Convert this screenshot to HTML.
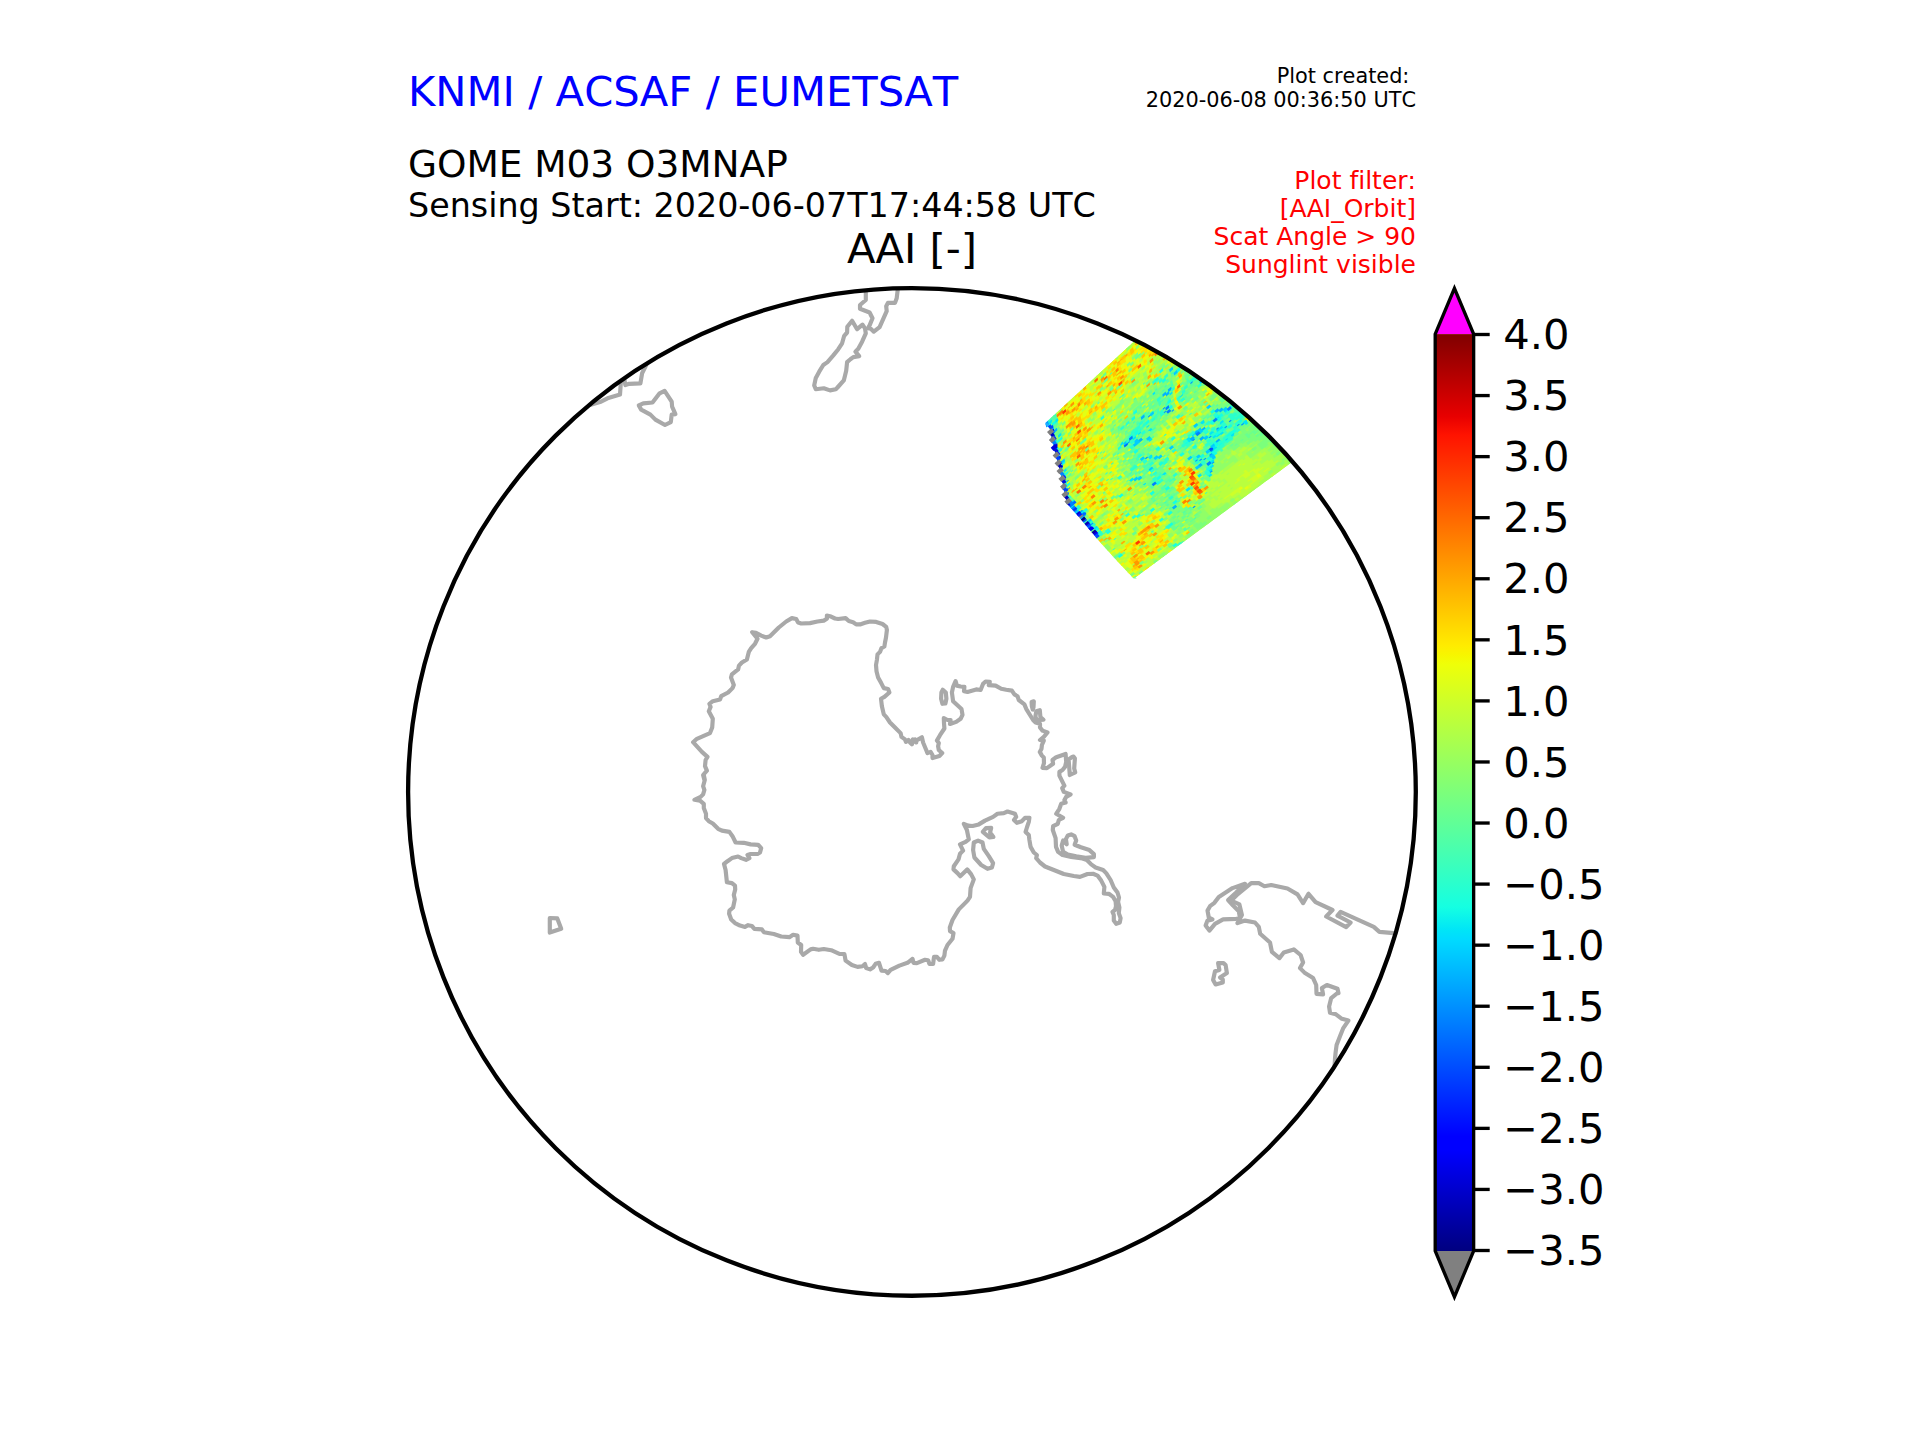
<!DOCTYPE html>
<html lang="en"><head><meta charset="utf-8"><title>AAI plot</title>
<style>
html,body{margin:0;padding:0;background:#fff;}
body{width:1920px;height:1440px;overflow:hidden;}
svg{display:block;}
text{font-family:"DejaVu Sans","Liberation Sans",sans-serif;font-kerning:none;font-variant-ligatures:none;}
</style></head><body>
<svg width="1920" height="1440" viewBox="0 0 1920 1440">
<defs>
<linearGradient id="jet" x1="0" y1="0" x2="0" y2="1"><stop offset="0.0000" stop-color="#800000"/><stop offset="0.0900" stop-color="#e80000"/><stop offset="0.1100" stop-color="#ff1300"/><stop offset="0.3400" stop-color="#ffec00"/><stop offset="0.3500" stop-color="#f7f600"/><stop offset="0.3600" stop-color="#efff08"/><stop offset="0.6250" stop-color="#15ffe2"/><stop offset="0.6500" stop-color="#00e5f7"/><stop offset="0.6600" stop-color="#00dbff"/><stop offset="0.8750" stop-color="#0000ff"/><stop offset="0.8900" stop-color="#0000ff"/><stop offset="1.0000" stop-color="#000080"/></linearGradient>
<clipPath id="disc"><circle cx="911.95" cy="791.9" r="503.85"/></clipPath>
</defs>
<rect width="1920" height="1440" fill="#fff"/>
<g clip-path="url(#disc)">
<g>
<path fill="#a6ff52" d="M1051.0 417.9L1233.7 249.8L1339.8 426.7L1133.7 578.6L1136.7 578.6L1127.0 568.3L1117.3 557.9L1107.7 547.3L1098.3 536.7L1089.2 525.8L1080.0 515.0L1070.5 504.4L1064.3 492.3L1061.6 478.3L1058.2 464.6L1054.7 450.8L1051.4 437.0L1048.3 423.1Z"/>
<path fill="#0099ff" d="M1045.3 423.1l3.3-3.0l0.6 2.5l-3.3 3.0zM1045.7 424.9l3.3-3.0l0.6 2.5l-3.3 3.0zM1060.1 471.0l3.3-2.9l0.6 2.5l-3.4 2.9zM1186.3 369.1l3.4-2.9l0.7 2.7l-3.4 2.9zM1065.7 481.2l3.4-2.9l0.5 2.6l-3.4 2.9zM1147.2 416.3l3.4-2.9l0.6 2.7l-3.4 2.9zM1189.5 382.8l3.4-2.9l0.6 2.7l-3.4 2.9zM1067.0 488.5l3.4-2.9l0.5 2.6l-3.4 2.9zM1162.0 408.3l3.4-2.9l0.6 2.7l-3.4 2.9zM1126.5 442.8l3.4-2.8l0.8 2.5l-3.4 2.8zM1162.9 412.2l3.4-2.8l0.9 2.6l-3.4 2.8zM1170.2 410.9l3.4-2.8l1.9 2.1l-3.4 2.8zM1073.5 511.1l3.4-2.8l1.7 1.9l-3.4 2.8zM1078.8 511.5l3.4-2.8l1.7 1.9l-3.4 2.8zM1143.9 458.2l3.4-2.8l1.8 2.0l-3.4 2.8zM1082.5 515.7l3.4-2.8l1.7 2.0l-3.4 2.8zM1191.0 440.2l3.4-2.8l1.8 2.1l-3.5 2.8zM1089.6 524.2l3.5-2.8l1.7 2.0l-3.5 2.8zM1214.8 428.9l3.5-2.8l1.8 2.2l-3.5 2.8zM1207.5 437.2l3.5-2.8l1.8 2.2l-3.5 2.8zM1227.5 421.3l3.5-2.8l1.8 2.2l-3.5 2.8zM1223.1 427.4l3.5-2.8l1.8 2.2l-3.5 2.7zM1235.6 425.3l3.5-2.7l1.8 2.2l-3.5 2.7zM1193.9 460.8l3.5-2.7l1.8 2.1l-3.5 2.7zM1239.8 424.6l3.5-2.7l1.8 2.2l-3.5 2.7zM1198.0 460.1l3.5-2.7l1.8 2.1l-3.5 2.7zM1209.5 451.0l3.5-2.7l1.9 2.1l-3.5 2.7zM1202.2 459.3l3.5-2.7l1.9 2.1l-3.5 2.7zM1207.9 454.8l3.5-2.7l1.9 2.1l-3.5 2.7zM1210.4 463.0l3.5-2.7l1.9 2.1l-3.5 2.7zM1208.6 471.9l3.5-2.7l1.9 2.1l-3.5 2.7zM1191.4 507.3l3.5-2.7l1.9 2.0l-3.5 2.7z"/>
<path fill="#3effb9" d="M1048.0 420.6l3.3-3.0l0.6 2.5l-3.3 3.0zM1053.4 415.7l3.3-3.0l0.6 2.5l-3.3 3.0zM1048.8 424.2l3.3-3.0l0.6 2.5l-3.3 3.0zM1054.2 419.3l3.3-3.0l0.6 2.5l-3.3 3.0zM1100.1 377.3l3.3-3.0l0.6 2.6l-3.3 3.0zM1137.6 354.7l3.3-3.0l0.7 2.7l-3.3 3.0zM1057.9 448.8l3.3-2.9l0.6 2.5l-3.3 2.9zM1121.4 394.9l3.3-2.9l0.7 2.6l-3.3 2.9zM1111.9 410.1l3.3-2.9l0.7 2.6l-3.3 2.9zM1132.7 398.9l3.3-2.9l0.7 2.6l-3.3 2.9zM1100.6 431.4l3.3-2.9l0.7 2.6l-3.3 2.9zM1170.2 373.4l3.3-2.9l0.8 2.7l-3.3 2.9zM1154.2 389.6l3.3-2.9l0.8 2.7l-3.4 2.9zM1165.2 380.1l3.3-2.9l0.8 2.7l-3.4 2.9zM1163.6 386.3l3.4-2.9l0.8 2.7l-3.4 2.9zM1183.0 369.5l3.4-2.9l0.8 2.7l-3.4 2.9zM1185.7 367.2l3.4-2.9l0.8 2.7l-3.4 2.9zM1161.4 390.5l3.4-2.9l0.7 2.7l-3.4 2.9zM1183.5 371.5l3.4-2.9l0.7 2.7l-3.4 2.9zM1170.2 385.3l3.4-2.9l0.6 2.7l-3.4 2.9zM1132.1 422.4l3.4-2.9l0.6 2.7l-3.4 2.9zM1143.2 412.9l3.4-2.9l0.6 2.7l-3.4 2.9zM1157.1 401.1l3.4-2.9l0.6 2.7l-3.4 2.9zM1187.7 374.9l3.4-2.9l0.6 2.7l-3.4 2.9zM1146.4 412.5l3.4-2.9l0.6 2.7l-3.4 2.9zM1157.6 403.0l3.4-2.9l0.6 2.7l-3.4 2.9zM1160.3 400.6l3.4-2.9l0.6 2.7l-3.4 2.9zM1135.7 423.9l3.4-2.9l0.6 2.7l-3.4 2.9zM1149.6 412.0l3.4-2.9l0.6 2.7l-3.4 2.9zM1158.0 404.9l3.4-2.9l0.6 2.7l-3.4 2.9zM1185.8 381.2l3.4-2.9l0.6 2.7l-3.4 2.9zM1130.5 430.5l3.4-2.9l0.6 2.7l-3.4 2.9zM1141.7 421.0l3.4-2.9l0.6 2.7l-3.4 2.9zM1152.8 411.6l3.4-2.9l0.6 2.7l-3.4 2.9zM1166.8 399.7l3.4-2.9l0.6 2.7l-3.4 2.9zM1150.5 415.8l3.4-2.9l0.6 2.7l-3.4 2.9zM1156.0 411.1l3.4-2.9l0.6 2.7l-3.4 2.9zM1164.4 404.0l3.4-2.9l0.6 2.7l-3.4 2.9zM1192.3 380.4l3.4-2.9l0.6 2.7l-3.4 2.9zM1200.7 373.3l3.4-2.9l0.7 2.8l-3.4 2.9zM1125.7 439.0l3.4-2.9l0.6 2.6l-3.4 2.9zM1131.3 434.3l3.4-2.9l0.6 2.7l-3.4 2.9zM1136.9 429.5l3.4-2.9l0.6 2.7l-3.4 2.9zM1139.7 427.2l3.4-2.9l0.6 2.7l-3.4 2.9zM1153.7 415.4l3.4-2.9l0.6 2.7l-3.4 2.9zM1156.5 413.0l3.4-2.9l0.6 2.7l-3.4 2.9zM1159.2 410.7l3.4-2.9l0.6 2.7l-3.4 2.9zM1164.8 405.9l3.4-2.9l0.6 2.7l-3.4 2.9zM1201.2 375.3l3.4-2.9l0.7 2.8l-3.4 2.9zM1140.1 429.1l3.4-2.9l0.6 2.7l-3.4 2.8zM1154.1 417.3l3.4-2.9l0.6 2.7l-3.4 2.8zM1198.8 379.6l3.4-2.9l0.6 2.8l-3.4 2.8zM1129.3 440.4l3.4-2.8l0.8 2.5l-3.4 2.8zM1176.9 400.4l3.4-2.8l0.9 2.6l-3.4 2.8zM1204.9 376.9l3.4-2.8l0.9 2.6l-3.4 2.8zM1115.7 454.0l3.4-2.8l1.7 2.1l-3.4 2.8zM1135.3 437.6l3.4-2.8l1.7 2.1l-3.4 2.8zM1128.1 446.1l3.4-2.8l1.8 2.0l-3.4 2.8zM1139.3 436.7l3.4-2.8l1.8 2.0l-3.4 2.8zM1109.7 464.0l3.4-2.8l1.8 2.0l-3.4 2.8zM1149.0 431.2l3.4-2.8l1.8 2.1l-3.4 2.8zM1151.9 428.8l3.4-2.8l1.8 2.1l-3.4 2.8zM1209.4 383.4l3.4-2.8l1.9 2.1l-3.4 2.8zM1103.9 473.8l3.4-2.8l1.8 2.0l-3.4 2.8zM1129.2 452.8l3.4-2.8l1.8 2.0l-3.4 2.8zM1108.0 472.9l3.4-2.8l1.8 2.0l-3.4 2.8zM1136.1 449.6l3.4-2.8l1.8 2.0l-3.4 2.8zM1150.2 437.9l3.4-2.8l1.8 2.0l-3.4 2.8zM1179.6 416.0l3.4-2.8l1.9 2.1l-3.4 2.8zM1109.0 479.5l3.4-2.8l1.8 2.0l-3.4 2.8zM1134.3 458.5l3.4-2.8l1.8 2.0l-3.4 2.8zM1162.6 435.3l3.4-2.8l1.8 2.1l-3.4 2.8zM1135.6 460.0l3.4-2.8l1.8 2.0l-3.4 2.8zM1131.3 466.1l3.4-2.8l1.8 2.0l-3.4 2.8zM1138.2 462.9l3.4-2.8l1.8 2.0l-3.4 2.8zM1141.1 460.5l3.4-2.8l1.8 2.0l-3.4 2.8zM1128.2 473.5l3.4-2.8l1.8 2.0l-3.4 2.8zM1156.5 450.4l3.4-2.8l1.8 2.1l-3.4 2.8zM1133.5 474.1l3.4-2.8l1.7 2.1l-3.4 2.8zM1142.0 467.2l3.4-2.8l1.7 2.1l-3.4 2.8zM1144.9 464.9l3.4-2.8l1.7 2.1l-3.4 2.8zM1137.6 473.3l3.4-2.8l1.7 2.1l-3.4 2.8zM1140.4 471.0l3.4-2.8l1.7 2.1l-3.4 2.8zM1154.6 459.5l3.4-2.8l1.8 2.1l-3.4 2.8zM1208.6 415.7l3.4-2.8l1.8 2.2l-3.4 2.8zM1136.0 477.1l3.4-2.8l1.7 2.1l-3.4 2.8zM1147.4 467.9l3.4-2.8l1.7 2.1l-3.4 2.8zM1161.6 456.4l3.4-2.8l1.8 2.1l-3.4 2.8zM1083.2 522.2l3.4-2.8l1.7 2.0l-3.4 2.8zM1145.8 471.7l3.4-2.8l1.7 2.1l-3.4 2.8zM1202.7 425.7l3.4-2.8l1.8 2.2l-3.4 2.8zM1208.3 421.1l3.4-2.8l1.8 2.2l-3.4 2.8zM1231.1 402.7l3.4-2.8l1.8 2.2l-3.4 2.8zM1161.2 461.7l3.4-2.8l1.8 2.1l-3.4 2.8zM1178.3 447.9l3.4-2.8l1.8 2.1l-3.4 2.8zM1232.4 404.3l3.4-2.8l1.8 2.2l-3.4 2.8zM1148.2 474.6l3.4-2.8l1.7 2.1l-3.5 2.8zM1153.9 470.1l3.4-2.8l1.7 2.1l-3.5 2.8zM1165.3 460.9l3.4-2.8l1.8 2.1l-3.5 2.8zM1193.8 438.0l3.4-2.8l1.8 2.2l-3.5 2.8zM1210.9 424.2l3.4-2.8l1.8 2.2l-3.5 2.8zM1219.5 417.3l3.4-2.8l1.8 2.2l-3.5 2.8zM1222.3 415.0l3.4-2.8l1.8 2.2l-3.5 2.8zM1228.0 410.4l3.4-2.8l1.8 2.2l-3.5 2.8zM1149.5 476.1l3.5-2.8l1.7 2.1l-3.5 2.8zM1183.7 448.6l3.5-2.8l1.8 2.1l-3.5 2.8zM1186.6 446.4l3.5-2.8l1.8 2.1l-3.5 2.8zM1189.4 444.1l3.5-2.8l1.8 2.1l-3.5 2.8zM1202.1 436.5l3.5-2.8l1.8 2.2l-3.5 2.8zM1207.8 431.9l3.5-2.8l1.8 2.2l-3.5 2.8zM1216.4 425.0l3.5-2.8l1.8 2.2l-3.5 2.8zM1224.9 418.2l3.5-2.8l1.8 2.2l-3.5 2.8zM1230.6 413.6l3.5-2.8l1.8 2.2l-3.5 2.8zM1236.4 409.0l3.5-2.8l1.8 2.2l-3.5 2.8zM1157.7 474.5l3.5-2.8l1.7 2.1l-3.5 2.8zM1206.2 435.7l3.5-2.8l1.8 2.2l-3.5 2.8zM1234.8 412.9l3.5-2.8l1.8 2.2l-3.5 2.8zM1240.5 408.3l3.5-2.8l1.8 2.2l-3.5 2.8zM1153.2 480.6l3.5-2.8l1.7 2.1l-3.5 2.8zM1158.9 476.0l3.5-2.8l1.7 2.1l-3.5 2.8zM1213.2 432.7l3.5-2.8l1.8 2.2l-3.5 2.8zM1233.3 416.7l3.5-2.8l1.8 2.2l-3.5 2.8zM1236.1 414.4l3.5-2.8l1.8 2.2l-3.5 2.8zM1154.4 482.1l3.5-2.8l1.7 2.1l-3.5 2.7zM1228.8 422.9l3.5-2.8l1.8 2.2l-3.5 2.7zM1243.2 411.5l3.5-2.8l1.8 2.2l-3.5 2.7zM1190.1 456.3l3.5-2.8l1.8 2.1l-3.5 2.7zM1207.2 442.6l3.5-2.8l1.8 2.2l-3.5 2.7zM1210.1 440.3l3.5-2.8l1.8 2.2l-3.5 2.7zM1213.0 438.1l3.5-2.8l1.8 2.2l-3.5 2.7zM1221.6 431.2l3.5-2.8l1.8 2.2l-3.5 2.7zM1224.4 429.0l3.5-2.8l1.8 2.2l-3.5 2.7zM1230.2 424.4l3.5-2.8l1.8 2.2l-3.5 2.7zM1244.5 413.0l3.5-2.8l1.8 2.2l-3.5 2.7zM1191.3 457.8l3.5-2.7l1.8 2.1l-3.5 2.7zM1211.4 441.9l3.5-2.7l1.8 2.2l-3.5 2.7zM1222.9 432.8l3.5-2.7l1.8 2.2l-3.5 2.7zM1248.7 412.4l3.5-2.7l1.8 2.2l-3.5 2.7zM1204.1 450.2l3.5-2.7l1.8 2.2l-3.5 2.7zM1238.5 423.0l3.5-2.7l1.8 2.2l-3.5 2.7zM1099.1 535.6l3.5-2.7l1.7 2.0l-3.5 2.7zM1102.0 533.3l3.5-2.7l1.7 2.0l-3.5 2.7zM1162.3 485.7l3.5-2.7l1.7 2.1l-3.5 2.7zM1168.0 481.2l3.5-2.7l1.8 2.1l-3.5 2.7zM1170.9 478.9l3.5-2.7l1.8 2.1l-3.5 2.7zM1219.7 440.4l3.5-2.7l1.8 2.2l-3.5 2.7zM1234.1 429.1l3.5-2.7l1.8 2.2l-3.5 2.7zM1203.7 455.6l3.5-2.7l1.8 2.1l-3.5 2.7zM1206.6 453.3l3.5-2.7l1.9 2.1l-3.5 2.7zM1215.2 446.5l3.5-2.7l1.9 2.1l-3.5 2.7zM1232.5 432.9l3.5-2.7l1.9 2.1l-3.5 2.7zM1199.3 461.6l3.5-2.7l1.9 2.1l-3.5 2.7zM1222.3 443.5l3.5-2.7l1.9 2.1l-3.5 2.7zM1217.9 449.5l3.5-2.7l1.9 2.1l-3.5 2.7zM1220.8 447.3l3.5-2.7l1.9 2.1l-3.5 2.7zM1202.0 464.5l3.5-2.7l1.9 2.1l-3.5 2.7zM1219.2 451.0l3.5-2.7l1.9 2.1l-3.5 2.7zM1139.8 515.5l3.5-2.7l1.8 2.0l-3.5 2.7zM1211.9 459.3l3.5-2.7l1.9 2.1l-3.5 2.7zM1112.2 539.3l3.5-2.7l1.8 1.9l-3.5 2.7zM1204.6 467.5l3.5-2.7l1.9 2.1l-3.5 2.7zM1162.6 502.6l3.5-2.7l1.8 2.0l-3.5 2.7zM1203.0 471.2l3.5-2.7l1.9 2.1l-3.5 2.7zM1201.5 474.9l3.5-2.7l1.9 2.1l-3.5 2.7zM1111.4 549.3l3.5-2.7l1.7 1.9l-3.5 2.7zM1167.8 508.3l3.5-2.7l1.8 2.0l-3.5 2.7zM1176.5 501.6l3.5-2.7l1.8 2.0l-3.5 2.7zM1149.6 531.8l3.5-2.7l1.8 2.0l-3.5 2.7zM1187.1 508.1l3.5-2.7l1.9 2.0l-3.5 2.7zM1166.4 528.5l3.5-2.7l1.8 2.0l-3.5 2.7zM1192.2 518.8l3.5-2.7l1.9 2.0l-3.5 2.6zM1179.5 542.5l3.6-2.6l1.3 1.4l-3.6 2.6z"/>
<path fill="#52ffa5" d="M1050.7 418.1l3.3-3.0l0.6 2.5l-3.3 3.0zM1051.1 420.0l3.3-3.0l0.6 2.5l-3.3 3.0zM1053.8 417.5l3.3-3.0l0.6 2.5l-3.3 3.0zM1052.3 425.4l3.3-3.0l0.6 2.5l-3.3 3.0zM1055.0 422.9l3.3-3.0l0.6 2.5l-3.3 3.0zM1109.1 373.6l3.3-3.0l0.7 2.6l-3.3 3.0zM1055.4 424.7l3.3-3.0l0.6 2.5l-3.3 3.0zM1053.1 429.0l3.3-3.0l0.6 2.5l-3.3 3.0zM1056.2 428.4l3.3-3.0l0.6 2.5l-3.3 3.0zM1057.5 433.8l3.3-3.0l0.6 2.5l-3.3 3.0zM1096.5 403.2l3.3-3.0l0.7 2.6l-3.3 2.9zM1061.1 448.2l3.3-2.9l0.6 2.5l-3.3 2.9zM1118.6 397.3l3.3-2.9l0.7 2.6l-3.3 2.9zM1067.5 447.0l3.3-2.9l0.7 2.5l-3.3 2.9zM1142.1 383.6l3.3-2.9l0.8 2.6l-3.3 2.9zM1110.2 416.3l3.3-2.9l0.7 2.6l-3.3 2.9zM1158.1 379.1l3.3-2.9l0.8 2.7l-3.3 2.9zM1059.7 469.2l3.3-2.9l0.6 2.5l-3.3 2.9zM1175.7 368.6l3.3-2.9l0.8 2.7l-3.3 2.9zM1112.7 425.5l3.3-2.9l0.7 2.6l-3.4 2.9zM1165.8 382.0l3.3-2.9l0.8 2.7l-3.4 2.9zM1185.2 365.2l3.3-2.9l0.8 2.7l-3.4 2.9zM1116.5 426.8l3.4-2.9l0.7 2.6l-3.4 2.9zM1138.6 407.7l3.4-2.9l0.7 2.6l-3.4 2.9zM1169.1 381.5l3.4-2.9l0.8 2.7l-3.4 2.9zM1117.0 428.7l3.4-2.9l0.6 2.6l-3.4 2.9zM1169.7 383.4l3.4-2.9l0.7 2.7l-3.4 2.9zM1070.2 471.0l3.4-2.9l0.5 2.6l-3.4 2.9zM1123.0 425.8l3.4-2.9l0.6 2.6l-3.4 2.9zM1136.8 413.9l3.4-2.9l0.6 2.7l-3.4 2.9zM1145.2 406.7l3.4-2.9l0.6 2.7l-3.4 2.9zM1186.8 371.0l3.4-2.9l0.6 2.7l-3.4 2.9zM1189.6 368.6l3.4-2.9l0.6 2.7l-3.4 2.9zM1159.5 396.8l3.4-2.9l0.6 2.7l-3.4 2.9zM1165.0 392.0l3.4-2.9l0.6 2.7l-3.4 2.9zM1190.0 370.6l3.4-2.9l0.6 2.7l-3.4 2.9zM1095.9 453.3l3.4-2.9l0.5 2.6l-3.4 2.9zM1137.7 417.7l3.4-2.9l0.6 2.7l-3.4 2.9zM1140.4 415.3l3.4-2.9l0.6 2.7l-3.4 2.9zM1151.6 405.8l3.4-2.9l0.6 2.7l-3.4 2.9zM1099.1 452.8l3.4-2.9l0.5 2.6l-3.4 2.9zM1124.1 431.4l3.4-2.9l0.6 2.6l-3.4 2.9zM1135.3 422.0l3.4-2.9l0.6 2.7l-3.4 2.9zM1143.6 414.8l3.4-2.9l0.6 2.7l-3.4 2.9zM1163.1 398.2l3.4-2.9l0.6 2.7l-3.4 2.9zM1185.4 379.3l3.4-2.9l0.6 2.7l-3.4 2.9zM1102.2 452.3l3.4-2.9l0.5 2.6l-3.4 2.9zM1138.5 421.5l3.4-2.9l0.6 2.7l-3.4 2.9zM1141.3 419.1l3.4-2.9l0.6 2.7l-3.4 2.9zM1144.0 416.7l3.4-2.9l0.6 2.7l-3.4 2.9zM1146.8 414.4l3.4-2.9l0.6 2.7l-3.4 2.9zM1166.3 397.8l3.4-2.9l0.6 2.7l-3.4 2.9zM1194.2 374.1l3.4-2.9l0.6 2.8l-3.4 2.9zM1133.3 428.1l3.4-2.9l0.6 2.7l-3.4 2.9zM1136.1 425.8l3.4-2.9l0.6 2.7l-3.4 2.9zM1144.5 418.7l3.4-2.9l0.6 2.7l-3.4 2.9zM1155.6 409.2l3.4-2.9l0.6 2.7l-3.4 2.9zM1183.5 385.5l3.4-2.9l0.6 2.7l-3.4 2.9zM1186.3 383.2l3.4-2.9l0.6 2.7l-3.4 2.9zM1100.2 458.4l3.4-2.9l0.5 2.6l-3.4 2.9zM1122.5 439.5l3.4-2.9l0.6 2.6l-3.4 2.9zM1128.1 434.7l3.4-2.9l0.6 2.6l-3.4 2.9zM1142.1 422.9l3.4-2.9l0.6 2.7l-3.4 2.9zM1181.2 389.8l3.4-2.9l0.6 2.7l-3.4 2.9zM1148.1 420.1l3.4-2.9l0.6 2.7l-3.4 2.9zM1150.9 417.7l3.4-2.9l0.6 2.7l-3.4 2.9zM1190.0 384.7l3.4-2.9l0.6 2.7l-3.4 2.9zM1142.9 426.7l3.4-2.9l0.6 2.7l-3.4 2.8zM1148.5 422.0l3.4-2.9l0.6 2.7l-3.4 2.8zM1156.9 414.9l3.4-2.9l0.6 2.7l-3.4 2.8zM1168.1 405.5l3.4-2.9l0.6 2.7l-3.4 2.8zM1182.0 393.7l3.4-2.9l0.6 2.7l-3.4 2.8zM1154.5 419.2l3.4-2.8l0.9 2.6l-3.4 2.8zM1185.3 393.3l3.4-2.8l0.9 2.6l-3.4 2.8zM1193.7 386.3l3.4-2.8l0.9 2.6l-3.4 2.8zM1065.3 496.4l3.4-2.8l1.6 2.0l-3.4 2.8zM1124.1 447.0l3.4-2.8l1.7 2.1l-3.4 2.8zM1132.5 439.9l3.4-2.8l1.7 2.1l-3.4 2.8zM1157.7 418.8l3.4-2.8l1.8 2.1l-3.4 2.8zM1177.3 402.3l3.4-2.8l1.8 2.1l-3.4 2.8zM1182.9 397.6l3.4-2.8l1.8 2.2l-3.4 2.8zM1205.4 378.8l3.4-2.8l1.8 2.2l-3.4 2.8zM1130.9 443.8l3.4-2.8l1.8 2.0l-3.4 2.8zM1144.9 432.0l3.4-2.8l1.8 2.0l-3.4 2.8zM1164.6 415.6l3.4-2.8l1.9 2.1l-3.4 2.8zM1192.6 392.1l3.4-2.8l1.9 2.1l-3.4 2.8zM1201.0 385.1l3.4-2.8l1.9 2.1l-3.4 2.8zM1203.8 382.7l3.4-2.8l1.9 2.1l-3.4 2.8zM1115.4 459.3l3.4-2.8l1.8 2.0l-3.4 2.8zM1188.3 398.3l3.4-2.8l1.9 2.1l-3.4 2.8zM1127.9 451.4l3.4-2.8l1.8 2.0l-3.4 2.8zM1130.7 449.0l3.4-2.8l1.8 2.0l-3.4 2.8zM1136.3 444.3l3.4-2.8l1.8 2.0l-3.4 2.8zM1132.0 450.5l3.4-2.8l1.8 2.0l-3.4 2.8zM1140.4 443.4l3.4-2.8l1.8 2.0l-3.4 2.8zM1143.2 441.1l3.4-2.8l1.8 2.0l-3.4 2.8zM1126.1 460.3l3.4-2.8l1.8 2.0l-3.4 2.8zM1131.8 455.7l3.4-2.8l1.8 2.0l-3.4 2.8zM1104.9 480.4l3.4-2.8l1.8 2.0l-3.4 2.8zM1130.2 459.4l3.4-2.8l1.8 2.0l-3.4 2.8zM1135.9 454.8l3.4-2.8l1.8 2.0l-3.4 2.8zM1128.7 463.2l3.4-2.8l1.8 2.0l-3.4 2.8zM1140.0 453.9l3.4-2.8l1.8 2.0l-3.4 2.8zM1145.6 449.2l3.4-2.8l1.8 2.0l-3.4 2.8zM1188.0 414.3l3.4-2.8l1.9 2.1l-3.4 2.8zM1132.8 462.3l3.4-2.8l1.8 2.0l-3.4 2.8zM1141.3 455.3l3.4-2.8l1.8 2.0l-3.4 2.8zM1128.5 468.4l3.4-2.8l1.8 2.0l-3.4 2.8zM1145.4 454.5l3.4-2.8l1.8 2.0l-3.4 2.8zM1101.4 493.0l3.4-2.8l1.8 2.0l-3.4 2.8zM1146.7 455.9l3.4-2.8l1.8 2.0l-3.4 2.8zM1136.7 466.6l3.4-2.8l1.8 2.0l-3.4 2.8zM1159.3 448.1l3.4-2.8l1.8 2.1l-3.4 2.8zM1140.8 465.7l3.4-2.8l1.7 2.1l-3.4 2.8zM1146.5 461.1l3.4-2.8l1.7 2.1l-3.4 2.8zM1149.3 458.8l3.4-2.8l1.8 2.1l-3.4 2.8zM1214.5 405.6l3.4-2.8l1.8 2.2l-3.4 2.8zM1125.0 481.1l3.4-2.8l1.7 2.1l-3.4 2.8zM1136.4 471.8l3.4-2.8l1.7 2.1l-3.4 2.8zM1147.7 462.6l3.4-2.8l1.7 2.1l-3.4 2.8zM1150.6 460.3l3.4-2.8l1.8 2.1l-3.4 2.8zM1181.8 434.9l3.4-2.8l1.8 2.1l-3.4 2.8zM1195.9 423.4l3.4-2.8l1.8 2.2l-3.4 2.8zM1201.6 418.8l3.4-2.8l1.8 2.2l-3.4 2.8zM1143.3 468.7l3.4-2.8l1.7 2.1l-3.4 2.8zM1146.1 466.4l3.4-2.8l1.7 2.1l-3.4 2.8zM1197.2 424.9l3.4-2.8l1.8 2.2l-3.4 2.8zM1205.8 418.0l3.4-2.8l1.8 2.2l-3.4 2.8zM1144.5 470.2l3.4-2.8l1.7 2.1l-3.4 2.8zM1181.5 440.3l3.4-2.8l1.8 2.1l-3.4 2.8zM1192.8 431.1l3.4-2.8l1.8 2.2l-3.4 2.8zM1201.4 424.2l3.4-2.8l1.8 2.2l-3.4 2.8zM1215.6 412.6l3.4-2.8l1.8 2.2l-3.4 2.8zM1221.3 408.0l3.4-2.8l1.8 2.2l-3.4 2.8zM1086.0 519.9l3.4-2.8l1.7 2.0l-3.4 2.8zM1140.1 476.3l3.4-2.8l1.7 2.1l-3.4 2.8zM1142.9 474.0l3.4-2.8l1.7 2.1l-3.4 2.8zM1157.1 462.5l3.4-2.8l1.8 2.1l-3.4 2.8zM1165.7 455.6l3.4-2.8l1.8 2.1l-3.4 2.8zM1179.9 444.1l3.4-2.8l1.8 2.1l-3.4 2.8zM1216.9 414.2l3.4-2.8l1.8 2.2l-3.4 2.8zM1219.7 411.9l3.4-2.8l1.8 2.2l-3.4 2.8zM1228.3 405.0l3.4-2.8l1.8 2.2l-3.4 2.8zM1152.7 468.6l3.4-2.8l1.7 2.1l-3.4 2.8zM1206.8 424.9l3.4-2.8l1.8 2.2l-3.4 2.8zM1221.0 413.5l3.4-2.8l1.8 2.2l-3.4 2.8zM1235.3 402.0l3.4-2.8l1.8 2.2l-3.4 2.8zM1156.8 467.8l3.4-2.8l1.8 2.1l-3.5 2.8zM1182.4 447.1l3.4-2.8l1.8 2.1l-3.5 2.8zM1188.1 442.5l3.4-2.8l1.8 2.1l-3.5 2.8zM1199.5 433.4l3.4-2.8l1.8 2.2l-3.5 2.8zM1236.6 403.6l3.4-2.8l1.8 2.2l-3.5 2.8zM1160.9 467.0l3.5-2.8l1.8 2.1l-3.5 2.8zM1180.9 450.9l3.5-2.8l1.8 2.1l-3.5 2.8zM1209.4 428.0l3.5-2.8l1.8 2.2l-3.5 2.8zM1217.9 421.2l3.5-2.8l1.8 2.2l-3.5 2.8zM1220.8 418.9l3.5-2.8l1.8 2.2l-3.5 2.8zM1226.5 414.3l3.5-2.8l1.8 2.2l-3.5 2.8zM1232.2 409.7l3.5-2.8l1.8 2.2l-3.5 2.8zM1235.0 407.4l3.5-2.8l1.8 2.2l-3.5 2.8zM1153.6 475.3l3.5-2.8l1.7 2.1l-3.5 2.8zM1156.4 473.0l3.5-2.8l1.7 2.1l-3.5 2.8zM1222.1 420.4l3.5-2.8l1.8 2.2l-3.5 2.8zM1233.5 411.3l3.5-2.8l1.8 2.2l-3.5 2.8zM1092.0 527.0l3.5-2.8l1.7 2.0l-3.5 2.8zM1132.0 495.1l3.5-2.8l1.7 2.1l-3.5 2.8zM1149.1 481.4l3.5-2.8l1.7 2.1l-3.5 2.8zM1154.8 476.8l3.5-2.8l1.7 2.1l-3.5 2.8zM1186.2 451.7l3.5-2.8l1.8 2.1l-3.5 2.8zM1189.1 449.4l3.5-2.8l1.8 2.1l-3.5 2.8zM1212.0 431.1l3.5-2.8l1.8 2.2l-3.5 2.8zM1217.7 426.6l3.5-2.8l1.8 2.2l-3.5 2.8zM1237.7 410.6l3.5-2.8l1.8 2.2l-3.5 2.8zM1150.3 482.9l3.5-2.8l1.7 2.1l-3.5 2.8zM1187.5 453.2l3.5-2.8l1.8 2.1l-3.5 2.8zM1193.2 448.7l3.5-2.8l1.8 2.1l-3.5 2.8zM1204.7 439.5l3.5-2.8l1.8 2.2l-3.5 2.8zM1148.7 486.6l3.5-2.8l1.7 2.1l-3.5 2.7zM1163.0 475.2l3.5-2.8l1.7 2.1l-3.5 2.7zM1208.8 438.8l3.5-2.8l1.8 2.2l-3.5 2.7zM1226.0 425.1l3.5-2.8l1.8 2.2l-3.5 2.7zM1231.7 420.6l3.5-2.8l1.8 2.2l-3.5 2.7zM1150.0 488.1l3.5-2.8l1.7 2.1l-3.5 2.7zM1201.5 447.2l3.5-2.8l1.8 2.2l-3.5 2.7zM1241.6 415.3l3.5-2.8l1.8 2.2l-3.5 2.7zM1202.8 448.7l3.5-2.7l1.8 2.2l-3.5 2.7zM1205.7 446.4l3.5-2.7l1.8 2.2l-3.5 2.7zM1240.1 419.2l3.5-2.7l1.8 2.2l-3.5 2.7zM1245.8 414.6l3.5-2.7l1.8 2.2l-3.5 2.7zM1163.9 482.0l3.5-2.7l1.7 2.1l-3.5 2.7zM1166.8 479.7l3.5-2.7l1.7 2.1l-3.5 2.7zM1201.2 452.5l3.5-2.7l1.8 2.1l-3.5 2.7zM1218.4 438.9l3.5-2.7l1.8 2.2l-3.5 2.7zM1221.3 436.6l3.5-2.7l1.8 2.2l-3.5 2.7zM1224.1 434.4l3.5-2.7l1.8 2.2l-3.5 2.7zM1227.0 432.1l3.5-2.7l1.8 2.2l-3.5 2.7zM1241.4 420.7l3.5-2.7l1.8 2.2l-3.5 2.7zM1247.1 416.2l3.5-2.7l1.8 2.2l-3.5 2.7zM1250.0 413.9l3.5-2.7l1.8 2.2l-3.5 2.7zM1159.4 488.0l3.5-2.7l1.7 2.1l-3.5 2.7zM1191.0 463.1l3.5-2.7l1.8 2.1l-3.5 2.7zM1196.7 458.6l3.5-2.7l1.8 2.1l-3.5 2.7zM1236.9 426.8l3.5-2.7l1.8 2.2l-3.5 2.7zM1149.1 498.5l3.5-2.7l1.8 2.0l-3.5 2.7zM1154.9 494.0l3.5-2.7l1.8 2.0l-3.5 2.7zM1160.6 489.5l3.5-2.7l1.8 2.0l-3.5 2.7zM1163.5 487.2l3.5-2.7l1.8 2.0l-3.5 2.7zM1172.1 480.4l3.5-2.7l1.8 2.0l-3.5 2.7zM1192.3 464.6l3.5-2.7l1.8 2.1l-3.5 2.7zM1200.9 457.8l3.5-2.7l1.8 2.1l-3.5 2.7zM1230.9 436.7l3.5-2.7l1.9 2.1l-3.5 2.7zM1151.7 501.4l3.5-2.7l1.8 2.0l-3.5 2.7zM1163.2 492.4l3.5-2.7l1.8 2.0l-3.5 2.7zM1169.0 487.9l3.5-2.7l1.8 2.0l-3.5 2.7zM1203.5 460.8l3.5-2.7l1.9 2.1l-3.5 2.7zM1215.0 451.8l3.5-2.7l1.9 2.1l-3.5 2.7zM1223.7 445.0l3.5-2.7l1.9 2.1l-3.5 2.7zM1229.4 440.5l3.5-2.7l1.9 2.1l-3.5 2.7zM1167.4 491.6l3.5-2.7l1.8 2.0l-3.5 2.7zM1256.7 421.7l3.5-2.7l1.9 2.2l-3.5 2.7zM1154.3 504.2l3.5-2.7l1.8 2.0l-3.5 2.7zM1162.9 497.5l3.5-2.7l1.8 2.0l-3.5 2.7zM1165.8 495.2l3.5-2.7l1.8 2.0l-3.5 2.7zM1148.2 513.8l3.5-2.7l1.8 2.0l-3.5 2.7zM1171.3 495.9l3.5-2.7l1.8 2.0l-3.5 2.7zM1158.1 508.5l3.5-2.7l1.8 2.0l-3.5 2.7zM1165.2 505.5l3.5-2.7l1.8 2.0l-3.5 2.7zM1173.9 498.8l3.5-2.7l1.8 2.0l-3.5 2.7zM1188.3 487.6l3.5-2.7l1.8 2.0l-3.5 2.7zM1163.6 509.1l3.5-2.7l1.8 2.0l-3.5 2.7zM1178.1 498.0l3.5-2.7l1.8 2.0l-3.5 2.7zM1189.6 489.0l3.5-2.7l1.8 2.0l-3.5 2.7zM1264.9 431.0l3.5-2.7l1.9 2.2l-3.5 2.7zM1186.5 496.4l3.5-2.7l1.8 2.0l-3.5 2.7zM1206.8 480.8l3.5-2.7l1.9 2.1l-3.5 2.7zM1176.1 506.7l3.5-2.7l1.8 2.0l-3.5 2.7zM1203.3 493.3l3.5-2.7l1.9 2.0l-3.5 2.7zM1175.5 516.9l3.5-2.7l1.8 2.0l-3.5 2.7zM1181.3 512.5l3.5-2.7l1.9 2.0l-3.5 2.7zM1193.0 503.6l3.5-2.7l1.9 2.0l-3.5 2.7zM1162.2 529.4l3.5-2.7l1.8 2.0l-3.5 2.7zM1171.0 522.7l3.5-2.7l1.8 2.0l-3.5 2.7zM1143.1 546.2l3.5-2.7l1.8 1.9l-3.5 2.7zM1172.3 524.1l3.5-2.7l1.8 2.0l-3.5 2.7zM1185.3 516.7l3.5-2.7l1.9 2.0l-3.5 2.7zM1174.9 526.9l3.5-2.7l1.8 2.0l-3.5 2.7zM1183.7 520.3l3.5-2.7l1.8 2.0l-3.5 2.7zM1181.8 528.9l3.5-2.6l1.8 2.0l-3.5 2.6zM1183.1 530.3l3.5-2.6l1.8 2.0l-3.6 2.6zM1186.0 528.2l3.5-2.6l1.8 2.0l-3.6 2.6zM1132.4 577.3l3.6-2.6l1.3 1.3l-3.6 2.6z"/>
<path fill="#ceff29" d="M1056.1 413.2l3.3-3.0l0.6 2.5l-3.3 3.0zM1066.8 403.3l3.3-3.0l0.6 2.6l-3.3 3.0zM1069.5 400.8l3.3-3.0l0.6 2.6l-3.3 3.0zM1072.2 398.3l3.3-3.0l0.6 2.6l-3.3 3.0zM1080.3 390.9l3.3-3.0l0.6 2.6l-3.3 3.0zM1096.4 376.1l3.3-3.0l0.6 2.6l-3.3 3.0zM1101.8 371.1l3.3-3.0l0.6 2.6l-3.3 3.0zM1104.5 368.6l3.3-3.0l0.6 2.6l-3.3 3.0zM1134.1 341.4l3.3-3.0l0.7 2.7l-3.3 3.0zM1061.9 410.1l3.3-3.0l0.6 2.6l-3.3 3.0zM1080.7 392.8l3.3-3.0l0.6 2.6l-3.3 3.0zM1086.1 387.8l3.3-3.0l0.6 2.6l-3.3 3.0zM1099.6 375.5l3.3-3.0l0.6 2.6l-3.3 3.0zM1102.3 373.0l3.3-3.0l0.6 2.6l-3.3 3.0zM1105.0 370.5l3.3-3.0l0.6 2.6l-3.3 3.0zM1129.2 348.3l3.3-3.0l0.7 2.7l-3.3 3.0zM1056.9 416.8l3.3-3.0l0.6 2.5l-3.3 3.0zM1078.5 397.1l3.3-3.0l0.6 2.6l-3.3 3.0zM1083.9 392.1l3.3-3.0l0.6 2.6l-3.3 3.0zM1097.4 379.8l3.3-3.0l0.6 2.6l-3.3 3.0zM1140.5 340.3l3.3-3.0l0.7 2.7l-3.3 3.0zM1070.8 406.3l3.3-3.0l0.6 2.6l-3.3 3.0zM1092.4 386.6l3.3-3.0l0.6 2.6l-3.3 3.0zM1114.0 366.8l3.3-3.0l0.7 2.6l-3.3 3.0zM1090.1 390.9l3.3-3.0l0.6 2.6l-3.3 3.0zM1098.3 383.5l3.3-3.0l0.6 2.6l-3.3 3.0zM1144.2 341.6l3.3-3.0l0.7 2.7l-3.3 3.0zM1060.8 419.8l3.3-3.0l0.6 2.5l-3.3 3.0zM1090.6 392.7l3.3-3.0l0.6 2.6l-3.3 3.0zM1123.1 363.2l3.3-3.0l0.7 2.6l-3.3 3.0zM1128.5 358.3l3.3-3.0l0.7 2.7l-3.3 3.0zM1136.6 350.9l3.3-3.0l0.7 2.7l-3.3 3.0zM1088.3 397.0l3.3-3.0l0.6 2.6l-3.3 3.0zM1096.5 389.7l3.3-3.0l0.6 2.6l-3.3 3.0zM1123.5 365.1l3.3-3.0l0.7 2.6l-3.3 3.0zM1059.0 425.9l3.3-3.0l0.6 2.5l-3.3 3.0zM1067.1 418.5l3.3-3.0l0.6 2.6l-3.3 3.0zM1077.9 408.7l3.3-3.0l0.6 2.6l-3.3 3.0zM1059.4 427.7l3.3-3.0l0.6 2.5l-3.3 3.0zM1075.6 413.0l3.3-3.0l0.6 2.6l-3.3 3.0zM1083.8 405.6l3.3-3.0l0.6 2.6l-3.3 3.0zM1100.1 390.9l3.3-3.0l0.6 2.6l-3.3 3.0zM1132.6 361.5l3.3-3.0l0.7 2.7l-3.3 3.0zM1062.5 427.1l3.3-3.0l0.6 2.5l-3.3 3.0zM1106.0 387.9l3.3-3.0l0.7 2.6l-3.3 3.0zM1122.2 373.2l3.3-3.0l0.7 2.6l-3.3 3.0zM1127.7 368.3l3.3-3.0l0.7 2.6l-3.3 3.0zM1133.1 363.4l3.3-3.0l0.7 2.6l-3.3 3.0zM1062.9 428.9l3.3-3.0l0.6 2.5l-3.3 3.0zM1076.5 416.7l3.3-3.0l0.7 2.6l-3.3 3.0zM1090.1 404.4l3.3-3.0l0.7 2.6l-3.3 3.0zM1098.3 397.1l3.3-3.0l0.7 2.6l-3.3 3.0zM1106.4 389.8l3.3-3.0l0.7 2.6l-3.3 3.0zM1130.9 367.7l3.3-3.0l0.7 2.6l-3.3 3.0zM1133.6 365.3l3.3-3.0l0.7 2.6l-3.3 3.0zM1087.9 408.7l3.3-3.0l0.7 2.6l-3.3 3.0zM1101.5 396.5l3.3-3.0l0.7 2.6l-3.3 3.0zM1104.2 394.0l3.3-3.0l0.7 2.6l-3.3 3.0zM1112.4 386.7l3.3-3.0l0.7 2.6l-3.3 3.0zM1120.5 379.4l3.3-3.0l0.7 2.6l-3.3 3.0zM1102.0 398.3l3.3-3.0l0.7 2.6l-3.3 2.9zM1104.7 395.9l3.3-3.0l0.7 2.6l-3.3 2.9zM1123.8 378.8l3.3-3.0l0.7 2.6l-3.3 2.9zM1145.6 359.3l3.3-3.0l0.8 2.7l-3.3 2.9zM1061.6 436.7l3.3-2.9l0.6 2.5l-3.3 2.9zM1064.3 434.3l3.3-2.9l0.6 2.5l-3.3 2.9zM1102.5 400.2l3.3-2.9l0.7 2.6l-3.3 2.9zM1107.9 395.3l3.3-2.9l0.7 2.6l-3.3 2.9zM1137.9 368.5l3.3-2.9l0.7 2.6l-3.3 2.9zM1146.1 361.2l3.3-2.9l0.8 2.7l-3.3 2.9zM1151.5 356.3l3.3-2.9l0.8 2.7l-3.3 2.9zM1157.0 351.4l3.3-2.9l0.8 2.7l-3.3 2.9zM1127.5 380.1l3.3-2.9l0.7 2.6l-3.3 2.9zM1143.9 365.5l3.3-2.9l0.8 2.7l-3.3 2.9zM1160.3 350.9l3.3-2.9l0.8 2.7l-3.3 2.9zM1070.7 433.1l3.3-2.9l0.7 2.5l-3.3 2.9zM1108.9 399.0l3.3-2.9l0.7 2.6l-3.3 2.9zM1122.6 386.9l3.3-2.9l0.7 2.6l-3.3 2.9zM1139.0 372.3l3.3-2.9l0.7 2.6l-3.3 2.9zM1141.7 369.8l3.3-2.9l0.7 2.7l-3.3 2.9zM1147.2 365.0l3.3-2.9l0.8 2.7l-3.3 2.9zM1163.6 350.4l3.3-2.9l0.8 2.7l-3.3 2.9zM1057.5 447.0l3.3-2.9l0.6 2.5l-3.3 2.9zM1090.3 417.9l3.3-2.9l0.7 2.6l-3.3 2.9zM1095.7 413.0l3.3-2.9l0.7 2.6l-3.3 2.9zM1106.7 403.3l3.3-2.9l0.7 2.6l-3.3 2.9zM1114.9 396.0l3.3-2.9l0.7 2.6l-3.3 2.9zM1117.6 393.6l3.3-2.9l0.7 2.6l-3.3 2.9zM1123.1 388.7l3.3-2.9l0.7 2.6l-3.3 2.9zM1128.6 383.9l3.3-2.9l0.7 2.6l-3.3 2.9zM1142.2 371.7l3.3-2.9l0.7 2.7l-3.3 2.9zM1155.9 359.6l3.3-2.9l0.8 2.7l-3.3 2.9zM1161.4 354.7l3.3-2.9l0.8 2.7l-3.3 2.9zM1063.4 444.0l3.3-2.9l0.6 2.5l-3.3 2.9zM1079.8 429.4l3.3-2.9l0.7 2.6l-3.3 2.9zM1088.0 422.1l3.3-2.9l0.7 2.6l-3.3 2.9zM1096.2 414.9l3.3-2.9l0.7 2.6l-3.3 2.9zM1115.4 397.9l3.3-2.9l0.7 2.6l-3.3 2.9zM1118.1 395.5l3.3-2.9l0.7 2.6l-3.3 2.9zM1137.3 378.5l3.3-2.9l0.7 2.6l-3.3 2.9zM1159.2 359.1l3.3-2.9l0.8 2.7l-3.3 2.9zM1066.6 443.3l3.3-2.9l0.6 2.5l-3.3 2.9zM1091.2 421.5l3.3-2.9l0.7 2.6l-3.3 2.9zM1104.9 409.4l3.3-2.9l0.7 2.6l-3.3 2.9zM1107.7 407.0l3.3-2.9l0.7 2.6l-3.3 2.9zM1110.4 404.6l3.3-2.9l0.7 2.6l-3.3 2.9zM1115.9 399.7l3.3-2.9l0.7 2.6l-3.3 2.9zM1126.8 390.1l3.3-2.9l0.7 2.6l-3.3 2.9zM1140.5 377.9l3.3-2.9l0.7 2.6l-3.3 2.9zM1146.0 373.1l3.3-2.9l0.8 2.7l-3.3 2.9zM1154.2 365.8l3.3-2.9l0.8 2.7l-3.3 2.9zM1165.2 356.1l3.3-2.9l0.8 2.7l-3.3 2.9zM1061.5 450.0l3.3-2.9l0.6 2.5l-3.3 2.9zM1069.8 442.7l3.3-2.9l0.6 2.5l-3.3 2.9zM1086.2 428.2l3.3-2.9l0.7 2.6l-3.3 2.9zM1132.8 387.1l3.3-2.9l0.7 2.6l-3.3 2.9zM1135.6 384.7l3.3-2.9l0.7 2.6l-3.3 2.9zM1146.6 375.0l3.3-2.9l0.7 2.7l-3.3 2.9zM1133.4 389.0l3.3-2.9l0.7 2.6l-3.3 2.9zM1089.9 429.5l3.3-2.9l0.7 2.6l-3.3 2.9zM1092.7 427.0l3.3-2.9l0.7 2.6l-3.3 2.9zM1098.2 422.2l3.3-2.9l0.7 2.6l-3.3 2.9zM1128.4 395.7l3.3-2.9l0.7 2.6l-3.3 2.9zM1133.9 390.8l3.3-2.9l0.7 2.6l-3.3 2.9zM1144.9 381.2l3.3-2.9l0.8 2.6l-3.3 2.9zM1147.6 378.8l3.3-2.9l0.8 2.7l-3.3 2.9zM1164.1 364.3l3.3-2.9l0.8 2.7l-3.3 2.9zM1068.4 450.6l3.3-2.9l0.7 2.5l-3.3 2.9zM1109.7 414.4l3.3-2.9l0.7 2.6l-3.3 2.9zM1142.7 385.5l3.3-2.9l0.8 2.6l-3.3 2.9zM1077.1 445.2l3.3-2.9l0.7 2.5l-3.3 2.9zM1090.9 433.1l3.3-2.9l0.7 2.6l-3.3 2.9zM1101.9 423.5l3.3-2.9l0.7 2.6l-3.3 2.9zM1112.9 413.9l3.3-2.9l0.7 2.6l-3.3 2.9zM1140.5 389.8l3.3-2.9l0.8 2.6l-3.3 2.9zM1159.7 372.9l3.3-2.9l0.8 2.7l-3.3 2.9zM1074.9 449.4l3.3-2.9l0.7 2.5l-3.3 2.9zM1088.6 437.4l3.3-2.9l0.7 2.6l-3.3 2.9zM1099.7 427.7l3.3-2.9l0.7 2.6l-3.3 2.9zM1110.7 418.1l3.3-2.9l0.7 2.6l-3.3 2.9zM1118.9 410.9l3.3-2.9l0.7 2.6l-3.3 2.9zM1168.5 367.6l3.3-2.9l0.8 2.7l-3.3 2.9zM1174.0 362.8l3.3-2.9l0.8 2.7l-3.3 2.9zM1075.3 451.2l3.3-2.9l0.7 2.5l-3.3 2.9zM1105.7 424.8l3.3-2.9l0.7 2.6l-3.3 2.9zM1111.2 420.0l3.3-2.9l0.7 2.6l-3.3 2.9zM1122.2 410.4l3.3-2.9l0.7 2.6l-3.3 2.9zM1127.7 405.6l3.3-2.9l0.7 2.6l-3.3 2.9zM1130.5 403.2l3.3-2.9l0.7 2.6l-3.3 2.9zM1141.5 393.5l3.3-2.9l0.8 2.6l-3.3 2.9zM1064.8 462.6l3.3-2.9l0.6 2.5l-3.3 2.9zM1070.3 457.8l3.3-2.9l0.7 2.5l-3.3 2.9zM1103.9 430.9l3.3-2.9l0.7 2.6l-3.3 2.9zM1115.0 421.3l3.3-2.9l0.7 2.6l-3.3 2.9zM1117.7 418.9l3.3-2.9l0.7 2.6l-3.3 2.9zM1071.2 461.4l3.3-2.9l0.7 2.5l-3.4 2.9zM1123.8 415.9l3.3-2.9l0.7 2.6l-3.4 2.9zM1140.3 401.6l3.3-2.9l0.7 2.6l-3.4 2.9zM1145.9 396.8l3.3-2.9l0.8 2.6l-3.4 2.9zM1068.9 465.6l3.3-2.9l0.7 2.5l-3.4 2.9zM1071.7 463.2l3.3-2.9l0.7 2.5l-3.4 2.9zM1096.6 441.7l3.3-2.9l0.7 2.6l-3.4 2.9zM1102.1 436.9l3.3-2.9l0.7 2.6l-3.4 2.9zM1104.9 434.5l3.3-2.9l0.7 2.6l-3.4 2.9zM1072.1 465.0l3.4-2.9l0.7 2.5l-3.4 2.9zM1091.5 448.3l3.4-2.9l0.7 2.6l-3.4 2.9zM1099.8 441.1l3.4-2.9l0.7 2.6l-3.4 2.9zM1105.4 436.4l3.4-2.9l0.7 2.6l-3.4 2.9zM1108.7 435.8l3.4-2.9l0.6 2.6l-3.4 2.9zM1144.7 404.8l3.4-2.9l0.6 2.7l-3.4 2.9zM1150.3 400.1l3.4-2.9l0.6 2.7l-3.4 2.9zM1180.8 373.9l3.4-2.9l0.7 2.7l-3.4 2.9zM1075.8 466.3l3.4-2.9l0.5 2.6l-3.4 2.9zM1103.5 442.5l3.4-2.9l0.5 2.6l-3.4 2.9zM1070.6 472.9l3.4-2.9l0.5 2.6l-3.4 2.9zM1092.8 453.8l3.4-2.9l0.5 2.6l-3.4 2.9zM1098.3 449.1l3.4-2.9l0.5 2.6l-3.4 2.9zM1103.9 444.3l3.4-2.9l0.5 2.6l-3.4 2.9zM1142.8 411.0l3.4-2.9l0.6 2.7l-3.4 2.9zM1145.6 408.7l3.4-2.9l0.6 2.7l-3.4 2.9zM1073.7 472.3l3.4-2.9l0.5 2.6l-3.4 2.9zM1076.5 469.9l3.4-2.9l0.5 2.6l-3.4 2.9zM1101.5 448.6l3.4-2.9l0.5 2.6l-3.4 2.9zM1082.4 467.0l3.4-2.9l0.5 2.6l-3.4 2.9zM1115.8 438.6l3.4-2.9l0.5 2.6l-3.4 2.9zM1149.2 410.1l3.4-2.9l0.6 2.7l-3.4 2.9zM1171.5 391.1l3.4-2.9l0.6 2.7l-3.4 2.9zM1068.8 480.7l3.4-2.9l0.5 2.6l-3.4 2.9zM1088.3 464.1l3.4-2.9l0.5 2.6l-3.4 2.9zM1105.0 449.9l3.4-2.9l0.5 2.6l-3.4 2.9zM1094.3 461.2l3.4-2.9l0.5 2.6l-3.4 2.9zM1097.0 458.9l3.4-2.9l0.5 2.6l-3.4 2.9zM1172.3 395.0l3.4-2.9l0.6 2.7l-3.4 2.9zM1097.4 460.7l3.4-2.9l0.5 2.6l-3.4 2.9zM1105.8 453.6l3.4-2.9l0.5 2.6l-3.4 2.9zM1147.7 418.2l3.4-2.9l0.6 2.7l-3.4 2.9zM1172.8 396.9l3.4-2.9l0.6 2.7l-3.4 2.9zM1072.6 483.8l3.4-2.9l0.5 2.6l-3.4 2.9zM1075.4 481.5l3.4-2.9l0.5 2.6l-3.4 2.9zM1078.2 479.1l3.4-2.9l0.5 2.6l-3.4 2.9zM1109.3 455.0l3.4-2.9l0.5 2.6l-3.4 2.8zM1173.7 400.8l3.4-2.9l0.6 2.7l-3.4 2.8zM1070.5 489.8l3.4-2.8l0.7 2.4l-3.4 2.8zM1095.7 468.6l3.4-2.8l0.8 2.5l-3.4 2.8zM1101.3 463.9l3.4-2.8l0.8 2.5l-3.4 2.8zM1104.1 461.6l3.4-2.8l0.8 2.5l-3.4 2.8zM1109.7 456.9l3.4-2.8l0.8 2.5l-3.4 2.8zM1068.1 494.0l3.4-2.8l1.6 2.0l-3.4 2.8zM1098.9 468.1l3.4-2.8l1.7 2.0l-3.4 2.8zM1174.5 404.7l3.4-2.8l1.8 2.1l-3.4 2.8zM1188.5 392.9l3.4-2.8l1.8 2.2l-3.4 2.8zM1069.2 495.4l3.4-2.8l1.7 1.9l-3.4 2.8zM1097.3 472.0l3.4-2.8l1.8 2.0l-3.4 2.8zM1105.7 464.9l3.4-2.8l1.8 2.0l-3.4 2.8zM1116.9 455.5l3.4-2.8l1.8 2.0l-3.4 2.8zM1181.4 401.5l3.4-2.8l1.9 2.1l-3.4 2.8zM1070.5 496.8l3.4-2.8l1.7 1.9l-3.4 2.8zM1090.1 480.4l3.4-2.8l1.8 2.0l-3.4 2.8zM1174.3 410.1l3.4-2.8l1.9 2.1l-3.4 2.8zM1102.6 472.4l3.4-2.8l1.8 2.0l-3.4 2.8zM1105.4 470.1l3.4-2.8l1.8 2.0l-3.4 2.8zM1111.0 465.4l3.4-2.8l1.8 2.0l-3.4 2.8zM1113.8 463.1l3.4-2.8l1.8 2.0l-3.4 2.8zM1164.4 420.9l3.4-2.8l1.9 2.1l-3.4 2.8zM1175.6 411.5l3.4-2.8l1.9 2.1l-3.4 2.8zM1178.5 409.2l3.4-2.8l1.9 2.1l-3.4 2.8zM1181.3 406.9l3.4-2.8l1.9 2.1l-3.4 2.8zM1189.7 399.8l3.4-2.8l1.9 2.1l-3.4 2.8zM1075.8 497.2l3.4-2.8l1.7 1.9l-3.4 2.8zM1078.6 494.9l3.4-2.8l1.8 1.9l-3.4 2.8zM1092.6 483.2l3.4-2.8l1.8 2.0l-3.4 2.8zM1098.2 478.5l3.4-2.8l1.8 2.0l-3.4 2.8zM1106.7 471.5l3.4-2.8l1.8 2.0l-3.4 2.8zM1165.7 422.4l3.4-2.8l1.9 2.1l-3.4 2.8zM1210.7 385.0l3.4-2.8l1.9 2.1l-3.4 2.8zM1102.3 477.6l3.4-2.8l1.8 2.0l-3.4 2.8zM1161.4 428.5l3.4-2.8l1.9 2.1l-3.4 2.8zM1167.1 423.9l3.4-2.8l1.9 2.1l-3.4 2.8zM1206.5 391.2l3.4-2.8l1.9 2.1l-3.4 2.8zM1081.1 497.6l3.4-2.8l1.8 1.9l-3.4 2.8zM1103.6 479.0l3.4-2.8l1.8 2.0l-3.4 2.8zM1112.0 472.0l3.4-2.8l1.8 2.0l-3.4 2.8zM1159.9 432.3l3.4-2.8l1.8 2.1l-3.4 2.8zM1087.9 494.4l3.4-2.8l1.8 1.9l-3.4 2.8zM1090.8 492.0l3.4-2.8l1.8 2.0l-3.4 2.8zM1107.7 478.1l3.4-2.8l1.8 2.0l-3.4 2.8zM1164.1 431.5l3.4-2.8l1.9 2.1l-3.4 2.8zM1166.9 429.1l3.4-2.8l1.9 2.1l-3.4 2.8zM1183.8 415.2l3.4-2.8l1.9 2.1l-3.4 2.8zM1192.3 408.2l3.4-2.8l1.9 2.1l-3.4 2.8zM1209.2 394.2l3.4-2.8l1.9 2.1l-3.4 2.8zM1214.8 389.6l3.4-2.8l1.9 2.1l-3.4 2.8zM1092.0 493.4l3.4-2.8l1.8 2.0l-3.4 2.8zM1106.1 481.8l3.4-2.8l1.8 2.0l-3.4 2.8zM1173.9 426.0l3.4-2.8l1.9 2.1l-3.4 2.8zM1182.3 419.0l3.4-2.8l1.9 2.1l-3.4 2.8zM1082.0 504.1l3.4-2.8l1.7 1.9l-3.4 2.8zM1096.1 492.5l3.4-2.8l1.8 2.0l-3.4 2.8zM1166.7 434.4l3.4-2.8l1.9 2.1l-3.4 2.8zM1178.0 425.1l3.4-2.8l1.9 2.1l-3.4 2.8zM1186.5 418.2l3.4-2.8l1.9 2.1l-3.4 2.8zM1200.6 406.5l3.4-2.8l1.9 2.1l-3.4 2.8zM1080.4 507.8l3.4-2.8l1.7 1.9l-3.4 2.8zM1086.0 503.2l3.4-2.8l1.8 1.9l-3.4 2.8zM1100.2 491.6l3.4-2.8l1.8 2.0l-3.4 2.8zM1105.8 486.9l3.4-2.8l1.8 2.0l-3.4 2.8zM1108.7 484.6l3.4-2.8l1.8 2.0l-3.4 2.8zM1173.7 431.3l3.4-2.8l1.9 2.1l-3.4 2.8zM1182.2 424.3l3.4-2.8l1.9 2.1l-3.4 2.8zM1196.3 412.7l3.4-2.8l1.9 2.1l-3.4 2.8zM1199.1 410.4l3.4-2.8l1.9 2.1l-3.4 2.8zM1202.0 408.1l3.4-2.8l1.9 2.1l-3.4 2.8zM1210.4 401.1l3.4-2.8l1.9 2.1l-3.4 2.8zM1213.3 398.8l3.4-2.8l1.9 2.1l-3.4 2.8zM1081.6 509.2l3.4-2.8l1.7 1.9l-3.4 2.8zM1093.0 499.9l3.4-2.8l1.8 1.9l-3.4 2.8zM1095.8 497.6l3.4-2.8l1.8 2.0l-3.4 2.8zM1104.3 490.7l3.4-2.8l1.8 2.0l-3.4 2.8zM1121.2 476.8l3.4-2.8l1.8 2.0l-3.4 2.8zM1135.4 465.2l3.4-2.8l1.8 2.0l-3.4 2.8zM1177.8 430.4l3.4-2.8l1.9 2.1l-3.4 2.8zM1180.7 428.1l3.4-2.8l1.9 2.1l-3.4 2.8zM1094.2 501.3l3.4-2.8l1.7 2.0l-3.4 2.8zM1099.9 496.7l3.4-2.8l1.7 2.0l-3.4 2.8zM1119.7 480.5l3.4-2.8l1.8 2.0l-3.4 2.8zM1173.5 436.5l3.4-2.8l1.8 2.1l-3.4 2.8zM1176.3 434.2l3.4-2.8l1.8 2.1l-3.4 2.8zM1190.5 422.6l3.4-2.8l1.8 2.1l-3.4 2.8zM1104.0 495.8l3.4-2.8l1.7 2.0l-3.4 2.8zM1112.5 488.8l3.4-2.8l1.7 2.0l-3.4 2.8zM1123.8 479.6l3.4-2.8l1.7 2.1l-3.4 2.8zM1135.1 470.4l3.4-2.8l1.7 2.1l-3.4 2.8zM1177.7 435.7l3.4-2.8l1.8 2.1l-3.4 2.8zM1197.5 419.5l3.4-2.8l1.8 2.2l-3.4 2.8zM1085.3 513.4l3.4-2.8l1.7 2.0l-3.4 2.8zM1091.0 508.8l3.4-2.8l1.7 2.0l-3.4 2.8zM1093.8 506.5l3.4-2.8l1.7 2.0l-3.4 2.8zM1096.7 504.1l3.4-2.8l1.7 2.0l-3.4 2.8zM1122.2 483.4l3.4-2.8l1.7 2.1l-3.4 2.8zM1130.7 476.4l3.4-2.8l1.7 2.1l-3.4 2.8zM1170.4 444.1l3.4-2.8l1.8 2.1l-3.4 2.8zM1086.5 514.8l3.4-2.8l1.7 2.0l-3.4 2.8zM1106.4 498.7l3.4-2.8l1.7 2.0l-3.4 2.8zM1112.1 494.1l3.4-2.8l1.7 2.0l-3.4 2.8zM1166.0 450.3l3.4-2.8l1.8 2.1l-3.4 2.8zM1087.7 516.2l3.4-2.8l1.7 2.0l-3.4 2.8zM1113.3 495.5l3.4-2.8l1.7 2.0l-3.4 2.8zM1118.9 490.9l3.4-2.8l1.7 2.0l-3.4 2.8zM1111.6 499.3l3.4-2.8l1.7 2.0l-3.4 2.8zM1117.3 494.7l3.4-2.8l1.7 2.0l-3.4 2.8zM1120.2 492.4l3.4-2.8l1.7 2.0l-3.4 2.8zM1123.0 490.1l3.4-2.8l1.7 2.0l-3.4 2.8zM1092.9 516.8l3.4-2.8l1.7 2.0l-3.4 2.8zM1098.6 512.2l3.4-2.8l1.7 2.0l-3.4 2.8zM1129.9 486.9l3.4-2.8l1.7 2.1l-3.4 2.8zM1169.8 454.8l3.4-2.8l1.8 2.1l-3.4 2.8zM1091.3 520.5l3.4-2.8l1.7 2.0l-3.5 2.8zM1099.8 513.6l3.4-2.8l1.7 2.0l-3.5 2.8zM1119.7 497.6l3.4-2.8l1.7 2.0l-3.5 2.8zM1125.4 493.0l3.4-2.8l1.7 2.0l-3.5 2.8zM1131.1 488.4l3.4-2.8l1.7 2.1l-3.5 2.8zM1171.0 456.3l3.4-2.8l1.8 2.1l-3.5 2.8zM1106.7 510.5l3.5-2.8l1.7 2.0l-3.5 2.8zM1102.2 516.5l3.5-2.8l1.7 2.0l-3.5 2.8zM1113.6 507.3l3.5-2.8l1.7 2.0l-3.5 2.8zM1127.9 495.9l3.5-2.8l1.7 2.0l-3.5 2.8zM1196.4 441.0l3.5-2.8l1.8 2.2l-3.5 2.8zM1094.8 524.8l3.5-2.8l1.7 2.0l-3.5 2.8zM1097.7 522.5l3.5-2.8l1.7 2.0l-3.5 2.8zM1100.5 520.2l3.5-2.8l1.7 2.0l-3.5 2.8zM1126.3 499.6l3.5-2.8l1.7 2.0l-3.5 2.8zM1107.5 517.1l3.5-2.8l1.7 2.0l-3.5 2.8zM1133.2 496.5l3.5-2.8l1.7 2.1l-3.5 2.8zM1141.8 489.7l3.5-2.8l1.7 2.1l-3.5 2.8zM1176.1 462.3l3.5-2.8l1.8 2.1l-3.5 2.8zM1114.4 513.9l3.5-2.8l1.7 2.0l-3.5 2.7zM1123.0 507.1l3.5-2.8l1.7 2.0l-3.5 2.7zM1107.0 522.2l3.5-2.8l1.7 2.0l-3.5 2.7zM1141.4 494.9l3.5-2.8l1.7 2.1l-3.5 2.7zM1144.2 492.6l3.5-2.8l1.7 2.1l-3.5 2.7zM1175.7 467.6l3.5-2.8l1.8 2.1l-3.5 2.7zM1105.3 525.9l3.5-2.7l1.7 2.0l-3.5 2.7zM1111.1 521.4l3.5-2.7l1.7 2.0l-3.5 2.7zM1128.3 507.7l3.5-2.7l1.7 2.0l-3.5 2.7zM1142.6 496.4l3.5-2.7l1.7 2.1l-3.5 2.7zM1148.3 491.8l3.5-2.7l1.7 2.1l-3.5 2.7zM1103.6 529.6l3.5-2.7l1.7 2.0l-3.5 2.7zM1115.1 520.5l3.5-2.7l1.7 2.0l-3.5 2.7zM1123.7 513.7l3.5-2.7l1.7 2.0l-3.5 2.7zM1140.9 500.1l3.5-2.7l1.7 2.1l-3.5 2.7zM1143.8 497.8l3.5-2.7l1.7 2.1l-3.5 2.7zM1122.1 517.4l3.5-2.7l1.7 2.0l-3.5 2.7zM1127.8 512.9l3.5-2.7l1.7 2.0l-3.5 2.7zM1136.4 506.1l3.5-2.7l1.7 2.0l-3.5 2.7zM1179.5 472.1l3.5-2.7l1.8 2.1l-3.5 2.7zM1182.4 469.9l3.5-2.7l1.8 2.1l-3.5 2.7zM1123.3 518.9l3.5-2.7l1.8 2.0l-3.5 2.7zM1131.9 512.1l3.5-2.7l1.8 2.0l-3.5 2.7zM1137.6 507.6l3.5-2.7l1.8 2.0l-3.5 2.7zM1177.9 475.9l3.5-2.7l1.8 2.1l-3.5 2.7zM1115.9 527.1l3.5-2.7l1.8 1.9l-3.5 2.7zM1133.1 513.5l3.5-2.7l1.8 2.0l-3.5 2.7zM1136.0 511.3l3.5-2.7l1.8 2.0l-3.5 2.7zM1128.7 519.4l3.5-2.7l1.8 2.0l-3.5 2.7zM1177.6 481.1l3.5-2.7l1.8 2.0l-3.5 2.7zM1101.1 543.4l3.5-2.7l1.7 1.9l-3.5 2.7zM1129.9 520.8l3.5-2.7l1.8 2.0l-3.5 2.7zM1173.1 487.0l3.5-2.7l1.8 2.0l-3.5 2.7zM1181.8 480.3l3.5-2.7l1.8 2.0l-3.5 2.7zM1102.3 544.7l3.5-2.7l1.7 1.9l-3.5 2.7zM1105.2 542.5l3.5-2.7l1.7 1.9l-3.5 2.7zM1116.8 533.5l3.5-2.7l1.8 1.9l-3.5 2.7zM1119.7 531.2l3.5-2.7l1.8 1.9l-3.5 2.7zM1125.4 526.7l3.5-2.7l1.8 2.0l-3.5 2.7zM1151.4 506.5l3.5-2.7l1.8 2.0l-3.5 2.7zM1183.1 481.7l3.5-2.7l1.8 2.0l-3.5 2.7zM1135.3 521.4l3.5-2.7l1.8 2.0l-3.5 2.7zM1138.2 519.1l3.5-2.7l1.8 2.0l-3.5 2.7zM1181.5 485.4l3.5-2.7l1.8 2.0l-3.5 2.7zM1184.4 483.2l3.5-2.7l1.8 2.0l-3.5 2.7zM1198.8 472.0l3.5-2.7l1.9 2.1l-3.5 2.7zM1113.5 540.7l3.5-2.7l1.8 1.9l-3.5 2.7zM1119.3 536.2l3.5-2.7l1.8 1.9l-3.5 2.7zM1125.1 531.8l3.5-2.7l1.8 2.0l-3.5 2.7zM1127.9 529.5l3.5-2.7l1.8 2.0l-3.5 2.7zM1130.8 527.3l3.5-2.7l1.8 2.0l-3.5 2.7zM1145.3 516.1l3.5-2.7l1.8 2.0l-3.5 2.7zM1109.0 546.6l3.5-2.7l1.7 1.9l-3.5 2.7zM1111.9 544.3l3.5-2.7l1.7 1.9l-3.5 2.7zM1117.6 539.9l3.5-2.7l1.8 1.9l-3.5 2.7zM1126.3 533.1l3.5-2.7l1.8 2.0l-3.5 2.7zM1129.2 530.9l3.5-2.7l1.8 2.0l-3.5 2.7zM1143.7 519.7l3.5-2.7l1.8 2.0l-3.5 2.7zM1181.2 490.6l3.5-2.7l1.8 2.0l-3.5 2.7zM1110.2 548.0l3.5-2.7l1.7 1.9l-3.5 2.7zM1124.7 536.8l3.5-2.7l1.8 1.9l-3.5 2.7zM1130.5 532.3l3.5-2.7l1.8 2.0l-3.5 2.7zM1136.2 527.8l3.5-2.7l1.8 2.0l-3.5 2.7zM1142.0 523.4l3.5-2.7l1.8 2.0l-3.5 2.7zM1176.8 496.5l3.5-2.7l1.8 2.0l-3.5 2.7zM1123.0 540.4l3.5-2.7l1.8 1.9l-3.5 2.7zM1125.9 538.2l3.5-2.7l1.8 1.9l-3.5 2.7zM1137.5 529.2l3.5-2.7l1.8 2.0l-3.5 2.7zM1143.3 524.8l3.5-2.7l1.8 2.0l-3.5 2.7zM1183.8 493.5l3.5-2.7l1.8 2.0l-3.5 2.7zM1198.3 482.3l3.5-2.7l1.8 2.1l-3.5 2.7zM1118.5 546.2l3.5-2.7l1.8 1.9l-3.5 2.7zM1121.4 544.0l3.5-2.7l1.8 1.9l-3.5 2.7zM1124.3 541.8l3.5-2.7l1.8 1.9l-3.5 2.7zM1147.5 523.9l3.5-2.7l1.8 2.0l-3.5 2.7zM1190.9 490.5l3.5-2.7l1.8 2.0l-3.5 2.7zM1122.6 545.4l3.5-2.7l1.8 1.9l-3.5 2.7zM1203.9 483.0l3.5-2.7l1.8 2.1l-3.5 2.7zM1115.2 553.4l3.5-2.7l1.7 1.9l-3.5 2.7zM1118.1 551.2l3.5-2.7l1.7 1.9l-3.5 2.7zM1152.9 524.5l3.5-2.7l1.8 2.0l-3.5 2.7zM1161.6 517.9l3.5-2.7l1.8 2.0l-3.5 2.7zM1184.9 500.1l3.5-2.7l1.8 2.0l-3.5 2.7zM1205.2 484.5l3.5-2.7l1.8 2.1l-3.5 2.7zM1128.0 545.9l3.5-2.7l1.8 1.9l-3.5 2.7zM1136.8 539.3l3.5-2.7l1.8 2.0l-3.5 2.7zM1145.5 532.6l3.5-2.7l1.8 2.0l-3.5 2.7zM1165.8 517.1l3.5-2.7l1.8 2.0l-3.5 2.7zM1180.3 506.0l3.5-2.7l1.8 2.0l-3.5 2.7zM1129.3 547.3l3.5-2.7l1.8 1.9l-3.5 2.7zM1146.7 534.0l3.5-2.7l1.8 2.0l-3.5 2.7zM1152.6 529.6l3.5-2.7l1.8 2.0l-3.5 2.7zM1164.2 520.7l3.5-2.7l1.8 2.0l-3.5 2.7zM1193.3 498.5l3.5-2.7l1.8 2.0l-3.5 2.7zM1236.9 465.3l3.5-2.7l1.9 2.1l-3.5 2.7zM1118.9 557.6l3.5-2.7l1.8 1.9l-3.5 2.7zM1124.7 553.1l3.5-2.7l1.8 1.9l-3.5 2.7zM1162.6 524.3l3.5-2.7l1.8 2.0l-3.5 2.7zM1241.1 464.5l3.5-2.7l1.9 2.1l-3.5 2.7zM1146.4 539.0l3.5-2.7l1.8 1.9l-3.5 2.7zM1149.3 536.8l3.5-2.7l1.8 1.9l-3.5 2.7zM1160.9 528.0l3.5-2.7l1.8 2.0l-3.5 2.7zM1190.1 505.8l3.5-2.7l1.9 2.0l-3.5 2.7zM1216.3 485.9l3.5-2.7l1.9 2.0l-3.5 2.7zM1121.4 560.3l3.5-2.7l1.8 1.9l-3.5 2.7zM1127.2 555.9l3.5-2.7l1.8 1.9l-3.5 2.7zM1156.4 533.8l3.5-2.7l1.8 1.9l-3.5 2.7zM1159.3 531.6l3.5-2.7l1.8 1.9l-3.5 2.7zM1128.5 557.2l3.5-2.7l1.8 1.9l-3.5 2.7zM1198.5 504.3l3.5-2.7l1.9 2.0l-3.5 2.7zM1242.3 471.2l3.5-2.7l1.9 2.1l-3.5 2.7zM1121.0 565.2l3.5-2.7l1.8 1.9l-3.5 2.7zM1141.5 549.8l3.5-2.7l1.8 1.9l-3.5 2.7zM1150.2 543.1l3.5-2.7l1.8 1.9l-3.5 2.7zM1156.1 538.7l3.5-2.7l1.8 1.9l-3.5 2.7zM1161.9 534.3l3.5-2.7l1.8 1.9l-3.5 2.7zM1167.8 529.9l3.5-2.7l1.8 2.0l-3.5 2.7zM1234.9 479.3l3.5-2.7l1.9 2.1l-3.5 2.7zM1237.8 477.1l3.5-2.7l1.9 2.1l-3.5 2.7zM1240.8 474.9l3.5-2.7l1.9 2.1l-3.5 2.7zM1243.7 472.7l3.5-2.7l1.9 2.1l-3.5 2.7zM1122.3 566.5l3.5-2.7l1.8 1.9l-3.5 2.7zM1148.6 546.7l3.5-2.7l1.8 1.9l-3.5 2.7zM1151.5 544.5l3.5-2.7l1.8 1.9l-3.5 2.7zM1233.3 483.0l3.5-2.7l1.9 2.1l-3.5 2.7zM1236.3 480.8l3.5-2.7l1.9 2.1l-3.5 2.7zM1242.1 476.4l3.5-2.7l1.9 2.1l-3.5 2.7zM1245.0 474.2l3.5-2.7l1.9 2.1l-3.5 2.7zM1248.0 472.0l3.5-2.7l1.9 2.1l-3.5 2.7zM1250.9 469.8l3.5-2.7l1.9 2.1l-3.5 2.7zM1123.6 567.9l3.5-2.7l1.8 1.9l-3.5 2.7zM1144.0 552.5l3.5-2.7l1.8 1.9l-3.5 2.7zM1149.9 548.1l3.5-2.7l1.8 1.9l-3.5 2.7zM1155.7 543.7l3.5-2.7l1.8 1.9l-3.5 2.7zM1243.5 477.8l3.5-2.7l1.9 2.1l-3.5 2.7zM1246.4 475.6l3.5-2.7l1.9 2.1l-3.5 2.7zM1252.3 471.2l3.5-2.7l1.9 2.1l-3.5 2.7zM1255.2 469.0l3.5-2.7l1.9 2.1l-3.5 2.7zM1142.4 556.0l3.5-2.7l1.8 1.9l-3.5 2.6zM1253.6 472.7l3.5-2.7l1.9 2.1l-3.5 2.6zM1256.6 470.5l3.5-2.7l1.9 2.1l-3.5 2.6zM1259.5 468.3l3.5-2.7l1.9 2.1l-3.5 2.6zM1129.0 568.3l3.5-2.6l1.8 1.9l-3.5 2.6zM1222.8 498.3l3.5-2.6l1.9 2.0l-3.5 2.6zM1225.7 496.1l3.5-2.6l1.9 2.0l-3.5 2.6zM1228.6 493.9l3.5-2.6l1.9 2.0l-3.5 2.6zM1231.6 491.7l3.5-2.6l1.9 2.0l-3.5 2.6zM1234.5 489.5l3.5-2.6l1.9 2.1l-3.5 2.6zM1237.4 487.3l3.5-2.6l1.9 2.1l-3.5 2.6zM1246.2 480.8l3.5-2.6l1.9 2.1l-3.5 2.6zM1249.1 478.6l3.5-2.6l1.9 2.1l-3.5 2.6zM1252.1 476.4l3.5-2.6l1.9 2.1l-3.5 2.6zM1255.0 474.2l3.5-2.6l1.9 2.1l-3.5 2.6zM1142.0 561.0l3.5-2.6l1.8 1.9l-3.6 2.6zM1171.3 539.1l3.5-2.6l1.8 2.0l-3.6 2.6zM1230.0 495.4l3.5-2.6l1.9 2.0l-3.6 2.6zM1232.9 493.2l3.5-2.6l1.9 2.0l-3.6 2.6zM1235.8 491.0l3.5-2.6l1.9 2.1l-3.6 2.6zM1250.5 480.1l3.5-2.6l1.9 2.1l-3.6 2.6zM1253.4 477.9l3.5-2.6l1.9 2.1l-3.6 2.6zM1262.2 471.3l3.5-2.6l1.9 2.1l-3.6 2.6zM1265.2 469.1l3.5-2.6l1.9 2.1l-3.6 2.6zM1128.6 573.2l3.6-2.6l1.8 1.9l-3.6 2.6zM1131.6 571.0l3.6-2.6l1.8 1.9l-3.6 2.6zM1140.4 564.5l3.6-2.6l1.8 1.9l-3.6 2.6zM1155.0 553.6l3.6-2.6l1.8 1.9l-3.6 2.6zM1163.8 547.0l3.6-2.6l1.8 1.9l-3.6 2.6zM1169.7 542.7l3.6-2.6l1.8 1.9l-3.6 2.6zM1237.2 492.5l3.6-2.6l1.9 2.1l-3.6 2.6zM1246.0 485.9l3.6-2.6l1.9 2.1l-3.6 2.6zM1248.9 483.7l3.6-2.6l1.9 2.1l-3.6 2.6zM1251.9 481.5l3.6-2.6l1.9 2.1l-3.6 2.6zM1254.8 479.4l3.6-2.6l1.9 2.1l-3.6 2.6zM1257.7 477.2l3.6-2.6l1.9 2.1l-3.6 2.6zM1144.6 563.7l3.6-2.6l1.8 1.9l-3.6 2.6zM1182.8 535.3l3.6-2.6l1.8 2.0l-3.6 2.6zM1244.4 489.6l3.6-2.6l1.9 2.1l-3.6 2.6zM1247.4 487.4l3.6-2.6l1.9 2.1l-3.6 2.6zM1181.1 538.9l3.6-2.6l1.8 2.0l-3.6 2.6zM1147.1 566.4l3.6-2.6l1.3 1.4l-3.6 2.6zM1150.1 564.2l3.6-2.6l1.3 1.4l-3.6 2.6z"/>
<path fill="#a5ff52" d="M1058.8 410.7l3.3-3.0l0.6 2.5l-3.3 3.0zM1099.1 373.6l3.3-3.0l0.6 2.6l-3.3 3.0zM1115.3 358.7l3.3-3.0l0.7 2.6l-3.3 3.0zM1128.8 346.4l3.3-3.0l0.7 2.7l-3.3 3.0zM1092.0 384.7l3.3-3.0l0.6 2.6l-3.3 3.0zM1078.9 398.9l3.3-3.0l0.6 2.6l-3.3 3.0zM1051.6 436.9l3.3-3.0l0.6 2.5l-3.3 3.0zM1059.8 429.5l3.3-3.0l0.6 2.5l-3.3 3.0zM1144.0 353.6l3.3-3.0l0.7 2.7l-3.3 3.0zM1055.2 438.0l3.3-3.0l0.6 2.5l-3.3 3.0zM1060.7 433.1l3.3-3.0l0.6 2.5l-3.3 3.0zM1093.3 403.8l3.3-3.0l0.7 2.6l-3.3 3.0zM1096.0 401.4l3.3-3.0l0.7 2.6l-3.3 3.0zM1058.4 437.4l3.3-3.0l0.6 2.5l-3.3 2.9zM1063.8 432.5l3.3-3.0l0.6 2.5l-3.3 2.9zM1053.4 444.1l3.3-2.9l0.6 2.5l-3.3 2.9zM1059.3 441.0l3.3-2.9l0.6 2.5l-3.3 2.9zM1146.6 363.1l3.3-2.9l0.8 2.7l-3.3 2.9zM1152.1 358.2l3.3-2.9l0.8 2.7l-3.3 2.9zM1059.7 442.8l3.3-2.9l0.6 2.5l-3.3 2.9zM1087.1 418.5l3.3-2.9l0.7 2.6l-3.3 2.9zM1133.5 377.1l3.3-2.9l0.7 2.6l-3.3 2.9zM1136.2 374.7l3.3-2.9l0.7 2.6l-3.3 2.9zM1155.4 357.7l3.3-2.9l0.8 2.7l-3.3 2.9zM1060.2 444.6l3.3-2.9l0.6 2.5l-3.3 2.9zM1093.0 415.4l3.3-2.9l0.7 2.6l-3.3 2.9zM1136.8 376.6l3.3-2.9l0.7 2.6l-3.3 2.9zM1055.2 451.2l3.3-2.9l0.6 2.5l-3.3 2.9zM1126.3 388.2l3.3-2.9l0.7 2.6l-3.3 2.9zM1134.5 380.9l3.3-2.9l0.7 2.6l-3.3 2.9zM1153.7 363.9l3.3-2.9l0.8 2.7l-3.3 2.9zM1129.6 387.6l3.3-2.9l0.7 2.6l-3.3 2.9zM1143.3 375.5l3.3-2.9l0.7 2.7l-3.3 2.9zM1157.0 363.4l3.3-2.9l0.8 2.7l-3.3 2.9zM1159.7 361.0l3.3-2.9l0.8 2.7l-3.3 2.9zM1167.9 353.7l3.3-2.9l0.8 2.7l-3.3 2.9zM1064.3 447.6l3.3-2.9l0.6 2.5l-3.3 2.9zM1097.2 418.5l3.3-2.9l0.7 2.6l-3.3 2.9zM1124.6 394.3l3.3-2.9l0.7 2.6l-3.3 2.9zM1141.1 379.8l3.3-2.9l0.7 2.6l-3.3 2.9zM1149.3 372.6l3.3-2.9l0.8 2.7l-3.3 2.9zM1154.8 367.7l3.3-2.9l0.8 2.7l-3.3 2.9zM1157.5 365.3l3.3-2.9l0.8 2.7l-3.3 2.9zM1163.0 360.5l3.3-2.9l0.8 2.7l-3.3 2.9zM1114.2 405.9l3.3-2.9l0.7 2.6l-3.3 2.9zM1116.9 403.5l3.3-2.9l0.7 2.6l-3.3 2.9zM1144.3 379.3l3.3-2.9l0.8 2.6l-3.3 2.9zM1149.8 374.5l3.3-2.9l0.8 2.7l-3.3 2.9zM1152.6 372.0l3.3-2.9l0.8 2.7l-3.3 2.9zM1155.3 369.6l3.3-2.9l0.8 2.7l-3.3 2.9zM1163.6 362.4l3.3-2.9l0.8 2.7l-3.3 2.9zM1166.3 360.0l3.3-2.9l0.8 2.7l-3.3 2.9zM1171.8 355.1l3.3-2.9l0.8 2.7l-3.3 2.9zM1065.2 451.2l3.3-2.9l0.7 2.5l-3.3 2.9zM1109.2 412.6l3.3-2.9l0.7 2.6l-3.3 2.9zM1125.6 398.1l3.3-2.9l0.7 2.6l-3.3 2.9zM1153.1 373.9l3.3-2.9l0.8 2.7l-3.3 2.9zM1155.9 371.5l3.3-2.9l0.8 2.7l-3.3 2.9zM1101.4 421.6l3.3-2.9l0.7 2.6l-3.3 2.9zM1104.2 419.2l3.3-2.9l0.7 2.6l-3.3 2.9zM1115.2 409.6l3.3-2.9l0.7 2.6l-3.3 2.9zM1120.7 404.8l3.3-2.9l0.7 2.6l-3.3 2.9zM1123.4 402.4l3.3-2.9l0.7 2.6l-3.3 2.9zM1128.9 397.5l3.3-2.9l0.7 2.6l-3.3 2.9zM1134.4 392.7l3.3-2.9l0.7 2.6l-3.3 2.9zM1156.4 373.4l3.3-2.9l0.8 2.7l-3.3 2.9zM1161.9 368.6l3.3-2.9l0.8 2.7l-3.3 2.9zM1167.4 363.8l3.3-2.9l0.8 2.7l-3.3 2.9zM1057.9 462.0l3.3-2.9l0.6 2.5l-3.3 2.9zM1060.6 459.6l3.3-2.9l0.6 2.5l-3.3 2.9zM1071.6 450.0l3.3-2.9l0.7 2.5l-3.3 2.9zM1115.7 411.4l3.3-2.9l0.7 2.6l-3.3 2.9zM1118.4 409.0l3.3-2.9l0.7 2.6l-3.3 2.9zM1129.4 399.4l3.3-2.9l0.7 2.6l-3.3 2.9zM1143.2 387.4l3.3-2.9l0.8 2.6l-3.3 2.9zM1154.2 377.7l3.3-2.9l0.8 2.7l-3.3 2.9zM1162.5 370.5l3.3-2.9l0.8 2.7l-3.3 2.9zM1168.0 365.7l3.3-2.9l0.8 2.7l-3.3 2.9zM1121.7 408.5l3.3-2.9l0.7 2.6l-3.3 2.9zM1127.2 403.7l3.3-2.9l0.7 2.6l-3.3 2.9zM1160.3 374.8l3.3-2.9l0.8 2.7l-3.3 2.9zM1064.3 460.8l3.3-2.9l0.6 2.5l-3.3 2.9zM1067.1 458.4l3.3-2.9l0.7 2.5l-3.3 2.9zM1094.6 434.4l3.3-2.9l0.7 2.6l-3.3 2.9zM1102.9 427.2l3.3-2.9l0.7 2.6l-3.3 2.9zM1136.0 398.3l3.3-2.9l0.7 2.6l-3.3 2.9zM1147.0 388.7l3.3-2.9l0.8 2.6l-3.3 2.9zM1163.6 374.3l3.3-2.9l0.8 2.7l-3.3 2.9zM1180.1 359.9l3.3-2.9l0.8 2.7l-3.3 2.9zM1067.5 460.2l3.3-2.9l0.7 2.5l-3.3 2.9zM1097.9 433.8l3.3-2.9l0.7 2.6l-3.3 2.9zM1108.9 424.2l3.3-2.9l0.7 2.6l-3.3 2.9zM1114.4 419.4l3.3-2.9l0.7 2.6l-3.3 2.9zM1122.7 412.2l3.3-2.9l0.7 2.6l-3.3 2.9zM1128.2 407.4l3.3-2.9l0.7 2.6l-3.3 2.9zM1136.5 400.2l3.3-2.9l0.7 2.6l-3.3 2.9zM1142.1 395.4l3.3-2.9l0.8 2.6l-3.3 2.9zM1150.3 388.2l3.3-2.9l0.8 2.7l-3.3 2.9zM1172.4 369.0l3.3-2.9l0.8 2.7l-3.3 2.9zM1175.2 366.6l3.3-2.9l0.8 2.7l-3.3 2.9zM1112.2 423.7l3.3-2.9l0.7 2.6l-3.3 2.9zM1145.3 394.9l3.3-2.9l0.8 2.6l-3.3 2.9zM1115.5 423.1l3.3-2.9l0.7 2.6l-3.4 2.9zM1121.0 418.3l3.3-2.9l0.7 2.6l-3.4 2.9zM1126.5 413.5l3.3-2.9l0.7 2.6l-3.4 2.9zM1107.7 432.1l3.3-2.9l0.7 2.6l-3.4 2.9zM1113.2 427.4l3.3-2.9l0.7 2.6l-3.4 2.9zM1121.5 420.2l3.3-2.9l0.7 2.6l-3.4 2.9zM1063.8 472.2l3.4-2.9l0.6 2.5l-3.4 2.9zM1066.6 469.8l3.4-2.9l0.6 2.5l-3.4 2.9zM1144.2 403.0l3.4-2.9l0.7 2.6l-3.4 2.9zM1166.3 383.9l3.4-2.9l0.8 2.7l-3.4 2.9zM1069.8 469.2l3.4-2.9l0.5 2.6l-3.4 2.9zM1103.1 440.6l3.4-2.9l0.6 2.6l-3.4 2.9zM1122.5 423.9l3.4-2.9l0.6 2.6l-3.4 2.9zM1064.7 475.8l3.4-2.9l0.5 2.6l-3.4 2.9zM1100.8 444.8l3.4-2.9l0.5 2.6l-3.4 2.9zM1109.1 437.7l3.4-2.9l0.5 2.6l-3.4 2.9zM1128.5 421.0l3.4-2.9l0.6 2.7l-3.4 2.9zM1134.1 416.3l3.4-2.9l0.6 2.7l-3.4 2.9zM1172.9 382.9l3.4-2.9l0.6 2.7l-3.4 2.9zM1181.3 375.8l3.4-2.9l0.6 2.7l-3.4 2.9zM1137.2 415.8l3.4-2.9l0.6 2.7l-3.4 2.9zM1178.9 380.1l3.4-2.9l0.6 2.7l-3.4 2.9zM1068.1 477.1l3.4-2.9l0.5 2.6l-3.4 2.9zM1104.3 446.2l3.4-2.9l0.5 2.6l-3.4 2.9zM1107.1 443.8l3.4-2.9l0.5 2.6l-3.4 2.9zM1109.8 441.4l3.4-2.9l0.5 2.6l-3.4 2.9zM1112.6 439.1l3.4-2.9l0.5 2.6l-3.4 2.9zM1118.6 436.2l3.4-2.9l0.5 2.6l-3.4 2.9zM1071.6 478.3l3.4-2.9l0.5 2.6l-3.4 2.9zM1074.4 476.0l3.4-2.9l0.5 2.6l-3.4 2.9zM1077.2 473.6l3.4-2.9l0.5 2.6l-3.4 2.9zM1116.2 440.4l3.4-2.9l0.5 2.6l-3.4 2.9zM1121.8 435.7l3.4-2.9l0.6 2.6l-3.4 2.9zM1127.3 431.0l3.4-2.9l0.6 2.6l-3.4 2.9zM1069.2 482.5l3.4-2.9l0.5 2.6l-3.4 2.9zM1071.9 480.2l3.4-2.9l0.5 2.6l-3.4 2.9zM1105.4 451.8l3.4-2.9l0.5 2.6l-3.4 2.9zM1116.6 442.3l3.4-2.9l0.5 2.6l-3.4 2.9zM1122.1 437.6l3.4-2.9l0.6 2.6l-3.4 2.9zM1114.2 446.5l3.4-2.9l0.5 2.6l-3.4 2.9zM1069.8 486.2l3.4-2.9l0.5 2.6l-3.4 2.9zM1114.5 448.4l3.4-2.9l0.5 2.6l-3.4 2.9zM1117.3 446.1l3.4-2.9l0.5 2.6l-3.4 2.9zM1070.2 488.0l3.4-2.9l0.5 2.6l-3.4 2.8zM1075.8 483.3l3.4-2.9l0.5 2.6l-3.4 2.8zM1092.6 469.1l3.4-2.9l0.5 2.6l-3.4 2.8zM1112.1 452.7l3.4-2.9l0.5 2.6l-3.4 2.8zM1114.9 450.3l3.4-2.9l0.5 2.6l-3.4 2.8zM1120.5 445.6l3.4-2.9l0.5 2.6l-3.4 2.8zM1170.9 403.2l3.4-2.9l0.6 2.7l-3.4 2.8zM1106.9 459.2l3.4-2.8l0.8 2.5l-3.4 2.8zM1104.5 463.4l3.4-2.8l1.7 2.0l-3.4 2.8zM1160.5 416.4l3.4-2.8l1.8 2.1l-3.4 2.8zM1077.6 488.4l3.4-2.8l1.8 1.9l-3.4 2.8zM1119.7 453.2l3.4-2.8l1.8 2.0l-3.4 2.8zM1158.9 420.3l3.4-2.8l1.9 2.1l-3.4 2.8zM1198.2 387.4l3.4-2.8l1.9 2.1l-3.4 2.8zM1092.9 478.0l3.4-2.8l1.8 2.0l-3.4 2.8zM1104.1 468.7l3.4-2.8l1.8 2.0l-3.4 2.8zM1118.2 456.9l3.4-2.8l1.8 2.0l-3.4 2.8zM1168.7 414.7l3.4-2.8l1.9 2.1l-3.4 2.8zM1196.8 391.3l3.4-2.8l1.9 2.1l-3.4 2.8zM1199.6 389.0l3.4-2.8l1.9 2.1l-3.4 2.8zM1202.4 386.6l3.4-2.8l1.9 2.1l-3.4 2.8zM1208.0 381.9l3.4-2.8l1.9 2.1l-3.4 2.8zM1077.3 493.5l3.4-2.8l1.8 1.9l-3.4 2.8zM1108.2 467.7l3.4-2.8l1.8 2.0l-3.4 2.8zM1116.6 460.7l3.4-2.8l1.8 2.0l-3.4 2.8zM1167.2 418.6l3.4-2.8l1.9 2.1l-3.4 2.8zM1186.9 402.2l3.4-2.8l1.9 2.1l-3.4 2.8zM1072.9 499.6l3.4-2.8l1.7 1.9l-3.4 2.8zM1081.4 492.5l3.4-2.8l1.8 1.9l-3.4 2.8zM1151.7 434.1l3.4-2.8l1.8 2.1l-3.4 2.8zM1154.5 431.7l3.4-2.8l1.8 2.1l-3.4 2.8zM1179.8 410.7l3.4-2.8l1.9 2.1l-3.4 2.8zM1185.4 406.0l3.4-2.8l1.9 2.1l-3.4 2.8zM1188.2 403.7l3.4-2.8l1.9 2.1l-3.4 2.8zM1113.6 468.2l3.4-2.8l1.8 2.0l-3.4 2.8zM1130.5 454.2l3.4-2.8l1.8 2.0l-3.4 2.8zM1169.9 421.5l3.4-2.8l1.9 2.1l-3.4 2.8zM1198.0 398.2l3.4-2.8l1.9 2.1l-3.4 2.8zM1123.3 462.7l3.4-2.8l1.8 2.0l-3.4 2.8zM1128.9 458.0l3.4-2.8l1.8 2.0l-3.4 2.8zM1148.7 441.7l3.4-2.8l1.8 2.0l-3.4 2.8zM1154.3 437.0l3.4-2.8l1.8 2.1l-3.4 2.8zM1196.6 402.0l3.4-2.8l1.9 2.1l-3.4 2.8zM1119.0 468.7l3.4-2.8l1.8 2.0l-3.4 2.8zM1150.0 443.1l3.4-2.8l1.8 2.0l-3.4 2.8zM1195.1 405.9l3.4-2.8l1.9 2.1l-3.4 2.8zM1203.5 398.9l3.4-2.8l1.9 2.1l-3.4 2.8zM1077.9 505.1l3.4-2.8l1.7 1.9l-3.4 2.8zM1100.5 486.5l3.4-2.8l1.8 2.0l-3.4 2.8zM1114.6 474.8l3.4-2.8l1.8 2.0l-3.4 2.8zM1159.7 437.6l3.4-2.8l1.8 2.1l-3.4 2.8zM1185.1 416.7l3.4-2.8l1.9 2.1l-3.4 2.8zM1193.6 409.7l3.4-2.8l1.9 2.1l-3.4 2.8zM1216.2 391.1l3.4-2.8l1.9 2.1l-3.4 2.8zM1219.0 388.8l3.4-2.8l1.9 2.1l-3.4 2.8zM1079.2 506.4l3.4-2.8l1.7 1.9l-3.4 2.8zM1118.7 473.9l3.4-2.8l1.8 2.0l-3.4 2.8zM1124.3 469.3l3.4-2.8l1.8 2.0l-3.4 2.8zM1138.5 457.7l3.4-2.8l1.8 2.0l-3.4 2.8zM1172.4 429.8l3.4-2.8l1.9 2.1l-3.4 2.8zM1183.7 420.5l3.4-2.8l1.9 2.1l-3.4 2.8zM1195.0 411.2l3.4-2.8l1.9 2.1l-3.4 2.8zM1088.9 500.9l3.4-2.8l1.8 1.9l-3.4 2.8zM1114.3 480.0l3.4-2.8l1.8 2.0l-3.4 2.8zM1125.6 470.7l3.4-2.8l1.8 2.0l-3.4 2.8zM1148.2 452.1l3.4-2.8l1.8 2.0l-3.4 2.8zM1170.9 433.6l3.4-2.8l1.9 2.1l-3.4 2.8zM1207.6 403.4l3.4-2.8l1.9 2.1l-3.4 2.8zM1216.1 396.5l3.4-2.8l1.9 2.1l-3.4 2.8zM1152.4 451.3l3.4-2.8l1.8 2.0l-3.4 2.8zM1160.9 444.3l3.4-2.8l1.8 2.1l-3.4 2.8zM1163.7 442.0l3.4-2.8l1.8 2.1l-3.4 2.8zM1169.4 437.4l3.4-2.8l1.9 2.1l-3.4 2.8zM1223.1 393.3l3.4-2.8l1.9 2.1l-3.4 2.8zM1102.7 494.4l3.4-2.8l1.7 2.0l-3.4 2.8zM1139.5 464.3l3.4-2.8l1.8 2.0l-3.4 2.8zM1145.2 459.7l3.4-2.8l1.8 2.1l-3.4 2.8zM1199.0 415.7l3.4-2.8l1.9 2.1l-3.4 2.8zM1224.5 394.9l3.4-2.8l1.9 2.2l-3.4 2.8zM1086.9 509.6l3.4-2.8l1.7 2.0l-3.4 2.8zM1121.0 481.9l3.4-2.8l1.7 2.1l-3.4 2.8zM1155.0 454.2l3.4-2.8l1.8 2.1l-3.4 2.8zM1163.5 447.2l3.4-2.8l1.8 2.1l-3.4 2.8zM1169.1 442.6l3.4-2.8l1.8 2.1l-3.4 2.8zM1183.3 431.1l3.4-2.8l1.8 2.1l-3.4 2.8zM1189.0 426.4l3.4-2.8l1.8 2.2l-3.4 2.8zM1194.7 421.8l3.4-2.8l1.8 2.2l-3.4 2.8zM1203.2 414.9l3.4-2.8l1.8 2.2l-3.4 2.8zM1206.0 412.6l3.4-2.8l1.8 2.2l-3.4 2.8zM1217.3 403.3l3.4-2.8l1.8 2.2l-3.4 2.8zM1110.8 492.6l3.4-2.8l1.7 2.0l-3.4 2.8zM1113.7 490.3l3.4-2.8l1.7 2.0l-3.4 2.8zM1116.5 488.0l3.4-2.8l1.7 2.0l-3.4 2.8zM1139.2 469.5l3.4-2.8l1.7 2.1l-3.4 2.8zM1221.5 402.6l3.4-2.8l1.8 2.2l-3.4 2.8zM1224.3 400.3l3.4-2.8l1.8 2.2l-3.4 2.8zM1126.2 482.5l3.4-2.8l1.7 2.1l-3.4 2.8zM1084.8 518.5l3.4-2.8l1.7 2.0l-3.4 2.8zM1170.1 449.5l3.4-2.8l1.8 2.1l-3.4 2.8zM1195.7 428.8l3.4-2.8l1.8 2.2l-3.4 2.8zM1128.7 485.5l3.4-2.8l1.7 2.1l-3.4 2.8zM1162.8 457.9l3.4-2.8l1.8 2.1l-3.4 2.8zM1121.4 493.8l3.4-2.8l1.7 2.0l-3.4 2.8zM1155.5 466.3l3.4-2.8l1.8 2.1l-3.4 2.8zM1166.9 457.1l3.4-2.8l1.8 2.1l-3.4 2.8zM1203.9 427.2l3.4-2.8l1.8 2.2l-3.4 2.8zM1173.9 454.0l3.4-2.8l1.8 2.1l-3.5 2.8zM1176.7 451.7l3.4-2.8l1.8 2.1l-3.5 2.8zM1109.6 508.2l3.5-2.8l1.7 2.0l-3.5 2.8zM1126.7 494.4l3.5-2.8l1.7 2.0l-3.5 2.8zM1132.4 489.9l3.5-2.8l1.7 2.1l-3.5 2.8zM1169.4 460.1l3.5-2.8l1.8 2.1l-3.5 2.8zM1212.2 425.8l3.5-2.8l1.8 2.2l-3.5 2.8zM1093.6 523.3l3.5-2.8l1.7 2.0l-3.5 2.8zM1099.3 518.8l3.5-2.8l1.7 2.0l-3.5 2.8zM1105.1 514.2l3.5-2.8l1.7 2.0l-3.5 2.8zM1107.9 511.9l3.5-2.8l1.7 2.0l-3.5 2.8zM1136.5 489.0l3.5-2.8l1.7 2.1l-3.5 2.8zM1162.1 468.5l3.5-2.8l1.8 2.1l-3.5 2.8zM1140.5 488.2l3.5-2.8l1.7 2.1l-3.5 2.8zM1166.2 467.7l3.5-2.8l1.8 2.1l-3.5 2.8zM1180.5 456.3l3.5-2.8l1.8 2.1l-3.5 2.8zM1183.4 454.0l3.5-2.8l1.8 2.1l-3.5 2.8zM1101.7 521.6l3.5-2.8l1.7 2.0l-3.5 2.8zM1178.9 460.1l3.5-2.8l1.8 2.1l-3.5 2.8zM1181.8 457.8l3.5-2.8l1.8 2.1l-3.5 2.8zM1184.7 455.5l3.5-2.8l1.8 2.1l-3.5 2.8zM1196.1 446.4l3.5-2.8l1.8 2.1l-3.5 2.8zM1241.8 409.9l3.5-2.8l1.8 2.2l-3.5 2.8zM1111.5 516.2l3.5-2.8l1.7 2.0l-3.5 2.7zM1117.2 511.7l3.5-2.8l1.7 2.0l-3.5 2.7zM1125.8 504.8l3.5-2.8l1.7 2.0l-3.5 2.7zM1140.1 493.4l3.5-2.8l1.7 2.1l-3.5 2.7zM1183.1 459.3l3.5-2.8l1.8 2.1l-3.5 2.7zM1129.9 504.0l3.5-2.8l1.7 2.0l-3.5 2.7zM1132.8 501.7l3.5-2.8l1.7 2.0l-3.5 2.7zM1135.6 499.5l3.5-2.8l1.7 2.1l-3.5 2.7zM1138.5 497.2l3.5-2.8l1.7 2.1l-3.5 2.7zM1167.1 474.4l3.5-2.8l1.8 2.1l-3.5 2.7zM1181.5 463.1l3.5-2.8l1.8 2.1l-3.5 2.7zM1131.1 505.5l3.5-2.7l1.7 2.0l-3.5 2.7zM1154.1 487.3l3.5-2.7l1.7 2.1l-3.5 2.7zM1156.9 485.0l3.5-2.7l1.7 2.1l-3.5 2.7zM1185.6 462.3l3.5-2.7l1.8 2.1l-3.5 2.7zM1188.5 460.0l3.5-2.7l1.8 2.1l-3.5 2.7zM1132.3 506.9l3.5-2.7l1.7 2.0l-3.5 2.7zM1146.7 495.6l3.5-2.7l1.7 2.1l-3.5 2.7zM1161.0 484.2l3.5-2.7l1.7 2.1l-3.5 2.7zM1107.7 528.8l3.5-2.7l1.7 2.0l-3.5 2.7zM1113.5 524.2l3.5-2.7l1.7 2.0l-3.5 2.7zM1142.2 501.6l3.5-2.7l1.7 2.1l-3.5 2.7zM1173.8 476.7l3.5-2.7l1.8 2.1l-3.5 2.7zM1188.1 465.3l3.5-2.7l1.8 2.1l-3.5 2.7zM1103.2 534.7l3.5-2.7l1.7 1.9l-3.5 2.7zM1111.8 527.9l3.5-2.7l1.7 2.0l-3.5 2.7zM1140.5 505.3l3.5-2.7l1.8 2.0l-3.5 2.7zM1110.1 531.6l3.5-2.7l1.8 1.9l-3.5 2.7zM1113.0 529.3l3.5-2.7l1.8 1.9l-3.5 2.7zM1153.3 497.7l3.5-2.7l1.8 2.0l-3.5 2.7zM1170.5 484.2l3.5-2.7l1.8 2.0l-3.5 2.7zM1236.7 432.2l3.5-2.7l1.9 2.1l-3.5 2.7zM1099.9 542.0l3.5-2.7l1.7 1.9l-3.5 2.7zM1105.6 537.5l3.5-2.7l1.7 1.9l-3.5 2.7zM1117.1 528.5l3.5-2.7l1.8 1.9l-3.5 2.7zM1157.4 496.9l3.5-2.7l1.8 2.0l-3.5 2.7zM1171.8 485.6l3.5-2.7l1.8 2.0l-3.5 2.7zM1183.4 476.6l3.5-2.7l1.8 2.0l-3.5 2.7zM1138.6 514.1l3.5-2.7l1.8 2.0l-3.5 2.7zM1147.2 507.3l3.5-2.7l1.8 2.0l-3.5 2.7zM1155.9 500.6l3.5-2.7l1.8 2.0l-3.5 2.7zM1161.6 496.1l3.5-2.7l1.8 2.0l-3.5 2.7zM1213.5 455.5l3.5-2.7l1.9 2.1l-3.5 2.7zM1222.1 448.8l3.5-2.7l1.9 2.1l-3.5 2.7zM1108.1 540.2l3.5-2.7l1.7 1.9l-3.5 2.7zM1131.2 522.2l3.5-2.7l1.8 2.0l-3.5 2.7zM1134.1 520.0l3.5-2.7l1.8 2.0l-3.5 2.7zM1137.0 517.7l3.5-2.7l1.8 2.0l-3.5 2.7zM1142.7 513.2l3.5-2.7l1.8 2.0l-3.5 2.7zM1197.5 470.5l3.5-2.7l1.9 2.1l-3.5 2.7zM1214.8 457.0l3.5-2.7l1.9 2.1l-3.5 2.7zM1217.7 454.8l3.5-2.7l1.9 2.1l-3.5 2.7zM1161.3 501.2l3.5-2.7l1.8 2.0l-3.5 2.7zM1213.3 460.7l3.5-2.7l1.9 2.1l-3.5 2.7zM1136.6 522.8l3.5-2.7l1.8 2.0l-3.5 2.7zM1153.9 509.3l3.5-2.7l1.8 2.0l-3.5 2.7zM1214.6 462.2l3.5-2.7l1.9 2.1l-3.5 2.7zM1223.3 455.5l3.5-2.7l1.9 2.1l-3.5 2.7zM1229.0 451.0l3.5-2.7l1.9 2.1l-3.5 2.7zM1123.4 535.4l3.5-2.7l1.8 1.9l-3.5 2.7zM1187.0 486.1l3.5-2.7l1.8 2.0l-3.5 2.7zM1218.8 461.5l3.5-2.7l1.9 2.1l-3.5 2.7zM1221.7 459.2l3.5-2.7l1.9 2.1l-3.5 2.7zM1224.6 457.0l3.5-2.7l1.9 2.1l-3.5 2.7zM1227.5 454.8l3.5-2.7l1.9 2.1l-3.5 2.7zM1233.3 450.3l3.5-2.7l1.9 2.1l-3.5 2.7zM1236.2 448.0l3.5-2.7l1.9 2.1l-3.5 2.7zM1113.1 545.7l3.5-2.7l1.7 1.9l-3.5 2.7zM1211.5 469.7l3.5-2.7l1.9 2.1l-3.5 2.7zM1220.2 463.0l3.5-2.7l1.9 2.1l-3.5 2.7zM1228.8 456.3l3.5-2.7l1.9 2.1l-3.5 2.7zM1234.6 451.8l3.5-2.7l1.9 2.1l-3.5 2.7zM1237.5 449.5l3.5-2.7l1.9 2.1l-3.5 2.7zM1240.4 447.3l3.5-2.7l1.9 2.1l-3.5 2.7zM1108.6 551.6l3.5-2.7l1.7 1.9l-3.5 2.7zM1114.3 547.1l3.5-2.7l1.7 1.9l-3.5 2.7zM1117.2 544.9l3.5-2.7l1.8 1.9l-3.5 2.7zM1146.2 522.5l3.5-2.7l1.8 2.0l-3.5 2.7zM1209.9 473.4l3.5-2.7l1.9 2.1l-3.5 2.7zM1224.4 462.2l3.5-2.7l1.9 2.1l-3.5 2.7zM1233.1 455.5l3.5-2.7l1.9 2.1l-3.5 2.7zM1236.0 453.3l3.5-2.7l1.9 2.1l-3.5 2.7zM1244.7 446.6l3.5-2.7l1.9 2.1l-3.5 2.7zM1247.6 444.4l3.5-2.7l1.9 2.1l-3.5 2.7zM1162.0 512.8l3.5-2.7l1.8 2.0l-3.5 2.7zM1185.1 494.9l3.5-2.7l1.8 2.0l-3.5 2.7zM1208.3 477.1l3.5-2.7l1.9 2.1l-3.5 2.7zM1211.2 474.9l3.5-2.7l1.9 2.1l-3.5 2.7zM1234.4 457.0l3.5-2.7l1.9 2.1l-3.5 2.7zM1240.2 452.6l3.5-2.7l1.9 2.1l-3.5 2.7zM1243.1 450.3l3.5-2.7l1.9 2.1l-3.5 2.7zM1246.0 448.1l3.5-2.7l1.9 2.1l-3.5 2.7zM1125.5 543.2l3.5-2.7l1.8 1.9l-3.5 2.7zM1177.7 503.1l3.5-2.7l1.8 2.0l-3.5 2.7zM1189.4 494.2l3.5-2.7l1.8 2.0l-3.5 2.7zM1201.0 485.3l3.5-2.7l1.8 2.1l-3.5 2.7zM1215.5 474.1l3.5-2.7l1.9 2.1l-3.5 2.7zM1221.3 469.7l3.5-2.7l1.9 2.1l-3.5 2.7zM1224.2 467.4l3.5-2.7l1.9 2.1l-3.5 2.7zM1227.1 465.2l3.5-2.7l1.9 2.1l-3.5 2.7zM1230.0 463.0l3.5-2.7l1.9 2.1l-3.5 2.7zM1235.8 458.5l3.5-2.7l1.9 2.1l-3.5 2.7zM1238.7 456.3l3.5-2.7l1.9 2.1l-3.5 2.7zM1241.6 454.1l3.5-2.7l1.9 2.1l-3.5 2.7zM1244.5 451.8l3.5-2.7l1.9 2.1l-3.5 2.7zM1250.3 447.4l3.5-2.7l1.9 2.1l-3.5 2.7zM1253.2 445.2l3.5-2.7l1.9 2.1l-3.5 2.7zM1112.3 555.7l3.5-2.7l1.7 1.9l-3.5 2.7zM1129.7 542.3l3.5-2.7l1.8 1.9l-3.5 2.7zM1164.5 515.6l3.5-2.7l1.8 2.0l-3.5 2.7zM1179.0 504.5l3.5-2.7l1.8 2.0l-3.5 2.7zM1187.8 497.8l3.5-2.7l1.8 2.0l-3.5 2.7zM1211.0 480.0l3.5-2.7l1.9 2.1l-3.5 2.7zM1219.7 473.4l3.5-2.7l1.9 2.1l-3.5 2.7zM1222.6 471.2l3.5-2.7l1.9 2.1l-3.5 2.7zM1225.5 468.9l3.5-2.7l1.9 2.1l-3.5 2.7zM1228.4 466.7l3.5-2.7l1.9 2.1l-3.5 2.7zM1231.3 464.5l3.5-2.7l1.9 2.1l-3.5 2.7zM1234.2 462.3l3.5-2.7l1.9 2.1l-3.5 2.7zM1237.1 460.0l3.5-2.7l1.9 2.1l-3.5 2.7zM1240.0 457.8l3.5-2.7l1.9 2.1l-3.5 2.7zM1242.9 455.6l3.5-2.7l1.9 2.1l-3.5 2.7zM1212.3 481.5l3.5-2.7l1.9 2.1l-3.5 2.7zM1215.2 479.3l3.5-2.7l1.9 2.1l-3.5 2.7zM1241.4 459.3l3.5-2.7l1.9 2.1l-3.5 2.7zM1250.1 452.7l3.5-2.7l1.9 2.1l-3.5 2.7zM1114.8 558.4l3.5-2.7l1.7 1.9l-3.5 2.7zM1167.1 518.5l3.5-2.7l1.8 2.0l-3.5 2.7zM1190.4 500.7l3.5-2.7l1.8 2.0l-3.5 2.7zM1199.1 494.1l3.5-2.7l1.8 2.0l-3.5 2.7zM1204.9 489.7l3.5-2.7l1.8 2.1l-3.5 2.7zM1216.5 480.8l3.5-2.7l1.9 2.1l-3.5 2.7zM1225.3 474.1l3.5-2.7l1.9 2.1l-3.5 2.7zM1150.9 533.2l3.5-2.7l1.8 2.0l-3.5 2.7zM1156.7 528.8l3.5-2.7l1.8 2.0l-3.5 2.7zM1188.8 504.4l3.5-2.7l1.8 2.0l-3.5 2.7zM1209.1 488.9l3.5-2.7l1.9 2.1l-3.5 2.7zM1217.9 482.3l3.5-2.7l1.9 2.1l-3.5 2.7zM1220.8 480.0l3.5-2.7l1.9 2.1l-3.5 2.7zM1249.9 457.9l3.5-2.7l1.9 2.1l-3.5 2.7zM1252.8 455.7l3.5-2.7l1.9 2.1l-3.5 2.7zM1255.7 453.5l3.5-2.7l1.9 2.1l-3.5 2.7zM1258.6 451.3l3.5-2.7l1.9 2.1l-3.5 2.7zM1261.5 449.0l3.5-2.7l1.9 2.1l-3.5 2.7zM1163.8 525.8l3.5-2.7l1.8 2.0l-3.5 2.7zM1166.8 523.5l3.5-2.7l1.8 2.0l-3.5 2.7zM1198.8 499.2l3.5-2.7l1.9 2.0l-3.5 2.7zM1207.5 492.6l3.5-2.7l1.9 2.0l-3.5 2.7zM1213.4 488.2l3.5-2.7l1.9 2.0l-3.5 2.7zM1222.1 481.5l3.5-2.7l1.9 2.0l-3.5 2.7zM1251.2 459.4l3.5-2.7l1.9 2.1l-3.5 2.7zM1254.1 457.2l3.5-2.7l1.9 2.1l-3.5 2.7zM1260.0 452.8l3.5-2.7l1.9 2.1l-3.5 2.7zM1262.9 450.6l3.5-2.7l1.9 2.1l-3.5 2.7zM1265.8 448.4l3.5-2.7l1.9 2.1l-3.5 2.7zM1268.7 446.1l3.5-2.7l2.0 2.1l-3.5 2.7zM1136.0 549.2l3.5-2.7l1.8 1.9l-3.5 2.7zM1153.5 536.0l3.5-2.7l1.8 1.9l-3.5 2.7zM1194.3 505.1l3.5-2.7l1.9 2.0l-3.5 2.7zM1203.0 498.4l3.5-2.7l1.9 2.0l-3.5 2.7zM1206.0 496.2l3.5-2.7l1.9 2.0l-3.5 2.7zM1208.9 494.0l3.5-2.7l1.9 2.0l-3.5 2.7zM1211.8 491.8l3.5-2.7l1.9 2.0l-3.5 2.7zM1214.7 489.6l3.5-2.7l1.9 2.0l-3.5 2.7zM1217.6 487.4l3.5-2.7l1.9 2.0l-3.5 2.7zM1220.5 485.2l3.5-2.7l1.9 2.0l-3.5 2.7zM1223.4 483.0l3.5-2.7l1.9 2.0l-3.5 2.7zM1255.5 458.7l3.5-2.7l1.9 2.1l-3.5 2.7zM1264.3 452.1l3.5-2.7l1.9 2.1l-3.5 2.7zM1148.9 541.8l3.5-2.7l1.8 1.9l-3.5 2.7zM1192.7 508.7l3.5-2.7l1.9 2.0l-3.5 2.7zM1195.6 506.5l3.5-2.7l1.9 2.0l-3.5 2.7zM1201.5 502.1l3.5-2.7l1.9 2.0l-3.5 2.7zM1207.3 497.7l3.5-2.7l1.9 2.0l-3.5 2.7zM1251.1 464.6l3.5-2.7l1.9 2.1l-3.5 2.7zM1254.0 462.4l3.5-2.7l1.9 2.1l-3.5 2.7zM1259.8 458.0l3.5-2.7l1.9 2.1l-3.5 2.7zM1262.7 455.8l3.5-2.7l1.9 2.1l-3.5 2.7zM1265.6 453.6l3.5-2.7l1.9 2.1l-3.5 2.7zM1268.6 451.4l3.5-2.7l1.9 2.1l-3.5 2.7zM1202.8 503.5l3.5-2.7l1.9 2.0l-3.5 2.7zM1205.7 501.3l3.5-2.7l1.9 2.0l-3.5 2.7zM1208.6 499.1l3.5-2.7l1.9 2.0l-3.5 2.7zM1211.6 496.9l3.5-2.7l1.9 2.0l-3.5 2.7zM1217.4 492.5l3.5-2.7l1.9 2.0l-3.5 2.7zM1226.2 485.9l3.5-2.7l1.9 2.0l-3.5 2.7zM1258.3 461.7l3.5-2.7l1.9 2.1l-3.5 2.7zM1261.2 459.5l3.5-2.7l1.9 2.1l-3.5 2.7zM1264.1 457.3l3.5-2.7l1.9 2.1l-3.5 2.7zM1267.0 455.1l3.5-2.7l1.9 2.1l-3.5 2.7zM1169.1 531.3l3.5-2.7l1.8 2.0l-3.5 2.7zM1189.5 515.9l3.5-2.7l1.9 2.0l-3.5 2.7zM1195.4 511.5l3.5-2.7l1.9 2.0l-3.5 2.7zM1198.3 509.3l3.5-2.7l1.9 2.0l-3.5 2.7zM1204.1 504.9l3.5-2.7l1.9 2.0l-3.5 2.7zM1207.0 502.7l3.5-2.7l1.9 2.0l-3.5 2.7zM1212.9 498.3l3.5-2.7l1.9 2.0l-3.5 2.7zM1215.8 496.1l3.5-2.7l1.9 2.0l-3.5 2.7zM1259.6 463.2l3.5-2.7l1.9 2.1l-3.5 2.7zM1262.6 461.0l3.5-2.7l1.9 2.1l-3.5 2.7zM1265.5 458.8l3.5-2.7l1.9 2.1l-3.5 2.7zM1268.4 456.6l3.5-2.7l1.9 2.1l-3.5 2.7zM1271.3 454.4l3.5-2.7l1.9 2.1l-3.5 2.7zM1170.4 532.7l3.5-2.7l1.8 2.0l-3.5 2.7zM1173.3 530.5l3.5-2.7l1.8 2.0l-3.5 2.7zM1190.8 517.4l3.5-2.7l1.9 2.0l-3.5 2.7zM1202.5 508.6l3.5-2.7l1.9 2.0l-3.5 2.7zM1205.5 506.4l3.5-2.7l1.9 2.0l-3.5 2.7zM1214.2 499.8l3.5-2.7l1.9 2.0l-3.5 2.7zM1228.9 488.8l3.5-2.7l1.9 2.0l-3.5 2.7zM1266.9 460.3l3.5-2.7l1.9 2.1l-3.5 2.7zM1269.8 458.1l3.5-2.7l1.9 2.1l-3.5 2.7zM1124.8 569.2l3.5-2.7l1.8 1.9l-3.5 2.6zM1130.7 564.8l3.5-2.7l1.8 1.9l-3.5 2.6zM1171.7 534.1l3.5-2.7l1.8 2.0l-3.5 2.6zM1183.4 525.3l3.5-2.7l1.8 2.0l-3.5 2.6zM1203.9 510.0l3.5-2.7l1.9 2.0l-3.5 2.6zM1206.8 507.8l3.5-2.7l1.9 2.0l-3.5 2.6zM1218.5 499.0l3.5-2.7l1.9 2.0l-3.5 2.6zM1271.2 459.6l3.5-2.7l1.9 2.1l-3.5 2.6zM1274.1 457.4l3.5-2.7l1.9 2.1l-3.5 2.6zM1277.0 455.2l3.5-2.7l1.9 2.1l-3.5 2.6zM1280.0 453.0l3.5-2.7l2.0 2.1l-3.5 2.6zM1184.7 526.8l3.5-2.6l1.8 2.0l-3.5 2.6zM1205.2 511.4l3.5-2.6l1.9 2.0l-3.5 2.6zM1208.1 509.2l3.5-2.6l1.9 2.0l-3.5 2.6zM1272.6 461.1l3.5-2.6l1.9 2.1l-3.5 2.6zM1275.5 458.9l3.5-2.6l1.9 2.1l-3.5 2.6zM1278.4 456.7l3.5-2.6l1.9 2.1l-3.5 2.6zM1145.0 558.8l3.5-2.6l1.8 1.9l-3.6 2.6zM1177.2 534.7l3.5-2.6l1.8 2.0l-3.6 2.6zM1180.1 532.5l3.5-2.6l1.8 2.0l-3.6 2.6zM1194.8 521.6l3.5-2.6l1.9 2.0l-3.6 2.6zM1206.5 512.9l3.5-2.6l1.9 2.0l-3.6 2.6zM1212.4 508.5l3.5-2.6l1.9 2.0l-3.6 2.6zM1215.3 506.3l3.5-2.6l1.9 2.0l-3.6 2.6zM1218.3 504.1l3.5-2.6l1.9 2.0l-3.6 2.6zM1276.9 460.4l3.5-2.6l1.9 2.1l-3.6 2.6zM1279.8 458.2l3.5-2.6l1.9 2.1l-3.6 2.6zM1282.8 456.0l3.5-2.6l2.0 2.1l-3.6 2.6zM1143.3 562.3l3.6-2.6l1.8 1.9l-3.6 2.6zM1175.6 538.3l3.6-2.6l1.8 2.0l-3.6 2.6zM1207.9 514.3l3.6-2.6l1.9 2.0l-3.6 2.6zM1216.7 507.7l3.6-2.6l1.9 2.0l-3.6 2.6zM1219.6 505.6l3.6-2.6l1.9 2.0l-3.6 2.6zM1222.5 503.4l3.6-2.6l1.9 2.0l-3.6 2.6zM1228.4 499.0l3.6-2.6l1.9 2.0l-3.6 2.6zM1269.5 468.4l3.6-2.6l1.9 2.1l-3.6 2.6zM1272.4 466.3l3.6-2.6l1.9 2.1l-3.6 2.6zM1278.3 461.9l3.6-2.6l1.9 2.1l-3.6 2.6zM1150.5 559.3l3.6-2.6l1.8 1.9l-3.6 2.6zM1165.1 548.4l3.6-2.6l1.8 1.9l-3.6 2.6zM1171.0 544.1l3.6-2.6l1.8 1.9l-3.6 2.6zM1176.9 539.7l3.6-2.6l1.8 2.0l-3.6 2.6zM1179.8 537.5l3.6-2.6l1.8 2.0l-3.6 2.6zM1226.8 502.6l3.6-2.6l1.9 2.0l-3.6 2.6zM1232.7 498.3l3.6-2.6l1.9 2.0l-3.6 2.6zM1235.6 496.1l3.6-2.6l1.9 2.0l-3.6 2.6zM1262.0 476.5l3.6-2.6l1.9 2.1l-3.6 2.6zM1265.0 474.3l3.6-2.6l1.9 2.1l-3.6 2.6zM1270.9 469.9l3.6-2.6l1.9 2.1l-3.6 2.6zM1273.8 467.8l3.6-2.6l1.9 2.1l-3.6 2.6zM1276.7 465.6l3.6-2.6l1.9 2.1l-3.6 2.6zM1282.6 461.2l3.6-2.6l1.9 2.1l-3.6 2.6zM1151.7 560.7l3.6-2.6l1.8 1.9l-3.6 2.6zM1163.5 552.0l3.6-2.6l1.8 1.9l-3.6 2.6zM1175.3 543.3l3.6-2.6l1.8 2.0l-3.6 2.6zM1178.2 541.1l3.6-2.6l1.8 2.0l-3.6 2.6zM1219.3 510.6l3.6-2.6l1.9 2.0l-3.6 2.6zM1228.2 504.1l3.6-2.6l1.9 2.0l-3.6 2.6zM1231.1 501.9l3.6-2.6l1.9 2.0l-3.6 2.6zM1237.0 497.6l3.6-2.6l1.9 2.0l-3.6 2.6zM1257.5 482.3l3.6-2.6l1.9 2.1l-3.6 2.6zM1260.5 480.1l3.6-2.6l1.9 2.1l-3.6 2.6zM1263.4 478.0l3.6-2.6l1.9 2.1l-3.6 2.6zM1266.4 475.8l3.6-2.6l1.9 2.1l-3.6 2.6zM1269.3 473.6l3.6-2.6l1.9 2.1l-3.6 2.6zM1272.2 471.4l3.6-2.6l1.9 2.1l-3.6 2.6zM1275.2 469.3l3.6-2.6l1.9 2.1l-3.6 2.6zM1278.1 467.1l3.6-2.6l1.9 2.1l-3.6 2.6zM1281.1 464.9l3.6-2.6l1.9 2.1l-3.6 2.6zM1284.0 462.7l3.6-2.6l1.9 2.1l-3.6 2.6zM1158.9 557.7l3.6-2.6l1.3 1.4l-3.6 2.6zM1164.8 553.3l3.6-2.6l1.3 1.4l-3.6 2.6zM1182.4 540.3l3.6-2.6l1.3 1.4l-3.6 2.6zM1226.6 507.7l3.6-2.6l1.4 1.5l-3.6 2.6zM1229.5 505.5l3.6-2.6l1.4 1.5l-3.6 2.6zM1235.4 501.2l3.6-2.6l1.4 1.5l-3.6 2.6zM1238.3 499.0l3.6-2.6l1.4 1.5l-3.6 2.6zM1241.3 496.8l3.6-2.6l1.4 1.5l-3.6 2.6zM1247.1 492.5l3.6-2.6l1.4 1.5l-3.6 2.6zM1250.1 490.3l3.6-2.6l1.4 1.5l-3.6 2.6zM1253.0 488.1l3.6-2.6l1.4 1.5l-3.6 2.6zM1256.0 486.0l3.6-2.6l1.4 1.5l-3.6 2.6zM1258.9 483.8l3.6-2.6l1.4 1.5l-3.6 2.6zM1261.8 481.6l3.6-2.6l1.4 1.5l-3.6 2.6zM1264.8 479.5l3.6-2.6l1.4 1.5l-3.6 2.6zM1267.7 477.3l3.6-2.6l1.4 1.6l-3.6 2.6zM1273.6 472.9l3.6-2.6l1.4 1.6l-3.6 2.6zM1276.6 470.8l3.6-2.6l1.4 1.6l-3.6 2.6zM1285.4 464.2l3.6-2.6l1.4 1.6l-3.6 2.6zM1291.3 459.9l3.6-2.6l1.4 1.6l-3.6 2.6z"/>
<path fill="#f7f600" d="M1061.5 408.2l3.3-3.0l0.6 2.6l-3.3 3.0zM1077.6 393.4l3.3-3.0l0.6 2.6l-3.3 3.0zM1107.2 366.2l3.3-3.0l0.7 2.6l-3.3 3.0zM1112.6 361.2l3.3-3.0l0.7 2.6l-3.3 3.0zM1136.8 338.9l3.3-3.0l0.7 2.7l-3.3 3.0zM1070.0 402.6l3.3-3.0l0.6 2.6l-3.3 3.0zM1083.4 390.3l3.3-3.0l0.6 2.6l-3.3 3.0zM1096.9 377.9l3.3-3.0l0.6 2.6l-3.3 3.0zM1131.9 345.8l3.3-3.0l0.7 2.7l-3.3 3.0zM1065.0 409.4l3.3-3.0l0.6 2.6l-3.3 3.0zM1073.1 402.0l3.3-3.0l0.6 2.6l-3.3 3.0zM1110.8 367.4l3.3-3.0l0.7 2.6l-3.3 3.0zM1057.3 418.6l3.3-3.0l0.6 2.5l-3.3 3.0zM1073.5 403.8l3.3-3.0l0.6 2.6l-3.3 3.0zM1081.6 396.4l3.3-3.0l0.6 2.6l-3.3 3.0zM1084.3 394.0l3.3-3.0l0.6 2.6l-3.3 3.0zM1124.8 357.0l3.3-3.0l0.7 2.6l-3.3 3.0zM1138.3 344.6l3.3-3.0l0.7 2.7l-3.3 3.0zM1057.7 420.5l3.3-3.0l0.6 2.5l-3.3 3.0zM1071.2 408.1l3.3-3.0l0.6 2.6l-3.3 3.0zM1087.4 393.4l3.3-3.0l0.6 2.6l-3.3 3.0zM1092.9 388.4l3.3-3.0l0.6 2.6l-3.3 3.0zM1117.2 366.3l3.3-3.0l0.7 2.6l-3.3 3.0zM1128.0 356.4l3.3-3.0l0.7 2.7l-3.3 3.0zM1133.4 351.5l3.3-3.0l0.7 2.7l-3.3 3.0zM1136.1 349.0l3.3-3.0l0.7 2.7l-3.3 3.0zM1141.5 344.1l3.3-3.0l0.7 2.7l-3.3 3.0zM1066.2 414.9l3.3-3.0l0.6 2.6l-3.3 3.0zM1133.9 353.4l3.3-3.0l0.7 2.7l-3.3 3.0zM1064.0 419.2l3.3-3.0l0.6 2.6l-3.3 3.0zM1077.5 406.9l3.3-3.0l0.6 2.6l-3.3 3.0zM1080.2 404.4l3.3-3.0l0.6 2.6l-3.3 3.0zM1082.9 402.0l3.3-3.0l0.6 2.6l-3.3 3.0zM1104.6 382.3l3.3-3.0l0.6 2.6l-3.3 3.0zM1120.8 367.6l3.3-3.0l0.7 2.6l-3.3 3.0zM1129.0 360.2l3.3-3.0l0.7 2.7l-3.3 3.0zM1139.8 350.3l3.3-3.0l0.7 2.7l-3.3 3.0zM1075.2 411.2l3.3-3.0l0.6 2.6l-3.3 3.0zM1088.8 398.9l3.3-3.0l0.6 2.6l-3.3 3.0zM1102.3 386.6l3.3-3.0l0.6 2.6l-3.3 3.0zM1110.5 379.3l3.3-3.0l0.7 2.6l-3.3 3.0zM1113.2 376.8l3.3-3.0l0.7 2.6l-3.3 3.0zM1124.0 367.0l3.3-3.0l0.7 2.6l-3.3 3.0zM1132.1 359.6l3.3-3.0l0.7 2.7l-3.3 3.0zM1064.8 422.8l3.3-3.0l0.6 2.6l-3.3 3.0zM1081.1 408.1l3.3-3.0l0.6 2.6l-3.3 3.0zM1089.2 400.7l3.3-3.0l0.6 2.6l-3.3 3.0zM1110.9 381.1l3.3-3.0l0.7 2.6l-3.3 3.0zM1119.1 373.8l3.3-3.0l0.7 2.6l-3.3 3.0zM1124.5 368.9l3.3-3.0l0.7 2.6l-3.3 3.0zM1146.2 349.2l3.3-3.0l0.7 2.7l-3.3 3.0zM1092.4 400.1l3.3-3.0l0.7 2.6l-3.3 3.0zM1100.5 392.8l3.3-3.0l0.7 2.6l-3.3 3.0zM1103.2 390.3l3.3-3.0l0.7 2.6l-3.3 3.0zM1108.7 385.4l3.3-3.0l0.7 2.6l-3.3 3.0zM1119.5 375.6l3.3-3.0l0.7 2.6l-3.3 3.0zM1125.0 370.7l3.3-3.0l0.7 2.6l-3.3 3.0zM1138.5 358.5l3.3-3.0l0.7 2.7l-3.3 3.0zM1146.7 351.2l3.3-3.0l0.7 2.7l-3.3 3.0zM1082.0 411.8l3.3-3.0l0.7 2.6l-3.3 3.0zM1087.4 406.9l3.3-3.0l0.7 2.6l-3.3 3.0zM1095.5 399.5l3.3-3.0l0.7 2.6l-3.3 3.0zM1114.6 382.4l3.3-3.0l0.7 2.6l-3.3 3.0zM1122.7 375.1l3.3-3.0l0.7 2.6l-3.3 3.0zM1141.8 358.0l3.3-3.0l0.8 2.7l-3.3 3.0zM1144.5 355.5l3.3-3.0l0.8 2.7l-3.3 3.0zM1066.1 428.3l3.3-3.0l0.6 2.5l-3.3 3.0zM1074.3 420.9l3.3-3.0l0.7 2.6l-3.3 3.0zM1079.7 416.0l3.3-3.0l0.7 2.6l-3.3 3.0zM1117.8 381.8l3.3-3.0l0.7 2.6l-3.3 3.0zM1128.7 372.1l3.3-3.0l0.7 2.6l-3.3 3.0zM1136.9 364.7l3.3-3.0l0.7 2.6l-3.3 3.0zM1142.3 359.8l3.3-3.0l0.8 2.7l-3.3 3.0zM1155.9 347.6l3.3-3.0l0.8 2.7l-3.3 3.0zM1074.7 422.7l3.3-3.0l0.7 2.6l-3.3 2.9zM1080.2 417.9l3.3-3.0l0.7 2.6l-3.3 2.9zM1085.6 413.0l3.3-3.0l0.7 2.6l-3.3 2.9zM1093.8 405.7l3.3-3.0l0.7 2.6l-3.3 2.9zM1112.9 388.6l3.3-3.0l0.7 2.6l-3.3 2.9zM1134.7 369.1l3.3-3.0l0.7 2.6l-3.3 2.9zM1148.3 356.9l3.3-3.0l0.8 2.7l-3.3 2.9zM1153.7 352.0l3.3-3.0l0.8 2.7l-3.3 2.9zM1086.1 414.8l3.3-2.9l0.7 2.6l-3.3 2.9zM1091.6 409.9l3.3-2.9l0.7 2.6l-3.3 2.9zM1121.5 383.1l3.3-2.9l0.7 2.6l-3.3 2.9zM1132.5 373.4l3.3-2.9l0.7 2.6l-3.3 2.9zM1135.2 370.9l3.3-2.9l0.7 2.6l-3.3 2.9zM1140.6 366.1l3.3-2.9l0.7 2.7l-3.3 2.9zM1143.4 363.6l3.3-2.9l0.8 2.7l-3.3 2.9zM1064.7 436.1l3.3-2.9l0.6 2.5l-3.3 2.9zM1072.9 428.8l3.3-2.9l0.7 2.5l-3.3 2.9zM1081.1 421.5l3.3-2.9l0.7 2.6l-3.3 2.9zM1083.9 419.1l3.3-2.9l0.7 2.6l-3.3 2.9zM1100.2 404.5l3.3-2.9l0.7 2.6l-3.3 2.9zM1105.7 399.6l3.3-2.9l0.7 2.6l-3.3 2.9zM1108.4 397.2l3.3-2.9l0.7 2.6l-3.3 2.9zM1122.1 385.0l3.3-2.9l0.7 2.6l-3.3 2.9zM1054.3 447.7l3.3-2.9l0.6 2.5l-3.3 2.9zM1057.0 445.2l3.3-2.9l0.6 2.5l-3.3 2.9zM1081.6 423.3l3.3-2.9l0.7 2.6l-3.3 2.9zM1098.0 408.7l3.3-2.9l0.7 2.6l-3.3 2.9zM1106.2 401.5l3.3-2.9l0.7 2.6l-3.3 2.9zM1114.4 394.2l3.3-2.9l0.7 2.6l-3.3 2.9zM1160.8 352.8l3.3-2.9l0.8 2.7l-3.3 2.9zM1098.5 410.6l3.3-2.9l0.7 2.6l-3.3 2.9zM1103.9 405.7l3.3-2.9l0.7 2.6l-3.3 2.9zM1164.1 352.3l3.3-2.9l0.8 2.7l-3.3 2.9zM1071.6 436.7l3.3-2.9l0.7 2.5l-3.3 2.9zM1082.5 427.0l3.3-2.9l0.7 2.6l-3.3 2.9zM1112.6 400.3l3.3-2.9l0.7 2.6l-3.3 2.9zM1120.9 393.0l3.3-2.9l0.7 2.6l-3.3 2.9zM1148.2 368.8l3.3-2.9l0.8 2.7l-3.3 2.9zM1096.7 416.7l3.3-2.9l0.7 2.6l-3.3 2.9zM1102.2 411.9l3.3-2.9l0.7 2.6l-3.3 2.9zM1058.8 452.4l3.3-2.9l0.6 2.5l-3.3 2.9zM1119.1 399.2l3.3-2.9l0.7 2.6l-3.3 2.9zM1127.4 391.9l3.3-2.9l0.7 2.6l-3.3 2.9zM1070.2 444.5l3.3-2.9l0.7 2.5l-3.3 2.9zM1073.0 442.1l3.3-2.9l0.7 2.5l-3.3 2.9zM1081.2 434.9l3.3-2.9l0.7 2.6l-3.3 2.9zM1125.1 396.2l3.3-2.9l0.7 2.6l-3.3 2.9zM1067.9 448.8l3.3-2.9l0.7 2.5l-3.3 2.9zM1070.7 446.4l3.3-2.9l0.7 2.5l-3.3 2.9zM1073.4 443.9l3.3-2.9l0.7 2.5l-3.3 2.9zM1087.2 431.9l3.3-2.9l0.7 2.6l-3.3 2.9zM1100.9 419.8l3.3-2.9l0.7 2.6l-3.3 2.9zM1150.4 376.4l3.3-2.9l0.8 2.7l-3.3 2.9zM1090.4 431.3l3.3-2.9l0.7 2.6l-3.3 2.9zM1095.9 426.5l3.3-2.9l0.7 2.6l-3.3 2.9zM1098.7 424.1l3.3-2.9l0.7 2.6l-3.3 2.9zM1170.2 361.4l3.3-2.9l0.8 2.7l-3.3 2.9zM1068.9 452.4l3.3-2.9l0.7 2.5l-3.3 2.9zM1104.7 421.1l3.3-2.9l0.7 2.6l-3.3 2.9zM1132.2 397.0l3.3-2.9l0.7 2.6l-3.3 2.9zM1085.9 439.8l3.3-2.9l0.7 2.6l-3.3 2.9zM1102.4 425.3l3.3-2.9l0.7 2.6l-3.3 2.9zM1143.7 389.3l3.3-2.9l0.8 2.6l-3.3 2.9zM1113.9 417.6l3.3-2.9l0.7 2.6l-3.3 2.9zM1078.6 450.6l3.3-2.9l0.7 2.5l-3.3 2.9zM1084.1 445.8l3.3-2.9l0.7 2.6l-3.3 2.9zM1092.4 438.6l3.3-2.9l0.7 2.6l-3.3 2.9zM1092.8 440.4l3.3-2.9l0.7 2.6l-3.3 2.9zM1095.6 438.0l3.3-2.9l0.7 2.6l-3.3 2.9zM1098.4 435.6l3.3-2.9l0.7 2.6l-3.3 2.9zM1096.1 439.9l3.3-2.9l0.7 2.6l-3.4 2.9zM1101.6 435.1l3.3-2.9l0.7 2.6l-3.4 2.9zM1093.8 444.1l3.3-2.9l0.7 2.6l-3.4 2.9zM1108.2 434.0l3.4-2.9l0.7 2.6l-3.4 2.9zM1094.8 447.8l3.4-2.9l0.6 2.6l-3.4 2.9zM1095.2 449.6l3.4-2.9l0.5 2.6l-3.4 2.9zM1098.0 447.2l3.4-2.9l0.5 2.6l-3.4 2.9zM1111.9 435.3l3.4-2.9l0.5 2.6l-3.4 2.9zM1178.5 378.2l3.4-2.9l0.6 2.7l-3.4 2.9zM1076.1 468.1l3.4-2.9l0.5 2.6l-3.4 2.9zM1078.9 465.7l3.4-2.9l0.5 2.6l-3.4 2.9zM1090.0 456.2l3.4-2.9l0.5 2.6l-3.4 2.9zM1176.2 382.5l3.4-2.9l0.6 2.7l-3.4 2.9zM1082.0 465.2l3.4-2.9l0.5 2.6l-3.4 2.9zM1093.2 455.7l3.4-2.9l0.5 2.6l-3.4 2.9zM1076.8 471.8l3.4-2.9l0.5 2.6l-3.4 2.9zM1079.6 469.4l3.4-2.9l0.5 2.6l-3.4 2.9zM1090.7 459.9l3.4-2.9l0.5 2.6l-3.4 2.9zM1085.5 466.5l3.4-2.9l0.5 2.6l-3.4 2.9zM1107.8 447.5l3.4-2.9l0.5 2.6l-3.4 2.9zM1180.3 386.0l3.4-2.9l0.6 2.7l-3.4 2.9zM1085.9 468.3l3.4-2.9l0.5 2.6l-3.4 2.9zM1091.5 463.6l3.4-2.9l0.5 2.6l-3.4 2.9zM1111.0 447.0l3.4-2.9l0.5 2.6l-3.4 2.9zM1175.1 392.6l3.4-2.9l0.6 2.7l-3.4 2.9zM1077.9 477.3l3.4-2.9l0.5 2.6l-3.4 2.9zM1089.4 469.7l3.4-2.9l0.5 2.6l-3.4 2.9zM1095.0 464.9l3.4-2.9l0.5 2.6l-3.4 2.9zM1073.0 485.6l3.4-2.9l0.5 2.6l-3.4 2.8zM1081.4 478.6l3.4-2.9l0.5 2.6l-3.4 2.8zM1078.9 482.8l3.4-2.8l0.8 2.4l-3.4 2.8zM1084.5 478.1l3.4-2.8l0.8 2.5l-3.4 2.8zM1174.1 402.7l3.4-2.8l0.9 2.6l-3.4 2.8zM1079.3 484.6l3.4-2.8l1.7 2.0l-3.4 2.8zM1090.5 475.2l3.4-2.8l1.7 2.0l-3.4 2.8zM1096.1 470.5l3.4-2.8l1.7 2.0l-3.4 2.8zM1100.1 469.6l3.4-2.8l1.8 2.0l-3.4 2.8zM1175.8 406.2l3.4-2.8l1.9 2.1l-3.4 2.8zM1078.9 489.8l3.4-2.8l1.8 1.9l-3.4 2.8zM1080.1 491.2l3.4-2.8l1.8 1.9l-3.4 2.8zM1082.9 488.8l3.4-2.8l1.8 1.9l-3.4 2.8zM1094.2 479.4l3.4-2.8l1.8 2.0l-3.4 2.8zM1184.1 404.5l3.4-2.8l1.9 2.1l-3.4 2.8zM1089.8 485.5l3.4-2.8l1.8 2.0l-3.4 2.8zM1109.5 469.2l3.4-2.8l1.8 2.0l-3.4 2.8zM1112.3 466.8l3.4-2.8l1.8 2.0l-3.4 2.8zM1120.7 459.8l3.4-2.8l1.8 2.0l-3.4 2.8zM1091.1 486.9l3.4-2.8l1.8 2.0l-3.4 2.8zM1110.8 470.6l3.4-2.8l1.8 2.0l-3.4 2.8zM1212.1 386.5l3.4-2.8l1.9 2.1l-3.4 2.8zM1083.9 495.3l3.4-2.8l1.8 1.9l-3.4 2.8zM1092.3 488.3l3.4-2.8l1.8 2.0l-3.4 2.8zM1185.3 411.3l3.4-2.8l1.9 2.1l-3.4 2.8zM1207.8 392.7l3.4-2.8l1.9 2.1l-3.4 2.8zM1073.8 506.0l3.4-2.8l1.7 1.9l-3.4 2.8zM1158.4 436.1l3.4-2.8l1.8 2.1l-3.4 2.8zM1080.7 502.7l3.4-2.8l1.7 1.9l-3.4 2.8zM1083.6 500.4l3.4-2.8l1.8 1.9l-3.4 2.8zM1089.2 495.8l3.4-2.8l1.8 1.9l-3.4 2.8zM1097.7 488.8l3.4-2.8l1.8 2.0l-3.4 2.8zM1165.4 433.0l3.4-2.8l1.9 2.1l-3.4 2.8zM1171.0 428.3l3.4-2.8l1.9 2.1l-3.4 2.8zM1098.9 490.2l3.4-2.8l1.8 2.0l-3.4 2.8zM1104.6 485.5l3.4-2.8l1.8 2.0l-3.4 2.8zM1155.4 443.7l3.4-2.8l1.8 2.0l-3.4 2.8zM1111.5 482.3l3.4-2.8l1.8 2.0l-3.4 2.8zM1084.5 506.9l3.4-2.8l1.7 1.9l-3.4 2.8zM1087.3 504.6l3.4-2.8l1.8 1.9l-3.4 2.8zM1090.1 502.2l3.4-2.8l1.8 1.9l-3.4 2.8zM1098.6 495.3l3.4-2.8l1.8 2.0l-3.4 2.8zM1085.7 508.3l3.4-2.8l1.7 2.0l-3.4 2.8zM1105.5 492.1l3.4-2.8l1.7 2.0l-3.4 2.8zM1111.2 487.4l3.4-2.8l1.8 2.0l-3.4 2.8zM1114.0 485.1l3.4-2.8l1.8 2.0l-3.4 2.8zM1089.8 507.3l3.4-2.8l1.7 2.0l-3.4 2.8zM1095.5 502.7l3.4-2.8l1.7 2.0l-3.4 2.8zM1180.5 433.4l3.4-2.8l1.8 2.1l-3.4 2.8zM1108.0 494.9l3.4-2.8l1.7 2.0l-3.4 2.8zM1176.1 439.5l3.4-2.8l1.8 2.1l-3.4 2.8zM1092.2 510.2l3.4-2.8l1.7 2.0l-3.4 2.8zM1109.2 496.4l3.4-2.8l1.7 2.0l-3.4 2.8zM1101.9 504.7l3.4-2.8l1.7 2.0l-3.4 2.8zM1121.8 488.6l3.4-2.8l1.7 2.0l-3.4 2.8zM1124.6 486.3l3.4-2.8l1.7 2.1l-3.4 2.8zM1094.6 513.0l3.4-2.8l1.7 2.0l-3.4 2.8zM1100.3 508.4l3.4-2.8l1.7 2.0l-3.4 2.8zM1090.1 519.1l3.4-2.8l1.7 2.0l-3.4 2.8zM1095.8 514.5l3.4-2.8l1.7 2.0l-3.4 2.8zM1107.1 505.3l3.4-2.8l1.7 2.0l-3.4 2.8zM1112.8 500.7l3.4-2.8l1.7 2.0l-3.4 2.8zM1115.3 503.6l3.5-2.8l1.7 2.0l-3.5 2.8zM1125.0 498.2l3.5-2.8l1.7 2.0l-3.5 2.8zM1106.3 515.6l3.5-2.8l1.7 2.0l-3.5 2.8zM1174.8 460.8l3.5-2.8l1.8 2.1l-3.5 2.8zM1177.7 458.5l3.5-2.8l1.8 2.1l-3.5 2.8zM1104.6 519.3l3.5-2.8l1.7 2.0l-3.5 2.8zM1110.3 514.8l3.5-2.8l1.7 2.0l-3.5 2.8zM1097.2 527.6l3.5-2.8l1.7 2.0l-3.5 2.7zM1171.6 468.4l3.5-2.8l1.8 2.1l-3.5 2.7zM1177.3 463.8l3.5-2.8l1.8 2.1l-3.5 2.7zM1104.1 524.5l3.5-2.8l1.7 2.0l-3.5 2.7zM1115.6 515.4l3.5-2.8l1.7 2.0l-3.5 2.7zM1121.3 510.8l3.5-2.8l1.7 2.0l-3.5 2.7zM1099.6 530.4l3.5-2.7l1.7 2.0l-3.5 2.7zM1108.2 523.6l3.5-2.7l1.7 2.0l-3.5 2.7zM1116.8 516.8l3.5-2.7l1.7 2.0l-3.5 2.7zM1179.9 466.9l3.5-2.7l1.8 2.1l-3.5 2.7zM1109.4 525.1l3.5-2.7l1.7 2.0l-3.5 2.7zM1185.2 467.6l3.5-2.7l1.8 2.1l-3.5 2.7zM1117.5 523.4l3.5-2.7l1.7 2.0l-3.5 2.7zM1120.4 521.1l3.5-2.7l1.7 2.0l-3.5 2.7zM1126.1 516.6l3.5-2.7l1.8 2.0l-3.5 2.7zM1118.8 524.8l3.5-2.7l1.8 2.0l-3.5 2.7zM1124.5 520.3l3.5-2.7l1.8 2.0l-3.5 2.7zM1184.9 472.9l3.5-2.7l1.8 2.1l-3.5 2.7zM1108.5 535.2l3.5-2.7l1.8 1.9l-3.5 2.7zM1111.4 533.0l3.5-2.7l1.8 1.9l-3.5 2.7zM1134.4 514.9l3.5-2.7l1.8 2.0l-3.5 2.7zM1112.6 534.3l3.5-2.7l1.8 1.9l-3.5 2.7zM1111.0 538.0l3.5-2.7l1.8 1.9l-3.5 2.7zM1122.5 529.0l3.5-2.7l1.8 2.0l-3.5 2.7zM1186.0 479.5l3.5-2.7l1.8 2.0l-3.5 2.7zM1109.4 541.6l3.5-2.7l1.7 1.9l-3.5 2.7zM1120.9 532.6l3.5-2.7l1.8 1.9l-3.5 2.7zM1141.1 516.9l3.5-2.7l1.8 2.0l-3.5 2.7zM1178.6 487.7l3.5-2.7l1.8 2.0l-3.5 2.7zM1194.4 477.9l3.5-2.7l1.8 2.1l-3.5 2.7zM1153.6 514.4l3.5-2.7l1.8 2.0l-3.5 2.7zM1149.1 520.3l3.5-2.7l1.8 2.0l-3.5 2.7zM1154.9 515.8l3.5-2.7l1.8 2.0l-3.5 2.7zM1135.9 532.9l3.5-2.7l1.8 2.0l-3.5 2.7zM1138.8 530.6l3.5-2.7l1.8 2.0l-3.5 2.7zM1144.6 526.2l3.5-2.7l1.8 2.0l-3.5 2.7zM1153.3 519.5l3.5-2.7l1.8 2.0l-3.5 2.7zM1196.7 486.0l3.5-2.7l1.8 2.1l-3.5 2.7zM1116.8 549.8l3.5-2.7l1.7 1.9l-3.5 2.7zM1134.2 536.5l3.5-2.7l1.8 2.0l-3.5 2.7zM1180.6 500.8l3.5-2.7l1.8 2.0l-3.5 2.7zM1183.6 498.6l3.5-2.7l1.8 2.0l-3.5 2.7zM1138.4 535.6l3.5-2.7l1.8 2.0l-3.5 2.7zM1141.3 533.4l3.5-2.7l1.8 2.0l-3.5 2.7zM1125.1 548.1l3.5-2.7l1.8 1.9l-3.5 2.7zM1130.9 543.7l3.5-2.7l1.8 1.9l-3.5 2.7zM1151.3 528.2l3.5-2.7l1.8 2.0l-3.5 2.7zM1183.2 503.7l3.5-2.7l1.8 2.0l-3.5 2.7zM1158.4 525.1l3.5-2.7l1.8 2.0l-3.5 2.7zM1181.6 507.4l3.5-2.7l1.8 2.0l-3.5 2.7zM1121.8 555.3l3.5-2.7l1.8 1.9l-3.5 2.7zM1127.6 550.9l3.5-2.7l1.8 1.9l-3.5 2.7zM1200.4 495.5l3.5-2.7l1.8 2.0l-3.5 2.7zM1133.1 551.4l3.5-2.7l1.8 1.9l-3.5 2.7zM1141.8 544.8l3.5-2.7l1.8 1.9l-3.5 2.7zM1144.7 542.6l3.5-2.7l1.8 1.9l-3.5 2.7zM1147.7 540.4l3.5-2.7l1.8 1.9l-3.5 2.7zM1119.8 563.8l3.5-2.7l1.8 1.9l-3.5 2.7zM1157.7 535.2l3.5-2.7l1.8 1.9l-3.5 2.7zM1160.6 533.0l3.5-2.7l1.8 1.9l-3.5 2.7zM1163.5 530.7l3.5-2.7l1.8 2.0l-3.5 2.7zM1126.9 560.8l3.5-2.7l1.8 1.9l-3.5 2.7zM1153.2 540.9l3.5-2.7l1.8 1.9l-3.5 2.7zM1154.4 542.3l3.5-2.7l1.8 1.9l-3.5 2.7zM1160.3 537.9l3.5-2.7l1.8 1.9l-3.5 2.7zM1163.2 535.7l3.5-2.7l1.8 1.9l-3.5 2.7zM1161.6 539.3l3.5-2.7l1.8 1.9l-3.5 2.7zM1157.0 545.1l3.5-2.7l1.8 1.9l-3.5 2.6zM1143.7 557.4l3.5-2.6l1.8 1.9l-3.5 2.6zM1146.6 555.2l3.5-2.6l1.8 1.9l-3.5 2.6zM1155.4 548.6l3.5-2.6l1.8 1.9l-3.5 2.6zM1161.3 544.3l3.5-2.6l1.8 1.9l-3.5 2.6zM1136.2 565.3l3.5-2.6l1.8 1.9l-3.6 2.6zM1150.8 554.4l3.5-2.6l1.8 1.9l-3.6 2.6zM1165.5 543.5l3.5-2.6l1.8 1.9l-3.6 2.6zM1168.4 541.3l3.5-2.6l1.8 1.9l-3.6 2.6zM1149.2 557.9l3.6-2.6l1.8 1.9l-3.6 2.6zM1135.8 570.2l3.6-2.6l1.8 1.9l-3.6 2.6zM1141.6 565.9l3.6-2.6l1.8 1.9l-3.6 2.6zM1141.3 570.7l3.6-2.6l1.3 1.4l-3.6 2.6zM1167.7 551.2l3.6-2.6l1.3 1.4l-3.6 2.6z"/>
<path fill="#ffaf00" d="M1064.1 405.8l3.3-3.0l0.6 2.6l-3.3 3.0zM1083.0 388.4l3.3-3.0l0.6 2.6l-3.3 3.0zM1134.6 343.3l3.3-3.0l0.7 2.7l-3.3 3.0zM1059.6 414.4l3.3-3.0l0.6 2.5l-3.3 3.0zM1067.7 406.9l3.3-3.0l0.6 2.6l-3.3 3.0zM1116.2 362.5l3.3-3.0l0.7 2.6l-3.3 3.0zM1118.9 360.0l3.3-3.0l0.7 2.6l-3.3 3.0zM1124.3 355.1l3.3-3.0l0.7 2.6l-3.3 3.0zM1065.4 411.2l3.3-3.0l0.6 2.6l-3.3 3.0zM1076.6 403.2l3.3-3.0l0.6 2.6l-3.3 3.0zM1079.3 400.7l3.3-3.0l0.6 2.6l-3.3 3.0zM1069.0 412.4l3.3-3.0l0.6 2.6l-3.3 3.0zM1144.7 343.5l3.3-3.0l0.7 2.7l-3.3 3.0zM1074.8 409.3l3.3-3.0l0.6 2.6l-3.3 3.0zM1083.4 403.8l3.3-3.0l0.6 2.6l-3.3 3.0zM1115.9 374.3l3.3-3.0l0.7 2.6l-3.3 3.0zM1118.6 371.9l3.3-3.0l0.7 2.6l-3.3 3.0zM1105.5 386.0l3.3-3.0l0.6 2.6l-3.3 3.0zM1071.1 421.6l3.3-3.0l0.7 2.5l-3.3 3.0zM1111.9 384.9l3.3-3.0l0.7 2.6l-3.3 3.0zM1155.4 345.7l3.3-3.0l0.8 2.7l-3.3 3.0zM1068.8 425.8l3.3-3.0l0.7 2.5l-3.3 3.0zM1147.7 355.0l3.3-3.0l0.8 2.7l-3.3 3.0zM1072.0 425.2l3.3-3.0l0.7 2.5l-3.3 2.9zM1121.0 381.3l3.3-3.0l0.7 2.6l-3.3 2.9zM1151.0 354.4l3.3-3.0l0.8 2.7l-3.3 2.9zM1088.8 412.4l3.3-2.9l0.7 2.6l-3.3 2.9zM1094.3 407.5l3.3-2.9l0.7 2.6l-3.3 2.9zM1078.4 423.9l3.3-2.9l0.7 2.6l-3.3 2.9zM1113.9 392.3l3.3-2.9l0.7 2.6l-3.3 2.9zM1072.1 438.5l3.3-2.9l0.7 2.5l-3.3 2.9zM1148.8 370.7l3.3-2.9l0.8 2.7l-3.3 2.9zM1162.5 358.6l3.3-2.9l0.8 2.7l-3.3 2.9zM1165.8 358.0l3.3-2.9l0.8 2.7l-3.3 2.9zM1078.5 437.3l3.3-2.9l0.7 2.6l-3.3 2.9zM1089.4 427.6l3.3-2.9l0.7 2.6l-3.3 2.9zM1147.1 376.9l3.3-2.9l0.8 2.7l-3.3 2.9zM1099.2 425.9l3.3-2.9l0.7 2.6l-3.3 2.9zM1152.5 383.9l3.3-2.9l0.8 2.7l-3.3 2.9zM1075.8 453.0l3.3-2.9l0.7 2.5l-3.3 2.9zM1076.3 454.8l3.3-2.9l0.7 2.5l-3.3 2.9zM1079.0 452.4l3.3-2.9l0.7 2.5l-3.3 2.9zM1087.3 445.2l3.3-2.9l0.7 2.6l-3.3 2.9zM1082.3 451.8l3.3-2.9l0.7 2.5l-3.4 2.9zM1178.0 376.2l3.4-2.9l0.7 2.7l-3.4 2.9zM1078.5 463.9l3.4-2.9l0.5 2.6l-3.4 2.9zM1084.1 459.1l3.4-2.9l0.5 2.6l-3.4 2.9zM1084.2 476.2l3.4-2.9l0.5 2.6l-3.4 2.8zM1081.7 480.4l3.4-2.8l0.8 2.4l-3.4 2.8zM1070.9 491.7l3.4-2.8l1.6 2.0l-3.4 2.8zM1073.7 489.3l3.4-2.8l1.7 2.0l-3.4 2.8zM1087.0 487.9l3.4-2.8l1.8 2.0l-3.4 2.8zM1205.0 395.0l3.4-2.8l1.9 2.1l-3.4 2.8zM1099.2 485.1l3.4-2.8l1.8 2.0l-3.4 2.8zM1180.8 422.8l3.4-2.8l1.9 2.1l-3.4 2.8zM1103.5 501.0l3.4-2.8l1.7 2.0l-3.4 2.8zM1099.1 507.0l3.4-2.8l1.7 2.0l-3.4 2.8zM1116.0 510.2l3.5-2.8l1.7 2.0l-3.5 2.8zM1167.5 469.2l3.5-2.8l1.8 2.1l-3.5 2.8zM1098.4 529.0l3.5-2.8l1.7 2.0l-3.5 2.7zM1119.7 514.5l3.5-2.7l1.7 2.0l-3.5 2.7zM1177.0 469.1l3.5-2.7l1.8 2.1l-3.5 2.7zM1186.5 469.1l3.5-2.7l1.8 2.1l-3.5 2.7zM1182.0 475.1l3.5-2.7l1.8 2.0l-3.5 2.7zM1102.7 539.7l3.5-2.7l1.7 1.9l-3.5 2.7zM1106.9 538.8l3.5-2.7l1.7 1.9l-3.5 2.7zM1120.1 542.6l3.5-2.7l1.8 1.9l-3.5 2.7zM1137.1 534.3l3.5-2.7l1.8 2.0l-3.5 2.7zM1147.1 529.0l3.5-2.7l1.8 2.0l-3.5 2.7zM1122.2 550.4l3.5-2.7l1.8 1.9l-3.5 2.7zM1142.6 534.8l3.5-2.7l1.8 2.0l-3.5 2.7zM1196.2 496.3l3.5-2.7l1.8 2.0l-3.5 2.7zM1139.3 542.1l3.5-2.7l1.8 1.9l-3.5 2.7zM1137.6 545.7l3.5-2.7l1.8 1.9l-3.5 2.7zM1135.6 554.2l3.5-2.7l1.8 1.9l-3.5 2.7zM1135.3 559.1l3.5-2.7l1.8 1.9l-3.5 2.7zM1158.7 541.5l3.5-2.7l1.8 1.9l-3.5 2.7zM1154.1 547.3l3.5-2.7l1.8 1.9l-3.5 2.6zM1132.0 566.2l3.5-2.6l1.8 1.9l-3.5 2.6z"/>
<path fill="#ffde00" d="M1074.9 395.9l3.3-3.0l0.6 2.6l-3.3 3.0zM1109.9 363.7l3.3-3.0l0.7 2.6l-3.3 3.0zM1107.7 368.0l3.3-3.0l0.7 2.6l-3.3 3.0zM1118.5 358.1l3.3-3.0l0.7 2.6l-3.3 3.0zM1081.2 394.6l3.3-3.0l0.6 2.6l-3.3 3.0zM1105.4 372.4l3.3-3.0l0.6 2.6l-3.3 3.0zM1127.0 352.6l3.3-3.0l0.7 2.7l-3.3 3.0zM1135.1 345.2l3.3-3.0l0.7 2.7l-3.3 3.0zM1108.6 371.8l3.3-3.0l0.7 2.6l-3.3 3.0zM1119.4 361.9l3.3-3.0l0.7 2.6l-3.3 3.0zM1122.1 359.4l3.3-3.0l0.7 2.6l-3.3 3.0zM1127.5 354.5l3.3-3.0l0.7 2.7l-3.3 3.0zM1132.9 349.6l3.3-3.0l0.7 2.7l-3.3 3.0zM1141.0 342.2l3.3-3.0l0.7 2.7l-3.3 3.0zM1143.7 339.7l3.3-3.0l0.7 2.7l-3.3 3.0zM1060.4 418.0l3.3-3.0l0.6 2.5l-3.3 3.0zM1063.1 415.5l3.3-3.0l0.6 2.6l-3.3 3.0zM1068.5 410.6l3.3-3.0l0.6 2.6l-3.3 3.0zM1082.0 398.3l3.3-3.0l0.6 2.6l-3.3 3.0zM1084.7 395.8l3.3-3.0l0.6 2.6l-3.3 3.0zM1106.4 376.1l3.3-3.0l0.6 2.6l-3.3 3.0zM1114.5 368.7l3.3-3.0l0.7 2.6l-3.3 3.0zM1119.9 363.8l3.3-3.0l0.7 2.6l-3.3 3.0zM1122.6 361.3l3.3-3.0l0.7 2.6l-3.3 3.0zM1130.7 353.9l3.3-3.0l0.7 2.7l-3.3 3.0zM1082.5 400.1l3.3-3.0l0.6 2.6l-3.3 3.0zM1087.9 395.2l3.3-3.0l0.6 2.6l-3.3 3.0zM1098.7 385.4l3.3-3.0l0.6 2.6l-3.3 3.0zM1109.5 375.5l3.3-3.0l0.7 2.6l-3.3 3.0zM1117.6 368.1l3.3-3.0l0.7 2.6l-3.3 3.0zM1139.3 348.4l3.3-3.0l0.7 2.7l-3.3 3.0zM1142.0 346.0l3.3-3.0l0.7 2.7l-3.3 3.0zM1069.4 414.3l3.3-3.0l0.6 2.6l-3.3 3.0zM1072.1 411.8l3.3-3.0l0.6 2.6l-3.3 3.0zM1091.0 394.6l3.3-3.0l0.6 2.6l-3.3 3.0zM1093.7 392.1l3.3-3.0l0.6 2.6l-3.3 3.0zM1107.3 379.8l3.3-3.0l0.6 2.6l-3.3 3.0zM1118.1 370.0l3.3-3.0l0.7 2.6l-3.3 3.0zM1142.5 347.9l3.3-3.0l0.7 2.7l-3.3 3.0zM1147.9 343.0l3.3-3.0l0.7 2.7l-3.3 3.0zM1069.8 416.1l3.3-3.0l0.6 2.6l-3.3 3.0zM1140.3 352.2l3.3-3.0l0.7 2.7l-3.3 3.0zM1143.0 349.8l3.3-3.0l0.7 2.7l-3.3 3.0zM1145.7 347.3l3.3-3.0l0.7 2.7l-3.3 3.0zM1067.5 420.4l3.3-3.0l0.6 2.6l-3.3 3.0zM1072.9 415.4l3.3-3.0l0.6 2.6l-3.3 3.0zM1078.4 410.5l3.3-3.0l0.6 2.6l-3.3 3.0zM1094.6 395.8l3.3-3.0l0.6 2.6l-3.3 3.0zM1113.6 378.7l3.3-3.0l0.7 2.6l-3.3 3.0zM1143.5 351.7l3.3-3.0l0.7 2.7l-3.3 3.0zM1148.9 346.8l3.3-3.0l0.7 2.7l-3.3 3.0zM1151.6 344.3l3.3-3.0l0.7 2.7l-3.3 3.0zM1067.9 422.2l3.3-3.0l0.6 2.6l-3.3 3.0zM1070.6 419.7l3.3-3.0l0.6 2.6l-3.3 3.0zM1086.9 405.0l3.3-3.0l0.6 2.6l-3.3 3.0zM1089.7 402.6l3.3-3.0l0.7 2.6l-3.3 3.0zM1097.8 395.2l3.3-3.0l0.7 2.6l-3.3 3.0zM1111.4 383.0l3.3-3.0l0.7 2.6l-3.3 3.0zM1130.4 365.8l3.3-3.0l0.7 2.6l-3.3 3.0zM1149.4 348.7l3.3-3.0l0.7 2.7l-3.3 3.0zM1079.2 414.2l3.3-3.0l0.7 2.6l-3.3 3.0zM1117.3 380.0l3.3-3.0l0.7 2.6l-3.3 3.0zM1147.2 353.1l3.3-3.0l0.8 2.7l-3.3 3.0zM1149.9 350.6l3.3-3.0l0.8 2.7l-3.3 3.0zM1152.6 348.2l3.3-3.0l0.8 2.7l-3.3 3.0zM1106.9 391.6l3.3-3.0l0.7 2.6l-3.3 3.0zM1115.1 384.3l3.3-3.0l0.7 2.6l-3.3 3.0zM1126.0 374.5l3.3-3.0l0.7 2.6l-3.3 3.0zM1150.5 352.5l3.3-3.0l0.8 2.7l-3.3 3.0zM1153.2 350.1l3.3-3.0l0.8 2.7l-3.3 3.0zM1091.1 408.1l3.3-3.0l0.7 2.6l-3.3 2.9zM1115.6 386.1l3.3-3.0l0.7 2.6l-3.3 2.9zM1142.8 361.7l3.3-3.0l0.8 2.7l-3.3 2.9zM1080.7 419.7l3.3-2.9l0.7 2.6l-3.3 2.9zM1083.4 417.2l3.3-2.9l0.7 2.6l-3.3 2.9zM1099.7 402.6l3.3-2.9l0.7 2.6l-3.3 2.9zM1105.2 397.8l3.3-2.9l0.7 2.6l-3.3 2.9zM1086.6 416.6l3.3-2.9l0.7 2.6l-3.3 2.9zM1089.3 414.2l3.3-2.9l0.7 2.6l-3.3 2.9zM1092.0 411.8l3.3-2.9l0.7 2.6l-3.3 2.9zM1097.5 406.9l3.3-2.9l0.7 2.6l-3.3 2.9zM1116.6 389.9l3.3-2.9l0.7 2.6l-3.3 2.9zM1119.3 387.4l3.3-2.9l0.7 2.6l-3.3 2.9zM1067.9 435.5l3.3-2.9l0.6 2.5l-3.3 2.9zM1111.6 396.6l3.3-2.9l0.7 2.6l-3.3 2.9zM1128.0 382.0l3.3-2.9l0.7 2.6l-3.3 2.9zM1082.1 425.2l3.3-2.9l0.7 2.6l-3.3 2.9zM1109.4 400.9l3.3-2.9l0.7 2.6l-3.3 2.9zM1150.4 364.5l3.3-2.9l0.8 2.7l-3.3 2.9zM1066.1 441.5l3.3-2.9l0.6 2.5l-3.3 2.9zM1068.9 439.1l3.3-2.9l0.6 2.5l-3.3 2.9zM1104.4 407.6l3.3-2.9l0.7 2.6l-3.3 2.9zM1069.3 440.9l3.3-2.9l0.6 2.5l-3.3 2.9zM1080.3 431.2l3.3-2.9l0.7 2.6l-3.3 2.9zM1088.5 424.0l3.3-2.9l0.7 2.6l-3.3 2.9zM1151.5 368.2l3.3-2.9l0.8 2.7l-3.3 2.9zM1080.7 433.1l3.3-2.9l0.7 2.6l-3.3 2.9zM1083.5 430.6l3.3-2.9l0.7 2.6l-3.3 2.9zM1092.2 425.2l3.3-2.9l0.7 2.6l-3.3 2.9zM1059.7 456.0l3.3-2.9l0.6 2.5l-3.3 2.9zM1081.7 436.7l3.3-2.9l0.7 2.6l-3.3 2.9zM1084.4 434.3l3.3-2.9l0.7 2.6l-3.3 2.9zM1158.6 369.1l3.3-2.9l0.8 2.7l-3.3 2.9zM1084.9 436.1l3.3-2.9l0.7 2.6l-3.3 2.9zM1063.4 457.2l3.3-2.9l0.6 2.5l-3.3 2.9zM1096.4 428.3l3.3-2.9l0.7 2.6l-3.3 2.9zM1157.0 375.3l3.3-2.9l0.8 2.7l-3.3 2.9zM1165.2 368.1l3.3-2.9l0.8 2.7l-3.3 2.9zM1077.6 447.0l3.3-2.9l0.7 2.5l-3.3 2.9zM1080.4 444.6l3.3-2.9l0.7 2.5l-3.3 2.9zM1083.6 444.0l3.3-2.9l0.7 2.6l-3.3 2.9zM1086.4 441.6l3.3-2.9l0.7 2.6l-3.3 2.9zM1089.1 439.2l3.3-2.9l0.7 2.6l-3.3 2.9zM1119.5 412.8l3.3-2.9l0.7 2.6l-3.3 2.9zM1155.9 383.4l3.3-2.9l0.8 2.7l-3.3 2.9zM1070.7 459.6l3.3-2.9l0.7 2.5l-3.3 2.9zM1073.5 457.2l3.3-2.9l0.7 2.5l-3.3 2.9zM1074.0 459.0l3.3-2.9l0.7 2.5l-3.4 2.9zM1079.5 454.2l3.3-2.9l0.7 2.5l-3.4 2.9zM1087.8 447.0l3.3-2.9l0.7 2.6l-3.4 2.9zM1098.9 437.5l3.3-2.9l0.7 2.6l-3.4 2.9zM1082.7 453.7l3.3-2.9l0.7 2.5l-3.4 2.9zM1088.8 450.7l3.4-2.9l0.7 2.6l-3.4 2.9zM1078.1 462.1l3.4-2.9l0.5 2.6l-3.4 2.9zM1089.2 452.5l3.4-2.9l0.6 2.6l-3.4 2.9zM1081.3 461.5l3.4-2.9l0.5 2.6l-3.4 2.9zM1086.9 456.7l3.4-2.9l0.5 2.6l-3.4 2.9zM1092.4 452.0l3.4-2.9l0.5 2.6l-3.4 2.9zM1095.6 451.5l3.4-2.9l0.5 2.6l-3.4 2.9zM1176.6 384.4l3.4-2.9l0.6 2.7l-3.4 2.9zM1088.0 462.3l3.4-2.9l0.5 2.6l-3.4 2.9zM1174.3 388.8l3.4-2.9l0.6 2.7l-3.4 2.9zM1082.7 468.9l3.4-2.9l0.5 2.6l-3.4 2.9zM1091.1 461.8l3.4-2.9l0.5 2.6l-3.4 2.9zM1088.7 466.0l3.4-2.9l0.5 2.6l-3.4 2.9zM1086.2 470.2l3.4-2.9l0.5 2.6l-3.4 2.9zM1103.0 456.0l3.4-2.9l0.5 2.6l-3.4 2.9zM1092.2 467.3l3.4-2.9l0.5 2.6l-3.4 2.9zM1100.6 460.2l3.4-2.9l0.5 2.6l-3.4 2.9zM1173.2 398.9l3.4-2.9l0.6 2.7l-3.4 2.9zM1067.4 490.4l3.4-2.9l0.5 2.6l-3.4 2.8zM1087.3 475.7l3.4-2.8l0.8 2.5l-3.4 2.8zM1083.2 483.7l3.4-2.8l1.8 2.0l-3.4 2.8zM1108.5 462.6l3.4-2.8l1.8 2.0l-3.4 2.8zM1084.5 485.1l3.4-2.8l1.8 2.0l-3.4 2.8zM1085.7 486.5l3.4-2.8l1.8 2.0l-3.4 2.8zM1097.0 477.1l3.4-2.8l1.8 2.0l-3.4 2.8zM1095.1 486.0l3.4-2.8l1.8 2.0l-3.4 2.8zM1100.8 481.3l3.4-2.8l1.8 2.0l-3.4 2.8zM1082.3 499.0l3.4-2.8l1.8 1.9l-3.4 2.8zM1085.1 496.7l3.4-2.8l1.8 1.9l-3.4 2.8zM1093.6 489.7l3.4-2.8l1.8 2.0l-3.4 2.8zM1110.5 475.7l3.4-2.8l1.8 2.0l-3.4 2.8zM1147.2 445.5l3.4-2.8l1.8 2.0l-3.4 2.8zM1175.3 422.2l3.4-2.8l1.9 2.1l-3.4 2.8zM1181.0 417.5l3.4-2.8l1.9 2.1l-3.4 2.8zM1094.8 491.1l3.4-2.8l1.8 2.0l-3.4 2.8zM1103.3 484.1l3.4-2.8l1.8 2.0l-3.4 2.8zM1084.8 501.8l3.4-2.8l1.8 1.9l-3.4 2.8zM1087.6 499.5l3.4-2.8l1.8 1.9l-3.4 2.8zM1204.8 405.7l3.4-2.8l1.9 2.1l-3.4 2.8zM1101.1 498.1l3.4-2.8l1.7 2.0l-3.4 2.8zM1106.8 493.5l3.4-2.8l1.7 2.0l-3.4 2.8zM1184.6 432.6l3.4-2.8l1.8 2.1l-3.4 2.8zM1187.4 430.3l3.4-2.8l1.8 2.2l-3.4 2.8zM1095.0 507.9l3.4-2.8l1.7 2.0l-3.4 2.8zM1096.2 509.3l3.4-2.8l1.7 2.0l-3.4 2.8zM1132.8 484.6l3.4-2.8l1.7 2.1l-3.4 2.8zM1172.6 452.5l3.4-2.8l1.8 2.1l-3.4 2.8zM1112.4 505.9l3.5-2.8l1.7 2.0l-3.5 2.8zM1105.8 520.8l3.5-2.8l1.7 2.0l-3.5 2.7zM1101.3 526.7l3.5-2.8l1.7 2.0l-3.5 2.7zM1112.7 517.6l3.5-2.8l1.7 2.0l-3.5 2.7zM1124.2 508.6l3.5-2.8l1.7 2.0l-3.5 2.7zM1102.5 528.2l3.5-2.7l1.7 2.0l-3.5 2.7zM1106.5 527.3l3.5-2.7l1.7 2.0l-3.5 2.7zM1118.0 518.3l3.5-2.7l1.7 2.0l-3.5 2.7zM1244.2 418.5l3.5-2.7l1.8 2.2l-3.5 2.7zM1186.2 474.3l3.5-2.7l1.8 2.1l-3.5 2.7zM1189.1 472.1l3.5-2.7l1.8 2.1l-3.5 2.7zM1118.4 529.8l3.5-2.7l1.8 1.9l-3.5 2.7zM1176.0 484.8l3.5-2.7l1.8 2.0l-3.5 2.7zM1187.6 475.8l3.5-2.7l1.8 2.1l-3.5 2.7zM1194.6 472.7l3.5-2.7l1.8 2.1l-3.5 2.7zM1118.0 534.9l3.5-2.7l1.8 1.9l-3.5 2.7zM1122.2 534.0l3.5-2.7l1.8 1.9l-3.5 2.7zM1146.5 517.5l3.5-2.7l1.8 2.0l-3.5 2.7zM1149.4 515.2l3.5-2.7l1.8 2.0l-3.5 2.7zM1144.9 521.1l3.5-2.7l1.8 2.0l-3.5 2.7zM1150.7 516.6l3.5-2.7l1.8 2.0l-3.5 2.7zM1179.6 494.3l3.5-2.7l1.8 2.0l-3.5 2.7zM1180.9 495.7l3.5-2.7l1.8 2.0l-3.5 2.7zM1195.4 484.6l3.5-2.7l1.8 2.1l-3.5 2.7zM1141.7 528.4l3.5-2.7l1.8 2.0l-3.5 2.7zM1156.2 517.2l3.5-2.7l1.8 2.0l-3.5 2.7zM1192.3 491.9l3.5-2.7l1.8 2.0l-3.5 2.7zM1123.9 546.8l3.5-2.7l1.8 1.9l-3.5 2.7zM1126.8 544.5l3.5-2.7l1.8 1.9l-3.5 2.7zM1199.4 488.9l3.5-2.7l1.8 2.1l-3.5 2.7zM1119.3 552.6l3.5-2.7l1.7 1.9l-3.5 2.7zM1139.7 537.0l3.5-2.7l1.8 2.0l-3.5 2.7zM1138.0 540.7l3.5-2.7l1.8 2.0l-3.5 2.7zM1184.5 505.2l3.5-2.7l1.8 2.0l-3.5 2.7zM1130.5 548.7l3.5-2.7l1.8 1.9l-3.5 2.7zM1133.5 546.5l3.5-2.7l1.8 1.9l-3.5 2.7zM1136.4 544.3l3.5-2.7l1.8 1.9l-3.5 2.7zM1185.8 506.6l3.5-2.7l1.8 2.0l-3.5 2.7zM1128.9 552.3l3.5-2.7l1.8 1.9l-3.5 2.7zM1134.4 552.8l3.5-2.7l1.8 1.9l-3.5 2.7zM1140.2 548.4l3.5-2.7l1.8 1.9l-3.5 2.7zM1154.8 537.4l3.5-2.7l1.8 1.9l-3.5 2.7zM1159.0 536.5l3.5-2.7l1.8 1.9l-3.5 2.7zM1164.8 532.1l3.5-2.7l1.8 2.0l-3.5 2.7zM1128.1 562.1l3.5-2.7l1.8 1.9l-3.5 2.7zM1134.0 557.7l3.5-2.7l1.8 1.9l-3.5 2.7zM1139.8 553.3l3.5-2.7l1.8 1.9l-3.5 2.7zM1157.4 540.1l3.5-2.7l1.8 1.9l-3.5 2.7zM1129.4 563.5l3.5-2.7l1.8 1.9l-3.5 2.7zM1136.5 560.4l3.5-2.7l1.8 1.9l-3.5 2.6zM1151.2 549.5l3.5-2.7l1.8 1.9l-3.5 2.6zM1160.0 542.9l3.5-2.7l1.8 1.9l-3.5 2.6zM1140.7 559.6l3.5-2.6l1.8 1.9l-3.5 2.6zM1152.5 550.8l3.5-2.6l1.8 1.9l-3.5 2.6zM1158.3 546.5l3.5-2.6l1.8 1.9l-3.5 2.6zM1130.3 569.7l3.5-2.6l1.8 1.9l-3.6 2.6zM1153.8 552.2l3.5-2.6l1.8 1.9l-3.6 2.6zM1134.5 568.9l3.6-2.6l1.8 1.9l-3.6 2.6zM1144.2 568.6l3.6-2.6l1.3 1.4l-3.6 2.6z"/>
<path fill="#e2ff15" d="M1085.7 386.0l3.3-3.0l0.6 2.6l-3.3 3.0zM1118.0 356.3l3.3-3.0l0.7 2.6l-3.3 3.0zM1120.7 353.8l3.3-3.0l0.7 2.6l-3.3 3.0zM1123.4 351.3l3.3-3.0l0.7 2.6l-3.3 3.0zM1064.6 407.6l3.3-3.0l0.6 2.6l-3.3 3.0zM1067.3 405.1l3.3-3.0l0.6 2.6l-3.3 3.0zM1072.6 400.2l3.3-3.0l0.6 2.6l-3.3 3.0zM1075.3 397.7l3.3-3.0l0.6 2.6l-3.3 3.0zM1088.8 385.3l3.3-3.0l0.6 2.6l-3.3 3.0zM1091.5 382.9l3.3-3.0l0.6 2.6l-3.3 3.0zM1110.4 365.6l3.3-3.0l0.7 2.6l-3.3 3.0zM1115.8 360.6l3.3-3.0l0.7 2.6l-3.3 3.0zM1126.5 350.7l3.3-3.0l0.7 2.7l-3.3 3.0zM1137.3 340.8l3.3-3.0l0.7 2.7l-3.3 3.0zM1140.0 338.4l3.3-3.0l0.7 2.7l-3.3 3.0zM1075.8 399.5l3.3-3.0l0.6 2.6l-3.3 3.0zM1086.6 389.7l3.3-3.0l0.6 2.6l-3.3 3.0zM1094.7 382.3l3.3-3.0l0.6 2.6l-3.3 3.0zM1113.5 365.0l3.3-3.0l0.7 2.6l-3.3 3.0zM1132.4 347.7l3.3-3.0l0.7 2.7l-3.3 3.0zM1137.8 342.7l3.3-3.0l0.7 2.7l-3.3 3.0zM1060.0 416.2l3.3-3.0l0.6 2.5l-3.3 3.0zM1068.1 408.8l3.3-3.0l0.6 2.6l-3.3 3.0zM1076.2 401.4l3.3-3.0l0.6 2.6l-3.3 3.0zM1087.0 391.5l3.3-3.0l0.6 2.6l-3.3 3.0zM1103.2 376.7l3.3-3.0l0.6 2.6l-3.3 3.0zM1105.9 374.2l3.3-3.0l0.6 2.6l-3.3 3.0zM1073.9 405.7l3.3-3.0l0.6 2.6l-3.3 3.0zM1095.6 386.0l3.3-3.0l0.6 2.6l-3.3 3.0zM1111.8 371.2l3.3-3.0l0.7 2.6l-3.3 3.0zM1125.3 358.9l3.3-3.0l0.7 2.6l-3.3 3.0zM1138.8 346.5l3.3-3.0l0.7 2.7l-3.3 3.0zM1058.1 422.3l3.3-3.0l0.6 2.5l-3.3 3.0zM1063.5 417.3l3.3-3.0l0.6 2.6l-3.3 3.0zM1120.4 365.7l3.3-3.0l0.7 2.6l-3.3 3.0zM1125.8 360.7l3.3-3.0l0.7 2.6l-3.3 3.0zM1147.4 341.1l3.3-3.0l0.7 2.7l-3.3 3.0zM1061.3 421.6l3.3-3.0l0.6 2.5l-3.3 3.0zM1066.7 416.7l3.3-3.0l0.6 2.6l-3.3 3.0zM1085.6 399.5l3.3-3.0l0.6 2.6l-3.3 3.0zM1101.9 384.8l3.3-3.0l0.6 2.6l-3.3 3.0zM1110.0 377.4l3.3-3.0l0.7 2.6l-3.3 3.0zM1115.4 372.5l3.3-3.0l0.7 2.6l-3.3 3.0zM1126.2 362.6l3.3-3.0l0.7 2.6l-3.3 3.0zM1137.1 352.8l3.3-3.0l0.7 2.7l-3.3 3.0zM1064.4 421.0l3.3-3.0l0.6 2.6l-3.3 3.0zM1072.5 413.6l3.3-3.0l0.6 2.6l-3.3 3.0zM1080.6 406.3l3.3-3.0l0.6 2.6l-3.3 3.0zM1091.5 396.4l3.3-3.0l0.6 2.6l-3.3 3.0zM1096.9 391.5l3.3-3.0l0.6 2.6l-3.3 3.0zM1105.0 384.2l3.3-3.0l0.6 2.6l-3.3 3.0zM1121.3 369.4l3.3-3.0l0.7 2.6l-3.3 3.0zM1129.4 362.1l3.3-3.0l0.7 2.7l-3.3 3.0zM1148.4 344.9l3.3-3.0l0.7 2.7l-3.3 3.0zM1091.9 398.3l3.3-3.0l0.6 2.6l-3.3 3.0zM1116.3 376.2l3.3-3.0l0.7 2.6l-3.3 3.0zM1127.2 366.4l3.3-3.0l0.7 2.6l-3.3 3.0zM1135.3 359.1l3.3-3.0l0.7 2.7l-3.3 3.0zM1065.2 424.6l3.3-3.0l0.6 2.5l-3.3 3.0zM1073.4 417.3l3.3-3.0l0.6 2.6l-3.3 3.0zM1078.8 412.4l3.3-3.0l0.6 2.6l-3.3 3.0zM1095.1 397.7l3.3-3.0l0.7 2.6l-3.3 3.0zM1114.1 380.5l3.3-3.0l0.7 2.6l-3.3 3.0zM1135.8 360.9l3.3-3.0l0.7 2.7l-3.3 3.0zM1084.7 409.3l3.3-3.0l0.7 2.6l-3.3 3.0zM1101.0 394.6l3.3-3.0l0.7 2.6l-3.3 3.0zM1103.7 392.2l3.3-3.0l0.7 2.6l-3.3 3.0zM1125.5 372.6l3.3-3.0l0.7 2.6l-3.3 3.0zM1136.3 362.8l3.3-3.0l0.7 2.6l-3.3 3.0zM1082.4 413.6l3.3-3.0l0.7 2.6l-3.3 3.0zM1085.1 411.2l3.3-3.0l0.7 2.6l-3.3 3.0zM1139.6 362.3l3.3-3.0l0.7 2.7l-3.3 3.0zM1145.0 357.4l3.3-3.0l0.8 2.7l-3.3 3.0zM1066.6 430.1l3.3-3.0l0.6 2.5l-3.3 2.9zM1082.9 415.4l3.3-3.0l0.7 2.6l-3.3 2.9zM1099.2 400.8l3.3-3.0l0.7 2.6l-3.3 2.9zM1129.2 373.9l3.3-3.0l0.7 2.6l-3.3 2.9zM1131.9 371.5l3.3-3.0l0.7 2.6l-3.3 2.9zM1140.1 364.2l3.3-3.0l0.7 2.7l-3.3 2.9zM1159.2 347.1l3.3-3.0l0.8 2.7l-3.3 2.9zM1067.0 431.9l3.3-2.9l0.6 2.5l-3.3 2.9zM1075.2 424.6l3.3-2.9l0.7 2.6l-3.3 2.9zM1097.0 405.1l3.3-2.9l0.7 2.6l-3.3 2.9zM1110.6 392.9l3.3-2.9l0.7 2.6l-3.3 2.9zM1124.3 380.7l3.3-2.9l0.7 2.6l-3.3 2.9zM1127.0 378.3l3.3-2.9l0.7 2.6l-3.3 2.9zM1129.7 375.8l3.3-2.9l0.7 2.6l-3.3 2.9zM1070.2 431.2l3.3-2.9l0.7 2.5l-3.3 2.9zM1157.5 353.3l3.3-2.9l0.8 2.7l-3.3 2.9zM1073.4 430.6l3.3-2.9l0.7 2.5l-3.3 2.9zM1076.1 428.2l3.3-2.9l0.7 2.6l-3.3 2.9zM1095.3 411.2l3.3-2.9l0.7 2.6l-3.3 2.9zM1117.1 391.7l3.3-2.9l0.7 2.6l-3.3 2.9zM1119.8 389.3l3.3-2.9l0.7 2.6l-3.3 2.9zM1144.4 367.4l3.3-2.9l0.8 2.7l-3.3 2.9zM1149.9 362.6l3.3-2.9l0.8 2.7l-3.3 2.9zM1065.7 439.7l3.3-2.9l0.6 2.5l-3.3 2.9zM1071.1 434.9l3.3-2.9l0.7 2.5l-3.3 2.9zM1073.9 432.4l3.3-2.9l0.7 2.5l-3.3 2.9zM1076.6 430.0l3.3-2.9l0.7 2.6l-3.3 2.9zM1112.1 398.4l3.3-2.9l0.7 2.6l-3.3 2.9zM1147.7 366.9l3.3-2.9l0.8 2.7l-3.3 2.9zM1085.3 424.6l3.3-2.9l0.7 2.6l-3.3 2.9zM1099.0 412.4l3.3-2.9l0.7 2.6l-3.3 2.9zM1107.2 405.2l3.3-2.9l0.7 2.6l-3.3 2.9zM1145.5 371.2l3.3-2.9l0.8 2.7l-3.3 2.9zM1167.4 351.8l3.3-2.9l0.8 2.7l-3.3 2.9zM1063.8 445.8l3.3-2.9l0.6 2.5l-3.3 2.9zM1074.8 436.1l3.3-2.9l0.7 2.5l-3.3 2.9zM1085.8 426.4l3.3-2.9l0.7 2.6l-3.3 2.9zM1094.0 419.1l3.3-2.9l0.7 2.6l-3.3 2.9zM1099.5 414.3l3.3-2.9l0.7 2.6l-3.3 2.9zM1105.9 413.1l3.3-2.9l0.7 2.6l-3.3 2.9zM1122.4 398.6l3.3-2.9l0.7 2.6l-3.3 2.9zM1062.5 453.6l3.3-2.9l0.6 2.5l-3.3 2.9zM1076.2 441.5l3.3-2.9l0.7 2.5l-3.3 2.9zM1078.9 439.1l3.3-2.9l0.7 2.5l-3.3 2.9zM1095.4 424.6l3.3-2.9l0.7 2.6l-3.3 2.9zM1103.7 417.4l3.3-2.9l0.7 2.6l-3.3 2.9zM1139.4 386.0l3.3-2.9l0.8 2.6l-3.3 2.9zM1166.9 361.9l3.3-2.9l0.8 2.7l-3.3 2.9zM1169.6 359.5l3.3-2.9l0.8 2.7l-3.3 2.9zM1172.4 357.1l3.3-2.9l0.8 2.7l-3.3 2.9zM1060.2 457.8l3.3-2.9l0.6 2.5l-3.3 2.9zM1073.9 445.8l3.3-2.9l0.7 2.5l-3.3 2.9zM1079.4 440.9l3.3-2.9l0.7 2.5l-3.3 2.9zM1093.2 428.9l3.3-2.9l0.7 2.6l-3.3 2.9zM1106.9 416.8l3.3-2.9l0.7 2.6l-3.3 2.9zM1112.4 412.0l3.3-2.9l0.7 2.6l-3.3 2.9zM1139.9 387.9l3.3-2.9l0.8 2.6l-3.3 2.9zM1150.9 378.3l3.3-2.9l0.8 2.7l-3.3 2.9zM1172.9 359.0l3.3-2.9l0.8 2.7l-3.3 2.9zM1066.1 454.8l3.3-2.9l0.7 2.5l-3.3 2.9zM1074.4 447.6l3.3-2.9l0.7 2.5l-3.3 2.9zM1085.4 437.9l3.3-2.9l0.7 2.6l-3.3 2.9zM1088.1 435.5l3.3-2.9l0.7 2.6l-3.3 2.9zM1093.7 430.7l3.3-2.9l0.7 2.6l-3.3 2.9zM1107.4 418.7l3.3-2.9l0.7 2.6l-3.3 2.9zM1121.2 406.6l3.3-2.9l0.7 2.6l-3.3 2.9zM1134.9 394.6l3.3-2.9l0.7 2.6l-3.3 2.9zM1170.7 363.3l3.3-2.9l0.8 2.7l-3.3 2.9zM1176.2 358.5l3.3-2.9l0.8 2.7l-3.3 2.9zM1072.1 451.8l3.3-2.9l0.7 2.5l-3.3 2.9zM1083.1 442.2l3.3-2.9l0.7 2.6l-3.3 2.9zM1135.5 396.5l3.3-2.9l0.7 2.6l-3.3 2.9zM1138.2 394.1l3.3-2.9l0.7 2.6l-3.3 2.9zM1141.0 391.7l3.3-2.9l0.8 2.6l-3.3 2.9zM1149.3 384.4l3.3-2.9l0.8 2.7l-3.3 2.9zM1091.9 436.8l3.3-2.9l0.7 2.6l-3.3 2.9zM1100.1 429.6l3.3-2.9l0.7 2.6l-3.3 2.9zM1108.4 422.4l3.3-2.9l0.7 2.6l-3.3 2.9zM1138.8 395.9l3.3-2.9l0.7 2.6l-3.3 2.9zM1089.6 441.0l3.3-2.9l0.7 2.6l-3.3 2.9zM1095.1 436.2l3.3-2.9l0.7 2.6l-3.3 2.9zM1062.5 466.8l3.3-2.9l0.6 2.5l-3.3 2.9zM1065.2 464.4l3.3-2.9l0.6 2.5l-3.3 2.9zM1101.1 433.2l3.3-2.9l0.7 2.6l-3.3 2.9zM1126.0 411.7l3.3-2.9l0.7 2.6l-3.3 2.9zM1065.7 466.2l3.3-2.9l0.6 2.5l-3.4 2.9zM1093.3 442.3l3.3-2.9l0.7 2.6l-3.4 2.9zM1129.3 411.2l3.3-2.9l0.7 2.6l-3.4 2.9zM1077.2 458.4l3.3-2.9l0.7 2.5l-3.4 2.9zM1088.3 448.9l3.3-2.9l0.7 2.6l-3.4 2.9zM1091.0 446.5l3.3-2.9l0.7 2.6l-3.4 2.9zM1074.9 462.6l3.4-2.9l0.7 2.5l-3.4 2.9zM1083.2 455.5l3.4-2.9l0.7 2.6l-3.4 2.9zM1094.3 445.9l3.4-2.9l0.7 2.6l-3.4 2.9zM1102.6 438.8l3.4-2.9l0.7 2.6l-3.4 2.9zM1141.4 405.3l3.4-2.9l0.7 2.6l-3.4 2.9zM1174.7 376.7l3.4-2.9l0.8 2.7l-3.4 2.9zM1080.9 459.7l3.4-2.9l0.5 2.6l-3.4 2.9zM1083.7 457.3l3.4-2.9l0.5 2.6l-3.4 2.9zM1086.5 454.9l3.4-2.9l0.6 2.6l-3.4 2.9zM1067.4 473.4l3.4-2.9l0.5 2.6l-3.4 2.9zM1073.0 468.6l3.4-2.9l0.5 2.6l-3.4 2.9zM1089.6 454.4l3.4-2.9l0.5 2.6l-3.4 2.9zM1175.7 380.6l3.4-2.9l0.6 2.7l-3.4 2.9zM1087.2 458.6l3.4-2.9l0.5 2.6l-3.4 2.9zM1101.1 446.7l3.4-2.9l0.5 2.6l-3.4 2.9zM1087.6 460.4l3.4-2.9l0.5 2.6l-3.4 2.9zM1090.4 458.1l3.4-2.9l0.5 2.6l-3.4 2.9zM1098.7 450.9l3.4-2.9l0.5 2.6l-3.4 2.9zM1173.8 386.8l3.4-2.9l0.6 2.7l-3.4 2.9zM1085.2 464.6l3.4-2.9l0.5 2.6l-3.4 2.9zM1096.3 455.2l3.4-2.9l0.5 2.6l-3.4 2.9zM1107.4 445.7l3.4-2.9l0.5 2.6l-3.4 2.9zM1066.0 483.1l3.4-2.9l0.5 2.6l-3.4 2.9zM1113.4 442.8l3.4-2.9l0.5 2.6l-3.4 2.9zM1102.6 454.1l3.4-2.9l0.5 2.6l-3.4 2.9zM1177.9 390.3l3.4-2.9l0.6 2.7l-3.4 2.9zM1066.7 486.7l3.4-2.9l0.5 2.6l-3.4 2.9zM1075.1 479.6l3.4-2.9l0.5 2.6l-3.4 2.9zM1089.0 467.8l3.4-2.9l0.5 2.6l-3.4 2.9zM1091.8 465.5l3.4-2.9l0.5 2.6l-3.4 2.9zM1094.6 463.1l3.4-2.9l0.5 2.6l-3.4 2.9zM1108.6 451.3l3.4-2.9l0.5 2.6l-3.4 2.9zM1081.0 476.7l3.4-2.9l0.5 2.6l-3.4 2.9zM1086.6 472.0l3.4-2.9l0.5 2.6l-3.4 2.9zM1097.8 462.6l3.4-2.9l0.5 2.6l-3.4 2.9zM1078.6 480.9l3.4-2.9l0.5 2.6l-3.4 2.8zM1098.1 464.4l3.4-2.9l0.5 2.6l-3.4 2.8zM1100.9 462.1l3.4-2.9l0.5 2.6l-3.4 2.8zM1103.7 459.7l3.4-2.9l0.5 2.6l-3.4 2.8zM1106.5 457.4l3.4-2.9l0.5 2.6l-3.4 2.8zM1073.3 487.5l3.4-2.8l0.8 2.4l-3.4 2.8zM1090.1 473.4l3.4-2.8l0.8 2.5l-3.4 2.8zM1076.5 487.0l3.4-2.8l1.7 2.0l-3.4 2.8zM1087.7 477.5l3.4-2.8l1.7 2.0l-3.4 2.8zM1093.3 472.8l3.4-2.8l1.7 2.0l-3.4 2.8zM1112.9 456.4l3.4-2.8l1.7 2.0l-3.4 2.8zM1074.8 490.7l3.4-2.8l1.8 1.9l-3.4 2.8zM1088.8 479.0l3.4-2.8l1.8 2.0l-3.4 2.8zM1091.6 476.6l3.4-2.8l1.8 2.0l-3.4 2.8zM1094.5 474.3l3.4-2.8l1.8 2.0l-3.4 2.8zM1173.0 408.6l3.4-2.8l1.9 2.1l-3.4 2.8zM1206.6 380.4l3.4-2.8l1.9 2.1l-3.4 2.8zM1098.5 473.4l3.4-2.8l1.8 2.0l-3.4 2.8zM1101.3 471.0l3.4-2.8l1.8 2.0l-3.4 2.8zM1106.9 466.3l3.4-2.8l1.8 2.0l-3.4 2.8zM1112.6 461.6l3.4-2.8l1.8 2.0l-3.4 2.8zM1121.0 454.6l3.4-2.8l1.8 2.0l-3.4 2.8zM1126.6 449.9l3.4-2.8l1.8 2.0l-3.4 2.8zM1088.6 484.1l3.4-2.8l1.8 2.0l-3.4 2.8zM1091.4 481.8l3.4-2.8l1.8 2.0l-3.4 2.8zM1200.9 390.5l3.4-2.8l1.9 2.1l-3.4 2.8zM1084.2 490.2l3.4-2.8l1.8 1.9l-3.4 2.8zM1095.4 480.8l3.4-2.8l1.8 2.0l-3.4 2.8zM1115.1 464.5l3.4-2.8l1.8 2.0l-3.4 2.8zM1205.1 389.7l3.4-2.8l1.9 2.1l-3.4 2.8zM1207.9 387.3l3.4-2.8l1.9 2.1l-3.4 2.8zM1079.8 496.3l3.4-2.8l1.8 1.9l-3.4 2.8zM1082.6 493.9l3.4-2.8l1.8 1.9l-3.4 2.8zM1085.4 491.6l3.4-2.8l1.8 1.9l-3.4 2.8zM1088.3 489.3l3.4-2.8l1.8 2.0l-3.4 2.8zM1093.9 484.6l3.4-2.8l1.8 2.0l-3.4 2.8zM1124.8 458.9l3.4-2.8l1.8 2.0l-3.4 2.8zM1192.4 402.8l3.4-2.8l1.9 2.1l-3.4 2.8zM1203.6 393.5l3.4-2.8l1.9 2.1l-3.4 2.8zM1209.3 388.8l3.4-2.8l1.9 2.1l-3.4 2.8zM1078.2 500.0l3.4-2.8l1.7 1.9l-3.4 2.8zM1106.4 476.7l3.4-2.8l1.8 2.0l-3.4 2.8zM1114.9 469.7l3.4-2.8l1.8 2.0l-3.4 2.8zM1143.0 446.3l3.4-2.8l1.8 2.0l-3.4 2.8zM1162.7 430.0l3.4-2.8l1.9 2.1l-3.4 2.8zM1168.4 425.3l3.4-2.8l1.9 2.1l-3.4 2.8zM1174.0 420.7l3.4-2.8l1.9 2.1l-3.4 2.8zM1202.2 397.4l3.4-2.8l1.9 2.1l-3.4 2.8zM1210.6 390.4l3.4-2.8l1.9 2.1l-3.4 2.8zM1213.5 388.0l3.4-2.8l1.9 2.1l-3.4 2.8zM1102.0 482.7l3.4-2.8l1.8 2.0l-3.4 2.8zM1113.3 473.4l3.4-2.8l1.8 2.0l-3.4 2.8zM1161.2 433.8l3.4-2.8l1.8 2.1l-3.4 2.8zM1169.7 426.8l3.4-2.8l1.9 2.1l-3.4 2.8zM1189.4 410.5l3.4-2.8l1.9 2.1l-3.4 2.8zM1086.4 498.1l3.4-2.8l1.8 1.9l-3.4 2.8zM1151.3 444.6l3.4-2.8l1.8 2.0l-3.4 2.8zM1154.1 442.3l3.4-2.8l1.8 2.0l-3.4 2.8zM1168.2 430.6l3.4-2.8l1.9 2.1l-3.4 2.8zM1176.7 423.6l3.4-2.8l1.9 2.1l-3.4 2.8zM1179.5 421.3l3.4-2.8l1.9 2.1l-3.4 2.8zM1093.3 494.8l3.4-2.8l1.8 2.0l-3.4 2.8zM1101.7 487.9l3.4-2.8l1.8 2.0l-3.4 2.8zM1115.9 476.2l3.4-2.8l1.8 2.0l-3.4 2.8zM1158.2 441.4l3.4-2.8l1.8 2.1l-3.4 2.8zM1163.9 436.7l3.4-2.8l1.8 2.1l-3.4 2.8zM1169.5 432.1l3.4-2.8l1.9 2.1l-3.4 2.8zM1091.7 498.5l3.4-2.8l1.8 1.9l-3.4 2.8zM1094.5 496.2l3.4-2.8l1.8 2.0l-3.4 2.8zM1120.0 475.3l3.4-2.8l1.8 2.0l-3.4 2.8zM1156.7 445.2l3.4-2.8l1.8 2.0l-3.4 2.8zM1162.4 440.5l3.4-2.8l1.8 2.1l-3.4 2.8zM1165.2 438.2l3.4-2.8l1.8 2.1l-3.4 2.8zM1168.0 435.9l3.4-2.8l1.9 2.1l-3.4 2.8zM1187.8 419.7l3.4-2.8l1.9 2.1l-3.4 2.8zM1107.1 488.3l3.4-2.8l1.8 2.0l-3.4 2.8zM1109.9 486.0l3.4-2.8l1.8 2.0l-3.4 2.8zM1115.6 481.4l3.4-2.8l1.8 2.0l-3.4 2.8zM1172.2 435.0l3.4-2.8l1.9 2.1l-3.4 2.8zM1189.2 421.1l3.4-2.8l1.9 2.1l-3.4 2.8zM1197.6 414.2l3.4-2.8l1.9 2.1l-3.4 2.8zM1097.0 499.0l3.4-2.8l1.7 2.0l-3.4 2.8zM1116.9 482.8l3.4-2.8l1.8 2.0l-3.4 2.8zM1187.7 425.0l3.4-2.8l1.8 2.1l-3.4 2.8zM1092.6 505.0l3.4-2.8l1.7 2.0l-3.4 2.8zM1109.6 491.2l3.4-2.8l1.7 2.0l-3.4 2.8zM1115.3 486.5l3.4-2.8l1.7 2.0l-3.4 2.8zM1160.6 449.6l3.4-2.8l1.8 2.1l-3.4 2.8zM1172.0 440.3l3.4-2.8l1.8 2.1l-3.4 2.8zM1191.8 424.1l3.4-2.8l1.8 2.2l-3.4 2.8zM1088.1 511.1l3.4-2.8l1.7 2.0l-3.4 2.8zM1105.2 497.2l3.4-2.8l1.7 2.0l-3.4 2.8zM1119.3 485.7l3.4-2.8l1.7 2.0l-3.4 2.8zM1089.3 512.5l3.4-2.8l1.7 2.0l-3.4 2.8zM1100.7 503.3l3.4-2.8l1.7 2.0l-3.4 2.8zM1117.7 489.4l3.4-2.8l1.7 2.0l-3.4 2.8zM1180.2 438.7l3.4-2.8l1.8 2.1l-3.4 2.8zM1104.7 502.4l3.4-2.8l1.7 2.0l-3.4 2.8zM1107.6 500.1l3.4-2.8l1.7 2.0l-3.4 2.8zM1097.4 510.7l3.4-2.8l1.7 2.0l-3.4 2.8zM1105.9 503.8l3.4-2.8l1.7 2.0l-3.4 2.8zM1110.0 503.0l3.4-2.8l1.7 2.0l-3.4 2.8zM1147.0 473.2l3.4-2.8l1.7 2.1l-3.4 2.8zM1094.1 518.2l3.4-2.8l1.7 2.0l-3.5 2.8zM1105.5 509.0l3.4-2.8l1.7 2.0l-3.5 2.8zM1108.4 506.7l3.4-2.8l1.7 2.0l-3.5 2.8zM1111.2 504.4l3.4-2.8l1.7 2.0l-3.5 2.8zM1114.1 502.1l3.4-2.8l1.7 2.0l-3.5 2.8zM1118.1 501.3l3.5-2.8l1.7 2.0l-3.5 2.8zM1129.5 492.1l3.5-2.8l1.7 2.1l-3.5 2.8zM1110.8 509.6l3.5-2.8l1.7 2.0l-3.5 2.8zM1122.2 500.5l3.5-2.8l1.7 2.0l-3.5 2.8zM1170.7 461.6l3.5-2.8l1.8 2.1l-3.5 2.8zM1112.0 511.1l3.5-2.8l1.7 2.0l-3.5 2.8zM1120.5 504.2l3.5-2.8l1.7 2.0l-3.5 2.8zM1137.7 490.5l3.5-2.8l1.7 2.1l-3.5 2.8zM1113.2 512.5l3.5-2.8l1.7 2.0l-3.5 2.8zM1118.9 507.9l3.5-2.8l1.7 2.0l-3.5 2.8zM1121.7 505.7l3.5-2.8l1.7 2.0l-3.5 2.8zM1130.3 498.8l3.5-2.8l1.7 2.0l-3.5 2.8zM1144.6 487.4l3.5-2.8l1.7 2.1l-3.5 2.8zM1170.4 466.9l3.5-2.8l1.8 2.1l-3.5 2.8zM1199.0 444.1l3.5-2.8l1.8 2.2l-3.5 2.8zM1100.1 525.3l3.5-2.8l1.7 2.0l-3.5 2.7zM1108.7 518.5l3.5-2.8l1.7 2.0l-3.5 2.7zM1174.5 466.1l3.5-2.8l1.8 2.1l-3.5 2.7zM1180.2 461.6l3.5-2.8l1.8 2.1l-3.5 2.7zM1197.4 447.9l3.5-2.8l1.8 2.1l-3.5 2.7zM1109.9 519.9l3.5-2.8l1.7 2.0l-3.5 2.7zM1178.6 465.3l3.5-2.8l1.8 2.1l-3.5 2.7zM1125.4 510.0l3.5-2.7l1.7 2.0l-3.5 2.7zM1139.7 498.6l3.5-2.7l1.7 2.1l-3.5 2.7zM1174.1 471.4l3.5-2.7l1.8 2.1l-3.5 2.7zM1110.6 526.5l3.5-2.7l1.7 2.0l-3.5 2.7zM1116.3 522.0l3.5-2.7l1.7 2.0l-3.5 2.7zM1245.5 420.1l3.5-2.7l1.8 2.2l-3.5 2.7zM1114.7 525.7l3.5-2.7l1.7 2.0l-3.5 2.7zM1104.4 536.1l3.5-2.7l1.7 1.9l-3.5 2.7zM1127.4 518.0l3.5-2.7l1.8 2.0l-3.5 2.7zM1141.8 506.7l3.5-2.7l1.8 2.0l-3.5 2.7zM1114.3 530.7l3.5-2.7l1.8 1.9l-3.5 2.7zM1120.0 526.2l3.5-2.7l1.8 2.0l-3.5 2.7zM1122.9 523.9l3.5-2.7l1.8 2.0l-3.5 2.7zM1125.8 521.7l3.5-2.7l1.8 2.0l-3.5 2.7zM1109.8 536.6l3.5-2.7l1.8 1.9l-3.5 2.7zM1121.3 527.6l3.5-2.7l1.8 2.0l-3.5 2.7zM1132.8 518.6l3.5-2.7l1.8 2.0l-3.5 2.7zM1193.3 471.3l3.5-2.7l1.8 2.1l-3.5 2.7zM1113.9 535.7l3.5-2.7l1.8 1.9l-3.5 2.7zM1174.4 488.5l3.5-2.7l1.8 2.0l-3.5 2.7zM1180.2 484.0l3.5-2.7l1.8 2.0l-3.5 2.7zM1191.7 475.0l3.5-2.7l1.8 2.1l-3.5 2.7zM1193.1 476.5l3.5-2.7l1.8 2.1l-3.5 2.7zM1110.6 543.0l3.5-2.7l1.7 1.9l-3.5 2.7zM1139.5 520.5l3.5-2.7l1.8 2.0l-3.5 2.7zM1142.4 518.3l3.5-2.7l1.8 2.0l-3.5 2.7zM1151.0 511.6l3.5-2.7l1.8 2.0l-3.5 2.7zM1120.5 537.6l3.5-2.7l1.8 1.9l-3.5 2.7zM1140.8 521.9l3.5-2.7l1.8 2.0l-3.5 2.7zM1198.6 477.2l3.5-2.7l1.8 2.1l-3.5 2.7zM1139.1 525.6l3.5-2.7l1.8 2.0l-3.5 2.7zM1147.8 518.9l3.5-2.7l1.8 2.0l-3.5 2.7zM1156.5 512.2l3.5-2.7l1.8 2.0l-3.5 2.7zM1191.2 485.3l3.5-2.7l1.8 2.0l-3.5 2.7zM1157.8 513.6l3.5-2.7l1.8 2.0l-3.5 2.7zM1109.8 552.9l3.5-2.7l1.7 1.9l-3.5 2.7zM1112.7 550.7l3.5-2.7l1.7 1.9l-3.5 2.7zM1159.1 515.0l3.5-2.7l1.8 2.0l-3.5 2.7zM1202.5 481.6l3.5-2.7l1.8 2.1l-3.5 2.7zM1113.9 552.1l3.5-2.7l1.7 1.9l-3.5 2.7zM1151.6 523.1l3.5-2.7l1.8 2.0l-3.5 2.7zM1154.5 520.9l3.5-2.7l1.8 2.0l-3.5 2.7zM1157.4 518.7l3.5-2.7l1.8 2.0l-3.5 2.7zM1121.0 549.0l3.5-2.7l1.8 1.9l-3.5 2.7zM1132.6 540.1l3.5-2.7l1.8 2.0l-3.5 2.7zM1135.5 537.9l3.5-2.7l1.8 2.0l-3.5 2.7zM1155.8 522.3l3.5-2.7l1.8 2.0l-3.5 2.7zM1190.7 495.6l3.5-2.7l1.8 2.0l-3.5 2.7zM1133.9 541.5l3.5-2.7l1.8 2.0l-3.5 2.7zM1157.1 523.7l3.5-2.7l1.8 2.0l-3.5 2.7zM1189.1 499.3l3.5-2.7l1.8 2.0l-3.5 2.7zM1194.9 494.8l3.5-2.7l1.8 2.0l-3.5 2.7zM1123.5 551.7l3.5-2.7l1.8 1.9l-3.5 2.7zM1126.4 549.5l3.5-2.7l1.8 1.9l-3.5 2.7zM1161.3 522.9l3.5-2.7l1.8 2.0l-3.5 2.7zM1202.0 491.9l3.5-2.7l1.8 2.1l-3.5 2.7zM1142.2 539.8l3.5-2.7l1.8 1.9l-3.5 2.7zM1145.1 537.6l3.5-2.7l1.8 2.0l-3.5 2.7zM1153.8 531.0l3.5-2.7l1.8 2.0l-3.5 2.7zM1194.6 500.0l3.5-2.7l1.8 2.0l-3.5 2.7zM1117.2 561.1l3.5-2.7l1.8 1.9l-3.5 2.7zM1123.1 556.7l3.5-2.7l1.8 1.9l-3.5 2.7zM1134.7 547.9l3.5-2.7l1.8 1.9l-3.5 2.7zM1143.4 541.2l3.5-2.7l1.8 1.9l-3.5 2.7zM1150.6 538.2l3.5-2.7l1.8 1.9l-3.5 2.7zM1125.6 559.4l3.5-2.7l1.8 1.9l-3.5 2.7zM1146.0 544.0l3.5-2.7l1.8 1.9l-3.5 2.7zM1124.0 563.0l3.5-2.7l1.8 1.9l-3.5 2.7zM1125.2 564.3l3.5-2.7l1.8 1.9l-3.5 2.7zM1136.9 555.5l3.5-2.7l1.8 1.9l-3.5 2.7zM1142.8 551.1l3.5-2.7l1.8 1.9l-3.5 2.7zM1145.7 548.9l3.5-2.7l1.8 1.9l-3.5 2.7zM1180.7 522.5l3.5-2.7l1.8 2.0l-3.5 2.7zM1126.5 565.7l3.5-2.7l1.8 1.9l-3.5 2.7zM1141.1 554.7l3.5-2.7l1.8 1.9l-3.5 2.7zM1147.0 550.3l3.5-2.7l1.8 1.9l-3.5 2.7zM1152.8 545.9l3.5-2.7l1.8 1.9l-3.5 2.7zM1164.5 537.1l3.5-2.7l1.8 1.9l-3.5 2.7zM1127.8 567.0l3.5-2.7l1.8 1.9l-3.5 2.6zM1170.0 537.7l3.5-2.6l1.8 2.0l-3.5 2.6zM1173.0 535.5l3.5-2.6l1.8 2.0l-3.5 2.6zM1127.4 571.9l3.5-2.6l1.8 1.9l-3.6 2.6zM1147.9 556.6l3.5-2.6l1.8 1.9l-3.6 2.6zM1238.8 488.8l3.5-2.6l1.9 2.1l-3.6 2.6zM1256.4 475.7l3.5-2.6l1.9 2.1l-3.6 2.6zM1158.0 551.4l3.6-2.6l1.8 1.9l-3.6 2.6zM1160.9 549.2l3.6-2.6l1.8 1.9l-3.6 2.6zM1181.4 533.9l3.6-2.6l1.8 2.0l-3.6 2.6zM1184.4 531.8l3.6-2.6l1.8 2.0l-3.6 2.6zM1243.1 488.1l3.6-2.6l1.9 2.1l-3.6 2.6zM1132.8 572.4l3.6-2.6l1.8 1.9l-3.6 2.6zM1153.4 557.1l3.6-2.6l1.8 1.9l-3.6 2.6zM1131.2 575.9l3.6-2.6l1.8 1.9l-3.6 2.6zM1135.4 575.1l3.6-2.6l1.3 1.4l-3.6 2.6z"/>
<path fill="#b9ff3e" d="M1088.4 383.5l3.3-3.0l0.6 2.6l-3.3 3.0zM1091.1 381.0l3.3-3.0l0.6 2.6l-3.3 3.0zM1093.8 378.5l3.3-3.0l0.6 2.6l-3.3 3.0zM1131.4 343.9l3.3-3.0l0.7 2.7l-3.3 3.0zM1121.2 355.7l3.3-3.0l0.7 2.6l-3.3 3.0zM1123.8 353.2l3.3-3.0l0.7 2.6l-3.3 3.0zM1089.3 387.2l3.3-3.0l0.6 2.6l-3.3 3.0zM1108.1 369.9l3.3-3.0l0.7 2.6l-3.3 3.0zM1089.7 389.0l3.3-3.0l0.6 2.6l-3.3 3.0zM1095.1 384.1l3.3-3.0l0.6 2.6l-3.3 3.0zM1097.8 381.6l3.3-3.0l0.6 2.6l-3.3 3.0zM1085.2 397.7l3.3-3.0l0.6 2.6l-3.3 3.0zM1093.3 390.3l3.3-3.0l0.6 2.6l-3.3 3.0zM1131.2 355.8l3.3-3.0l0.7 2.7l-3.3 3.0zM1094.2 394.0l3.3-3.0l0.6 2.6l-3.3 3.0zM1107.7 381.7l3.3-3.0l0.6 2.6l-3.3 3.0zM1062.1 425.3l3.3-3.0l0.6 2.5l-3.3 3.0zM1076.1 414.8l3.3-3.0l0.6 2.6l-3.3 3.0zM1081.5 409.9l3.3-3.0l0.6 2.6l-3.3 3.0zM1084.2 407.5l3.3-3.0l0.6 2.6l-3.3 3.0zM1092.8 402.0l3.3-3.0l0.7 2.6l-3.3 3.0zM1139.0 360.4l3.3-3.0l0.7 2.7l-3.3 3.0zM1063.4 430.7l3.3-3.0l0.6 2.5l-3.3 3.0zM1098.8 398.9l3.3-3.0l0.7 2.6l-3.3 3.0zM1126.5 376.4l3.3-3.0l0.7 2.6l-3.3 2.9zM1148.8 358.8l3.3-2.9l0.8 2.7l-3.3 2.9zM1159.7 349.0l3.3-2.9l0.8 2.7l-3.3 2.9zM1056.6 443.4l3.3-2.9l0.6 2.5l-3.3 2.9zM1062.0 438.6l3.3-2.9l0.6 2.5l-3.3 2.9zM1103.0 402.0l3.3-2.9l0.7 2.6l-3.3 2.9zM1111.1 394.7l3.3-2.9l0.7 2.6l-3.3 2.9zM1130.2 377.7l3.3-2.9l0.7 2.6l-3.3 2.9zM1133.0 375.3l3.3-2.9l0.7 2.6l-3.3 2.9zM1135.7 372.8l3.3-2.9l0.7 2.6l-3.3 2.9zM1138.4 370.4l3.3-2.9l0.7 2.6l-3.3 2.9zM1154.8 355.8l3.3-2.9l0.8 2.7l-3.3 2.9zM1065.2 437.9l3.3-2.9l0.6 2.5l-3.3 2.9zM1084.3 420.9l3.3-2.9l0.7 2.6l-3.3 2.9zM1089.8 416.0l3.3-2.9l0.7 2.6l-3.3 2.9zM1125.3 384.4l3.3-2.9l0.7 2.6l-3.3 2.9zM1152.6 360.1l3.3-2.9l0.8 2.7l-3.3 2.9zM1158.1 355.3l3.3-2.9l0.8 2.7l-3.3 2.9zM1068.4 437.3l3.3-2.9l0.6 2.5l-3.3 2.9zM1079.3 427.6l3.3-2.9l0.7 2.6l-3.3 2.9zM1084.8 422.7l3.3-2.9l0.7 2.6l-3.3 2.9zM1125.8 386.3l3.3-2.9l0.7 2.6l-3.3 2.9zM1134.0 379.0l3.3-2.9l0.7 2.6l-3.3 2.9zM1139.5 374.2l3.3-2.9l0.7 2.6l-3.3 2.9zM1145.0 369.3l3.3-2.9l0.8 2.7l-3.3 2.9zM1158.6 357.2l3.3-2.9l0.8 2.7l-3.3 2.9zM1093.5 417.3l3.3-2.9l0.7 2.6l-3.3 2.9zM1109.9 402.7l3.3-2.9l0.7 2.6l-3.3 2.9zM1123.6 390.6l3.3-2.9l0.7 2.6l-3.3 2.9zM1140.0 376.1l3.3-2.9l0.7 2.6l-3.3 2.9zM1151.0 366.3l3.3-2.9l0.8 2.7l-3.3 2.9zM1161.9 356.6l3.3-2.9l0.8 2.7l-3.3 2.9zM1164.7 354.2l3.3-2.9l0.8 2.7l-3.3 2.9zM1113.2 402.2l3.3-2.9l0.7 2.6l-3.3 2.9zM1124.1 392.5l3.3-2.9l0.7 2.6l-3.3 2.9zM1137.8 380.4l3.3-2.9l0.7 2.6l-3.3 2.9zM1089.0 425.8l3.3-2.9l0.7 2.6l-3.3 2.9zM1091.7 423.4l3.3-2.9l0.7 2.6l-3.3 2.9zM1094.5 421.0l3.3-2.9l0.7 2.6l-3.3 2.9zM1099.9 416.1l3.3-2.9l0.7 2.6l-3.3 2.9zM1102.7 413.7l3.3-2.9l0.7 2.6l-3.3 2.9zM1110.9 406.4l3.3-2.9l0.7 2.6l-3.3 2.9zM1113.7 404.0l3.3-2.9l0.7 2.6l-3.3 2.9zM1116.4 401.6l3.3-2.9l0.7 2.6l-3.3 2.9zM1130.1 389.5l3.3-2.9l0.7 2.6l-3.3 2.9zM1138.3 382.2l3.3-2.9l0.7 2.6l-3.3 2.9zM1152.0 370.1l3.3-2.9l0.8 2.7l-3.3 2.9zM1160.3 362.9l3.3-2.9l0.8 2.7l-3.3 2.9zM1094.9 422.8l3.3-2.9l0.7 2.6l-3.3 2.9zM1097.7 420.4l3.3-2.9l0.7 2.6l-3.3 2.9zM1103.2 415.5l3.3-2.9l0.7 2.6l-3.3 2.9zM1111.4 408.3l3.3-2.9l0.7 2.6l-3.3 2.9zM1127.9 393.8l3.3-2.9l0.7 2.6l-3.3 2.9zM1130.6 391.4l3.3-2.9l0.7 2.6l-3.3 2.9zM1136.1 386.5l3.3-2.9l0.7 2.6l-3.3 2.9zM1138.9 384.1l3.3-2.9l0.7 2.6l-3.3 2.9zM1141.6 381.7l3.3-2.9l0.7 2.6l-3.3 2.9zM1169.1 357.5l3.3-2.9l0.8 2.7l-3.3 2.9zM1106.4 415.0l3.3-2.9l0.7 2.6l-3.3 2.9zM1057.4 460.2l3.3-2.9l0.6 2.5l-3.3 2.9zM1062.9 455.4l3.3-2.9l0.6 2.5l-3.3 2.9zM1065.7 453.0l3.3-2.9l0.7 2.5l-3.3 2.9zM1087.7 433.7l3.3-2.9l0.7 2.6l-3.3 2.9zM1131.7 395.1l3.3-2.9l0.7 2.6l-3.3 2.9zM1137.2 390.3l3.3-2.9l0.7 2.6l-3.3 2.9zM1137.7 392.2l3.3-2.9l0.7 2.6l-3.3 2.9zM1173.5 360.9l3.3-2.9l0.8 2.7l-3.3 2.9zM1066.6 456.6l3.3-2.9l0.7 2.5l-3.3 2.9zM1069.3 454.2l3.3-2.9l0.7 2.5l-3.3 2.9zM1091.4 434.9l3.3-2.9l0.7 2.6l-3.3 2.9zM1096.9 430.1l3.3-2.9l0.7 2.6l-3.3 2.9zM1105.2 422.9l3.3-2.9l0.7 2.6l-3.3 2.9zM1107.9 420.5l3.3-2.9l0.7 2.6l-3.3 2.9zM1113.4 415.7l3.3-2.9l0.7 2.6l-3.3 2.9zM1130.0 401.3l3.3-2.9l0.7 2.6l-3.3 2.9zM1163.0 372.4l3.3-2.9l0.8 2.7l-3.3 2.9zM1171.3 365.2l3.3-2.9l0.8 2.7l-3.3 2.9zM1058.8 465.6l3.3-2.9l0.6 2.5l-3.3 2.9zM1097.4 432.0l3.3-2.9l0.7 2.6l-3.3 2.9zM1116.7 415.2l3.3-2.9l0.7 2.6l-3.3 2.9zM1125.0 408.0l3.3-2.9l0.7 2.6l-3.3 2.9zM1144.3 391.1l3.3-2.9l0.8 2.6l-3.3 2.9zM1160.8 376.7l3.3-2.9l0.8 2.7l-3.3 2.9zM1062.0 465.0l3.3-2.9l0.6 2.5l-3.3 2.9zM1103.4 429.0l3.3-2.9l0.7 2.6l-3.3 2.9zM1068.0 462.0l3.3-2.9l0.7 2.5l-3.3 2.9zM1106.7 428.5l3.3-2.9l0.7 2.6l-3.3 2.9zM1120.5 416.5l3.3-2.9l0.7 2.6l-3.3 2.9zM1156.4 385.3l3.3-2.9l0.8 2.7l-3.3 2.9zM1062.9 468.6l3.3-2.9l0.6 2.5l-3.4 2.9zM1068.4 463.8l3.3-2.9l0.7 2.5l-3.4 2.9zM1104.4 432.7l3.3-2.9l0.7 2.6l-3.4 2.9zM1107.2 430.3l3.3-2.9l0.7 2.6l-3.4 2.9zM1060.6 472.8l3.3-2.9l0.6 2.5l-3.4 2.9zM1116.0 425.0l3.3-2.9l0.7 2.6l-3.4 2.9zM1118.7 422.6l3.3-2.9l0.7 2.6l-3.4 2.9zM1129.8 413.0l3.3-2.9l0.7 2.6l-3.4 2.9zM1176.9 372.4l3.3-2.9l0.8 2.7l-3.4 2.9zM1179.6 370.0l3.3-2.9l0.8 2.7l-3.4 2.9zM1077.7 460.2l3.4-2.9l0.7 2.5l-3.4 2.9zM1097.1 443.5l3.4-2.9l0.7 2.6l-3.4 2.9zM1147.0 400.6l3.4-2.9l0.7 2.6l-3.4 2.9zM1072.6 466.8l3.4-2.9l0.5 2.6l-3.4 2.9zM1097.6 445.4l3.4-2.9l0.6 2.6l-3.4 2.9zM1106.7 441.9l3.4-2.9l0.5 2.6l-3.4 2.9zM1109.5 439.6l3.4-2.9l0.5 2.6l-3.4 2.9zM1112.2 437.2l3.4-2.9l0.5 2.6l-3.4 2.9zM1115.0 434.8l3.4-2.9l0.5 2.6l-3.4 2.9zM1126.1 425.3l3.4-2.9l0.6 2.6l-3.4 2.9zM1065.3 479.4l3.4-2.9l0.5 2.6l-3.4 2.9zM1118.2 434.3l3.4-2.9l0.5 2.6l-3.4 2.9zM1162.7 396.3l3.4-2.9l0.6 2.7l-3.4 2.9zM1179.4 382.1l3.4-2.9l0.6 2.7l-3.4 2.9zM1068.5 478.9l3.4-2.9l0.5 2.6l-3.4 2.9zM1071.3 476.5l3.4-2.9l0.5 2.6l-3.4 2.9zM1074.0 474.1l3.4-2.9l0.5 2.6l-3.4 2.9zM1101.9 450.4l3.4-2.9l0.5 2.6l-3.4 2.9zM1104.7 448.0l3.4-2.9l0.5 2.6l-3.4 2.9zM1110.2 443.3l3.4-2.9l0.5 2.6l-3.4 2.9zM1113.0 440.9l3.4-2.9l0.5 2.6l-3.4 2.9zM1080.0 471.2l3.4-2.9l0.5 2.6l-3.4 2.9zM1093.9 459.4l3.4-2.9l0.5 2.6l-3.4 2.9zM1096.7 457.0l3.4-2.9l0.5 2.6l-3.4 2.9zM1099.5 454.6l3.4-2.9l0.5 2.6l-3.4 2.9zM1110.6 445.2l3.4-2.9l0.5 2.6l-3.4 2.9zM1171.9 393.1l3.4-2.9l0.6 2.7l-3.4 2.9zM1177.5 388.3l3.4-2.9l0.6 2.7l-3.4 2.9zM1083.1 470.7l3.4-2.9l0.5 2.6l-3.4 2.9zM1099.8 456.5l3.4-2.9l0.5 2.6l-3.4 2.9zM1108.2 449.4l3.4-2.9l0.5 2.6l-3.4 2.9zM1113.8 444.7l3.4-2.9l0.5 2.6l-3.4 2.9zM1072.3 482.0l3.4-2.9l0.5 2.6l-3.4 2.9zM1083.5 472.5l3.4-2.9l0.5 2.6l-3.4 2.9zM1111.4 448.9l3.4-2.9l0.5 2.6l-3.4 2.9zM1170.0 399.3l3.4-2.9l0.6 2.7l-3.4 2.9zM1109.0 453.1l3.4-2.9l0.5 2.6l-3.4 2.9zM1111.8 450.8l3.4-2.9l0.5 2.6l-3.4 2.9zM1064.6 492.7l3.4-2.9l0.5 2.6l-3.4 2.8zM1087.0 473.9l3.4-2.9l0.5 2.6l-3.4 2.8zM1095.4 466.8l3.4-2.9l0.5 2.6l-3.4 2.8zM1067.7 492.2l3.4-2.8l0.7 2.4l-3.4 2.8zM1092.9 471.0l3.4-2.8l0.8 2.5l-3.4 2.8zM1098.5 466.3l3.4-2.8l0.8 2.5l-3.4 2.8zM1082.1 482.2l3.4-2.8l1.7 2.0l-3.4 2.8zM1101.7 465.8l3.4-2.8l1.7 2.0l-3.4 2.8zM1107.3 461.1l3.4-2.8l1.7 2.0l-3.4 2.8zM1072.0 493.1l3.4-2.8l1.7 1.9l-3.4 2.8zM1080.4 486.0l3.4-2.8l1.8 1.9l-3.4 2.8zM1086.0 481.3l3.4-2.8l1.8 2.0l-3.4 2.8zM1111.3 460.2l3.4-2.8l1.8 2.0l-3.4 2.8zM1073.3 494.5l3.4-2.8l1.7 1.9l-3.4 2.8zM1095.7 475.7l3.4-2.8l1.8 2.0l-3.4 2.8zM1071.7 498.2l3.4-2.8l1.7 1.9l-3.4 2.8zM1099.8 474.8l3.4-2.8l1.8 2.0l-3.4 2.8zM1119.5 458.4l3.4-2.8l1.8 2.0l-3.4 2.8zM1158.8 425.6l3.4-2.8l1.9 2.1l-3.4 2.8zM1170.0 416.2l3.4-2.8l1.9 2.1l-3.4 2.8zM1172.8 413.9l3.4-2.8l1.9 2.1l-3.4 2.8zM1203.7 388.1l3.4-2.8l1.9 2.1l-3.4 2.8zM1206.5 385.8l3.4-2.8l1.9 2.1l-3.4 2.8zM1101.1 476.2l3.4-2.8l1.8 2.0l-3.4 2.8zM1160.1 427.1l3.4-2.8l1.9 2.1l-3.4 2.8zM1168.5 420.1l3.4-2.8l1.9 2.1l-3.4 2.8zM1174.2 415.4l3.4-2.8l1.9 2.1l-3.4 2.8zM1177.0 413.0l3.4-2.8l1.9 2.1l-3.4 2.8zM1196.7 396.7l3.4-2.8l1.9 2.1l-3.4 2.8zM1074.2 500.9l3.4-2.8l1.7 1.9l-3.4 2.8zM1077.0 498.6l3.4-2.8l1.7 1.9l-3.4 2.8zM1096.7 482.3l3.4-2.8l1.8 2.0l-3.4 2.8zM1105.1 475.2l3.4-2.8l1.8 2.0l-3.4 2.8zM1119.2 463.6l3.4-2.8l1.8 2.0l-3.4 2.8zM1155.8 433.2l3.4-2.8l1.8 2.1l-3.4 2.8zM1158.6 430.9l3.4-2.8l1.8 2.1l-3.4 2.8zM1164.2 426.2l3.4-2.8l1.9 2.1l-3.4 2.8zM1172.7 419.2l3.4-2.8l1.9 2.1l-3.4 2.8zM1186.8 407.5l3.4-2.8l1.9 2.1l-3.4 2.8zM1189.6 405.2l3.4-2.8l1.9 2.1l-3.4 2.8zM1072.6 504.6l3.4-2.8l1.7 1.9l-3.4 2.8zM1075.4 502.3l3.4-2.8l1.7 1.9l-3.4 2.8zM1109.2 474.3l3.4-2.8l1.8 2.0l-3.4 2.8zM1117.7 467.3l3.4-2.8l1.8 2.0l-3.4 2.8zM1145.8 444.0l3.4-2.8l1.8 2.0l-3.4 2.8zM1151.5 439.3l3.4-2.8l1.8 2.0l-3.4 2.8zM1157.1 434.7l3.4-2.8l1.8 2.1l-3.4 2.8zM1190.9 406.7l3.4-2.8l1.9 2.1l-3.4 2.8zM1193.7 404.4l3.4-2.8l1.9 2.1l-3.4 2.8zM1199.4 399.7l3.4-2.8l1.9 2.1l-3.4 2.8zM1121.8 466.4l3.4-2.8l1.8 2.0l-3.4 2.8zM1152.8 440.8l3.4-2.8l1.8 2.0l-3.4 2.8zM1155.6 438.5l3.4-2.8l1.8 2.1l-3.4 2.8zM1186.6 412.8l3.4-2.8l1.9 2.1l-3.4 2.8zM1206.4 396.5l3.4-2.8l1.9 2.1l-3.4 2.8zM1217.6 387.2l3.4-2.8l1.9 2.1l-3.4 2.8zM1111.8 477.1l3.4-2.8l1.8 2.0l-3.4 2.8zM1117.4 472.5l3.4-2.8l1.8 2.0l-3.4 2.8zM1125.9 465.5l3.4-2.8l1.8 2.0l-3.4 2.8zM1156.9 439.9l3.4-2.8l1.8 2.1l-3.4 2.8zM1190.8 412.0l3.4-2.8l1.9 2.1l-3.4 2.8zM1196.4 407.4l3.4-2.8l1.9 2.1l-3.4 2.8zM1204.9 400.4l3.4-2.8l1.9 2.1l-3.4 2.8zM1107.4 483.2l3.4-2.8l1.8 2.0l-3.4 2.8zM1110.2 480.9l3.4-2.8l1.8 2.0l-3.4 2.8zM1121.5 471.6l3.4-2.8l1.8 2.0l-3.4 2.8zM1152.6 446.0l3.4-2.8l1.8 2.0l-3.4 2.8zM1161.1 439.1l3.4-2.8l1.8 2.1l-3.4 2.8zM1175.2 427.5l3.4-2.8l1.9 2.1l-3.4 2.8zM1189.3 415.8l3.4-2.8l1.9 2.1l-3.4 2.8zM1206.3 401.9l3.4-2.8l1.9 2.1l-3.4 2.8zM1220.4 390.3l3.4-2.8l1.9 2.1l-3.4 2.8zM1077.6 510.1l3.4-2.8l1.7 1.9l-3.4 2.8zM1083.2 505.5l3.4-2.8l1.7 1.9l-3.4 2.8zM1097.4 493.9l3.4-2.8l1.8 2.0l-3.4 2.8zM1176.5 428.9l3.4-2.8l1.9 2.1l-3.4 2.8zM1179.3 426.6l3.4-2.8l1.9 2.1l-3.4 2.8zM1185.0 422.0l3.4-2.8l1.9 2.1l-3.4 2.8zM1190.6 417.3l3.4-2.8l1.9 2.1l-3.4 2.8zM1112.8 483.7l3.4-2.8l1.8 2.0l-3.4 2.8zM1158.0 446.6l3.4-2.8l1.8 2.0l-3.4 2.8zM1186.3 423.5l3.4-2.8l1.9 2.1l-3.4 2.8zM1194.8 416.5l3.4-2.8l1.9 2.1l-3.4 2.8zM1209.0 404.9l3.4-2.8l1.9 2.1l-3.4 2.8zM1214.6 400.3l3.4-2.8l1.9 2.1l-3.4 2.8zM1108.4 489.7l3.4-2.8l1.7 2.0l-3.4 2.8zM1165.0 443.5l3.4-2.8l1.8 2.1l-3.4 2.8zM1184.8 427.3l3.4-2.8l1.8 2.1l-3.4 2.8zM1201.8 413.4l3.4-2.8l1.9 2.1l-3.4 2.8zM1204.7 411.1l3.4-2.8l1.9 2.1l-3.4 2.8zM1207.5 408.8l3.4-2.8l1.9 2.1l-3.4 2.8zM1118.1 484.2l3.4-2.8l1.7 2.0l-3.4 2.8zM1157.8 451.9l3.4-2.8l1.8 2.1l-3.4 2.8zM1174.8 438.0l3.4-2.8l1.8 2.1l-3.4 2.8zM1186.2 428.8l3.4-2.8l1.8 2.2l-3.4 2.8zM1223.0 398.7l3.4-2.8l1.8 2.2l-3.4 2.8zM1127.9 478.8l3.4-2.8l1.7 2.1l-3.4 2.8zM1161.9 451.1l3.4-2.8l1.8 2.1l-3.4 2.8zM1173.3 441.8l3.4-2.8l1.8 2.1l-3.4 2.8zM1097.9 505.6l3.4-2.8l1.7 2.0l-3.4 2.8zM1114.9 491.7l3.4-2.8l1.7 2.0l-3.4 2.8zM1120.6 487.1l3.4-2.8l1.7 2.0l-3.4 2.8zM1160.3 454.9l3.4-2.8l1.8 2.1l-3.4 2.8zM1163.2 452.6l3.4-2.8l1.8 2.1l-3.4 2.8zM1191.6 429.5l3.4-2.8l1.8 2.2l-3.4 2.8zM1090.5 513.9l3.4-2.8l1.7 2.0l-3.4 2.8zM1116.1 493.2l3.4-2.8l1.7 2.0l-3.4 2.8zM1130.3 481.7l3.4-2.8l1.7 2.1l-3.4 2.8zM1138.8 474.8l3.4-2.8l1.7 2.1l-3.4 2.8zM1153.1 463.3l3.4-2.8l1.8 2.1l-3.4 2.8zM1158.7 458.7l3.4-2.8l1.8 2.1l-3.4 2.8zM1175.8 444.9l3.4-2.8l1.8 2.1l-3.4 2.8zM1091.7 515.3l3.4-2.8l1.7 2.0l-3.4 2.8zM1125.9 487.8l3.4-2.8l1.7 2.1l-3.4 2.8zM1168.5 453.3l3.4-2.8l1.8 2.1l-3.4 2.8zM1199.8 428.0l3.4-2.8l1.8 2.2l-3.4 2.8zM1101.5 509.9l3.4-2.8l1.7 2.0l-3.4 2.8zM1104.3 507.6l3.4-2.8l1.7 2.0l-3.4 2.8zM1115.7 498.4l3.4-2.8l1.7 2.0l-3.4 2.8zM1135.6 482.3l3.4-2.8l1.7 2.1l-3.4 2.8zM1138.5 480.0l3.4-2.8l1.7 2.1l-3.4 2.8zM1097.0 515.9l3.4-2.8l1.7 2.0l-3.5 2.8zM1102.7 511.3l3.4-2.8l1.7 2.0l-3.5 2.8zM1116.9 499.9l3.4-2.8l1.7 2.0l-3.5 2.8zM1139.7 481.5l3.4-2.8l1.7 2.1l-3.5 2.8zM1151.1 472.3l3.4-2.8l1.7 2.1l-3.5 2.8zM1168.2 458.6l3.4-2.8l1.8 2.1l-3.5 2.8zM1208.1 426.5l3.4-2.8l1.8 2.2l-3.5 2.8zM1121.0 499.0l3.5-2.8l1.7 2.0l-3.5 2.8zM1123.8 496.7l3.5-2.8l1.7 2.0l-3.5 2.8zM1135.2 487.6l3.5-2.8l1.7 2.1l-3.5 2.8zM1163.7 464.7l3.5-2.8l1.8 2.1l-3.5 2.8zM1172.3 457.8l3.5-2.8l1.8 2.1l-3.5 2.8zM1096.5 521.0l3.5-2.8l1.7 2.0l-3.5 2.8zM1116.5 505.0l3.5-2.8l1.7 2.0l-3.5 2.8zM1119.3 502.8l3.5-2.8l1.7 2.0l-3.5 2.8zM1130.7 493.6l3.5-2.8l1.7 2.1l-3.5 2.8zM1167.8 463.9l3.5-2.8l1.8 2.1l-3.5 2.8zM1176.4 457.0l3.5-2.8l1.8 2.1l-3.5 2.8zM1185.0 450.2l3.5-2.8l1.8 2.1l-3.5 2.8zM1190.7 445.6l3.5-2.8l1.8 2.1l-3.5 2.8zM1103.4 517.9l3.5-2.8l1.7 2.0l-3.5 2.8zM1109.1 513.3l3.5-2.8l1.7 2.0l-3.5 2.8zM1114.8 508.8l3.5-2.8l1.7 2.0l-3.5 2.8zM1123.4 501.9l3.5-2.8l1.7 2.0l-3.5 2.8zM1129.1 497.4l3.5-2.8l1.7 2.0l-3.5 2.8zM1200.5 440.3l3.5-2.8l1.8 2.2l-3.5 2.8zM1096.0 526.2l3.5-2.8l1.7 2.0l-3.5 2.8zM1136.0 494.3l3.5-2.8l1.7 2.1l-3.5 2.8zM1173.2 464.6l3.5-2.8l1.8 2.1l-3.5 2.8zM1102.9 523.0l3.5-2.8l1.7 2.0l-3.5 2.7zM1120.1 509.4l3.5-2.8l1.7 2.0l-3.5 2.7zM1131.5 500.3l3.5-2.8l1.7 2.0l-3.5 2.7zM1134.4 498.0l3.5-2.8l1.7 2.1l-3.5 2.7zM1137.3 495.7l3.5-2.8l1.7 2.1l-3.5 2.7zM1200.2 445.6l3.5-2.8l1.8 2.2l-3.5 2.7zM1118.4 513.1l3.5-2.8l1.7 2.0l-3.5 2.7zM1127.0 506.3l3.5-2.8l1.7 2.0l-3.5 2.7zM1198.6 449.4l3.5-2.8l1.8 2.1l-3.5 2.7zM1134.0 503.2l3.5-2.7l1.7 2.0l-3.5 2.7zM1136.9 500.9l3.5-2.7l1.7 2.1l-3.5 2.7zM1184.0 466.1l3.5-2.7l1.8 2.1l-3.5 2.7zM1186.9 463.8l3.5-2.7l1.8 2.1l-3.5 2.7zM1133.6 508.4l3.5-2.7l1.7 2.0l-3.5 2.7zM1139.3 503.8l3.5-2.7l1.7 2.0l-3.5 2.7zM1145.0 499.3l3.5-2.7l1.7 2.1l-3.5 2.7zM1147.9 497.1l3.5-2.7l1.7 2.1l-3.5 2.7zM1100.3 537.0l3.5-2.7l1.7 1.9l-3.5 2.7zM1108.9 530.2l3.5-2.7l1.7 2.0l-3.5 2.7zM1129.0 514.4l3.5-2.7l1.8 2.0l-3.5 2.7zM1134.8 509.8l3.5-2.7l1.8 2.0l-3.5 2.7zM1143.4 503.0l3.5-2.7l1.8 2.0l-3.5 2.7zM1180.8 473.6l3.5-2.7l1.8 2.1l-3.5 2.7zM1189.4 466.9l3.5-2.7l1.8 2.1l-3.5 2.7zM1107.3 533.8l3.5-2.7l1.8 1.9l-3.5 2.7zM1130.3 515.8l3.5-2.7l1.8 2.0l-3.5 2.7zM1138.9 509.0l3.5-2.7l1.8 2.0l-3.5 2.7zM1144.7 504.5l3.5-2.7l1.8 2.0l-3.5 2.7zM1173.4 481.9l3.5-2.7l1.8 2.0l-3.5 2.7zM1179.2 477.4l3.5-2.7l1.8 2.0l-3.5 2.7zM1190.7 468.3l3.5-2.7l1.8 2.1l-3.5 2.7zM1160.3 494.6l3.5-2.7l1.8 2.0l-3.5 2.7zM1180.5 478.8l3.5-2.7l1.8 2.0l-3.5 2.7zM1115.5 532.1l3.5-2.7l1.8 1.9l-3.5 2.7zM1124.2 525.3l3.5-2.7l1.8 2.0l-3.5 2.7zM1127.0 523.1l3.5-2.7l1.8 2.0l-3.5 2.7zM1141.4 511.8l3.5-2.7l1.8 2.0l-3.5 2.7zM1150.1 505.1l3.5-2.7l1.8 2.0l-3.5 2.7zM1184.7 478.0l3.5-2.7l1.8 2.0l-3.5 2.7zM1128.3 524.5l3.5-2.7l1.8 2.0l-3.5 2.7zM1148.5 508.7l3.5-2.7l1.8 2.0l-3.5 2.7zM1106.5 543.8l3.5-2.7l1.7 1.9l-3.5 2.7zM1115.1 537.1l3.5-2.7l1.8 1.9l-3.5 2.7zM1123.8 530.4l3.5-2.7l1.8 2.0l-3.5 2.7zM1126.7 528.1l3.5-2.7l1.8 2.0l-3.5 2.7zM1129.6 525.9l3.5-2.7l1.8 2.0l-3.5 2.7zM1132.5 523.6l3.5-2.7l1.8 2.0l-3.5 2.7zM1152.7 507.9l3.5-2.7l1.8 2.0l-3.5 2.7zM1107.7 545.2l3.5-2.7l1.7 1.9l-3.5 2.7zM1116.4 538.5l3.5-2.7l1.8 1.9l-3.5 2.7zM1133.7 525.0l3.5-2.7l1.8 2.0l-3.5 2.7zM1156.8 507.1l3.5-2.7l1.8 2.0l-3.5 2.7zM1182.8 486.9l3.5-2.7l1.8 2.0l-3.5 2.7zM1114.7 542.1l3.5-2.7l1.8 1.9l-3.5 2.7zM1135.0 526.4l3.5-2.7l1.8 2.0l-3.5 2.7zM1152.3 513.0l3.5-2.7l1.8 2.0l-3.5 2.7zM1175.5 495.1l3.5-2.7l1.8 2.0l-3.5 2.7zM1178.3 492.8l3.5-2.7l1.8 2.0l-3.5 2.7zM1184.1 488.4l3.5-2.7l1.8 2.0l-3.5 2.7zM1195.7 479.4l3.5-2.7l1.8 2.1l-3.5 2.7zM1230.4 452.5l3.5-2.7l1.9 2.1l-3.5 2.7zM1107.3 550.2l3.5-2.7l1.7 1.9l-3.5 2.7zM1116.0 543.5l3.5-2.7l1.8 1.9l-3.5 2.7zM1118.9 541.2l3.5-2.7l1.8 1.9l-3.5 2.7zM1121.8 539.0l3.5-2.7l1.8 1.9l-3.5 2.7zM1127.6 534.5l3.5-2.7l1.8 2.0l-3.5 2.7zM1182.5 492.0l3.5-2.7l1.8 2.0l-3.5 2.7zM1197.0 480.9l3.5-2.7l1.8 2.1l-3.5 2.7zM1225.9 458.5l3.5-2.7l1.9 2.1l-3.5 2.7zM1231.7 454.0l3.5-2.7l1.9 2.1l-3.5 2.7zM1128.8 535.9l3.5-2.7l1.8 2.0l-3.5 2.7zM1134.6 531.5l3.5-2.7l1.8 2.0l-3.5 2.7zM1140.4 527.0l3.5-2.7l1.8 2.0l-3.5 2.7zM1160.7 511.4l3.5-2.7l1.8 2.0l-3.5 2.7zM1186.7 491.3l3.5-2.7l1.8 2.0l-3.5 2.7zM1238.9 451.1l3.5-2.7l1.9 2.1l-3.5 2.7zM1241.8 448.8l3.5-2.7l1.9 2.1l-3.5 2.7zM1115.6 548.5l3.5-2.7l1.7 1.9l-3.5 2.7zM1127.2 539.5l3.5-2.7l1.8 1.9l-3.5 2.7zM1130.1 537.3l3.5-2.7l1.8 2.0l-3.5 2.7zM1133.0 535.1l3.5-2.7l1.8 2.0l-3.5 2.7zM1164.9 510.6l3.5-2.7l1.8 2.0l-3.5 2.7zM1179.4 499.4l3.5-2.7l1.8 2.0l-3.5 2.7zM1237.3 454.8l3.5-2.7l1.9 2.1l-3.5 2.7zM1111.0 554.3l3.5-2.7l1.7 1.9l-3.5 2.7zM1119.7 547.6l3.5-2.7l1.8 1.9l-3.5 2.7zM1128.4 540.9l3.5-2.7l1.8 1.9l-3.5 2.7zM1131.3 538.7l3.5-2.7l1.8 2.0l-3.5 2.7zM1160.3 516.4l3.5-2.7l1.8 2.0l-3.5 2.7zM1209.7 478.6l3.5-2.7l1.9 2.1l-3.5 2.7zM1212.6 476.3l3.5-2.7l1.9 2.1l-3.5 2.7zM1218.4 471.9l3.5-2.7l1.9 2.1l-3.5 2.7zM1247.4 449.6l3.5-2.7l1.9 2.1l-3.5 2.7zM1208.1 482.3l3.5-2.7l1.9 2.1l-3.5 2.7zM1213.9 477.8l3.5-2.7l1.9 2.1l-3.5 2.7zM1216.8 475.6l3.5-2.7l1.9 2.1l-3.5 2.7zM1148.4 530.4l3.5-2.7l1.8 2.0l-3.5 2.7zM1160.0 521.5l3.5-2.7l1.8 2.0l-3.5 2.7zM1168.7 514.8l3.5-2.7l1.8 2.0l-3.5 2.7zM1192.0 497.1l3.5-2.7l1.8 2.0l-3.5 2.7zM1206.5 486.0l3.5-2.7l1.8 2.1l-3.5 2.7zM1209.4 483.7l3.5-2.7l1.9 2.1l-3.5 2.7zM1218.1 477.1l3.5-2.7l1.9 2.1l-3.5 2.7zM1221.0 474.9l3.5-2.7l1.9 2.1l-3.5 2.7zM1223.9 472.6l3.5-2.7l1.9 2.1l-3.5 2.7zM1226.8 470.4l3.5-2.7l1.9 2.1l-3.5 2.7zM1229.7 468.2l3.5-2.7l1.9 2.1l-3.5 2.7zM1232.6 466.0l3.5-2.7l1.9 2.1l-3.5 2.7zM1235.5 463.8l3.5-2.7l1.9 2.1l-3.5 2.7zM1238.5 461.5l3.5-2.7l1.9 2.1l-3.5 2.7zM1244.3 457.1l3.5-2.7l1.9 2.1l-3.5 2.7zM1155.5 527.4l3.5-2.7l1.8 2.0l-3.5 2.7zM1207.8 487.4l3.5-2.7l1.8 2.1l-3.5 2.7zM1210.7 485.2l3.5-2.7l1.9 2.1l-3.5 2.7zM1213.6 483.0l3.5-2.7l1.9 2.1l-3.5 2.7zM1219.4 478.6l3.5-2.7l1.9 2.1l-3.5 2.7zM1222.3 476.3l3.5-2.7l1.9 2.1l-3.5 2.7zM1228.2 471.9l3.5-2.7l1.9 2.1l-3.5 2.7zM1231.1 469.7l3.5-2.7l1.9 2.1l-3.5 2.7zM1234.0 467.5l3.5-2.7l1.9 2.1l-3.5 2.7zM1239.8 463.0l3.5-2.7l1.9 2.1l-3.5 2.7zM1242.7 460.8l3.5-2.7l1.9 2.1l-3.5 2.7zM1245.6 458.6l3.5-2.7l1.9 2.1l-3.5 2.7zM1116.0 559.8l3.5-2.7l1.8 1.9l-3.5 2.7zM1159.6 526.5l3.5-2.7l1.8 2.0l-3.5 2.7zM1165.5 522.1l3.5-2.7l1.8 2.0l-3.5 2.7zM1206.2 491.1l3.5-2.7l1.9 2.0l-3.5 2.7zM1212.0 486.7l3.5-2.7l1.9 2.1l-3.5 2.7zM1214.9 484.5l3.5-2.7l1.9 2.1l-3.5 2.7zM1223.7 477.8l3.5-2.7l1.9 2.1l-3.5 2.7zM1226.6 475.6l3.5-2.7l1.9 2.1l-3.5 2.7zM1229.5 473.4l3.5-2.7l1.9 2.1l-3.5 2.7zM1232.4 471.2l3.5-2.7l1.9 2.1l-3.5 2.7zM1235.3 469.0l3.5-2.7l1.9 2.1l-3.5 2.7zM1238.2 466.8l3.5-2.7l1.9 2.1l-3.5 2.7zM1244.0 462.3l3.5-2.7l1.9 2.1l-3.5 2.7zM1247.0 460.1l3.5-2.7l1.9 2.1l-3.5 2.7zM1120.1 558.9l3.5-2.7l1.8 1.9l-3.5 2.7zM1126.0 554.5l3.5-2.7l1.8 1.9l-3.5 2.7zM1155.1 532.4l3.5-2.7l1.8 1.9l-3.5 2.7zM1158.0 530.2l3.5-2.7l1.8 1.9l-3.5 2.7zM1201.7 497.0l3.5-2.7l1.9 2.0l-3.5 2.7zM1204.6 494.8l3.5-2.7l1.9 2.0l-3.5 2.7zM1210.4 490.4l3.5-2.7l1.9 2.0l-3.5 2.7zM1219.2 483.7l3.5-2.7l1.9 2.0l-3.5 2.7zM1225.0 479.3l3.5-2.7l1.9 2.0l-3.5 2.7zM1227.9 477.1l3.5-2.7l1.9 2.1l-3.5 2.7zM1230.8 474.9l3.5-2.7l1.9 2.1l-3.5 2.7zM1233.7 472.7l3.5-2.7l1.9 2.1l-3.5 2.7zM1236.7 470.5l3.5-2.7l1.9 2.1l-3.5 2.7zM1239.6 468.3l3.5-2.7l1.9 2.1l-3.5 2.7zM1242.5 466.0l3.5-2.7l1.9 2.1l-3.5 2.7zM1245.4 463.8l3.5-2.7l1.9 2.1l-3.5 2.7zM1248.3 461.6l3.5-2.7l1.9 2.1l-3.5 2.7zM1257.0 455.0l3.5-2.7l1.9 2.1l-3.5 2.7zM1118.5 562.5l3.5-2.7l1.8 1.9l-3.5 2.7zM1124.3 558.1l3.5-2.7l1.8 1.9l-3.5 2.7zM1226.4 480.8l3.5-2.7l1.9 2.0l-3.5 2.7zM1229.3 478.6l3.5-2.7l1.9 2.1l-3.5 2.7zM1232.2 476.4l3.5-2.7l1.9 2.1l-3.5 2.7zM1235.1 474.1l3.5-2.7l1.9 2.1l-3.5 2.7zM1238.0 471.9l3.5-2.7l1.9 2.1l-3.5 2.7zM1240.9 469.7l3.5-2.7l1.9 2.1l-3.5 2.7zM1243.9 467.5l3.5-2.7l1.9 2.1l-3.5 2.7zM1246.8 465.3l3.5-2.7l1.9 2.1l-3.5 2.7zM1249.7 463.1l3.5-2.7l1.9 2.1l-3.5 2.7zM1252.6 460.9l3.5-2.7l1.9 2.1l-3.5 2.7zM1258.4 456.5l3.5-2.7l1.9 2.1l-3.5 2.7zM1261.3 454.3l3.5-2.7l1.9 2.1l-3.5 2.7zM1122.7 561.6l3.5-2.7l1.8 1.9l-3.5 2.7zM1131.4 555.0l3.5-2.7l1.8 1.9l-3.5 2.7zM1151.9 539.6l3.5-2.7l1.8 1.9l-3.5 2.7zM1204.4 499.9l3.5-2.7l1.9 2.0l-3.5 2.7zM1210.2 495.5l3.5-2.7l1.9 2.0l-3.5 2.7zM1213.1 493.3l3.5-2.7l1.9 2.0l-3.5 2.7zM1216.0 491.1l3.5-2.7l1.9 2.0l-3.5 2.7zM1219.0 488.8l3.5-2.7l1.9 2.0l-3.5 2.7zM1221.9 486.6l3.5-2.7l1.9 2.0l-3.5 2.7zM1224.8 484.4l3.5-2.7l1.9 2.0l-3.5 2.7zM1227.7 482.2l3.5-2.7l1.9 2.0l-3.5 2.7zM1230.6 480.0l3.5-2.7l1.9 2.1l-3.5 2.7zM1233.6 477.8l3.5-2.7l1.9 2.1l-3.5 2.7zM1236.5 475.6l3.5-2.7l1.9 2.1l-3.5 2.7zM1239.4 473.4l3.5-2.7l1.9 2.1l-3.5 2.7zM1245.2 469.0l3.5-2.7l1.9 2.1l-3.5 2.7zM1248.1 466.8l3.5-2.7l1.9 2.1l-3.5 2.7zM1256.9 460.2l3.5-2.7l1.9 2.1l-3.5 2.7zM1147.3 545.3l3.5-2.7l1.8 1.9l-3.5 2.7zM1191.1 512.3l3.5-2.7l1.9 2.0l-3.5 2.7zM1214.5 494.7l3.5-2.7l1.9 2.0l-3.5 2.7zM1220.3 490.3l3.5-2.7l1.9 2.0l-3.5 2.7zM1223.2 488.1l3.5-2.7l1.9 2.0l-3.5 2.7zM1229.1 483.7l3.5-2.7l1.9 2.1l-3.5 2.7zM1232.0 481.5l3.5-2.7l1.9 2.1l-3.5 2.7zM1246.6 470.5l3.5-2.7l1.9 2.1l-3.5 2.7zM1249.5 468.3l3.5-2.7l1.9 2.1l-3.5 2.7zM1252.4 466.1l3.5-2.7l1.9 2.1l-3.5 2.7zM1255.4 463.9l3.5-2.7l1.9 2.1l-3.5 2.7zM1166.1 533.5l3.5-2.7l1.8 2.0l-3.5 2.7zM1192.4 513.7l3.5-2.7l1.9 2.0l-3.5 2.7zM1210.0 500.5l3.5-2.7l1.9 2.0l-3.5 2.7zM1218.7 493.9l3.5-2.7l1.9 2.0l-3.5 2.7zM1221.7 491.7l3.5-2.7l1.9 2.0l-3.5 2.7zM1224.6 489.6l3.5-2.7l1.9 2.0l-3.5 2.7zM1227.5 487.4l3.5-2.7l1.9 2.0l-3.5 2.7zM1230.4 485.2l3.5-2.7l1.9 2.1l-3.5 2.7zM1239.2 478.6l3.5-2.7l1.9 2.1l-3.5 2.7zM1253.8 467.6l3.5-2.7l1.9 2.1l-3.5 2.7zM1256.7 465.4l3.5-2.7l1.9 2.1l-3.5 2.7zM1208.4 504.2l3.5-2.7l1.9 2.0l-3.5 2.7zM1211.3 502.0l3.5-2.7l1.9 2.0l-3.5 2.7zM1217.2 497.6l3.5-2.7l1.9 2.0l-3.5 2.7zM1220.1 495.4l3.5-2.7l1.9 2.0l-3.5 2.7zM1223.0 493.2l3.5-2.7l1.9 2.0l-3.5 2.7zM1225.9 491.0l3.5-2.7l1.9 2.0l-3.5 2.7zM1231.8 486.6l3.5-2.7l1.9 2.1l-3.5 2.7zM1234.7 484.4l3.5-2.7l1.9 2.1l-3.5 2.7zM1237.6 482.2l3.5-2.7l1.9 2.1l-3.5 2.7zM1240.6 480.0l3.5-2.7l1.9 2.1l-3.5 2.7zM1249.3 473.4l3.5-2.7l1.9 2.1l-3.5 2.7zM1258.1 466.9l3.5-2.7l1.9 2.1l-3.5 2.7zM1261.0 464.7l3.5-2.7l1.9 2.1l-3.5 2.7zM1264.0 462.5l3.5-2.7l1.9 2.1l-3.5 2.7zM1148.2 551.7l3.5-2.7l1.8 1.9l-3.5 2.6zM1162.9 540.7l3.5-2.7l1.8 1.9l-3.5 2.6zM1165.8 538.5l3.5-2.7l1.8 1.9l-3.5 2.6zM1180.4 527.5l3.5-2.7l1.8 2.0l-3.5 2.6zM1209.7 505.6l3.5-2.7l1.9 2.0l-3.5 2.6zM1212.6 503.4l3.5-2.7l1.9 2.0l-3.5 2.6zM1215.6 501.2l3.5-2.7l1.9 2.0l-3.5 2.6zM1221.4 496.8l3.5-2.7l1.9 2.0l-3.5 2.6zM1224.4 494.7l3.5-2.7l1.9 2.0l-3.5 2.6zM1227.3 492.5l3.5-2.7l1.9 2.0l-3.5 2.6zM1230.2 490.3l3.5-2.7l1.9 2.0l-3.5 2.6zM1233.1 488.1l3.5-2.7l1.9 2.1l-3.5 2.6zM1236.1 485.9l3.5-2.7l1.9 2.1l-3.5 2.6zM1239.0 483.7l3.5-2.7l1.9 2.1l-3.5 2.6zM1241.9 481.5l3.5-2.7l1.9 2.1l-3.5 2.6zM1244.8 479.3l3.5-2.7l1.9 2.1l-3.5 2.6zM1247.8 477.1l3.5-2.7l1.9 2.1l-3.5 2.6zM1250.7 474.9l3.5-2.7l1.9 2.1l-3.5 2.6zM1262.4 466.2l3.5-2.7l1.9 2.1l-3.5 2.6zM1265.3 464.0l3.5-2.7l1.9 2.1l-3.5 2.6zM1268.3 461.8l3.5-2.7l1.9 2.1l-3.5 2.6zM1126.1 570.5l3.5-2.6l1.8 1.9l-3.5 2.6zM1167.1 539.9l3.5-2.6l1.8 1.9l-3.5 2.6zM1211.1 507.0l3.5-2.6l1.9 2.0l-3.5 2.6zM1214.0 504.9l3.5-2.6l1.9 2.0l-3.5 2.6zM1216.9 502.7l3.5-2.6l1.9 2.0l-3.5 2.6zM1219.8 500.5l3.5-2.6l1.9 2.0l-3.5 2.6zM1240.3 485.2l3.5-2.6l1.9 2.1l-3.5 2.6zM1243.3 483.0l3.5-2.6l1.9 2.1l-3.5 2.6zM1257.9 472.0l3.5-2.6l1.9 2.1l-3.5 2.6zM1260.9 469.8l3.5-2.6l1.9 2.1l-3.5 2.6zM1263.8 467.6l3.5-2.6l1.9 2.1l-3.5 2.6zM1266.7 465.5l3.5-2.6l1.9 2.1l-3.5 2.6zM1269.6 463.3l3.5-2.6l1.9 2.1l-3.5 2.6zM1159.6 547.8l3.5-2.6l1.8 1.9l-3.6 2.6zM1174.3 536.9l3.5-2.6l1.8 2.0l-3.6 2.6zM1188.9 526.0l3.5-2.6l1.8 2.0l-3.6 2.6zM1221.2 501.9l3.5-2.6l1.9 2.0l-3.6 2.6zM1224.1 499.7l3.5-2.6l1.9 2.0l-3.6 2.6zM1227.0 497.6l3.5-2.6l1.9 2.0l-3.6 2.6zM1241.7 486.6l3.5-2.6l1.9 2.1l-3.6 2.6zM1244.6 484.4l3.5-2.6l1.9 2.1l-3.6 2.6zM1247.6 482.3l3.5-2.6l1.9 2.1l-3.6 2.6zM1259.3 473.5l3.5-2.6l1.9 2.1l-3.6 2.6zM1268.1 466.9l3.5-2.6l1.9 2.1l-3.6 2.6zM1271.0 464.8l3.5-2.6l1.9 2.1l-3.6 2.6zM1274.0 462.6l3.5-2.6l1.9 2.1l-3.6 2.6zM1146.2 560.1l3.6-2.6l1.8 1.9l-3.6 2.6zM1152.1 555.8l3.6-2.6l1.8 1.9l-3.6 2.6zM1225.5 501.2l3.6-2.6l1.9 2.0l-3.6 2.6zM1231.3 496.8l3.6-2.6l1.9 2.0l-3.6 2.6zM1234.3 494.6l3.6-2.6l1.9 2.0l-3.6 2.6zM1240.1 490.3l3.6-2.6l1.9 2.1l-3.6 2.6zM1260.7 475.0l3.6-2.6l1.9 2.1l-3.6 2.6zM1263.6 472.8l3.6-2.6l1.9 2.1l-3.6 2.6zM1266.5 470.6l3.6-2.6l1.9 2.1l-3.6 2.6zM1138.7 568.0l3.6-2.6l1.8 1.9l-3.6 2.6zM1147.5 561.5l3.6-2.6l1.8 1.9l-3.6 2.6zM1156.3 555.0l3.6-2.6l1.8 1.9l-3.6 2.6zM1159.3 552.8l3.6-2.6l1.8 1.9l-3.6 2.6zM1162.2 550.6l3.6-2.6l1.8 1.9l-3.6 2.6zM1173.9 541.9l3.6-2.6l1.8 2.0l-3.6 2.6zM1238.6 493.9l3.6-2.6l1.9 2.1l-3.6 2.6zM1241.5 491.7l3.6-2.6l1.9 2.1l-3.6 2.6zM1250.3 485.2l3.6-2.6l1.9 2.1l-3.6 2.6zM1253.2 483.0l3.6-2.6l1.9 2.1l-3.6 2.6zM1256.2 480.8l3.6-2.6l1.9 2.1l-3.6 2.6zM1259.1 478.7l3.6-2.6l1.9 2.1l-3.6 2.6zM1134.1 573.7l3.6-2.6l1.8 1.9l-3.6 2.6zM1137.0 571.6l3.6-2.6l1.8 1.9l-3.6 2.6zM1140.0 569.4l3.6-2.6l1.8 1.9l-3.6 2.6zM1142.9 567.2l3.6-2.6l1.8 1.9l-3.6 2.6zM1145.9 565.0l3.6-2.6l1.8 1.9l-3.6 2.6zM1148.8 562.9l3.6-2.6l1.8 1.9l-3.6 2.6zM1154.7 558.5l3.6-2.6l1.8 1.9l-3.6 2.6zM1166.4 549.8l3.6-2.6l1.8 1.9l-3.6 2.6zM1234.0 499.7l3.6-2.6l1.9 2.0l-3.6 2.6zM1239.9 495.4l3.6-2.6l1.9 2.1l-3.6 2.6zM1242.8 493.2l3.6-2.6l1.9 2.1l-3.6 2.6zM1245.8 491.0l3.6-2.6l1.9 2.1l-3.6 2.6zM1248.7 488.8l3.6-2.6l1.9 2.1l-3.6 2.6zM1251.7 486.7l3.6-2.6l1.9 2.1l-3.6 2.6zM1254.6 484.5l3.6-2.6l1.9 2.1l-3.6 2.6zM1156.0 559.9l3.6-2.6l1.3 1.4l-3.6 2.6zM1244.2 494.7l3.6-2.6l1.4 1.5l-3.6 2.6zM1270.7 475.1l3.6-2.6l1.4 1.6l-3.6 2.6zM1279.5 468.6l3.6-2.6l1.4 1.6l-3.6 2.6zM1282.4 466.4l3.6-2.6l1.4 1.6l-3.6 2.6z"/>
<path fill="#90ff67" d="M1126.1 348.8l3.3-3.0l0.7 2.7l-3.3 3.0zM1135.6 347.1l3.3-3.0l0.7 2.7l-3.3 3.0zM1101.4 382.9l3.3-3.0l0.6 2.6l-3.3 3.0zM1055.8 426.5l3.3-3.0l0.6 2.5l-3.3 3.0zM1058.5 424.1l3.3-3.0l0.6 2.5l-3.3 3.0zM1131.7 357.7l3.3-3.0l0.7 2.7l-3.3 3.0zM1102.8 388.5l3.3-3.0l0.6 2.6l-3.3 3.0zM1138.1 356.6l3.3-3.0l0.7 2.7l-3.3 3.0zM1140.8 354.1l3.3-3.0l0.7 2.7l-3.3 3.0zM1054.8 436.2l3.3-3.0l0.6 2.5l-3.3 3.0zM1109.1 387.3l3.3-3.0l0.7 2.6l-3.3 3.0zM1090.6 406.3l3.3-3.0l0.7 2.6l-3.3 3.0zM1055.7 439.8l3.3-3.0l0.6 2.5l-3.3 2.9zM1156.4 349.5l3.3-3.0l0.8 2.7l-3.3 2.9zM1141.2 368.0l3.3-2.9l0.7 2.7l-3.3 2.9zM1062.5 440.4l3.3-2.9l0.6 2.5l-3.3 2.9zM1092.5 413.6l3.3-2.9l0.7 2.6l-3.3 2.9zM1087.5 420.3l3.3-2.9l0.7 2.6l-3.3 2.9zM1153.2 362.0l3.3-2.9l0.8 2.7l-3.3 2.9zM1090.8 419.7l3.3-2.9l0.7 2.6l-3.3 2.9zM1129.1 385.8l3.3-2.9l0.7 2.6l-3.3 2.9zM1142.8 373.6l3.3-2.9l0.7 2.7l-3.3 2.9zM1156.4 361.5l3.3-2.9l0.8 2.7l-3.3 2.9zM1132.3 385.2l3.3-2.9l0.7 2.6l-3.3 2.9zM1135.1 382.8l3.3-2.9l0.7 2.6l-3.3 2.9zM1056.1 454.8l3.3-2.9l0.6 2.5l-3.3 2.9zM1108.2 408.9l3.3-2.9l0.7 2.6l-3.3 2.9zM1121.9 396.8l3.3-2.9l0.7 2.6l-3.3 2.9zM1143.8 377.4l3.3-2.9l0.7 2.7l-3.3 2.9zM1059.3 454.2l3.3-2.9l0.6 2.5l-3.3 2.9zM1062.0 451.8l3.3-2.9l0.6 2.5l-3.3 2.9zM1108.7 410.7l3.3-2.9l0.7 2.6l-3.3 2.9zM1158.1 367.2l3.3-2.9l0.8 2.7l-3.3 2.9zM1160.8 364.8l3.3-2.9l0.8 2.7l-3.3 2.9zM1122.9 400.5l3.3-2.9l0.7 2.6l-3.3 2.9zM1131.1 393.3l3.3-2.9l0.7 2.6l-3.3 2.9zM1136.6 388.4l3.3-2.9l0.7 2.6l-3.3 2.9zM1117.9 407.2l3.3-2.9l0.7 2.6l-3.3 2.9zM1126.2 399.9l3.3-2.9l0.7 2.6l-3.3 2.9zM1148.2 380.7l3.3-2.9l0.8 2.7l-3.3 2.9zM1123.9 404.2l3.3-2.9l0.7 2.6l-3.3 2.9zM1126.7 401.8l3.3-2.9l0.7 2.6l-3.3 2.9zM1148.7 382.6l3.3-2.9l0.8 2.7l-3.3 2.9zM1151.5 380.1l3.3-2.9l0.8 2.7l-3.3 2.9zM1063.8 459.0l3.3-2.9l0.6 2.5l-3.3 2.9zM1094.1 432.5l3.3-2.9l0.7 2.6l-3.3 2.9zM1116.2 413.3l3.3-2.9l0.7 2.6l-3.3 2.9zM1124.5 406.1l3.3-2.9l0.7 2.6l-3.3 2.9zM1146.5 386.9l3.3-2.9l0.8 2.6l-3.3 2.9zM1165.8 370.0l3.3-2.9l0.8 2.7l-3.3 2.9zM1149.8 386.3l3.3-2.9l0.8 2.7l-3.3 2.9zM1166.3 371.9l3.3-2.9l0.8 2.7l-3.3 2.9zM1177.4 362.3l3.3-2.9l0.8 2.7l-3.3 2.9zM1106.2 426.6l3.3-2.9l0.7 2.6l-3.3 2.9zM1125.5 409.8l3.3-2.9l0.7 2.6l-3.3 2.9zM1144.8 393.0l3.3-2.9l0.8 2.6l-3.3 2.9zM1147.6 390.6l3.3-2.9l0.8 2.6l-3.3 2.9zM1153.1 385.8l3.3-2.9l0.8 2.7l-3.3 2.9zM1161.4 378.6l3.3-2.9l0.8 2.7l-3.3 2.9zM1166.9 373.8l3.3-2.9l0.8 2.7l-3.3 2.9zM1177.9 364.2l3.3-2.9l0.8 2.7l-3.3 2.9zM1180.7 361.8l3.3-2.9l0.8 2.7l-3.3 2.9zM1109.4 426.1l3.3-2.9l0.7 2.6l-3.3 2.9zM1123.2 414.1l3.3-2.9l0.7 2.6l-3.3 2.9zM1137.1 402.1l3.3-2.9l0.7 2.6l-3.3 2.9zM1139.8 399.7l3.3-2.9l0.7 2.6l-3.3 2.9zM1150.9 390.1l3.3-2.9l0.8 2.7l-3.3 2.9zM1159.2 382.9l3.3-2.9l0.8 2.7l-3.3 2.9zM1164.7 378.1l3.3-2.9l0.8 2.7l-3.3 2.9zM1167.5 375.7l3.3-2.9l0.8 2.7l-3.3 2.9zM1109.9 427.9l3.3-2.9l0.7 2.6l-3.4 2.9zM1132.1 408.8l3.3-2.9l0.7 2.6l-3.4 2.9zM1134.8 406.4l3.3-2.9l0.7 2.6l-3.4 2.9zM1148.6 394.4l3.3-2.9l0.8 2.6l-3.4 2.9zM1151.4 392.0l3.3-2.9l0.8 2.7l-3.4 2.9zM1156.9 387.2l3.3-2.9l0.8 2.7l-3.4 2.9zM1168.0 377.7l3.3-2.9l0.8 2.7l-3.4 2.9zM1074.4 460.8l3.3-2.9l0.7 2.5l-3.4 2.9zM1127.0 415.4l3.3-2.9l0.7 2.6l-3.4 2.9zM1143.6 401.1l3.3-2.9l0.7 2.6l-3.4 2.9zM1171.3 377.2l3.3-2.9l0.8 2.7l-3.4 2.9zM1182.4 367.6l3.3-2.9l0.8 2.7l-3.4 2.9zM1069.4 467.4l3.4-2.9l0.6 2.5l-3.4 2.9zM1110.9 431.6l3.4-2.9l0.7 2.6l-3.4 2.9zM1113.7 429.2l3.4-2.9l0.7 2.6l-3.4 2.9zM1119.2 424.4l3.4-2.9l0.7 2.6l-3.4 2.9zM1127.6 417.3l3.4-2.9l0.7 2.6l-3.4 2.9zM1171.9 379.1l3.4-2.9l0.8 2.7l-3.4 2.9zM1100.3 443.0l3.4-2.9l0.6 2.6l-3.4 2.9zM1105.9 438.2l3.4-2.9l0.6 2.6l-3.4 2.9zM1133.6 414.4l3.4-2.9l0.6 2.7l-3.4 2.9zM1155.8 395.3l3.4-2.9l0.6 2.7l-3.4 2.9zM1172.4 381.0l3.4-2.9l0.7 2.7l-3.4 2.9zM1175.2 378.6l3.4-2.9l0.7 2.7l-3.4 2.9zM1106.3 440.1l3.4-2.9l0.5 2.6l-3.4 2.9zM1114.6 432.9l3.4-2.9l0.5 2.6l-3.4 2.9zM1142.4 409.1l3.4-2.9l0.6 2.7l-3.4 2.9zM1073.3 470.5l3.4-2.9l0.5 2.6l-3.4 2.9zM1134.5 418.2l3.4-2.9l0.6 2.7l-3.4 2.9zM1140.0 413.4l3.4-2.9l0.6 2.7l-3.4 2.9zM1151.1 403.9l3.4-2.9l0.6 2.7l-3.4 2.9zM1173.4 384.9l3.4-2.9l0.6 2.7l-3.4 2.9zM1181.7 377.7l3.4-2.9l0.6 2.7l-3.4 2.9zM1187.3 373.0l3.4-2.9l0.6 2.7l-3.4 2.9zM1070.9 474.7l3.4-2.9l0.5 2.6l-3.4 2.9zM1123.8 429.6l3.4-2.9l0.6 2.6l-3.4 2.9zM1146.0 410.6l3.4-2.9l0.6 2.7l-3.4 2.9zM1182.2 379.7l3.4-2.9l0.6 2.7l-3.4 2.9zM1121.4 433.8l3.4-2.9l0.6 2.6l-3.4 2.9zM1182.6 381.6l3.4-2.9l0.6 2.7l-3.4 2.9zM1188.2 376.9l3.4-2.9l0.6 2.7l-3.4 2.9zM1119.0 438.1l3.4-2.9l0.5 2.6l-3.4 2.9zM1130.1 428.6l3.4-2.9l0.6 2.7l-3.4 2.9zM1169.1 395.4l3.4-2.9l0.6 2.7l-3.4 2.9zM1077.5 475.4l3.4-2.9l0.5 2.6l-3.4 2.9zM1080.3 473.1l3.4-2.9l0.5 2.6l-3.4 2.9zM1119.4 439.9l3.4-2.9l0.5 2.6l-3.4 2.9zM1124.9 435.2l3.4-2.9l0.6 2.6l-3.4 2.9zM1194.7 376.1l3.4-2.9l0.6 2.8l-3.4 2.9zM1069.5 484.4l3.4-2.9l0.5 2.6l-3.4 2.9zM1080.7 474.9l3.4-2.9l0.5 2.6l-3.4 2.9zM1119.7 441.8l3.4-2.9l0.5 2.6l-3.4 2.9zM1158.8 408.7l3.4-2.9l0.6 2.7l-3.4 2.9zM1161.6 406.4l3.4-2.9l0.6 2.7l-3.4 2.9zM1175.6 394.6l3.4-2.9l0.6 2.7l-3.4 2.9zM1103.4 457.9l3.4-2.9l0.5 2.6l-3.4 2.9zM1106.2 455.5l3.4-2.9l0.5 2.6l-3.4 2.9zM1184.4 389.4l3.4-2.9l0.6 2.7l-3.4 2.9zM1089.8 471.5l3.4-2.9l0.5 2.6l-3.4 2.8zM1134.9 435.7l3.4-2.8l0.8 2.5l-3.4 2.8zM1143.3 428.6l3.4-2.8l0.8 2.5l-3.4 2.8zM1110.1 458.7l3.4-2.8l1.7 2.0l-3.4 2.8zM1121.3 449.3l3.4-2.8l1.7 2.1l-3.4 2.8zM1171.7 407.0l3.4-2.8l1.8 2.1l-3.4 2.8zM1194.1 388.2l3.4-2.8l1.8 2.2l-3.4 2.8zM1114.1 457.9l3.4-2.8l1.8 2.0l-3.4 2.8zM1178.6 403.9l3.4-2.8l1.9 2.1l-3.4 2.8zM1189.8 394.5l3.4-2.8l1.9 2.1l-3.4 2.8zM1123.8 452.3l3.4-2.8l1.8 2.0l-3.4 2.8zM1140.6 438.2l3.4-2.8l1.8 2.0l-3.4 2.8zM1154.7 426.5l3.4-2.8l1.9 2.1l-3.4 2.8zM1165.9 417.1l3.4-2.8l1.9 2.1l-3.4 2.8zM1171.5 412.4l3.4-2.8l1.9 2.1l-3.4 2.8zM1179.9 405.4l3.4-2.8l1.9 2.1l-3.4 2.8zM1074.5 495.8l3.4-2.8l1.7 1.9l-3.4 2.8zM1139.1 442.0l3.4-2.8l1.8 2.0l-3.4 2.8zM1156.0 427.9l3.4-2.8l1.9 2.1l-3.4 2.8zM1161.6 423.3l3.4-2.8l1.9 2.1l-3.4 2.8zM1195.3 395.2l3.4-2.8l1.9 2.1l-3.4 2.8zM1198.1 392.8l3.4-2.8l1.9 2.1l-3.4 2.8zM1199.5 394.3l3.4-2.8l1.9 2.1l-3.4 2.8zM1116.4 465.9l3.4-2.8l1.8 2.0l-3.4 2.8zM1153.0 435.5l3.4-2.8l1.8 2.1l-3.4 2.8zM1181.1 412.2l3.4-2.8l1.9 2.1l-3.4 2.8zM1183.9 409.9l3.4-2.8l1.9 2.1l-3.4 2.8zM1195.2 400.5l3.4-2.8l1.9 2.1l-3.4 2.8zM1200.8 395.8l3.4-2.8l1.9 2.1l-3.4 2.8zM1120.5 465.0l3.4-2.8l1.8 2.0l-3.4 2.8zM1140.2 448.7l3.4-2.8l1.8 2.0l-3.4 2.8zM1171.2 423.0l3.4-2.8l1.9 2.1l-3.4 2.8zM1176.8 418.3l3.4-2.8l1.9 2.1l-3.4 2.8zM1182.5 413.7l3.4-2.8l1.9 2.1l-3.4 2.8zM1188.1 409.0l3.4-2.8l1.9 2.1l-3.4 2.8zM1079.5 501.4l3.4-2.8l1.7 1.9l-3.4 2.8zM1116.1 471.1l3.4-2.8l1.8 2.0l-3.4 2.8zM1144.3 447.8l3.4-2.8l1.8 2.0l-3.4 2.8zM1197.9 403.5l3.4-2.8l1.9 2.1l-3.4 2.8zM1212.0 391.9l3.4-2.8l1.9 2.1l-3.4 2.8zM1123.1 467.8l3.4-2.8l1.8 2.0l-3.4 2.8zM1207.7 398.1l3.4-2.8l1.9 2.1l-3.4 2.8zM1213.4 393.4l3.4-2.8l1.9 2.1l-3.4 2.8zM1113.0 478.6l3.4-2.8l1.8 2.0l-3.4 2.8zM1127.2 466.9l3.4-2.8l1.8 2.0l-3.4 2.8zM1149.8 448.4l3.4-2.8l1.8 2.0l-3.4 2.8zM1192.1 413.5l3.4-2.8l1.9 2.1l-3.4 2.8zM1197.8 408.9l3.4-2.8l1.9 2.1l-3.4 2.8zM1214.7 394.9l3.4-2.8l1.9 2.1l-3.4 2.8zM1217.5 392.6l3.4-2.8l1.9 2.1l-3.4 2.8zM1142.6 456.8l3.4-2.8l1.8 2.0l-3.4 2.8zM1153.9 447.5l3.4-2.8l1.8 2.0l-3.4 2.8zM1221.7 391.8l3.4-2.8l1.9 2.1l-3.4 2.8zM1118.4 479.1l3.4-2.8l1.8 2.0l-3.4 2.8zM1126.9 472.1l3.4-2.8l1.8 2.0l-3.4 2.8zM1149.5 453.6l3.4-2.8l1.8 2.0l-3.4 2.8zM1166.5 439.7l3.4-2.8l1.8 2.1l-3.4 2.8zM1183.5 425.8l3.4-2.8l1.9 2.1l-3.4 2.8zM1192.0 418.8l3.4-2.8l1.9 2.1l-3.4 2.8zM1200.5 411.9l3.4-2.8l1.9 2.1l-3.4 2.8zM1203.3 409.6l3.4-2.8l1.9 2.1l-3.4 2.8zM1211.8 402.6l3.4-2.8l1.9 2.1l-3.4 2.8zM1217.5 398.0l3.4-2.8l1.9 2.1l-3.4 2.8zM1122.5 478.2l3.4-2.8l1.8 2.0l-3.4 2.8zM1150.8 455.0l3.4-2.8l1.8 2.1l-3.4 2.8zM1179.2 431.9l3.4-2.8l1.8 2.1l-3.4 2.8zM1182.0 429.6l3.4-2.8l1.8 2.1l-3.4 2.8zM1193.3 420.3l3.4-2.8l1.9 2.1l-3.4 2.8zM1196.2 418.0l3.4-2.8l1.9 2.1l-3.4 2.8zM1213.2 404.1l3.4-2.8l1.9 2.2l-3.4 2.8zM1216.0 401.8l3.4-2.8l1.9 2.2l-3.4 2.8zM1098.3 500.4l3.4-2.8l1.7 2.0l-3.4 2.8zM1126.6 477.3l3.4-2.8l1.7 2.1l-3.4 2.8zM1208.8 410.3l3.4-2.8l1.8 2.2l-3.4 2.8zM1102.3 499.5l3.4-2.8l1.7 2.0l-3.4 2.8zM1156.2 455.7l3.4-2.8l1.8 2.1l-3.4 2.8zM1159.1 453.4l3.4-2.8l1.8 2.1l-3.4 2.8zM1190.3 428.0l3.4-2.8l1.8 2.2l-3.4 2.8zM1198.8 421.1l3.4-2.8l1.8 2.2l-3.4 2.8zM1207.3 414.1l3.4-2.8l1.8 2.2l-3.4 2.8zM1123.4 484.8l3.4-2.8l1.7 2.1l-3.4 2.8zM1131.9 477.9l3.4-2.8l1.7 2.1l-3.4 2.8zM1202.9 420.3l3.4-2.8l1.8 2.2l-3.4 2.8zM1228.5 399.6l3.4-2.8l1.8 2.2l-3.4 2.8zM1093.4 511.6l3.4-2.8l1.7 2.0l-3.4 2.8zM1150.2 465.6l3.4-2.8l1.7 2.1l-3.4 2.8zM1155.9 461.0l3.4-2.8l1.8 2.1l-3.4 2.8zM1164.4 454.1l3.4-2.8l1.8 2.1l-3.4 2.8zM1167.3 451.8l3.4-2.8l1.8 2.1l-3.4 2.8zM1184.3 438.0l3.4-2.8l1.8 2.1l-3.4 2.8zM1207.0 419.5l3.4-2.8l1.8 2.2l-3.4 2.8zM1232.6 398.8l3.4-2.8l1.8 2.2l-3.4 2.8zM1131.5 483.2l3.4-2.8l1.7 2.1l-3.4 2.8zM1134.4 480.9l3.4-2.8l1.7 2.1l-3.4 2.8zM1154.3 464.8l3.4-2.8l1.8 2.1l-3.4 2.8zM1174.2 448.7l3.4-2.8l1.8 2.1l-3.4 2.8zM1188.4 437.2l3.4-2.8l1.8 2.1l-3.4 2.8zM1225.4 407.3l3.4-2.8l1.8 2.2l-3.4 2.8zM1233.9 400.4l3.4-2.8l1.8 2.2l-3.4 2.8zM1124.2 491.5l3.4-2.8l1.7 2.0l-3.4 2.8zM1144.2 475.4l3.4-2.8l1.7 2.1l-3.4 2.8zM1122.6 495.3l3.4-2.8l1.7 2.0l-3.5 2.8zM1128.3 490.7l3.4-2.8l1.7 2.1l-3.5 2.8zM1142.5 479.2l3.4-2.8l1.7 2.1l-3.5 2.8zM1092.4 521.9l3.5-2.8l1.7 2.0l-3.5 2.8zM1095.3 519.6l3.5-2.8l1.7 2.0l-3.5 2.8zM1098.1 517.3l3.5-2.8l1.7 2.0l-3.5 2.8zM1103.9 512.8l3.5-2.8l1.7 2.0l-3.5 2.8zM1138.1 485.3l3.5-2.8l1.7 2.1l-3.5 2.8zM1143.8 480.7l3.5-2.8l1.7 2.1l-3.5 2.8zM1192.3 441.8l3.5-2.8l1.8 2.1l-3.5 2.8zM1229.3 412.0l3.5-2.8l1.8 2.2l-3.5 2.8zM1133.6 491.3l3.5-2.8l1.7 2.1l-3.5 2.8zM1150.7 477.6l3.5-2.8l1.7 2.1l-3.5 2.8zM1173.6 459.3l3.5-2.8l1.8 2.1l-3.5 2.8zM1187.8 447.9l3.5-2.8l1.8 2.1l-3.5 2.8zM1205.0 434.2l3.5-2.8l1.8 2.2l-3.5 2.8zM1117.7 506.5l3.5-2.8l1.7 2.0l-3.5 2.8zM1134.8 492.8l3.5-2.8l1.7 2.1l-3.5 2.8zM1163.4 470.0l3.5-2.8l1.8 2.1l-3.5 2.8zM1169.1 465.4l3.5-2.8l1.8 2.1l-3.5 2.8zM1194.8 444.8l3.5-2.8l1.8 2.1l-3.5 2.8zM1124.6 503.4l3.5-2.8l1.7 2.0l-3.5 2.8zM1138.9 492.0l3.5-2.8l1.7 2.1l-3.5 2.8zM1190.4 450.9l3.5-2.8l1.8 2.1l-3.5 2.8zM1128.7 502.5l3.5-2.8l1.7 2.0l-3.5 2.7zM1165.9 472.9l3.5-2.8l1.8 2.1l-3.5 2.7zM1168.8 470.7l3.5-2.8l1.8 2.1l-3.5 2.7zM1185.9 457.0l3.5-2.8l1.8 2.1l-3.5 2.7zM1194.5 450.2l3.5-2.8l1.8 2.1l-3.5 2.7zM1095.5 531.3l3.5-2.8l1.7 2.0l-3.5 2.7zM1147.1 490.4l3.5-2.8l1.7 2.1l-3.5 2.7zM1152.8 485.8l3.5-2.8l1.7 2.1l-3.5 2.7zM1172.9 469.9l3.5-2.8l1.8 2.1l-3.5 2.7zM1145.5 494.1l3.5-2.7l1.7 2.1l-3.5 2.7zM1151.2 489.6l3.5-2.7l1.7 2.1l-3.5 2.7zM1159.8 482.8l3.5-2.7l1.7 2.1l-3.5 2.7zM1168.4 475.9l3.5-2.7l1.8 2.1l-3.5 2.7zM1171.3 473.7l3.5-2.7l1.8 2.1l-3.5 2.7zM1182.7 464.6l3.5-2.7l1.8 2.1l-3.5 2.7zM1220.0 435.1l3.5-2.7l1.8 2.2l-3.5 2.7zM1100.8 531.9l3.5-2.7l1.7 2.0l-3.5 2.7zM1120.9 516.0l3.5-2.7l1.7 2.0l-3.5 2.7zM1126.6 511.5l3.5-2.7l1.7 2.0l-3.5 2.7zM1135.2 504.7l3.5-2.7l1.7 2.0l-3.5 2.7zM1138.1 502.4l3.5-2.7l1.7 2.1l-3.5 2.7zM1152.4 491.0l3.5-2.7l1.7 2.1l-3.5 2.7zM1155.3 488.8l3.5-2.7l1.7 2.1l-3.5 2.7zM1175.4 472.9l3.5-2.7l1.8 2.1l-3.5 2.7zM1096.2 537.8l3.5-2.7l1.7 2.0l-3.5 2.7zM1130.7 510.6l3.5-2.7l1.7 2.0l-3.5 2.7zM1156.5 490.3l3.5-2.7l1.7 2.1l-3.5 2.7zM1202.5 454.0l3.5-2.7l1.8 2.1l-3.5 2.7zM1097.4 539.2l3.5-2.7l1.7 1.9l-3.5 2.7zM1146.3 500.8l3.5-2.7l1.8 2.0l-3.5 2.7zM1175.0 478.2l3.5-2.7l1.8 2.1l-3.5 2.7zM1252.6 417.1l3.5-2.7l1.9 2.2l-3.5 2.7zM1101.5 538.4l3.5-2.7l1.7 1.9l-3.5 2.7zM1167.7 486.4l3.5-2.7l1.8 2.0l-3.5 2.7zM1176.3 479.6l3.5-2.7l1.8 2.0l-3.5 2.7zM1193.6 466.1l3.5-2.7l1.9 2.1l-3.5 2.7zM1137.3 512.7l3.5-2.7l1.8 2.0l-3.5 2.7zM1174.7 483.3l3.5-2.7l1.8 2.0l-3.5 2.7zM1192.0 469.8l3.5-2.7l1.8 2.1l-3.5 2.7zM1232.3 438.2l3.5-2.7l1.9 2.1l-3.5 2.7zM1235.2 436.0l3.5-2.7l1.9 2.1l-3.5 2.7zM1238.1 433.7l3.5-2.7l1.9 2.1l-3.5 2.7zM1243.8 429.2l3.5-2.7l1.9 2.1l-3.5 2.7zM1246.7 427.0l3.5-2.7l1.9 2.1l-3.5 2.7zM1104.0 541.1l3.5-2.7l1.7 1.9l-3.5 2.7zM1144.3 509.6l3.5-2.7l1.8 2.0l-3.5 2.7zM1153.0 502.8l3.5-2.7l1.8 2.0l-3.5 2.7zM1196.2 469.0l3.5-2.7l1.9 2.1l-3.5 2.7zM1216.4 453.3l3.5-2.7l1.9 2.1l-3.5 2.7zM1225.0 446.5l3.5-2.7l1.9 2.1l-3.5 2.7zM1227.9 444.3l3.5-2.7l1.9 2.1l-3.5 2.7zM1230.8 442.0l3.5-2.7l1.9 2.1l-3.5 2.7zM1245.2 430.7l3.5-2.7l1.9 2.1l-3.5 2.7zM1145.6 511.0l3.5-2.7l1.8 2.0l-3.5 2.7zM1157.1 502.0l3.5-2.7l1.8 2.0l-3.5 2.7zM1220.6 452.5l3.5-2.7l1.9 2.1l-3.5 2.7zM1223.5 450.3l3.5-2.7l1.9 2.1l-3.5 2.7zM1103.6 546.1l3.5-2.7l1.7 1.9l-3.5 2.7zM1146.9 512.4l3.5-2.7l1.8 2.0l-3.5 2.7zM1155.5 505.7l3.5-2.7l1.8 2.0l-3.5 2.7zM1164.2 498.9l3.5-2.7l1.8 2.0l-3.5 2.7zM1172.9 492.2l3.5-2.7l1.8 2.0l-3.5 2.7zM1196.0 474.2l3.5-2.7l1.8 2.1l-3.5 2.7zM1201.7 469.7l3.5-2.7l1.9 2.1l-3.5 2.7zM1216.2 458.5l3.5-2.7l1.9 2.1l-3.5 2.7zM1219.0 456.2l3.5-2.7l1.9 2.1l-3.5 2.7zM1221.9 454.0l3.5-2.7l1.9 2.1l-3.5 2.7zM1224.8 451.8l3.5-2.7l1.9 2.1l-3.5 2.7zM1227.7 449.5l3.5-2.7l1.9 2.1l-3.5 2.7zM1104.8 547.5l3.5-2.7l1.7 1.9l-3.5 2.7zM1211.7 464.5l3.5-2.7l1.9 2.1l-3.5 2.7zM1217.5 460.0l3.5-2.7l1.9 2.1l-3.5 2.7zM1220.4 457.7l3.5-2.7l1.9 2.1l-3.5 2.7zM1226.2 453.3l3.5-2.7l1.9 2.1l-3.5 2.7zM1237.7 444.3l3.5-2.7l1.9 2.1l-3.5 2.7zM1106.1 548.8l3.5-2.7l1.7 1.9l-3.5 2.7zM1137.9 524.2l3.5-2.7l1.8 2.0l-3.5 2.7zM1155.2 510.7l3.5-2.7l1.8 2.0l-3.5 2.7zM1166.8 501.8l3.5-2.7l1.8 2.0l-3.5 2.7zM1210.2 468.2l3.5-2.7l1.9 2.1l-3.5 2.7zM1213.0 466.0l3.5-2.7l1.9 2.1l-3.5 2.7zM1215.9 463.7l3.5-2.7l1.9 2.1l-3.5 2.7zM1239.1 445.8l3.5-2.7l1.9 2.1l-3.5 2.7zM1242.0 443.6l3.5-2.7l1.9 2.1l-3.5 2.7zM1244.8 441.3l3.5-2.7l1.9 2.1l-3.5 2.7zM1253.5 434.6l3.5-2.7l1.9 2.1l-3.5 2.7zM1133.4 530.1l3.5-2.7l1.8 2.0l-3.5 2.7zM1159.4 509.9l3.5-2.7l1.8 2.0l-3.5 2.7zM1162.3 507.7l3.5-2.7l1.8 2.0l-3.5 2.7zM1171.0 501.0l3.5-2.7l1.8 2.0l-3.5 2.7zM1214.4 467.4l3.5-2.7l1.9 2.1l-3.5 2.7zM1217.3 465.2l3.5-2.7l1.9 2.1l-3.5 2.7zM1223.1 460.7l3.5-2.7l1.9 2.1l-3.5 2.7zM1243.3 445.1l3.5-2.7l1.9 2.1l-3.5 2.7zM1201.2 480.1l3.5-2.7l1.8 2.1l-3.5 2.7zM1212.8 471.2l3.5-2.7l1.9 2.1l-3.5 2.7zM1215.7 468.9l3.5-2.7l1.9 2.1l-3.5 2.7zM1218.6 466.7l3.5-2.7l1.9 2.1l-3.5 2.7zM1221.5 464.5l3.5-2.7l1.9 2.1l-3.5 2.7zM1227.3 460.0l3.5-2.7l1.9 2.1l-3.5 2.7zM1230.2 457.8l3.5-2.7l1.9 2.1l-3.5 2.7zM1250.5 442.1l3.5-2.7l1.9 2.1l-3.5 2.7zM1150.4 521.7l3.5-2.7l1.8 2.0l-3.5 2.7zM1188.0 492.7l3.5-2.7l1.8 2.0l-3.5 2.7zM1214.1 472.6l3.5-2.7l1.9 2.1l-3.5 2.7zM1217.0 470.4l3.5-2.7l1.9 2.1l-3.5 2.7zM1219.9 468.2l3.5-2.7l1.9 2.1l-3.5 2.7zM1222.8 465.9l3.5-2.7l1.9 2.1l-3.5 2.7zM1225.7 463.7l3.5-2.7l1.9 2.1l-3.5 2.7zM1228.6 461.5l3.5-2.7l1.9 2.1l-3.5 2.7zM1231.5 459.3l3.5-2.7l1.9 2.1l-3.5 2.7zM1248.9 445.9l3.5-2.7l1.9 2.1l-3.5 2.7zM1251.8 443.6l3.5-2.7l1.9 2.1l-3.5 2.7zM1254.7 441.4l3.5-2.7l1.9 2.1l-3.5 2.7zM1263.4 434.7l3.5-2.7l1.9 2.2l-3.5 2.7zM1232.9 460.8l3.5-2.7l1.9 2.1l-3.5 2.7zM1256.1 442.9l3.5-2.7l1.9 2.1l-3.5 2.7zM1259.0 440.7l3.5-2.7l1.9 2.1l-3.5 2.7zM1245.8 453.4l3.5-2.7l1.9 2.1l-3.5 2.7zM1248.7 451.1l3.5-2.7l1.9 2.1l-3.5 2.7zM1254.5 446.7l3.5-2.7l1.9 2.1l-3.5 2.7zM1269.0 435.6l3.5-2.7l1.9 2.2l-3.5 2.7zM1247.2 454.9l3.5-2.7l1.9 2.1l-3.5 2.7zM1253.0 450.4l3.5-2.7l1.9 2.1l-3.5 2.7zM1255.9 448.2l3.5-2.7l1.9 2.1l-3.5 2.7zM1170.0 516.3l3.5-2.7l1.8 2.0l-3.5 2.7zM1248.5 456.4l3.5-2.7l1.9 2.1l-3.5 2.7zM1251.4 454.2l3.5-2.7l1.9 2.1l-3.5 2.7zM1254.3 451.9l3.5-2.7l1.9 2.1l-3.5 2.7zM1257.2 449.7l3.5-2.7l1.9 2.1l-3.5 2.7zM1266.0 443.1l3.5-2.7l1.9 2.1l-3.5 2.7zM1174.2 515.5l3.5-2.7l1.8 2.0l-3.5 2.7zM1177.1 513.3l3.5-2.7l1.8 2.0l-3.5 2.7zM1191.7 502.2l3.5-2.7l1.8 2.0l-3.5 2.7zM1264.4 446.8l3.5-2.7l1.9 2.1l-3.5 2.7zM1267.3 444.6l3.5-2.7l1.9 2.1l-3.5 2.7zM1270.2 442.4l3.5-2.7l1.9 2.1l-3.5 2.7zM1273.2 440.2l3.5-2.7l1.9 2.1l-3.5 2.7zM1172.6 519.1l3.5-2.7l1.8 2.0l-3.5 2.7zM1178.4 514.7l3.5-2.7l1.8 2.0l-3.5 2.7zM1138.9 547.0l3.5-2.7l1.8 1.9l-3.5 2.7zM1176.8 518.3l3.5-2.7l1.8 2.0l-3.5 2.7zM1179.7 516.1l3.5-2.7l1.8 2.0l-3.5 2.7zM1267.2 449.9l3.5-2.7l1.9 2.1l-3.5 2.7zM1270.1 447.6l3.5-2.7l2.0 2.1l-3.5 2.7zM1178.1 519.7l3.5-2.7l1.8 2.0l-3.5 2.7zM1184.0 515.3l3.5-2.7l1.9 2.0l-3.5 2.7zM1189.8 510.9l3.5-2.7l1.9 2.0l-3.5 2.7zM1271.5 449.2l3.5-2.7l2.0 2.1l-3.5 2.7zM1274.4 447.0l3.5-2.7l2.0 2.1l-3.5 2.7zM1173.6 525.5l3.5-2.7l1.8 2.0l-3.5 2.7zM1176.5 523.3l3.5-2.7l1.8 2.0l-3.5 2.7zM1182.4 518.9l3.5-2.7l1.8 2.0l-3.5 2.7zM1188.2 514.5l3.5-2.7l1.9 2.0l-3.5 2.7zM1194.0 510.1l3.5-2.7l1.9 2.0l-3.5 2.7zM1199.9 505.7l3.5-2.7l1.9 2.0l-3.5 2.7zM1270.0 452.9l3.5-2.7l1.9 2.1l-3.5 2.7zM1272.9 450.7l3.5-2.7l2.0 2.1l-3.5 2.7zM1275.8 448.5l3.5-2.7l2.0 2.1l-3.5 2.7zM1186.6 518.1l3.5-2.7l1.9 2.0l-3.5 2.7zM1201.2 507.1l3.5-2.7l1.9 2.0l-3.5 2.7zM1274.3 452.2l3.5-2.7l2.0 2.1l-3.5 2.7zM1277.2 450.0l3.5-2.7l2.0 2.1l-3.5 2.7zM1167.4 534.9l3.5-2.7l1.8 2.0l-3.5 2.7zM1176.2 528.3l3.5-2.7l1.8 2.0l-3.5 2.7zM1182.1 523.9l3.5-2.7l1.8 2.0l-3.5 2.7zM1199.6 510.8l3.5-2.7l1.9 2.0l-3.5 2.7zM1272.7 455.9l3.5-2.7l1.9 2.1l-3.5 2.7zM1278.6 451.5l3.5-2.7l2.0 2.1l-3.5 2.7zM1168.7 536.3l3.5-2.7l1.8 2.0l-3.5 2.6zM1174.6 531.9l3.5-2.7l1.8 2.0l-3.5 2.6zM1186.3 523.2l3.5-2.7l1.8 2.0l-3.5 2.6zM1198.0 514.4l3.5-2.7l1.9 2.0l-3.5 2.6zM1200.9 512.2l3.5-2.7l1.9 2.0l-3.5 2.6zM1282.9 450.8l3.5-2.7l2.0 2.1l-3.5 2.6zM1178.8 531.1l3.5-2.6l1.8 2.0l-3.5 2.6zM1193.5 520.2l3.5-2.6l1.9 2.0l-3.5 2.6zM1196.4 518.0l3.5-2.6l1.9 2.0l-3.5 2.6zM1199.3 515.8l3.5-2.6l1.9 2.0l-3.5 2.6zM1202.3 513.6l3.5-2.6l1.9 2.0l-3.5 2.6zM1281.4 454.5l3.5-2.6l2.0 2.1l-3.5 2.6zM1191.9 523.8l3.5-2.6l1.9 2.0l-3.6 2.6zM1197.7 519.4l3.5-2.6l1.9 2.0l-3.6 2.6zM1200.7 517.2l3.5-2.6l1.9 2.0l-3.6 2.6zM1203.6 515.0l3.5-2.6l1.9 2.0l-3.6 2.6zM1209.5 510.7l3.5-2.6l1.9 2.0l-3.6 2.6zM1172.6 540.5l3.6-2.6l1.8 2.0l-3.6 2.6zM1178.5 536.1l3.6-2.6l1.8 2.0l-3.6 2.6zM1187.3 529.6l3.6-2.6l1.8 2.0l-3.6 2.6zM1190.3 527.4l3.6-2.6l1.8 2.0l-3.6 2.6zM1196.1 523.0l3.6-2.6l1.9 2.0l-3.6 2.6zM1199.1 520.8l3.6-2.6l1.9 2.0l-3.6 2.6zM1202.0 518.7l3.6-2.6l1.9 2.0l-3.6 2.6zM1204.9 516.5l3.6-2.6l1.9 2.0l-3.6 2.6zM1210.8 512.1l3.6-2.6l1.9 2.0l-3.6 2.6zM1213.7 509.9l3.6-2.6l1.9 2.0l-3.6 2.6zM1275.3 464.1l3.6-2.6l1.9 2.1l-3.6 2.6zM1281.2 459.7l3.6-2.6l1.9 2.1l-3.6 2.6zM1284.1 457.5l3.6-2.6l2.0 2.1l-3.6 2.6zM1191.6 528.8l3.6-2.6l1.8 2.0l-3.6 2.6zM1200.4 522.3l3.6-2.6l1.9 2.0l-3.6 2.6zM1203.3 520.1l3.6-2.6l1.9 2.0l-3.6 2.6zM1209.2 515.7l3.6-2.6l1.9 2.0l-3.6 2.6zM1212.1 513.5l3.6-2.6l1.9 2.0l-3.6 2.6zM1215.1 511.4l3.6-2.6l1.9 2.0l-3.6 2.6zM1218.0 509.2l3.6-2.6l1.9 2.0l-3.6 2.6zM1220.9 507.0l3.6-2.6l1.9 2.0l-3.6 2.6zM1223.9 504.8l3.6-2.6l1.9 2.0l-3.6 2.6zM1229.7 500.5l3.6-2.6l1.9 2.0l-3.6 2.6zM1267.9 472.1l3.6-2.6l1.9 2.1l-3.6 2.6zM1279.7 463.4l3.6-2.6l1.9 2.1l-3.6 2.6zM1285.5 459.0l3.6-2.6l2.0 2.1l-3.6 2.6zM1288.5 456.9l3.6-2.6l2.0 2.1l-3.6 2.6zM1157.6 556.3l3.6-2.6l1.8 1.9l-3.6 2.6zM1160.6 554.1l3.6-2.6l1.8 1.9l-3.6 2.6zM1169.4 547.6l3.6-2.6l1.8 1.9l-3.6 2.6zM1184.1 536.7l3.6-2.6l1.8 2.0l-3.6 2.6zM1192.9 530.2l3.6-2.6l1.8 2.0l-3.6 2.6zM1204.6 521.5l3.6-2.6l1.9 2.0l-3.6 2.6zM1207.6 519.3l3.6-2.6l1.9 2.0l-3.6 2.6zM1210.5 517.1l3.6-2.6l1.9 2.0l-3.6 2.6zM1213.5 515.0l3.6-2.6l1.9 2.0l-3.6 2.6zM1216.4 512.8l3.6-2.6l1.9 2.0l-3.6 2.6zM1222.3 508.4l3.6-2.6l1.9 2.0l-3.6 2.6zM1225.2 506.3l3.6-2.6l1.9 2.0l-3.6 2.6zM1286.9 460.6l3.6-2.6l2.0 2.1l-3.6 2.6zM1289.9 458.4l3.6-2.6l2.0 2.1l-3.6 2.6zM1161.8 555.5l3.6-2.6l1.3 1.4l-3.6 2.6zM1170.7 549.0l3.6-2.6l1.3 1.4l-3.6 2.6zM1185.4 538.1l3.6-2.6l1.3 1.4l-3.6 2.6zM1188.3 536.0l3.6-2.6l1.3 1.4l-3.6 2.6zM1191.3 533.8l3.6-2.6l1.3 1.4l-3.6 2.6zM1194.2 531.6l3.6-2.6l1.3 1.4l-3.6 2.6zM1197.1 529.4l3.6-2.6l1.3 1.4l-3.6 2.6zM1200.1 527.3l3.6-2.6l1.3 1.5l-3.6 2.6zM1203.0 525.1l3.6-2.6l1.3 1.5l-3.6 2.6zM1206.0 522.9l3.6-2.6l1.4 1.5l-3.6 2.6zM1208.9 520.7l3.6-2.6l1.4 1.5l-3.6 2.6zM1211.8 518.6l3.6-2.6l1.4 1.5l-3.6 2.6zM1214.8 516.4l3.6-2.6l1.4 1.5l-3.6 2.6zM1217.7 514.2l3.6-2.6l1.4 1.5l-3.6 2.6zM1220.7 512.1l3.6-2.6l1.4 1.5l-3.6 2.6zM1223.6 509.9l3.6-2.6l1.4 1.5l-3.6 2.6zM1232.4 503.4l3.6-2.6l1.4 1.5l-3.6 2.6zM1288.3 462.1l3.6-2.6l1.4 1.6l-3.6 2.6z"/>
<path fill="#00e5f7" d="M1048.4 422.4l3.3-3.0l0.6 2.5l-3.3 3.0zM1054.6 421.1l3.3-3.0l0.6 2.5l-3.3 3.0zM1051.2 435.1l3.3-3.0l0.6 2.5l-3.3 3.0zM1057.9 435.6l3.3-3.0l0.6 2.5l-3.3 3.0zM1054.7 449.4l3.3-2.9l0.6 2.5l-3.3 2.9zM1063.4 470.4l3.3-2.9l0.6 2.5l-3.4 2.9zM1152.0 393.9l3.3-2.9l0.8 2.7l-3.4 2.9zM1061.5 476.4l3.4-2.9l0.5 2.5l-3.4 2.9zM1168.7 393.5l3.4-2.9l0.6 2.7l-3.4 2.9zM1120.1 443.7l3.4-2.9l0.5 2.6l-3.4 2.9zM1179.3 396.1l3.4-2.9l0.6 2.7l-3.4 2.8zM1132.1 438.0l3.4-2.8l0.8 2.5l-3.4 2.8zM1137.7 433.3l3.4-2.8l0.8 2.5l-3.4 2.8zM1146.1 426.3l3.4-2.8l0.8 2.5l-3.4 2.8zM1147.7 429.7l3.4-2.8l1.8 2.1l-3.4 2.8zM1070.1 501.9l3.4-2.8l1.7 1.9l-3.4 2.8zM1147.4 440.2l3.4-2.8l1.8 2.0l-3.4 2.8zM1069.8 507.0l3.4-2.8l1.7 1.9l-3.4 2.8zM1080.0 512.9l3.4-2.8l1.7 2.0l-3.4 2.8zM1148.0 457.3l3.4-2.8l1.8 2.1l-3.4 2.8zM1129.1 480.2l3.4-2.8l1.7 2.1l-3.4 2.8zM1200.1 422.6l3.4-2.8l1.8 2.2l-3.4 2.8zM1185.6 439.5l3.4-2.8l1.8 2.1l-3.4 2.8zM1191.3 434.9l3.4-2.8l1.8 2.2l-3.4 2.8zM1186.9 441.0l3.4-2.8l1.8 2.1l-3.4 2.8zM1215.3 418.1l3.4-2.8l1.8 2.2l-3.4 2.8zM1223.9 411.2l3.4-2.8l1.8 2.2l-3.4 2.8zM1142.2 484.5l3.5-2.8l1.7 2.1l-3.5 2.8zM1219.2 422.7l3.5-2.8l1.8 2.2l-3.5 2.8zM1209.1 433.4l3.5-2.8l1.8 2.2l-3.5 2.8zM1093.2 528.5l3.5-2.8l1.7 2.0l-3.5 2.8zM1161.8 473.7l3.5-2.8l1.7 2.1l-3.5 2.8zM1216.1 430.4l3.5-2.8l1.8 2.2l-3.5 2.8zM1219.0 428.1l3.5-2.8l1.8 2.2l-3.5 2.8zM1211.7 436.5l3.5-2.8l1.8 2.2l-3.5 2.7zM1215.8 435.8l3.5-2.8l1.8 2.2l-3.5 2.7zM1218.7 433.5l3.5-2.8l1.8 2.2l-3.5 2.7zM1211.1 447.2l3.5-2.7l1.8 2.2l-3.5 2.7zM1242.7 422.3l3.5-2.7l1.8 2.2l-3.5 2.7zM1212.4 448.8l3.5-2.7l1.9 2.1l-3.5 2.7zM1223.9 439.7l3.5-2.7l1.9 2.1l-3.5 2.7zM1229.6 435.2l3.5-2.7l1.9 2.1l-3.5 2.7zM1244.0 423.9l3.5-2.7l1.9 2.2l-3.5 2.7zM1209.1 461.5l3.5-2.7l1.9 2.1l-3.5 2.7zM1197.3 475.7l3.5-2.7l1.8 2.1l-3.5 2.7zM1208.8 466.7l3.5-2.7l1.9 2.1l-3.5 2.7zM1207.3 470.4l3.5-2.7l1.9 2.1l-3.5 2.7zM1185.4 489.8l3.5-2.7l1.8 2.0l-3.5 2.7zM1207.0 475.6l3.5-2.7l1.9 2.1l-3.5 2.7z"/>
<path fill="#ff8000" d="M1056.5 415.0l3.3-3.0l0.6 2.5l-3.3 3.0zM1059.2 412.5l3.3-3.0l0.6 2.5l-3.3 3.0zM1077.1 405.0l3.3-3.0l0.6 2.6l-3.3 3.0zM1114.9 370.6l3.3-3.0l0.7 2.6l-3.3 3.0zM1154.3 353.9l3.3-2.9l0.8 2.7l-3.3 2.9zM1075.7 439.7l3.3-2.9l0.7 2.5l-3.3 2.9zM1084.6 447.6l3.3-2.9l0.7 2.6l-3.3 2.9zM1081.7 487.4l3.4-2.8l1.8 1.9l-3.4 2.8zM1090.4 497.1l3.4-2.8l1.8 1.9l-3.4 2.8zM1099.5 501.8l3.4-2.8l1.7 2.0l-3.4 2.8zM1103.1 506.1l3.4-2.8l1.7 2.0l-3.4 2.8zM1187.8 470.6l3.5-2.7l1.8 2.1l-3.5 2.7zM1191.5 480.2l3.5-2.7l1.8 2.1l-3.5 2.7zM1194.1 483.1l3.5-2.7l1.8 2.1l-3.5 2.7zM1145.8 527.6l3.5-2.7l1.8 2.0l-3.5 2.7zM1195.2 489.7l3.5-2.7l1.8 2.0l-3.5 2.7zM1181.9 502.3l3.5-2.7l1.8 2.0l-3.5 2.7zM1186.2 501.5l3.5-2.7l1.8 2.0l-3.5 2.7z"/>
<path fill="#ffc600" d="M1078.0 395.2l3.3-3.0l0.6 2.6l-3.3 3.0zM1113.1 363.1l3.3-3.0l0.7 2.6l-3.3 3.0zM1121.6 357.6l3.3-3.0l0.7 2.6l-3.3 3.0zM1129.7 350.1l3.3-3.0l0.7 2.7l-3.3 3.0zM1062.7 413.7l3.3-3.0l0.6 2.6l-3.3 3.0zM1111.3 369.3l3.3-3.0l0.7 2.6l-3.3 3.0zM1116.7 364.4l3.3-3.0l0.7 2.6l-3.3 3.0zM1130.2 352.0l3.3-3.0l0.7 2.7l-3.3 3.0zM1101.0 381.0l3.3-3.0l0.6 2.6l-3.3 3.0zM1074.4 407.5l3.3-3.0l0.6 2.6l-3.3 3.0zM1079.8 402.6l3.3-3.0l0.6 2.6l-3.3 3.0zM1096.0 387.8l3.3-3.0l0.6 2.6l-3.3 3.0zM1106.8 378.0l3.3-3.0l0.6 2.6l-3.3 3.0zM1112.2 373.1l3.3-3.0l0.7 2.6l-3.3 3.0zM1099.2 387.2l3.3-3.0l0.6 2.6l-3.3 3.0zM1112.7 374.9l3.3-3.0l0.7 2.6l-3.3 3.0zM1145.2 345.4l3.3-3.0l0.7 2.7l-3.3 3.0zM1086.1 401.3l3.3-3.0l0.6 2.6l-3.3 3.0zM1070.2 417.9l3.3-3.0l0.6 2.6l-3.3 3.0zM1086.5 403.2l3.3-3.0l0.6 2.6l-3.3 3.0zM1108.2 383.6l3.3-3.0l0.6 2.6l-3.3 3.0zM1121.8 371.3l3.3-3.0l0.7 2.6l-3.3 3.0zM1116.8 378.1l3.3-3.0l0.7 2.6l-3.3 3.0zM1141.3 356.1l3.3-3.0l0.7 2.7l-3.3 3.0zM1073.8 419.1l3.3-3.0l0.7 2.6l-3.3 3.0zM1077.0 418.5l3.3-3.0l0.7 2.6l-3.3 3.0zM1123.2 376.9l3.3-3.0l0.7 2.6l-3.3 3.0zM1131.4 369.6l3.3-3.0l0.7 2.6l-3.3 3.0zM1134.1 367.2l3.3-3.0l0.7 2.6l-3.3 3.0zM1069.3 427.6l3.3-3.0l0.7 2.5l-3.3 2.9zM1077.5 420.3l3.3-3.0l0.7 2.6l-3.3 2.9zM1088.4 410.5l3.3-3.0l0.7 2.6l-3.3 2.9zM1110.1 391.0l3.3-3.0l0.7 2.6l-3.3 2.9zM1072.5 427.0l3.3-2.9l0.7 2.5l-3.3 2.9zM1077.9 422.1l3.3-2.9l0.7 2.6l-3.3 2.9zM1113.4 390.4l3.3-2.9l0.7 2.6l-3.3 2.9zM1094.8 409.3l3.3-2.9l0.7 2.6l-3.3 2.9zM1124.8 382.6l3.3-2.9l0.7 2.6l-3.3 2.9zM1078.9 425.8l3.3-2.9l0.7 2.6l-3.3 2.9zM1100.7 406.3l3.3-2.9l0.7 2.6l-3.3 2.9zM1103.5 403.9l3.3-2.9l0.7 2.6l-3.3 2.9zM1101.2 408.2l3.3-2.9l0.7 2.6l-3.3 2.9zM1120.4 391.2l3.3-2.9l0.7 2.6l-3.3 2.9zM1060.6 446.4l3.3-2.9l0.6 2.5l-3.3 2.9zM1074.3 434.3l3.3-2.9l0.7 2.5l-3.3 2.9zM1077.5 433.7l3.3-2.9l0.7 2.6l-3.3 2.9zM1072.5 440.3l3.3-2.9l0.7 2.5l-3.3 2.9zM1075.3 437.9l3.3-2.9l0.7 2.5l-3.3 2.9zM1078.0 435.5l3.3-2.9l0.7 2.6l-3.3 2.9zM1168.5 355.6l3.3-2.9l0.8 2.7l-3.3 2.9zM1084.0 432.5l3.3-2.9l0.7 2.6l-3.3 2.9zM1071.2 448.2l3.3-2.9l0.7 2.5l-3.3 2.9zM1076.7 443.3l3.3-2.9l0.7 2.5l-3.3 2.9zM1082.2 438.5l3.3-2.9l0.7 2.6l-3.3 2.9zM1153.7 375.8l3.3-2.9l0.8 2.7l-3.3 2.9zM1069.8 456.0l3.3-2.9l0.7 2.5l-3.3 2.9zM1072.6 453.6l3.3-2.9l0.7 2.5l-3.3 2.9zM1080.8 446.4l3.3-2.9l0.7 2.5l-3.3 2.9zM1073.0 455.4l3.3-2.9l0.7 2.5l-3.3 2.9zM1086.8 443.4l3.3-2.9l0.7 2.6l-3.3 2.9zM1081.8 450.0l3.3-2.9l0.7 2.5l-3.3 2.9zM1090.1 442.8l3.3-2.9l0.7 2.6l-3.3 2.9zM1090.6 444.7l3.3-2.9l0.7 2.6l-3.4 2.9zM1080.0 456.0l3.3-2.9l0.7 2.5l-3.4 2.9zM1099.4 439.3l3.3-2.9l0.7 2.6l-3.4 2.9zM1124.3 417.8l3.3-2.9l0.7 2.6l-3.4 2.9zM1080.4 457.9l3.4-2.9l0.7 2.5l-3.4 2.9zM1086.0 453.1l3.4-2.9l0.7 2.6l-3.4 2.9zM1177.4 374.3l3.4-2.9l0.8 2.7l-3.4 2.9zM1092.0 450.1l3.4-2.9l0.6 2.6l-3.4 2.9zM1081.7 463.3l3.4-2.9l0.5 2.6l-3.4 2.9zM1084.5 461.0l3.4-2.9l0.5 2.6l-3.4 2.9zM1079.3 467.6l3.4-2.9l0.5 2.6l-3.4 2.9zM1084.8 462.8l3.4-2.9l0.5 2.6l-3.4 2.9zM1093.5 457.5l3.4-2.9l0.5 2.6l-3.4 2.9zM1174.7 390.7l3.4-2.9l0.6 2.7l-3.4 2.9zM1083.8 474.4l3.4-2.9l0.5 2.6l-3.4 2.9zM1076.1 485.1l3.4-2.8l0.8 2.4l-3.4 2.8zM1084.9 479.9l3.4-2.8l1.7 2.0l-3.4 2.8zM1087.3 482.7l3.4-2.8l1.8 2.0l-3.4 2.8zM1086.7 493.0l3.4-2.8l1.8 1.9l-3.4 2.8zM1089.5 490.6l3.4-2.8l1.8 2.0l-3.4 2.8zM1098.0 483.7l3.4-2.8l1.8 2.0l-3.4 2.8zM1076.7 503.7l3.4-2.8l1.7 1.9l-3.4 2.8zM1172.5 424.5l3.4-2.8l1.9 2.1l-3.4 2.8zM1178.2 419.8l3.4-2.8l1.9 2.1l-3.4 2.8zM1202.1 402.7l3.4-2.8l1.9 2.1l-3.4 2.8zM1103.0 489.3l3.4-2.8l1.8 2.0l-3.4 2.8zM1193.5 415.0l3.4-2.8l1.9 2.1l-3.4 2.8zM1088.5 505.9l3.4-2.8l1.7 2.0l-3.4 2.8zM1088.9 517.6l3.4-2.8l1.7 2.0l-3.4 2.8zM1108.8 501.6l3.4-2.8l1.7 2.0l-3.4 2.8zM1178.2 470.6l3.5-2.7l1.8 2.1l-3.5 2.7zM1181.1 468.4l3.5-2.7l1.8 2.1l-3.5 2.7zM1183.6 471.4l3.5-2.7l1.8 2.1l-3.5 2.7zM1098.6 540.6l3.5-2.7l1.7 1.9l-3.5 2.7zM1177.3 486.2l3.5-2.7l1.8 2.0l-3.5 2.7zM1175.7 489.9l3.5-2.7l1.8 2.0l-3.5 2.7zM1187.3 481.0l3.5-2.7l1.8 2.0l-3.5 2.7zM1177.0 491.4l3.5-2.7l1.8 2.0l-3.5 2.7zM1179.9 489.1l3.5-2.7l1.8 2.0l-3.5 2.7zM1185.7 484.7l3.5-2.7l1.8 2.0l-3.5 2.7zM1188.6 482.4l3.5-2.7l1.8 2.0l-3.5 2.7zM1192.8 481.6l3.5-2.7l1.8 2.1l-3.5 2.7zM1152.0 518.1l3.5-2.7l1.8 2.0l-3.5 2.7zM1148.7 525.3l3.5-2.7l1.8 2.0l-3.5 2.7zM1144.2 531.2l3.5-2.7l1.8 2.0l-3.5 2.7zM1150.0 526.8l3.5-2.7l1.8 2.0l-3.5 2.7zM1193.6 493.4l3.5-2.7l1.8 2.0l-3.5 2.7zM1200.7 490.4l3.5-2.7l1.8 2.1l-3.5 2.7zM1132.2 545.1l3.5-2.7l1.8 1.9l-3.5 2.7zM1140.9 538.4l3.5-2.7l1.8 2.0l-3.5 2.7zM1143.8 536.2l3.5-2.7l1.8 2.0l-3.5 2.7zM1148.0 535.4l3.5-2.7l1.8 2.0l-3.5 2.7zM1131.8 550.1l3.5-2.7l1.8 1.9l-3.5 2.7zM1130.2 553.6l3.5-2.7l1.8 1.9l-3.5 2.7zM1137.3 550.6l3.5-2.7l1.8 1.9l-3.5 2.7zM1129.8 558.6l3.5-2.7l1.8 1.9l-3.5 2.7zM1138.6 552.0l3.5-2.7l1.8 1.9l-3.5 2.7zM1144.4 547.5l3.5-2.7l1.8 1.9l-3.5 2.7zM1131.1 559.9l3.5-2.7l1.8 1.9l-3.5 2.7zM1132.3 561.3l3.5-2.7l1.8 1.9l-3.5 2.7zM1138.2 556.9l3.5-2.7l1.8 1.9l-3.5 2.7zM1139.5 558.2l3.5-2.7l1.8 1.9l-3.5 2.6zM1137.8 561.8l3.5-2.6l1.8 1.9l-3.5 2.6zM1164.2 542.1l3.5-2.6l1.8 1.9l-3.5 2.6zM1133.2 567.5l3.5-2.6l1.8 1.9l-3.6 2.6zM1162.5 545.6l3.5-2.6l1.8 1.9l-3.6 2.6zM1185.7 533.2l3.6-2.6l1.8 2.0l-3.6 2.6z"/>
<path fill="#ff6800" d="M1094.2 380.4l3.3-3.0l0.6 2.6l-3.3 3.0zM1103.7 378.6l3.3-3.0l0.6 2.6l-3.3 3.0zM1137.4 366.6l3.3-3.0l0.7 2.6l-3.3 2.9zM1075.7 426.4l3.3-2.9l0.7 2.6l-3.3 2.9zM1067.0 445.2l3.3-2.9l0.6 2.5l-3.3 2.9zM1076.7 456.6l3.3-2.9l0.7 2.5l-3.4 2.9zM1177.0 386.4l3.4-2.9l0.6 2.7l-3.4 2.9zM1076.1 492.1l3.4-2.8l1.8 1.9l-3.4 2.8zM1190.2 478.7l3.5-2.7l1.8 2.1l-3.5 2.7zM1197.8 492.6l3.5-2.7l1.8 2.0l-3.5 2.7zM1145.3 553.8l3.5-2.7l1.8 1.9l-3.5 2.6z"/>
<path fill="#67ff90" d="M1051.5 421.8l3.3-3.0l0.6 2.5l-3.3 3.0zM1102.7 374.8l3.3-3.0l0.6 2.6l-3.3 3.0zM1052.7 427.2l3.3-3.0l0.6 2.5l-3.3 3.0zM1104.1 380.4l3.3-3.0l0.6 2.6l-3.3 3.0zM1134.9 357.2l3.3-3.0l0.7 2.7l-3.3 3.0zM1054.3 434.4l3.3-3.0l0.6 2.5l-3.3 3.0zM1057.1 432.0l3.3-3.0l0.6 2.5l-3.3 3.0zM1060.2 431.3l3.3-3.0l0.6 2.5l-3.3 3.0zM1109.6 389.2l3.3-3.0l0.7 2.6l-3.3 3.0zM1061.1 434.9l3.3-3.0l0.6 2.5l-3.3 2.9zM1118.8 385.6l3.3-2.9l0.7 2.6l-3.3 2.9zM1130.8 379.6l3.3-2.9l0.7 2.6l-3.3 2.9zM1055.6 453.0l3.3-2.9l0.6 2.5l-3.3 2.9zM1064.7 449.4l3.3-2.9l0.6 2.5l-3.3 2.9zM1079.9 442.7l3.3-2.9l0.7 2.5l-3.3 2.9zM1082.6 440.3l3.3-2.9l0.7 2.6l-3.3 2.9zM1176.8 360.4l3.3-2.9l0.8 2.7l-3.3 2.9zM1155.3 381.5l3.3-2.9l0.8 2.7l-3.3 2.9zM1169.7 371.4l3.3-2.9l0.8 2.7l-3.3 2.9zM1148.1 392.5l3.3-2.9l0.8 2.6l-3.3 2.9zM1173.0 371.0l3.3-2.9l0.8 2.7l-3.3 2.9zM1181.3 363.8l3.3-2.9l0.8 2.7l-3.3 2.9zM1162.5 382.4l3.3-2.9l0.8 2.7l-3.4 2.9zM1170.8 375.3l3.3-2.9l0.8 2.7l-3.4 2.9zM1181.8 365.7l3.3-2.9l0.8 2.7l-3.4 2.9zM1184.6 363.3l3.3-2.9l0.8 2.7l-3.4 2.9zM1066.1 468.0l3.3-2.9l0.6 2.5l-3.4 2.9zM1110.4 429.8l3.3-2.9l0.7 2.6l-3.4 2.9zM1132.6 410.6l3.3-2.9l0.7 2.6l-3.4 2.9zM1135.3 408.2l3.3-2.9l0.7 2.6l-3.4 2.9zM1138.1 405.9l3.3-2.9l0.7 2.6l-3.4 2.9zM1140.9 403.5l3.3-2.9l0.7 2.6l-3.4 2.9zM1149.2 396.3l3.3-2.9l0.8 2.6l-3.4 2.9zM1154.7 391.5l3.3-2.9l0.8 2.7l-3.4 2.9zM1157.5 389.1l3.3-2.9l0.8 2.7l-3.4 2.9zM1160.3 386.7l3.3-2.9l0.8 2.7l-3.4 2.9zM1174.1 374.8l3.3-2.9l0.8 2.7l-3.4 2.9zM1124.8 419.7l3.4-2.9l0.7 2.6l-3.4 2.9zM1152.5 395.8l3.4-2.9l0.8 2.7l-3.4 2.9zM1155.3 393.4l3.4-2.9l0.8 2.7l-3.4 2.9zM1067.1 471.6l3.4-2.9l0.5 2.6l-3.4 2.9zM1136.4 412.0l3.4-2.9l0.6 2.7l-3.4 2.9zM1141.9 407.2l3.4-2.9l0.6 2.7l-3.4 2.9zM1158.6 392.9l3.4-2.9l0.6 2.7l-3.4 2.9zM1164.1 388.2l3.4-2.9l0.7 2.7l-3.4 2.9zM1166.9 385.8l3.4-2.9l0.7 2.7l-3.4 2.9zM1117.4 430.5l3.4-2.9l0.5 2.6l-3.4 2.9zM1147.9 404.4l3.4-2.9l0.6 2.7l-3.4 2.9zM1150.7 402.0l3.4-2.9l0.6 2.7l-3.4 2.9zM1153.5 399.6l3.4-2.9l0.6 2.7l-3.4 2.9zM1159.1 394.8l3.4-2.9l0.6 2.7l-3.4 2.9zM1161.8 392.5l3.4-2.9l0.6 2.7l-3.4 2.9zM1164.6 390.1l3.4-2.9l0.6 2.7l-3.4 2.9zM1167.4 387.7l3.4-2.9l0.6 2.7l-3.4 2.9zM1067.8 475.2l3.4-2.9l0.5 2.6l-3.4 2.9zM1123.4 427.7l3.4-2.9l0.6 2.6l-3.4 2.9zM1128.9 422.9l3.4-2.9l0.6 2.7l-3.4 2.9zM1148.4 406.3l3.4-2.9l0.6 2.7l-3.4 2.9zM1153.9 401.5l3.4-2.9l0.6 2.7l-3.4 2.9zM1170.6 387.3l3.4-2.9l0.6 2.7l-3.4 2.9zM1184.5 375.4l3.4-2.9l0.6 2.7l-3.4 2.9zM1126.5 427.2l3.4-2.9l0.6 2.6l-3.4 2.9zM1148.8 408.2l3.4-2.9l0.6 2.7l-3.4 2.9zM1154.3 403.4l3.4-2.9l0.6 2.7l-3.4 2.9zM1159.9 398.7l3.4-2.9l0.6 2.7l-3.4 2.9zM1168.3 391.6l3.4-2.9l0.6 2.7l-3.4 2.9zM1184.9 377.3l3.4-2.9l0.6 2.7l-3.4 2.9zM1190.5 372.6l3.4-2.9l0.6 2.7l-3.4 2.9zM1193.3 370.2l3.4-2.9l0.6 2.7l-3.4 2.9zM1129.7 426.7l3.4-2.9l0.6 2.7l-3.4 2.9zM1152.0 407.7l3.4-2.9l0.6 2.7l-3.4 2.9zM1154.8 405.4l3.4-2.9l0.6 2.7l-3.4 2.9zM1179.8 384.0l3.4-2.9l0.6 2.7l-3.4 2.9zM1191.0 374.5l3.4-2.9l0.6 2.7l-3.4 2.9zM1124.5 433.3l3.4-2.9l0.6 2.6l-3.4 2.9zM1160.8 402.5l3.4-2.9l0.6 2.7l-3.4 2.9zM1163.5 400.2l3.4-2.9l0.6 2.7l-3.4 2.9zM1183.1 383.6l3.4-2.9l0.6 2.7l-3.4 2.9zM1191.4 376.5l3.4-2.9l0.6 2.7l-3.4 2.9zM1127.7 432.8l3.4-2.9l0.6 2.6l-3.4 2.9zM1161.2 404.5l3.4-2.9l0.6 2.7l-3.4 2.9zM1164.0 402.1l3.4-2.9l0.6 2.7l-3.4 2.9zM1180.7 387.9l3.4-2.9l0.6 2.7l-3.4 2.9zM1125.3 437.1l3.4-2.9l0.6 2.6l-3.4 2.9zM1139.3 425.3l3.4-2.9l0.6 2.7l-3.4 2.9zM1144.9 420.6l3.4-2.9l0.6 2.7l-3.4 2.9zM1153.2 413.5l3.4-2.9l0.6 2.7l-3.4 2.9zM1178.4 392.2l3.4-2.9l0.6 2.7l-3.4 2.9zM1122.9 441.3l3.4-2.9l0.6 2.6l-3.4 2.9zM1167.6 403.6l3.4-2.9l0.6 2.7l-3.4 2.9zM1170.4 401.2l3.4-2.9l0.6 2.7l-3.4 2.9zM1187.2 387.1l3.4-2.9l0.6 2.7l-3.4 2.9zM1192.8 382.4l3.4-2.9l0.6 2.7l-3.4 2.9zM1195.6 380.0l3.4-2.9l0.6 2.8l-3.4 2.9zM1198.4 377.6l3.4-2.9l0.6 2.8l-3.4 2.9zM1145.7 424.4l3.4-2.9l0.6 2.7l-3.4 2.8zM1162.5 410.2l3.4-2.9l0.6 2.7l-3.4 2.8zM1184.8 391.4l3.4-2.9l0.6 2.7l-3.4 2.8zM1187.6 389.0l3.4-2.9l0.6 2.7l-3.4 2.8zM1190.4 386.7l3.4-2.9l0.6 2.7l-3.4 2.8zM1193.2 384.3l3.4-2.9l0.6 2.7l-3.4 2.8zM1196.0 382.0l3.4-2.9l0.6 2.8l-3.4 2.8zM1201.6 377.2l3.4-2.9l0.7 2.8l-3.4 2.8zM1112.5 454.5l3.4-2.8l0.8 2.5l-3.4 2.8zM1140.5 431.0l3.4-2.8l0.8 2.5l-3.4 2.8zM1148.9 423.9l3.4-2.8l0.8 2.5l-3.4 2.8zM1157.3 416.9l3.4-2.8l0.9 2.6l-3.4 2.8zM1165.7 409.8l3.4-2.8l0.9 2.6l-3.4 2.8zM1182.5 395.7l3.4-2.8l0.9 2.6l-3.4 2.8zM1202.1 379.2l3.4-2.8l0.9 2.6l-3.4 2.8zM1126.9 444.6l3.4-2.8l1.7 2.1l-3.4 2.8zM1138.1 435.2l3.4-2.8l1.7 2.1l-3.4 2.8zM1143.7 430.5l3.4-2.8l1.7 2.1l-3.4 2.8zM1154.9 421.1l3.4-2.8l1.8 2.1l-3.4 2.8zM1163.3 414.1l3.4-2.8l1.8 2.1l-3.4 2.8zM1168.9 409.4l3.4-2.8l1.8 2.1l-3.4 2.8zM1202.5 381.2l3.4-2.8l1.8 2.2l-3.4 2.8zM1125.3 448.5l3.4-2.8l1.8 2.0l-3.4 2.8zM1136.5 439.1l3.4-2.8l1.8 2.0l-3.4 2.8zM1142.1 434.4l3.4-2.8l1.8 2.0l-3.4 2.8zM1150.5 427.3l3.4-2.8l1.8 2.1l-3.4 2.8zM1153.3 425.0l3.4-2.8l1.9 2.1l-3.4 2.8zM1156.1 422.7l3.4-2.8l1.9 2.1l-3.4 2.8zM1184.2 399.2l3.4-2.8l1.9 2.1l-3.4 2.8zM1187.0 396.8l3.4-2.8l1.9 2.1l-3.4 2.8zM1067.6 499.1l3.4-2.8l1.7 1.9l-3.4 2.8zM1160.3 421.8l3.4-2.8l1.9 2.1l-3.4 2.8zM1182.7 403.0l3.4-2.8l1.9 2.1l-3.4 2.8zM1185.5 400.7l3.4-2.8l1.9 2.1l-3.4 2.8zM1205.2 384.3l3.4-2.8l1.9 2.1l-3.4 2.8zM1068.9 500.5l3.4-2.8l1.7 1.9l-3.4 2.8zM1122.3 456.0l3.4-2.8l1.8 2.0l-3.4 2.8zM1125.1 453.7l3.4-2.8l1.8 2.0l-3.4 2.8zM1133.5 446.7l3.4-2.8l1.8 2.0l-3.4 2.8zM1141.9 439.6l3.4-2.8l1.8 2.0l-3.4 2.8zM1147.5 435.0l3.4-2.8l1.8 2.0l-3.4 2.8zM1150.4 432.6l3.4-2.8l1.8 2.1l-3.4 2.8zM1123.6 457.5l3.4-2.8l1.8 2.0l-3.4 2.8zM1137.6 445.8l3.4-2.8l1.8 2.0l-3.4 2.8zM1182.6 408.4l3.4-2.8l1.9 2.1l-3.4 2.8zM1193.8 399.0l3.4-2.8l1.9 2.1l-3.4 2.8zM1122.0 461.2l3.4-2.8l1.8 2.0l-3.4 2.8zM1141.7 444.9l3.4-2.8l1.8 2.0l-3.4 2.8zM1144.5 442.5l3.4-2.8l1.8 2.0l-3.4 2.8zM1127.4 461.8l3.4-2.8l1.8 2.0l-3.4 2.8zM1133.1 457.1l3.4-2.8l1.8 2.0l-3.4 2.8zM1138.7 452.4l3.4-2.8l1.8 2.0l-3.4 2.8zM1141.5 450.1l3.4-2.8l1.8 2.0l-3.4 2.8zM1131.5 460.9l3.4-2.8l1.8 2.0l-3.4 2.8zM1130.0 464.6l3.4-2.8l1.8 2.0l-3.4 2.8zM1146.9 450.7l3.4-2.8l1.8 2.0l-3.4 2.8zM1203.4 404.2l3.4-2.8l1.9 2.1l-3.4 2.8zM1122.8 473.0l3.4-2.8l1.8 2.0l-3.4 2.8zM1134.1 463.7l3.4-2.8l1.8 2.0l-3.4 2.8zM1136.9 461.4l3.4-2.8l1.8 2.0l-3.4 2.8zM1175.0 432.7l3.4-2.8l1.9 2.1l-3.4 2.8zM1220.3 395.7l3.4-2.8l1.9 2.1l-3.4 2.8zM1125.4 475.9l3.4-2.8l1.8 2.0l-3.4 2.8zM1133.9 468.9l3.4-2.8l1.8 2.0l-3.4 2.8zM1210.3 406.4l3.4-2.8l1.9 2.1l-3.4 2.8zM1218.8 399.5l3.4-2.8l1.9 2.2l-3.4 2.8zM1221.6 397.2l3.4-2.8l1.9 2.2l-3.4 2.8zM1129.5 475.0l3.4-2.8l1.7 2.1l-3.4 2.8zM1132.3 472.7l3.4-2.8l1.7 2.1l-3.4 2.8zM1220.2 401.0l3.4-2.8l1.8 2.2l-3.4 2.8zM1225.8 396.4l3.4-2.8l1.8 2.2l-3.4 2.8zM1164.7 448.8l3.4-2.8l1.8 2.1l-3.4 2.8zM1204.5 416.4l3.4-2.8l1.8 2.2l-3.4 2.8zM1151.8 461.8l3.4-2.8l1.8 2.1l-3.4 2.8zM1171.7 445.7l3.4-2.8l1.8 2.1l-3.4 2.8zM1185.9 434.1l3.4-2.8l1.8 2.1l-3.4 2.8zM1194.4 427.2l3.4-2.8l1.8 2.2l-3.4 2.8zM1110.4 497.8l3.4-2.8l1.7 2.0l-3.4 2.8zM1141.7 472.5l3.4-2.8l1.7 2.1l-3.4 2.8zM1178.6 442.6l3.4-2.8l1.8 2.1l-3.4 2.8zM1198.5 426.5l3.4-2.8l1.8 2.2l-3.4 2.8zM1209.9 417.2l3.4-2.8l1.8 2.2l-3.4 2.8zM1224.1 405.7l3.4-2.8l1.8 2.2l-3.4 2.8zM1226.9 403.4l3.4-2.8l1.8 2.2l-3.4 2.8zM1114.5 497.0l3.4-2.8l1.7 2.0l-3.4 2.8zM1151.5 467.1l3.4-2.8l1.7 2.1l-3.4 2.8zM1160.0 460.2l3.4-2.8l1.8 2.1l-3.4 2.8zM1177.1 446.4l3.4-2.8l1.8 2.1l-3.4 2.8zM1211.2 418.8l3.4-2.8l1.8 2.2l-3.4 2.8zM1141.3 477.7l3.4-2.8l1.7 2.1l-3.4 2.8zM1175.5 450.2l3.4-2.8l1.8 2.1l-3.4 2.8zM1192.6 436.4l3.4-2.8l1.8 2.2l-3.4 2.8zM1136.8 483.8l3.4-2.8l1.7 2.1l-3.5 2.8zM1159.6 465.5l3.4-2.8l1.8 2.1l-3.5 2.8zM1179.6 449.4l3.4-2.8l1.8 2.1l-3.5 2.8zM1213.8 421.9l3.4-2.8l1.8 2.2l-3.5 2.8zM1155.2 471.5l3.5-2.8l1.7 2.1l-3.5 2.8zM1158.0 469.3l3.5-2.8l1.7 2.1l-3.5 2.8zM1178.0 453.2l3.5-2.8l1.8 2.1l-3.5 2.8zM1195.1 439.5l3.5-2.8l1.8 2.2l-3.5 2.8zM1200.8 434.9l3.5-2.8l1.8 2.2l-3.5 2.8zM1215.1 423.5l3.5-2.8l1.8 2.2l-3.5 2.8zM1223.6 416.6l3.5-2.8l1.8 2.2l-3.5 2.8zM1159.3 470.7l3.5-2.8l1.7 2.1l-3.5 2.8zM1193.5 443.3l3.5-2.8l1.8 2.1l-3.5 2.8zM1213.5 427.3l3.5-2.8l1.8 2.2l-3.5 2.8zM1239.2 406.7l3.5-2.8l1.8 2.2l-3.5 2.8zM1146.2 483.7l3.5-2.8l1.7 2.1l-3.5 2.8zM1160.5 472.2l3.5-2.8l1.7 2.1l-3.5 2.8zM1172.0 463.1l3.5-2.8l1.8 2.1l-3.5 2.8zM1223.4 422.0l3.5-2.8l1.8 2.2l-3.5 2.8zM1090.3 530.7l3.5-2.8l1.7 2.0l-3.5 2.8zM1147.5 485.1l3.5-2.8l1.7 2.1l-3.5 2.8zM1224.7 423.6l3.5-2.8l1.8 2.2l-3.5 2.8zM1157.3 479.8l3.5-2.8l1.7 2.1l-3.5 2.7zM1160.2 477.5l3.5-2.8l1.7 2.1l-3.5 2.7zM1192.9 454.0l3.5-2.8l1.8 2.1l-3.5 2.7zM1195.8 451.7l3.5-2.8l1.8 2.1l-3.5 2.7zM1235.9 419.9l3.5-2.8l1.8 2.2l-3.5 2.7zM1162.7 480.5l3.5-2.7l1.7 2.1l-3.5 2.7zM1165.5 478.2l3.5-2.7l1.7 2.1l-3.5 2.7zM1194.2 455.5l3.5-2.7l1.8 2.1l-3.5 2.7zM1199.9 451.0l3.5-2.7l1.8 2.1l-3.5 2.7zM1214.3 439.6l3.5-2.7l1.8 2.2l-3.5 2.7zM1217.1 437.3l3.5-2.7l1.8 2.2l-3.5 2.7zM1228.6 428.3l3.5-2.7l1.8 2.2l-3.5 2.7zM1231.5 426.0l3.5-2.7l1.8 2.2l-3.5 2.7zM1242.9 416.9l3.5-2.7l1.8 2.2l-3.5 2.7zM1206.9 448.0l3.5-2.7l1.8 2.2l-3.5 2.7zM1229.9 429.8l3.5-2.7l1.8 2.2l-3.5 2.7zM1165.1 483.5l3.5-2.7l1.7 2.1l-3.5 2.7zM1152.0 496.3l3.5-2.7l1.8 2.0l-3.5 2.7zM1157.8 491.7l3.5-2.7l1.8 2.0l-3.5 2.7zM1166.4 485.0l3.5-2.7l1.8 2.0l-3.5 2.7zM1169.3 482.7l3.5-2.7l1.8 2.0l-3.5 2.7zM1241.1 426.2l3.5-2.7l1.9 2.2l-3.5 2.7zM1150.4 500.0l3.5-2.7l1.8 2.0l-3.5 2.7zM1159.0 493.2l3.5-2.7l1.8 2.0l-3.5 2.7zM1161.9 490.9l3.5-2.7l1.8 2.0l-3.5 2.7zM1205.1 457.1l3.5-2.7l1.9 2.1l-3.5 2.7zM1233.8 434.5l3.5-2.7l1.9 2.1l-3.5 2.7zM1245.3 425.4l3.5-2.7l1.9 2.1l-3.5 2.7zM1251.1 420.9l3.5-2.7l1.9 2.2l-3.5 2.7zM1166.1 490.1l3.5-2.7l1.8 2.0l-3.5 2.7zM1226.5 442.8l3.5-2.7l1.9 2.1l-3.5 2.7zM1255.3 420.2l3.5-2.7l1.9 2.2l-3.5 2.7zM1170.3 489.3l3.5-2.7l1.8 2.0l-3.5 2.7zM1199.1 466.8l3.5-2.7l1.9 2.1l-3.5 2.7zM1204.8 462.3l3.5-2.7l1.9 2.1l-3.5 2.7zM1203.3 466.0l3.5-2.7l1.9 2.1l-3.5 2.7zM1229.2 445.8l3.5-2.7l1.9 2.1l-3.5 2.7zM1243.7 434.5l3.5-2.7l1.9 2.1l-3.5 2.7zM1252.3 427.8l3.5-2.7l1.9 2.1l-3.5 2.7zM1258.1 423.3l3.5-2.7l1.9 2.2l-3.5 2.7zM1167.1 496.7l3.5-2.7l1.8 2.0l-3.5 2.7zM1170.0 494.4l3.5-2.7l1.8 2.0l-3.5 2.7zM1233.5 445.0l3.5-2.7l1.9 2.1l-3.5 2.7zM1239.2 440.5l3.5-2.7l1.9 2.1l-3.5 2.7zM1245.0 436.0l3.5-2.7l1.9 2.1l-3.5 2.7zM1247.9 433.8l3.5-2.7l1.9 2.1l-3.5 2.7zM1250.8 431.5l3.5-2.7l1.9 2.1l-3.5 2.7zM1159.7 504.8l3.5-2.7l1.8 2.0l-3.5 2.7zM1165.5 500.4l3.5-2.7l1.8 2.0l-3.5 2.7zM1174.2 493.6l3.5-2.7l1.8 2.0l-3.5 2.7zM1246.4 437.6l3.5-2.7l1.9 2.1l-3.5 2.7zM1252.2 433.1l3.5-2.7l1.9 2.1l-3.5 2.7zM1255.0 430.8l3.5-2.7l1.9 2.1l-3.5 2.7zM1257.9 428.6l3.5-2.7l1.9 2.2l-3.5 2.7zM1163.9 504.0l3.5-2.7l1.8 2.0l-3.5 2.7zM1169.7 499.6l3.5-2.7l1.8 2.0l-3.5 2.7zM1259.3 430.1l3.5-2.7l1.9 2.2l-3.5 2.7zM1199.9 478.6l3.5-2.7l1.8 2.1l-3.5 2.7zM1254.9 436.1l3.5-2.7l1.9 2.1l-3.5 2.7zM1257.8 433.9l3.5-2.7l1.9 2.1l-3.5 2.7zM1260.7 431.7l3.5-2.7l1.9 2.2l-3.5 2.7zM1263.6 429.4l3.5-2.7l1.9 2.2l-3.5 2.7zM1131.7 533.7l3.5-2.7l1.8 2.0l-3.5 2.7zM1169.4 504.7l3.5-2.7l1.8 2.0l-3.5 2.7zM1175.2 500.2l3.5-2.7l1.8 2.0l-3.5 2.7zM1204.1 477.9l3.5-2.7l1.9 2.1l-3.5 2.7zM1259.1 435.4l3.5-2.7l1.9 2.1l-3.5 2.7zM1262.0 433.2l3.5-2.7l1.9 2.2l-3.5 2.7zM1173.6 503.9l3.5-2.7l1.8 2.0l-3.5 2.7zM1182.3 497.2l3.5-2.7l1.8 2.0l-3.5 2.7zM1205.4 479.3l3.5-2.7l1.9 2.1l-3.5 2.7zM1163.2 514.2l3.5-2.7l1.8 2.0l-3.5 2.7zM1169.0 509.8l3.5-2.7l1.8 2.0l-3.5 2.7zM1198.1 487.5l3.5-2.7l1.8 2.1l-3.5 2.7zM1202.3 486.7l3.5-2.7l1.8 2.1l-3.5 2.7zM1113.5 557.0l3.5-2.7l1.7 1.9l-3.5 2.7zM1116.4 554.8l3.5-2.7l1.7 1.9l-3.5 2.7zM1267.5 439.3l3.5-2.7l1.9 2.2l-3.5 2.7zM1175.8 511.8l3.5-2.7l1.8 2.0l-3.5 2.7zM1268.9 440.9l3.5-2.7l1.9 2.2l-3.5 2.7zM1171.3 517.7l3.5-2.7l1.8 2.0l-3.5 2.7zM1182.9 508.8l3.5-2.7l1.8 2.0l-3.5 2.7zM1184.2 510.3l3.5-2.7l1.9 2.0l-3.5 2.7zM1182.6 513.9l3.5-2.7l1.9 2.0l-3.5 2.7zM1188.5 509.5l3.5-2.7l1.9 2.0l-3.5 2.7zM1197.2 502.9l3.5-2.7l1.9 2.0l-3.5 2.7zM1200.1 500.6l3.5-2.7l1.9 2.0l-3.5 2.7zM1275.9 443.2l3.5-2.7l2.0 2.1l-3.5 2.7zM1169.4 526.3l3.5-2.7l1.8 2.0l-3.5 2.7zM1175.2 521.9l3.5-2.7l1.8 2.0l-3.5 2.7zM1181.0 517.5l3.5-2.7l1.8 2.0l-3.5 2.7zM1186.9 513.1l3.5-2.7l1.9 2.0l-3.5 2.7zM1277.3 444.7l3.5-2.7l2.0 2.1l-3.5 2.7zM1170.7 527.7l3.5-2.7l1.8 2.0l-3.5 2.7zM1197.0 507.9l3.5-2.7l1.9 2.0l-3.5 2.7zM1172.0 529.1l3.5-2.7l1.8 2.0l-3.5 2.7zM1179.1 526.1l3.5-2.7l1.8 2.0l-3.5 2.7zM1193.8 515.2l3.5-2.7l1.9 2.0l-3.5 2.7zM1189.2 521.0l3.5-2.7l1.9 2.0l-3.5 2.6zM1168.1 546.2l3.6-2.6l1.8 1.9l-3.6 2.6z"/>
<path fill="#ff3900" d="M1062.3 411.9l3.3-3.0l0.6 2.6l-3.3 3.0zM1190.4 473.5l3.5-2.7l1.8 2.1l-3.5 2.7zM1189.9 483.9l3.5-2.7l1.8 2.0l-3.5 2.7zM1135.1 542.9l3.5-2.7l1.8 2.0l-3.5 2.7z"/>
<path fill="#ff9700" d="M1070.4 404.5l3.3-3.0l0.6 2.6l-3.3 3.0zM1100.5 379.2l3.3-3.0l0.6 2.6l-3.3 3.0zM1065.8 413.1l3.3-3.0l0.6 2.6l-3.3 3.0zM1071.7 410.0l3.3-3.0l0.6 2.6l-3.3 3.0zM1097.4 393.4l3.3-3.0l0.6 2.6l-3.3 3.0zM1152.1 346.3l3.3-3.0l0.7 2.7l-3.3 3.0zM1065.6 426.4l3.3-3.0l0.6 2.5l-3.3 3.0zM1068.4 424.0l3.3-3.0l0.7 2.5l-3.3 3.0zM1120.0 377.5l3.3-3.0l0.7 2.6l-3.3 3.0zM1071.5 423.4l3.3-3.0l0.7 2.5l-3.3 3.0zM1107.4 393.5l3.3-3.0l0.7 2.6l-3.3 2.9zM1149.4 360.7l3.3-2.9l0.8 2.7l-3.3 2.9zM1062.9 442.2l3.3-2.9l0.6 2.5l-3.3 2.9zM1131.3 381.4l3.3-2.9l0.7 2.6l-3.3 2.9zM1083.0 428.8l3.3-2.9l0.7 2.6l-3.3 2.9zM1086.7 430.0l3.3-2.9l0.7 2.6l-3.3 2.9zM1146.0 385.0l3.3-2.9l0.8 2.6l-3.3 2.9zM1078.1 448.8l3.3-2.9l0.7 2.5l-3.3 2.9zM1081.3 448.2l3.3-2.9l0.7 2.5l-3.3 2.9zM1085.5 451.3l3.3-2.9l0.7 2.6l-3.4 2.9zM1075.4 464.4l3.4-2.9l0.5 2.6l-3.4 2.9zM1177.1 407.7l3.4-2.8l1.9 2.1l-3.4 2.8zM1159.5 442.9l3.4-2.8l1.8 2.1l-3.4 2.8zM1091.4 503.6l3.4-2.8l1.7 2.0l-3.4 2.8zM1127.1 489.2l3.4-2.8l1.7 2.1l-3.4 2.8zM1113.9 519.1l3.5-2.7l1.7 2.0l-3.5 2.7zM1112.3 522.8l3.5-2.7l1.7 2.0l-3.5 2.7zM1121.6 522.5l3.5-2.7l1.8 2.0l-3.5 2.7zM1178.9 482.5l3.5-2.7l1.8 2.0l-3.5 2.7zM1192.5 486.8l3.5-2.7l1.8 2.0l-3.5 2.7zM1140.0 532.0l3.5-2.7l1.8 2.0l-3.5 2.7zM1142.9 529.8l3.5-2.7l1.8 2.0l-3.5 2.7zM1154.2 525.9l3.5-2.7l1.8 2.0l-3.5 2.7zM1203.6 488.2l3.5-2.7l1.8 2.1l-3.5 2.7zM1197.5 497.8l3.5-2.7l1.8 2.0l-3.5 2.7zM1140.5 543.4l3.5-2.7l1.8 1.9l-3.5 2.7zM1152.2 534.6l3.5-2.7l1.8 1.9l-3.5 2.7zM1132.7 556.4l3.5-2.7l1.8 1.9l-3.5 2.7zM1133.6 562.6l3.5-2.7l1.8 1.9l-3.5 2.6zM1134.9 564.0l3.5-2.6l1.8 1.9l-3.5 2.6zM1149.5 553.0l3.5-2.6l1.8 1.9l-3.5 2.6zM1137.4 566.7l3.6-2.6l1.8 1.9l-3.6 2.6z"/>
<path fill="#7bff7b" d="M1049.2 426.0l3.3-3.0l0.6 2.5l-3.3 3.0zM1134.4 355.3l3.3-3.0l0.7 2.7l-3.3 3.0zM1061.7 423.4l3.3-3.0l0.6 2.5l-3.3 3.0zM1099.6 389.1l3.3-3.0l0.6 2.6l-3.3 3.0zM1126.7 364.5l3.3-3.0l0.7 2.6l-3.3 3.0zM1053.9 432.6l3.3-3.0l0.6 2.5l-3.3 3.0zM1056.7 430.2l3.3-3.0l0.6 2.5l-3.3 3.0zM1129.9 364.0l3.3-3.0l0.7 2.7l-3.3 3.0zM1128.2 370.2l3.3-3.0l0.7 2.6l-3.3 3.0zM1069.7 429.4l3.3-2.9l0.7 2.5l-3.3 2.9zM1116.1 388.0l3.3-2.9l0.7 2.6l-3.3 2.9zM1067.5 433.7l3.3-2.9l0.6 2.5l-3.3 2.9zM1101.7 410.0l3.3-2.9l0.7 2.6l-3.3 2.9zM1131.8 383.3l3.3-2.9l0.7 2.6l-3.3 2.9zM1105.4 411.3l3.3-2.9l0.7 2.6l-3.3 2.9zM1119.6 401.0l3.3-2.9l0.7 2.6l-3.3 2.9zM1114.7 407.7l3.3-2.9l0.7 2.6l-3.3 2.9zM1117.4 405.3l3.3-2.9l0.7 2.6l-3.3 2.9zM1120.2 402.9l3.3-2.9l0.7 2.6l-3.3 2.9zM1161.4 366.7l3.3-2.9l0.8 2.7l-3.3 2.9zM1145.4 383.1l3.3-2.9l0.8 2.6l-3.3 2.9zM1164.7 366.2l3.3-2.9l0.8 2.7l-3.3 2.9zM1157.5 377.2l3.3-2.9l0.8 2.7l-3.3 2.9zM1133.2 400.7l3.3-2.9l0.7 2.6l-3.3 2.9zM1171.9 367.1l3.3-2.9l0.8 2.7l-3.3 2.9zM1174.6 364.7l3.3-2.9l0.8 2.7l-3.3 2.9zM1111.7 421.8l3.3-2.9l0.7 2.6l-3.3 2.9zM1117.2 417.0l3.3-2.9l0.7 2.6l-3.3 2.9zM1120.0 414.6l3.3-2.9l0.7 2.6l-3.3 2.9zM1131.0 405.0l3.3-2.9l0.7 2.6l-3.3 2.9zM1133.8 402.6l3.3-2.9l0.7 2.6l-3.3 2.9zM1139.3 397.8l3.3-2.9l0.7 2.6l-3.3 2.9zM1128.8 409.3l3.3-2.9l0.7 2.6l-3.3 2.9zM1131.5 406.9l3.3-2.9l0.7 2.6l-3.3 2.9zM1134.3 404.5l3.3-2.9l0.7 2.6l-3.3 2.9zM1142.6 397.3l3.3-2.9l0.7 2.6l-3.3 2.9zM1153.6 387.7l3.3-2.9l0.8 2.7l-3.3 2.9zM1178.5 366.2l3.3-2.9l0.8 2.7l-3.3 2.9zM1085.0 449.4l3.3-2.9l0.7 2.6l-3.4 2.9zM1118.2 420.7l3.3-2.9l0.7 2.6l-3.4 2.9zM1137.6 404.0l3.3-2.9l0.7 2.6l-3.4 2.9zM1143.1 399.2l3.3-2.9l0.7 2.6l-3.4 2.9zM1159.7 384.8l3.3-2.9l0.8 2.7l-3.4 2.9zM1179.1 368.1l3.3-2.9l0.8 2.7l-3.4 2.9zM1146.4 398.7l3.3-2.9l0.8 2.6l-3.4 2.9zM1163.0 384.3l3.3-2.9l0.8 2.7l-3.4 2.9zM1168.6 379.6l3.3-2.9l0.8 2.7l-3.4 2.9zM1122.0 422.1l3.4-2.9l0.7 2.6l-3.4 2.9zM1130.3 414.9l3.4-2.9l0.7 2.6l-3.4 2.9zM1135.9 410.1l3.4-2.9l0.7 2.6l-3.4 2.9zM1149.7 398.2l3.4-2.9l0.8 2.7l-3.4 2.9zM1158.0 391.0l3.4-2.9l0.8 2.7l-3.4 2.9zM1160.8 388.6l3.4-2.9l0.8 2.7l-3.4 2.9zM1180.2 371.9l3.4-2.9l0.8 2.7l-3.4 2.9zM1111.4 433.4l3.4-2.9l0.6 2.6l-3.4 2.9zM1114.2 431.1l3.4-2.9l0.6 2.6l-3.4 2.9zM1119.8 426.3l3.4-2.9l0.6 2.6l-3.4 2.9zM1125.3 421.5l3.4-2.9l0.6 2.6l-3.4 2.9zM1128.1 419.1l3.4-2.9l0.6 2.6l-3.4 2.9zM1130.8 416.8l3.4-2.9l0.6 2.6l-3.4 2.9zM1139.2 409.6l3.4-2.9l0.6 2.7l-3.4 2.9zM1147.5 402.5l3.4-2.9l0.6 2.7l-3.4 2.9zM1153.0 397.7l3.4-2.9l0.6 2.7l-3.4 2.9zM1139.6 411.5l3.4-2.9l0.6 2.7l-3.4 2.9zM1156.3 397.2l3.4-2.9l0.6 2.7l-3.4 2.9zM1184.0 373.4l3.4-2.9l0.6 2.7l-3.4 2.9zM1065.0 477.6l3.4-2.9l0.5 2.6l-3.4 2.9zM1117.8 432.4l3.4-2.9l0.5 2.6l-3.4 2.9zM1120.6 430.1l3.4-2.9l0.6 2.6l-3.4 2.9zM1131.7 420.5l3.4-2.9l0.6 2.7l-3.4 2.9zM1115.4 436.7l3.4-2.9l0.5 2.6l-3.4 2.9zM1121.0 431.9l3.4-2.9l0.6 2.6l-3.4 2.9zM1129.3 424.8l3.4-2.9l0.6 2.7l-3.4 2.9zM1134.9 420.1l3.4-2.9l0.6 2.7l-3.4 2.9zM1126.9 429.1l3.4-2.9l0.6 2.6l-3.4 2.9zM1132.5 424.3l3.4-2.9l0.6 2.7l-3.4 2.9zM1138.1 419.6l3.4-2.9l0.6 2.7l-3.4 2.9zM1165.9 395.9l3.4-2.9l0.6 2.7l-3.4 2.9zM1193.7 372.1l3.4-2.9l0.6 2.7l-3.4 2.9zM1132.9 426.2l3.4-2.9l0.6 2.7l-3.4 2.9zM1152.4 409.6l3.4-2.9l0.6 2.7l-3.4 2.9zM1155.2 407.3l3.4-2.9l0.6 2.7l-3.4 2.9zM1188.6 378.8l3.4-2.9l0.6 2.7l-3.4 2.9zM1197.0 371.7l3.4-2.9l0.6 2.8l-3.4 2.9zM1074.7 477.8l3.4-2.9l0.5 2.6l-3.4 2.9zM1158.4 406.8l3.4-2.9l0.6 2.7l-3.4 2.9zM1169.6 397.4l3.4-2.9l0.6 2.7l-3.4 2.9zM1063.9 489.1l3.4-2.9l0.5 2.6l-3.4 2.9zM1117.0 444.2l3.4-2.9l0.5 2.6l-3.4 2.9zM1186.7 385.1l3.4-2.9l0.6 2.7l-3.4 2.9zM1176.0 396.5l3.4-2.9l0.6 2.7l-3.4 2.9zM1178.8 394.2l3.4-2.9l0.6 2.7l-3.4 2.9zM1115.3 452.2l3.4-2.8l0.8 2.5l-3.4 2.8zM1118.1 449.8l3.4-2.8l0.8 2.5l-3.4 2.8zM1120.9 447.5l3.4-2.8l0.8 2.5l-3.4 2.8zM1151.7 421.6l3.4-2.8l0.9 2.6l-3.4 2.8zM1171.3 405.1l3.4-2.8l0.9 2.6l-3.4 2.8zM1179.7 398.0l3.4-2.8l0.9 2.6l-3.4 2.8zM1188.1 391.0l3.4-2.8l0.9 2.6l-3.4 2.8zM1190.9 388.6l3.4-2.8l0.9 2.6l-3.4 2.8zM1196.5 383.9l3.4-2.8l0.9 2.6l-3.4 2.8zM1118.5 451.7l3.4-2.8l1.7 2.1l-3.4 2.8zM1146.5 428.2l3.4-2.8l1.7 2.1l-3.4 2.8zM1149.3 425.8l3.4-2.8l1.7 2.1l-3.4 2.8zM1152.1 423.5l3.4-2.8l1.8 2.1l-3.4 2.8zM1185.7 395.3l3.4-2.8l1.8 2.2l-3.4 2.8zM1191.3 390.6l3.4-2.8l1.8 2.2l-3.4 2.8zM1199.7 383.5l3.4-2.8l1.8 2.2l-3.4 2.8zM1102.9 467.3l3.4-2.8l1.8 2.0l-3.4 2.8zM1122.5 450.8l3.4-2.8l1.8 2.0l-3.4 2.8zM1161.8 418.0l3.4-2.8l1.9 2.1l-3.4 2.8zM1167.4 413.3l3.4-2.8l1.9 2.1l-3.4 2.8zM1195.4 389.8l3.4-2.8l1.9 2.1l-3.4 2.8zM1143.4 435.8l3.4-2.8l1.8 2.0l-3.4 2.8zM1146.2 433.5l3.4-2.8l1.8 2.0l-3.4 2.8zM1157.5 424.1l3.4-2.8l1.9 2.1l-3.4 2.8zM1163.1 419.4l3.4-2.8l1.9 2.1l-3.4 2.8zM1191.1 396.0l3.4-2.8l1.9 2.1l-3.4 2.8zM1194.0 393.6l3.4-2.8l1.9 2.1l-3.4 2.8zM1144.7 437.3l3.4-2.8l1.8 2.0l-3.4 2.8zM1153.2 430.3l3.4-2.8l1.8 2.1l-3.4 2.8zM1192.5 397.5l3.4-2.8l1.9 2.1l-3.4 2.8zM1117.9 462.1l3.4-2.8l1.8 2.0l-3.4 2.8zM1126.4 455.1l3.4-2.8l1.8 2.0l-3.4 2.8zM1134.8 448.1l3.4-2.8l1.8 2.0l-3.4 2.8zM1148.9 436.4l3.4-2.8l1.8 2.0l-3.4 2.8zM1157.3 429.4l3.4-2.8l1.8 2.1l-3.4 2.8zM1162.9 424.7l3.4-2.8l1.9 2.1l-3.4 2.8zM1171.4 417.7l3.4-2.8l1.9 2.1l-3.4 2.8zM1191.0 401.3l3.4-2.8l1.9 2.1l-3.4 2.8zM1202.3 392.0l3.4-2.8l1.9 2.1l-3.4 2.8zM1099.5 479.9l3.4-2.8l1.8 2.0l-3.4 2.8zM1127.7 456.6l3.4-2.8l1.8 2.0l-3.4 2.8zM1138.9 447.2l3.4-2.8l1.8 2.0l-3.4 2.8zM1178.3 414.5l3.4-2.8l1.9 2.1l-3.4 2.8zM1134.6 453.3l3.4-2.8l1.8 2.0l-3.4 2.8zM1137.4 451.0l3.4-2.8l1.8 2.0l-3.4 2.8zM1165.6 427.7l3.4-2.8l1.9 2.1l-3.4 2.8zM1096.4 487.4l3.4-2.8l1.8 2.0l-3.4 2.8zM1124.6 464.1l3.4-2.8l1.8 2.0l-3.4 2.8zM1200.7 401.2l3.4-2.8l1.9 2.1l-3.4 2.8zM1120.2 470.2l3.4-2.8l1.8 2.0l-3.4 2.8zM1142.8 451.6l3.4-2.8l1.8 2.0l-3.4 2.8zM1148.5 446.9l3.4-2.8l1.8 2.0l-3.4 2.8zM1199.3 405.0l3.4-2.8l1.9 2.1l-3.4 2.8zM1210.5 395.7l3.4-2.8l1.9 2.1l-3.4 2.8zM1144.1 453.0l3.4-2.8l1.8 2.0l-3.4 2.8zM1209.1 399.6l3.4-2.8l1.9 2.1l-3.4 2.8zM1211.9 397.3l3.4-2.8l1.9 2.1l-3.4 2.8zM1151.1 449.8l3.4-2.8l1.8 2.0l-3.4 2.8zM1124.1 474.4l3.4-2.8l1.8 2.0l-3.4 2.8zM1131.0 471.2l3.4-2.8l1.8 2.0l-3.4 2.8zM1153.7 452.7l3.4-2.8l1.8 2.1l-3.4 2.8zM1162.2 445.8l3.4-2.8l1.8 2.1l-3.4 2.8zM1167.8 441.2l3.4-2.8l1.8 2.1l-3.4 2.8zM1084.1 512.0l3.4-2.8l1.7 2.0l-3.4 2.8zM1138.0 468.0l3.4-2.8l1.7 2.1l-3.4 2.8zM1143.6 463.4l3.4-2.8l1.7 2.1l-3.4 2.8zM1152.1 456.5l3.4-2.8l1.8 2.1l-3.4 2.8zM1166.3 444.9l3.4-2.8l1.8 2.1l-3.4 2.8zM1200.3 417.2l3.4-2.8l1.8 2.2l-3.4 2.8zM1211.7 408.0l3.4-2.8l1.8 2.2l-3.4 2.8zM1167.6 446.4l3.4-2.8l1.8 2.1l-3.4 2.8zM1178.9 437.2l3.4-2.8l1.8 2.1l-3.4 2.8zM1213.0 409.5l3.4-2.8l1.8 2.2l-3.4 2.8zM1215.8 407.2l3.4-2.8l1.8 2.2l-3.4 2.8zM1218.6 404.9l3.4-2.8l1.8 2.2l-3.4 2.8zM1227.2 398.0l3.4-2.8l1.8 2.2l-3.4 2.8zM1083.7 517.1l3.4-2.8l1.7 2.0l-3.4 2.8zM1134.8 475.6l3.4-2.8l1.7 2.1l-3.4 2.8zM1174.5 443.3l3.4-2.8l1.8 2.1l-3.4 2.8zM1177.4 441.0l3.4-2.8l1.8 2.1l-3.4 2.8zM1183.0 436.4l3.4-2.8l1.8 2.1l-3.4 2.8zM1188.7 431.8l3.4-2.8l1.8 2.2l-3.4 2.8zM1211.4 413.4l3.4-2.8l1.8 2.2l-3.4 2.8zM1217.1 408.8l3.4-2.8l1.8 2.2l-3.4 2.8zM1220.0 406.5l3.4-2.8l1.8 2.2l-3.4 2.8zM1222.8 404.2l3.4-2.8l1.8 2.2l-3.4 2.8zM1225.6 401.9l3.4-2.8l1.8 2.2l-3.4 2.8zM1127.5 484.0l3.4-2.8l1.7 2.1l-3.4 2.8zM1172.9 447.2l3.4-2.8l1.8 2.1l-3.4 2.8zM1204.2 421.8l3.4-2.8l1.8 2.2l-3.4 2.8zM1229.8 401.1l3.4-2.8l1.8 2.2l-3.4 2.8zM1134.0 486.1l3.4-2.8l1.7 2.1l-3.5 2.8zM1145.4 476.9l3.4-2.8l1.7 2.1l-3.5 2.8zM1196.7 435.7l3.4-2.8l1.8 2.2l-3.5 2.8zM1230.9 408.2l3.4-2.8l1.8 2.2l-3.5 2.8zM1233.7 405.9l3.4-2.8l1.8 2.2l-3.5 2.8zM1101.0 515.0l3.5-2.8l1.7 2.0l-3.5 2.8zM1140.9 483.0l3.5-2.8l1.7 2.1l-3.5 2.8zM1146.6 478.4l3.5-2.8l1.7 2.1l-3.5 2.8zM1166.6 462.4l3.5-2.8l1.8 2.1l-3.5 2.8zM1175.2 455.5l3.5-2.8l1.8 2.1l-3.5 2.8zM1198.0 437.2l3.5-2.8l1.8 2.2l-3.5 2.8zM1206.5 430.3l3.5-2.8l1.8 2.2l-3.5 2.8zM1237.9 405.1l3.5-2.8l1.8 2.2l-3.5 2.8zM1139.3 486.7l3.5-2.8l1.7 2.1l-3.5 2.8zM1145.0 482.2l3.5-2.8l1.7 2.1l-3.5 2.8zM1147.9 479.9l3.5-2.8l1.7 2.1l-3.5 2.8zM1165.0 466.2l3.5-2.8l1.8 2.1l-3.5 2.8zM1182.1 452.5l3.5-2.8l1.8 2.1l-3.5 2.8zM1143.4 485.9l3.5-2.8l1.7 2.1l-3.5 2.8zM1197.7 442.6l3.5-2.8l1.8 2.2l-3.5 2.8zM1226.2 419.7l3.5-2.8l1.8 2.2l-3.5 2.8zM1098.9 523.9l3.5-2.8l1.7 2.0l-3.5 2.8zM1127.5 501.1l3.5-2.8l1.7 2.0l-3.5 2.8zM1164.6 471.5l3.5-2.8l1.8 2.1l-3.5 2.8zM1201.8 441.8l3.5-2.8l1.8 2.2l-3.5 2.8zM1143.0 491.2l3.5-2.8l1.7 2.1l-3.5 2.7zM1145.9 488.9l3.5-2.8l1.7 2.1l-3.5 2.7zM1188.8 454.7l3.5-2.8l1.8 2.1l-3.5 2.7zM1191.6 452.5l3.5-2.8l1.8 2.1l-3.5 2.7zM1203.1 443.3l3.5-2.8l1.8 2.2l-3.5 2.7zM1161.4 479.0l3.5-2.8l1.7 2.1l-3.5 2.7zM1164.3 476.7l3.5-2.8l1.7 2.1l-3.5 2.7zM1170.0 472.2l3.5-2.8l1.8 2.1l-3.5 2.7zM1184.3 460.8l3.5-2.8l1.8 2.1l-3.5 2.7zM1233.0 422.1l3.5-2.8l1.8 2.2l-3.5 2.7zM1122.5 512.3l3.5-2.7l1.7 2.0l-3.5 2.7zM1197.1 453.2l3.5-2.7l1.8 2.1l-3.5 2.7zM1225.7 430.5l3.5-2.7l1.8 2.2l-3.5 2.7zM1129.5 509.2l3.5-2.7l1.7 2.0l-3.5 2.7zM1158.2 486.5l3.5-2.7l1.7 2.1l-3.5 2.7zM1169.6 477.4l3.5-2.7l1.8 2.1l-3.5 2.7zM1189.7 461.6l3.5-2.7l1.8 2.1l-3.5 2.7zM1198.3 454.8l3.5-2.7l1.8 2.1l-3.5 2.7zM1119.2 519.7l3.5-2.7l1.7 2.0l-3.5 2.7zM1150.8 494.8l3.5-2.7l1.7 2.1l-3.5 2.7zM1153.7 492.5l3.5-2.7l1.7 2.1l-3.5 2.7zM1176.6 474.4l3.5-2.7l1.8 2.1l-3.5 2.7zM1248.4 417.8l3.5-2.7l1.8 2.2l-3.5 2.7zM1251.3 415.5l3.5-2.7l1.9 2.2l-3.5 2.7zM1238.2 428.4l3.5-2.7l1.9 2.1l-3.5 2.7zM1246.9 421.6l3.5-2.7l1.9 2.2l-3.5 2.7zM1249.7 419.4l3.5-2.7l1.9 2.2l-3.5 2.7zM1147.5 502.2l3.5-2.7l1.8 2.0l-3.5 2.7zM1156.2 495.4l3.5-2.7l1.8 2.0l-3.5 2.7zM1196.4 463.8l3.5-2.7l1.9 2.1l-3.5 2.7zM1239.6 430.0l3.5-2.7l1.9 2.1l-3.5 2.7zM1242.5 427.7l3.5-2.7l1.9 2.1l-3.5 2.7zM1248.2 423.2l3.5-2.7l1.9 2.1l-3.5 2.7zM1254.0 418.7l3.5-2.7l1.9 2.2l-3.5 2.7zM1140.2 510.4l3.5-2.7l1.8 2.0l-3.5 2.7zM1143.1 508.2l3.5-2.7l1.8 2.0l-3.5 2.7zM1145.9 505.9l3.5-2.7l1.8 2.0l-3.5 2.7zM1148.8 503.6l3.5-2.7l1.8 2.0l-3.5 2.7zM1154.6 499.1l3.5-2.7l1.8 2.0l-3.5 2.7zM1240.9 431.5l3.5-2.7l1.9 2.1l-3.5 2.7zM1249.6 424.7l3.5-2.7l1.9 2.1l-3.5 2.7zM1252.5 422.5l3.5-2.7l1.9 2.2l-3.5 2.7zM1158.7 498.3l3.5-2.7l1.8 2.0l-3.5 2.7zM1164.5 493.8l3.5-2.7l1.8 2.0l-3.5 2.7zM1233.7 439.8l3.5-2.7l1.9 2.1l-3.5 2.7zM1236.5 437.5l3.5-2.7l1.9 2.1l-3.5 2.7zM1239.4 435.2l3.5-2.7l1.9 2.1l-3.5 2.7zM1242.3 433.0l3.5-2.7l1.9 2.1l-3.5 2.7zM1248.1 428.5l3.5-2.7l1.9 2.1l-3.5 2.7zM1250.9 426.2l3.5-2.7l1.9 2.1l-3.5 2.7zM1253.8 424.0l3.5-2.7l1.9 2.2l-3.5 2.7zM1160.0 499.7l3.5-2.7l1.8 2.0l-3.5 2.7zM1168.7 493.0l3.5-2.7l1.8 2.0l-3.5 2.7zM1171.6 490.7l3.5-2.7l1.8 2.0l-3.5 2.7zM1200.4 468.3l3.5-2.7l1.9 2.1l-3.5 2.7zM1226.4 448.0l3.5-2.7l1.9 2.1l-3.5 2.7zM1232.1 443.5l3.5-2.7l1.9 2.1l-3.5 2.7zM1235.0 441.3l3.5-2.7l1.9 2.1l-3.5 2.7zM1237.9 439.0l3.5-2.7l1.9 2.1l-3.5 2.7zM1240.8 436.8l3.5-2.7l1.9 2.1l-3.5 2.7zM1246.5 432.3l3.5-2.7l1.9 2.1l-3.5 2.7zM1249.4 430.0l3.5-2.7l1.9 2.1l-3.5 2.7zM1255.2 425.5l3.5-2.7l1.9 2.2l-3.5 2.7zM1144.0 514.6l3.5-2.7l1.8 2.0l-3.5 2.7zM1158.4 503.4l3.5-2.7l1.8 2.0l-3.5 2.7zM1230.6 447.3l3.5-2.7l1.9 2.1l-3.5 2.7zM1236.4 442.8l3.5-2.7l1.9 2.1l-3.5 2.7zM1242.1 438.3l3.5-2.7l1.9 2.1l-3.5 2.7zM1253.7 429.3l3.5-2.7l1.9 2.1l-3.5 2.7zM1256.6 427.1l3.5-2.7l1.9 2.2l-3.5 2.7zM1259.4 424.8l3.5-2.7l1.9 2.2l-3.5 2.7zM1200.2 473.4l3.5-2.7l1.9 2.1l-3.5 2.7zM1231.9 448.8l3.5-2.7l1.9 2.1l-3.5 2.7zM1234.8 446.5l3.5-2.7l1.9 2.1l-3.5 2.7zM1240.6 442.0l3.5-2.7l1.9 2.1l-3.5 2.7zM1243.5 439.8l3.5-2.7l1.9 2.1l-3.5 2.7zM1249.3 435.3l3.5-2.7l1.9 2.1l-3.5 2.7zM1260.8 426.3l3.5-2.7l1.9 2.2l-3.5 2.7zM1132.1 528.7l3.5-2.7l1.8 2.0l-3.5 2.7zM1161.0 506.3l3.5-2.7l1.8 2.0l-3.5 2.7zM1172.6 497.3l3.5-2.7l1.8 2.0l-3.5 2.7zM1247.7 439.1l3.5-2.7l1.9 2.1l-3.5 2.7zM1250.6 436.8l3.5-2.7l1.9 2.1l-3.5 2.7zM1256.4 432.4l3.5-2.7l1.9 2.1l-3.5 2.7zM1262.2 427.9l3.5-2.7l1.9 2.2l-3.5 2.7zM1168.1 503.2l3.5-2.7l1.8 2.0l-3.5 2.7zM1202.8 476.4l3.5-2.7l1.9 2.1l-3.5 2.7zM1246.2 442.8l3.5-2.7l1.9 2.1l-3.5 2.7zM1249.1 440.6l3.5-2.7l1.9 2.1l-3.5 2.7zM1252.0 438.4l3.5-2.7l1.9 2.1l-3.5 2.7zM1166.5 506.9l3.5-2.7l1.8 2.0l-3.5 2.7zM1253.3 439.9l3.5-2.7l1.9 2.1l-3.5 2.7zM1256.2 437.7l3.5-2.7l1.9 2.1l-3.5 2.7zM1170.7 506.1l3.5-2.7l1.8 2.0l-3.5 2.7zM1199.6 483.8l3.5-2.7l1.8 2.1l-3.5 2.7zM1257.6 439.2l3.5-2.7l1.9 2.1l-3.5 2.7zM1260.5 437.0l3.5-2.7l1.9 2.1l-3.5 2.7zM1266.3 432.5l3.5-2.7l1.9 2.2l-3.5 2.7zM1166.1 512.0l3.5-2.7l1.8 2.0l-3.5 2.7zM1174.8 505.3l3.5-2.7l1.8 2.0l-3.5 2.7zM1261.9 438.5l3.5-2.7l1.9 2.1l-3.5 2.7zM1264.8 436.3l3.5-2.7l1.9 2.2l-3.5 2.7zM1267.7 434.0l3.5-2.7l1.9 2.2l-3.5 2.7zM1170.3 511.2l3.5-2.7l1.8 2.0l-3.5 2.7zM1173.2 509.0l3.5-2.7l1.8 2.0l-3.5 2.7zM1251.6 448.9l3.5-2.7l1.9 2.1l-3.5 2.7zM1257.4 444.5l3.5-2.7l1.9 2.1l-3.5 2.7zM1260.3 442.2l3.5-2.7l1.9 2.1l-3.5 2.7zM1263.2 440.0l3.5-2.7l1.9 2.1l-3.5 2.7zM1266.1 437.8l3.5-2.7l1.9 2.2l-3.5 2.7zM1162.9 519.3l3.5-2.7l1.8 2.0l-3.5 2.7zM1171.6 512.6l3.5-2.7l1.8 2.0l-3.5 2.7zM1174.5 510.4l3.5-2.7l1.8 2.0l-3.5 2.7zM1177.4 508.2l3.5-2.7l1.8 2.0l-3.5 2.7zM1258.8 446.0l3.5-2.7l1.9 2.1l-3.5 2.7zM1261.7 443.8l3.5-2.7l1.9 2.1l-3.5 2.7zM1264.6 441.5l3.5-2.7l1.9 2.1l-3.5 2.7zM1270.4 437.1l3.5-2.7l1.9 2.2l-3.5 2.7zM1120.6 554.0l3.5-2.7l1.7 1.9l-3.5 2.7zM1172.9 514.0l3.5-2.7l1.8 2.0l-3.5 2.7zM1178.7 509.6l3.5-2.7l1.8 2.0l-3.5 2.7zM1187.5 503.0l3.5-2.7l1.8 2.0l-3.5 2.7zM1260.2 447.5l3.5-2.7l1.9 2.1l-3.5 2.7zM1263.1 445.3l3.5-2.7l1.9 2.1l-3.5 2.7zM1271.8 438.6l3.5-2.7l1.9 2.2l-3.5 2.7zM1168.4 519.9l3.5-2.7l1.8 2.0l-3.5 2.7zM1180.0 511.0l3.5-2.7l1.8 2.0l-3.5 2.7zM1169.7 521.3l3.5-2.7l1.8 2.0l-3.5 2.7zM1195.9 501.4l3.5-2.7l1.9 2.0l-3.5 2.7zM1271.6 443.9l3.5-2.7l2.0 2.1l-3.5 2.7zM1274.5 441.7l3.5-2.7l2.0 2.1l-3.5 2.7zM1173.9 520.5l3.5-2.7l1.8 2.0l-3.5 2.7zM1185.5 511.7l3.5-2.7l1.9 2.0l-3.5 2.7zM1273.0 445.4l3.5-2.7l2.0 2.1l-3.5 2.7zM1179.4 521.1l3.5-2.7l1.8 2.0l-3.5 2.7zM1278.7 446.3l3.5-2.7l2.0 2.1l-3.5 2.7zM1177.8 524.7l3.5-2.7l1.8 2.0l-3.5 2.7zM1280.1 447.8l3.5-2.7l2.0 2.1l-3.5 2.7zM1185.0 521.7l3.5-2.7l1.8 2.0l-3.5 2.7zM1187.9 519.5l3.5-2.7l1.9 2.0l-3.5 2.7zM1196.7 513.0l3.5-2.7l1.9 2.0l-3.5 2.7zM1275.7 453.7l3.5-2.7l2.0 2.1l-3.5 2.7zM1281.5 449.3l3.5-2.7l2.0 2.1l-3.5 2.7zM1177.5 529.7l3.5-2.7l1.8 2.0l-3.5 2.6zM1195.1 516.6l3.5-2.7l1.9 2.0l-3.5 2.6zM1175.9 533.3l3.5-2.6l1.8 2.0l-3.5 2.6zM1187.6 524.6l3.5-2.6l1.8 2.0l-3.5 2.6zM1190.5 522.4l3.5-2.6l1.9 2.0l-3.5 2.6zM1284.3 452.3l3.5-2.6l2.0 2.1l-3.5 2.6zM1139.1 563.1l3.5-2.6l1.8 1.9l-3.6 2.6zM1156.7 550.0l3.5-2.6l1.8 1.9l-3.6 2.6zM1285.7 453.8l3.5-2.6l2.0 2.1l-3.6 2.6zM1166.8 544.8l3.6-2.6l1.8 1.9l-3.6 2.6zM1193.2 525.2l3.6-2.6l1.9 2.0l-3.6 2.6zM1287.1 455.3l3.6-2.6l2.0 2.1l-3.6 2.6zM1129.9 574.6l3.6-2.6l1.8 1.9l-3.6 2.6zM1188.6 531.0l3.6-2.6l1.8 2.0l-3.6 2.6zM1194.5 526.6l3.6-2.6l1.8 2.0l-3.6 2.6zM1197.4 524.4l3.6-2.6l1.9 2.0l-3.6 2.6zM1206.3 517.9l3.6-2.6l1.9 2.0l-3.6 2.6zM1187.0 534.6l3.6-2.6l1.8 2.0l-3.6 2.6zM1189.9 532.4l3.6-2.6l1.8 2.0l-3.6 2.6zM1195.8 528.0l3.6-2.6l1.8 2.0l-3.6 2.6zM1198.8 525.9l3.6-2.6l1.9 2.0l-3.6 2.6zM1201.7 523.7l3.6-2.6l1.9 2.0l-3.6 2.6zM1138.3 572.9l3.6-2.6l1.3 1.4l-3.6 2.6zM1153.0 562.0l3.6-2.6l1.3 1.4l-3.6 2.6zM1173.6 546.8l3.6-2.6l1.3 1.4l-3.6 2.6z"/>
<path fill="#15ffe2" d="M1051.9 423.6l3.3-3.0l0.6 2.5l-3.3 3.0zM1058.8 439.2l3.3-2.9l0.6 2.5l-3.3 2.9zM1056.5 456.6l3.3-2.9l0.6 2.5l-3.3 2.9zM1159.2 371.0l3.3-2.9l0.8 2.7l-3.3 2.9zM1154.8 379.6l3.3-2.9l0.8 2.7l-3.3 2.9zM1061.5 463.2l3.3-2.9l0.6 2.5l-3.3 2.9zM1161.9 380.5l3.3-2.9l0.8 2.7l-3.3 2.9zM1176.3 370.5l3.3-2.9l0.8 2.7l-3.4 2.9zM1133.1 412.5l3.4-2.9l0.7 2.6l-3.4 2.9zM1131.3 418.6l3.4-2.9l0.6 2.7l-3.4 2.9zM1063.2 485.4l3.4-2.9l0.5 2.6l-3.4 2.9zM1063.6 487.3l3.4-2.9l0.5 2.6l-3.4 2.9zM1066.4 484.9l3.4-2.9l0.5 2.6l-3.4 2.9zM1167.2 401.7l3.4-2.9l0.6 2.7l-3.4 2.9zM1128.5 436.6l3.4-2.9l0.6 2.6l-3.4 2.9zM1134.1 431.9l3.4-2.9l0.6 2.7l-3.4 2.9zM1145.3 422.5l3.4-2.9l0.6 2.7l-3.4 2.9zM1117.7 447.9l3.4-2.9l0.5 2.6l-3.4 2.8zM1134.5 433.8l3.4-2.9l0.6 2.7l-3.4 2.8zM1168.5 407.5l3.4-2.8l0.9 2.6l-3.4 2.8zM1133.3 451.9l3.4-2.8l1.8 2.0l-3.4 2.8zM1218.9 394.1l3.4-2.8l1.9 2.1l-3.4 2.8zM1155.2 449.0l3.4-2.8l1.8 2.0l-3.4 2.8zM1210.1 411.8l3.4-2.8l1.8 2.2l-3.4 2.8zM1214.0 416.5l3.4-2.8l1.8 2.2l-3.4 2.8zM1118.5 496.1l3.4-2.8l1.7 2.0l-3.4 2.8zM1158.4 464.0l3.4-2.8l1.8 2.1l-3.4 2.8zM1184.0 443.3l3.4-2.8l1.8 2.1l-3.4 2.8zM1209.6 422.6l3.4-2.8l1.8 2.2l-3.4 2.8zM1218.2 415.8l3.4-2.8l1.8 2.2l-3.4 2.8zM1216.6 419.6l3.4-2.8l1.8 2.2l-3.5 2.8zM1179.3 454.7l3.5-2.8l1.8 2.1l-3.5 2.8zM1192.0 447.1l3.5-2.8l1.8 2.1l-3.5 2.8zM1156.1 478.3l3.5-2.8l1.7 2.1l-3.5 2.8zM1094.3 529.9l3.5-2.8l1.7 2.0l-3.5 2.7zM1214.5 434.2l3.5-2.8l1.8 2.2l-3.5 2.7zM1220.3 429.7l3.5-2.8l1.8 2.2l-3.5 2.7zM1155.7 483.5l3.5-2.8l1.7 2.1l-3.5 2.7zM1227.3 426.7l3.5-2.8l1.8 2.2l-3.5 2.7zM1096.7 532.7l3.5-2.7l1.7 2.0l-3.5 2.7zM1237.2 421.4l3.5-2.7l1.8 2.2l-3.5 2.7zM1149.6 493.3l3.5-2.7l1.7 2.1l-3.5 2.7zM1212.7 443.4l3.5-2.7l1.8 2.2l-3.5 2.7zM1199.6 456.3l3.5-2.7l1.8 2.1l-3.5 2.7zM1214.0 445.0l3.5-2.7l1.8 2.2l-3.5 2.7zM1225.4 435.9l3.5-2.7l1.8 2.2l-3.5 2.7zM1228.3 433.6l3.5-2.7l1.8 2.2l-3.5 2.7zM1231.2 431.4l3.5-2.7l1.8 2.2l-3.5 2.7zM1106.0 532.4l3.5-2.7l1.7 1.9l-3.5 2.7zM1218.1 444.2l3.5-2.7l1.9 2.1l-3.5 2.7zM1164.8 488.7l3.5-2.7l1.8 2.0l-3.5 2.7zM1210.8 452.5l3.5-2.7l1.9 2.1l-3.5 2.7zM1206.4 458.5l3.5-2.7l1.9 2.1l-3.5 2.7zM1212.1 454.0l3.5-2.7l1.9 2.1l-3.5 2.7zM1149.8 510.2l3.5-2.7l1.8 2.0l-3.5 2.7zM1205.9 469.0l3.5-2.7l1.9 2.1l-3.5 2.7zM1172.3 502.4l3.5-2.7l1.8 2.0l-3.5 2.7zM1167.4 513.4l3.5-2.7l1.8 2.0l-3.5 2.7zM1117.7 556.2l3.5-2.7l1.7 1.9l-3.5 2.7zM1168.1 524.9l3.5-2.7l1.8 2.0l-3.5 2.7zM1172.3 545.4l3.6-2.6l1.8 1.9l-3.6 2.6z"/>
<path fill="#004dff" d="M1049.6 427.8l3.3-3.0l0.6 2.5l-3.3 3.0zM1059.2 467.4l3.3-2.9l0.6 2.5l-3.3 2.9zM1066.1 502.9l3.4-2.8l1.7 1.9l-3.4 2.8zM1082.0 520.8l3.4-2.8l1.7 2.0l-3.4 2.8zM1093.9 535.0l3.5-2.7l1.7 2.0l-3.5 2.7zM1095.0 536.4l3.5-2.7l1.7 2.0l-3.5 2.7zM1208.2 449.5l3.5-2.7l1.8 2.2l-3.5 2.7z"/>
<path fill="#00b2ff" d="M1050.0 429.7l3.3-3.0l0.6 2.5l-3.3 3.0zM1053.5 430.8l3.3-3.0l0.6 2.5l-3.3 3.0zM1052.5 440.5l3.3-3.0l0.6 2.5l-3.3 3.0zM1162.3 394.4l3.4-2.9l0.6 2.7l-3.4 2.9zM1167.8 389.6l3.4-2.9l0.6 2.7l-3.4 2.9zM1165.5 393.9l3.4-2.9l0.6 2.7l-3.4 2.9zM1140.8 417.2l3.4-2.9l0.6 2.7l-3.4 2.9zM1137.8 440.5l3.4-2.8l1.8 2.0l-3.4 2.8zM1079.6 518.0l3.4-2.8l1.7 2.0l-3.4 2.8zM1214.3 411.1l3.4-2.8l1.8 2.2l-3.4 2.8zM1218.4 410.3l3.4-2.8l1.8 2.2l-3.4 2.8zM1194.1 432.6l3.4-2.8l1.8 2.2l-3.4 2.8zM1189.7 438.7l3.4-2.8l1.8 2.1l-3.4 2.8zM1201.1 429.5l3.4-2.8l1.8 2.2l-3.4 2.8zM1199.2 438.7l3.5-2.8l1.8 2.2l-3.5 2.8zM1215.5 441.2l3.5-2.7l1.8 2.2l-3.5 2.7zM1197.8 465.3l3.5-2.7l1.9 2.1l-3.5 2.7zM1171.9 507.5l3.5-2.7l1.8 2.0l-3.5 2.7z"/>
<path fill="#0000f3" d="M1050.4 431.5l3.3-3.0l0.6 2.5l-3.3 3.0zM1058.3 463.8l3.3-2.9l0.6 2.5l-3.3 2.9zM1087.9 527.9l3.5-2.8l1.7 2.0l-3.5 2.8zM1092.7 533.6l3.5-2.8l1.7 2.0l-3.5 2.7z"/>
<path fill="#0066ff" d="M1050.8 433.3l3.3-3.0l0.6 2.5l-3.3 3.0zM1064.3 490.9l3.4-2.9l0.5 2.6l-3.4 2.9zM1064.9 494.5l3.4-2.8l0.7 2.4l-3.4 2.8zM1123.7 445.1l3.4-2.8l0.8 2.5l-3.4 2.8zM1068.6 505.6l3.4-2.8l1.7 1.9l-3.4 2.8zM1071.4 503.3l3.4-2.8l1.7 1.9l-3.4 2.8zM1081.3 514.3l3.4-2.8l1.7 2.0l-3.4 2.8zM1086.7 526.5l3.5-2.8l1.7 2.0l-3.5 2.8z"/>
<path fill="#00ccff" d="M1052.0 438.7l3.3-3.0l0.6 2.5l-3.3 3.0zM1052.9 442.3l3.3-3.0l0.6 2.5l-3.3 2.9zM1061.1 461.4l3.3-2.9l0.6 2.5l-3.3 2.9zM1169.1 369.5l3.3-2.9l0.8 2.7l-3.3 2.9zM1173.5 372.9l3.3-2.9l0.8 2.7l-3.4 2.9zM1189.1 366.7l3.4-2.9l0.7 2.7l-3.4 2.9zM1062.6 481.8l3.4-2.9l0.5 2.6l-3.4 2.9zM1150.0 413.9l3.4-2.9l0.6 2.7l-3.4 2.9zM1123.3 443.2l3.4-2.9l0.6 2.6l-3.4 2.8zM1199.3 381.6l3.4-2.8l0.9 2.6l-3.4 2.8zM1133.7 441.4l3.4-2.8l1.8 2.0l-3.4 2.8zM1132.2 445.2l3.4-2.8l1.8 2.0l-3.4 2.8zM1135.0 442.9l3.4-2.8l1.8 2.0l-3.4 2.8zM1146.0 438.8l3.4-2.8l1.8 2.0l-3.4 2.8zM1074.7 512.5l3.4-2.8l1.7 1.9l-3.4 2.8zM1139.8 459.1l3.4-2.8l1.8 2.0l-3.4 2.8zM1206.1 407.2l3.4-2.8l1.9 2.1l-3.4 2.8zM1153.4 458.0l3.4-2.8l1.8 2.1l-3.4 2.8zM1193.1 425.7l3.4-2.8l1.8 2.2l-3.4 2.8zM1157.5 457.2l3.4-2.8l1.8 2.1l-3.4 2.8zM1168.8 448.0l3.4-2.8l1.8 2.1l-3.4 2.8zM1133.2 479.4l3.4-2.8l1.7 2.1l-3.4 2.8zM1137.2 478.6l3.4-2.8l1.7 2.1l-3.4 2.8zM1148.6 469.4l3.4-2.8l1.7 2.1l-3.4 2.8zM1197.0 430.3l3.4-2.8l1.8 2.2l-3.4 2.8zM1222.6 409.6l3.4-2.8l1.8 2.2l-3.4 2.8zM1087.2 521.4l3.4-2.8l1.7 2.0l-3.4 2.8zM1198.2 431.8l3.4-2.8l1.8 2.2l-3.4 2.8zM1203.4 438.0l3.5-2.8l1.8 2.2l-3.5 2.8zM1187.2 458.5l3.5-2.8l1.8 2.1l-3.5 2.7zM1195.5 457.0l3.5-2.7l1.8 2.1l-3.5 2.7zM1209.8 445.7l3.5-2.7l1.8 2.2l-3.5 2.7zM1205.3 451.8l3.5-2.7l1.8 2.1l-3.5 2.7zM1194.9 467.6l3.5-2.7l1.9 2.1l-3.5 2.7zM1209.3 456.3l3.5-2.7l1.9 2.1l-3.5 2.7zM1210.6 457.8l3.5-2.7l1.9 2.1l-3.5 2.7z"/>
<path fill="#ff5000" d="M1118.3 383.7l3.3-3.0l0.7 2.6l-3.3 2.9zM1077.1 431.8l3.3-2.9l0.7 2.6l-3.3 2.9zM1188.9 477.2l3.5-2.7l1.8 2.1l-3.5 2.7zM1193.8 488.2l3.5-2.7l1.8 2.0l-3.5 2.7zM1196.5 491.2l3.5-2.7l1.8 2.0l-3.5 2.7z"/>
<path fill="#29ffce" d="M1056.1 441.6l3.3-2.9l0.6 2.5l-3.3 2.9zM1058.4 450.6l3.3-2.9l0.6 2.5l-3.3 2.9zM1100.4 418.0l3.3-2.9l0.7 2.6l-3.3 2.9zM1152.0 382.0l3.3-2.9l0.8 2.7l-3.3 2.9zM1158.6 381.0l3.3-2.9l0.8 2.7l-3.3 2.9zM1164.1 376.2l3.3-2.9l0.8 2.7l-3.3 2.9zM1061.1 474.6l3.4-2.9l0.6 2.5l-3.4 2.9zM1064.3 474.0l3.4-2.9l0.5 2.5l-3.4 2.9zM1120.2 428.2l3.4-2.9l0.6 2.6l-3.4 2.9zM1125.7 423.4l3.4-2.9l0.6 2.6l-3.4 2.9zM1156.7 399.1l3.4-2.9l0.6 2.7l-3.4 2.9zM1192.8 368.2l3.4-2.9l0.6 2.7l-3.4 2.9zM1171.0 389.2l3.4-2.9l0.6 2.7l-3.4 2.9zM1062.9 483.6l3.4-2.9l0.5 2.6l-3.4 2.9zM1138.9 423.4l3.4-2.9l0.6 2.7l-3.4 2.9zM1189.1 380.8l3.4-2.9l0.6 2.7l-3.4 2.9zM1191.9 378.4l3.4-2.9l0.6 2.7l-3.4 2.9zM1197.4 373.7l3.4-2.9l0.6 2.8l-3.4 2.9zM1130.9 432.4l3.4-2.9l0.6 2.7l-3.4 2.9zM1133.7 430.0l3.4-2.9l0.6 2.7l-3.4 2.9zM1136.5 427.6l3.4-2.9l0.6 2.7l-3.4 2.9zM1183.9 387.5l3.4-2.9l0.6 2.7l-3.4 2.9zM1195.1 378.0l3.4-2.9l0.6 2.8l-3.4 2.9zM1197.9 375.7l3.4-2.9l0.6 2.8l-3.4 2.9zM1142.5 424.8l3.4-2.9l0.6 2.7l-3.4 2.9zM1181.6 391.8l3.4-2.9l0.6 2.7l-3.4 2.9zM1126.1 440.9l3.4-2.9l0.6 2.6l-3.4 2.8zM1131.7 436.2l3.4-2.9l0.6 2.7l-3.4 2.8zM1137.3 431.4l3.4-2.9l0.6 2.7l-3.4 2.8zM1151.3 419.7l3.4-2.9l0.6 2.7l-3.4 2.8zM1159.7 412.6l3.4-2.9l0.6 2.7l-3.4 2.8zM1176.5 398.4l3.4-2.9l0.6 2.7l-3.4 2.8zM1160.1 414.5l3.4-2.8l0.9 2.6l-3.4 2.8zM1129.7 442.3l3.4-2.8l1.7 2.1l-3.4 2.8zM1140.9 432.9l3.4-2.8l1.7 2.1l-3.4 2.8zM1180.1 400.0l3.4-2.8l1.8 2.2l-3.4 2.8zM1196.9 385.9l3.4-2.8l1.8 2.2l-3.4 2.8zM1066.4 497.8l3.4-2.8l1.7 1.9l-3.4 2.8zM1129.4 447.6l3.4-2.8l1.8 2.0l-3.4 2.8zM1175.5 416.9l3.4-2.8l1.9 2.1l-3.4 2.8zM1075.1 507.4l3.4-2.8l1.7 1.9l-3.4 2.8zM1137.2 456.2l3.4-2.8l1.8 2.0l-3.4 2.8zM1076.3 508.8l3.4-2.8l1.7 1.9l-3.4 2.8zM1117.1 477.7l3.4-2.8l1.8 2.0l-3.4 2.8zM1129.7 469.8l3.4-2.8l1.8 2.0l-3.4 2.8zM1132.6 467.5l3.4-2.8l1.8 2.0l-3.4 2.8zM1082.9 510.6l3.4-2.8l1.7 2.0l-3.4 2.8zM1142.4 462.0l3.4-2.8l1.8 2.0l-3.4 2.8zM1170.7 438.8l3.4-2.8l1.8 2.1l-3.4 2.8zM1149.0 464.1l3.4-2.8l1.7 2.1l-3.4 2.8zM1187.2 435.7l3.4-2.8l1.8 2.1l-3.4 2.8zM1190.0 433.4l3.4-2.8l1.8 2.2l-3.4 2.8zM1212.7 414.9l3.4-2.8l1.8 2.2l-3.4 2.8zM1171.4 451.0l3.4-2.8l1.8 2.1l-3.4 2.8zM1182.7 441.8l3.4-2.8l1.8 2.1l-3.4 2.8zM1205.5 423.4l3.4-2.8l1.8 2.2l-3.4 2.8zM1149.9 470.9l3.4-2.8l1.7 2.1l-3.4 2.8zM1164.1 459.4l3.4-2.8l1.8 2.1l-3.4 2.8zM1181.2 445.6l3.4-2.8l1.8 2.1l-3.4 2.8zM1229.6 406.6l3.4-2.8l1.8 2.2l-3.4 2.8zM1088.4 522.8l3.4-2.8l1.7 2.0l-3.5 2.8zM1162.5 463.2l3.4-2.8l1.8 2.1l-3.5 2.8zM1185.3 444.8l3.4-2.8l1.8 2.1l-3.5 2.8zM1202.4 431.1l3.4-2.8l1.8 2.2l-3.5 2.8zM1205.2 428.8l3.4-2.8l1.8 2.2l-3.5 2.8zM1225.2 412.7l3.4-2.8l1.8 2.2l-3.5 2.8zM1152.3 473.8l3.5-2.8l1.7 2.1l-3.5 2.8zM1203.7 432.6l3.5-2.8l1.8 2.2l-3.5 2.8zM1090.8 525.6l3.5-2.8l1.7 2.0l-3.5 2.8zM1210.7 429.6l3.5-2.8l1.8 2.2l-3.5 2.8zM1227.8 415.9l3.5-2.8l1.8 2.2l-3.5 2.8zM1152.0 479.1l3.5-2.8l1.7 2.1l-3.5 2.8zM1220.5 424.3l3.5-2.8l1.8 2.2l-3.5 2.8zM1229.1 417.4l3.5-2.8l1.8 2.2l-3.5 2.8zM1232.0 415.2l3.5-2.8l1.8 2.2l-3.5 2.8zM1210.4 435.0l3.5-2.8l1.8 2.2l-3.5 2.8zM1221.8 425.8l3.5-2.8l1.8 2.2l-3.5 2.8zM1230.4 419.0l3.5-2.8l1.8 2.2l-3.5 2.8zM1239.0 412.2l3.5-2.8l1.8 2.2l-3.5 2.8zM1206.0 441.1l3.5-2.8l1.8 2.2l-3.5 2.7zM1217.4 432.0l3.5-2.8l1.8 2.2l-3.5 2.7zM1234.6 418.3l3.5-2.8l1.8 2.2l-3.5 2.7zM1237.4 416.0l3.5-2.8l1.8 2.2l-3.5 2.7zM1240.3 413.7l3.5-2.8l1.8 2.2l-3.5 2.7zM1158.5 481.3l3.5-2.8l1.7 2.1l-3.5 2.7zM1204.4 444.9l3.5-2.8l1.8 2.2l-3.5 2.7zM1238.7 417.6l3.5-2.8l1.8 2.2l-3.5 2.7zM1208.5 444.1l3.5-2.7l1.8 2.2l-3.5 2.7zM1234.3 423.7l3.5-2.7l1.8 2.2l-3.5 2.7zM1097.9 534.1l3.5-2.7l1.7 2.0l-3.5 2.7zM1172.5 475.2l3.5-2.7l1.8 2.1l-3.5 2.7zM1192.6 459.3l3.5-2.7l1.8 2.1l-3.5 2.7zM1232.8 427.5l3.5-2.7l1.8 2.2l-3.5 2.7zM1104.8 531.0l3.5-2.7l1.7 2.0l-3.5 2.7zM1124.9 515.2l3.5-2.7l1.7 2.0l-3.5 2.7zM1216.8 442.7l3.5-2.7l1.8 2.2l-3.5 2.7zM1222.6 438.2l3.5-2.7l1.8 2.2l-3.5 2.7zM1195.1 462.3l3.5-2.7l1.8 2.1l-3.5 2.7zM1221.0 442.0l3.5-2.7l1.9 2.1l-3.5 2.7zM1226.7 437.5l3.5-2.7l1.9 2.1l-3.5 2.7zM1235.4 430.7l3.5-2.7l1.9 2.1l-3.5 2.7zM1213.7 450.3l3.5-2.7l1.9 2.1l-3.5 2.7zM1216.6 448.0l3.5-2.7l1.9 2.1l-3.5 2.7zM1219.4 445.8l3.5-2.7l1.9 2.1l-3.5 2.7zM1225.2 441.2l3.5-2.7l1.9 2.1l-3.5 2.7zM1228.1 439.0l3.5-2.7l1.9 2.1l-3.5 2.7zM1131.5 517.2l3.5-2.7l1.8 2.0l-3.5 2.7zM1200.6 463.0l3.5-2.7l1.9 2.1l-3.5 2.7zM1135.7 516.3l3.5-2.7l1.8 2.0l-3.5 2.7zM1207.7 460.0l3.5-2.7l1.9 2.1l-3.5 2.7zM1207.5 465.2l3.5-2.7l1.9 2.1l-3.5 2.7zM1168.4 498.1l3.5-2.7l1.8 2.0l-3.5 2.7zM1204.4 472.7l3.5-2.7l1.9 2.1l-3.5 2.7zM1205.7 474.1l3.5-2.7l1.9 2.1l-3.5 2.7zM1158.7 520.1l3.5-2.7l1.8 2.0l-3.5 2.7zM1165.1 527.1l3.5-2.7l1.8 2.0l-3.5 2.7zM1176.6 544.7l3.6-2.6l1.3 1.4l-3.6 2.6z"/>
<path fill="#0000ff" d="M1053.8 445.9l3.3-2.9l0.6 2.5l-3.3 2.9zM1089.1 529.3l3.5-2.8l1.7 2.0l-3.5 2.8z"/>
<path fill="#0000d6" d="M1057.0 458.4l3.3-2.9l0.6 2.5l-3.3 2.9zM1067.3 504.2l3.4-2.8l1.7 1.9l-3.4 2.8zM1076.0 513.8l3.4-2.8l1.7 1.9l-3.4 2.8z"/>
<path fill="#0080ff" d="M1061.9 478.2l3.4-2.9l0.5 2.6l-3.4 2.9zM1128.9 438.5l3.4-2.9l0.6 2.6l-3.4 2.8zM1165.3 407.9l3.4-2.9l0.6 2.7l-3.4 2.8zM1166.1 411.7l3.4-2.8l1.8 2.1l-3.4 2.8zM1071.0 508.3l3.4-2.8l1.7 1.9l-3.4 2.8zM1195.4 434.1l3.4-2.8l1.8 2.2l-3.4 2.8zM1212.5 420.4l3.4-2.8l1.8 2.2l-3.4 2.8zM1226.7 408.9l3.4-2.8l1.8 2.2l-3.4 2.8zM1151.6 484.3l3.5-2.8l1.7 2.1l-3.5 2.7zM1206.2 463.8l3.5-2.7l1.9 2.1l-3.5 2.7z"/>
<path fill="#808080" d="M1062.2 480.0l3.4-2.9l0.5 2.6l-3.4 2.9zM1078.4 516.6l3.4-2.8l1.7 2.0l-3.4 2.8z"/>
<path fill="#0033ff" d="M1072.3 509.7l3.4-2.8l1.7 1.9l-3.4 2.8zM1085.6 525.1l3.4-2.8l1.7 2.0l-3.5 2.8z"/>
<path fill="#0019ff" d="M1077.2 515.2l3.4-2.8l1.7 1.9l-3.4 2.8z"/>
<path fill="#000080" d="M1080.8 519.4l3.4-2.8l1.7 2.0l-3.4 2.8z"/>
<path fill="#0000b9" d="M1084.4 523.7l3.4-2.8l1.7 2.0l-3.4 2.8z"/>
<path fill="#00009c" d="M1091.5 532.2l3.5-2.8l1.7 2.0l-3.5 2.7z"/>
<path fill="#20b0ff" d="M1045.3 424.3L1047.0 422.7L1049.9 425.9L1048.2 427.4Z"/>
<path fill="#0040ff" d="M1047.9 426.6L1050.4 424.3L1053.3 427.4L1050.8 429.8ZM1055.3 457.8L1057.9 455.5L1060.7 458.7L1058.1 461.0ZM1062.4 489.0L1065.1 486.7L1067.9 490.0L1065.2 492.3Z"/>
<path fill="#0000c0" d="M1049.6 434.4L1052.2 432.1L1055.1 435.3L1052.5 437.6ZM1057.2 465.6L1059.9 463.2L1062.7 466.5L1060.1 468.8ZM1063.9 496.9L1066.6 494.6L1069.3 497.9L1066.7 500.2Z"/>
<path fill="#0020ff" d="M1050.9 438.0L1053.8 435.3L1056.7 438.5L1053.7 441.2ZM1054.7 453.6L1057.7 450.9L1060.5 454.1L1057.5 456.8ZM1060.6 476.9L1063.6 474.3L1066.4 477.5L1063.4 480.1Z"/>
<path fill="#0080ff" d="M1051.4 442.2L1054.0 439.9L1056.9 443.1L1054.3 445.4ZM1059.2 473.3L1061.8 471.0L1064.7 474.3L1062.0 476.6ZM1068.9 503.0L1071.6 500.8L1074.3 504.1L1071.6 506.3Z"/>
<path fill="#0000d8" d="M1050.7 447.7L1055.0 443.8L1057.9 447.0L1053.5 450.9Z"/>
<path fill="#0010e0" d="M1053.4 450.0L1056.0 447.7L1058.8 450.9L1056.2 453.2ZM1061.0 481.1L1063.6 478.8L1066.4 482.1L1063.8 484.4Z"/>
<path fill="#808080" d="M1047.0 432.1L1051.3 428.2L1054.2 431.4L1049.9 435.3ZM1048.8 439.9L1053.1 436.0L1056.0 439.2L1051.7 443.1ZM1052.6 455.4L1056.9 451.6L1059.8 454.8L1055.4 458.6ZM1054.5 463.2L1058.9 459.4L1061.7 462.6L1057.4 466.4ZM1056.5 470.9L1060.9 467.1L1063.7 470.4L1059.3 474.2ZM1058.4 478.7L1062.8 474.9L1065.6 478.2L1061.2 482.0ZM1060.0 486.6L1064.4 482.8L1067.2 486.1L1062.7 489.8ZM1061.4 494.4L1065.8 490.7L1068.6 494.0L1064.2 497.7ZM1064.4 501.5L1068.9 497.8L1071.7 501.1L1067.2 504.8Z"/>
</g>
<g fill="none" stroke="#a9a9a9" stroke-width="4.17" stroke-linejoin="round" stroke-linecap="butt">
<path d="M704.4 780.0L703.1 775.0L706.9 770.6L705.0 766.2L705.6 760.0L707.5 756.9L701.9 751.9L693.1 742.2L696.9 738.8L710.0 733.1L712.2 727.5L712.8 718.8L708.8 711.2L710.6 706.9L709.4 703.8L712.8 701.2L720.0 699.4L721.2 696.2L728.1 692.5L732.5 688.1L733.8 685.0L731.0 677.5L731.9 674.4L738.1 669.4L739.0 665.6L741.9 662.5L746.9 659.4L748.8 651.9L751.2 648.1L755.0 643.8L757.5 638.8L752.2 632.2L756.0 632.8L761.2 635.6L766.2 637.5L770.0 636.2L778.8 627.5L786.2 621.5L791.9 618.1L796.2 619.0L798.1 622.5L801.2 623.5L810.0 623.1L817.5 621.5L823.8 620.6L826.9 618.8L826.9 615.6L830.0 616.2L835.0 618.5L838.1 619.0L845.6 618.1L848.8 621.0L853.1 622.2L856.2 624.4L860.0 624.4L865.0 622.8L870.0 621.5L876.2 621.9L882.5 624.0L886.2 626.9L886.9 630.0L886.0 637.5L885.0 642.5L884.4 646.5L881.5 648.1L880.0 651.9L877.5 654.4L876.9 660.0L876.0 665.0L876.5 671.2L878.1 677.5L881.2 683.1L883.8 688.1L888.1 689.0L889.4 692.5L884.4 696.9L881.0 698.8L881.9 706.2L883.8 714.4L886.2 716.9L890.0 722.5L895.0 727.5L900.6 733.1L901.5 736.9L905.0 739.4L906.0 741.9L908.5 740.0L910.0 742.5L911.9 744.4L912.8 740.6L915.0 739.4L916.2 742.5L912.8 739.4L916.2 740.6L921.9 737.2L923.1 742.5L926.2 750.0L927.5 753.1L930.6 751.9L932.5 755.0L932.5 758.1L939.4 756.0L942.2 753.1L938.8 750.0L938.1 746.2L938.8 743.1L936.9 740.6L940.0 735.2L944.4 728.5L944.0 723.1L943.8 718.1L947.5 720.0L950.6 720.0L950.0 724.0L956.2 721.9L960.6 718.8L962.5 714.8L961.5 709.0L956.9 704.8L953.1 701.2L951.9 692.5L953.1 686.9L955.6 681.2L956.9 685.6L960.6 686.5L964.4 686.9L964.0 691.2L967.5 691.9L976.2 689.4L980.6 690.0L983.1 683.8L985.6 681.5L989.8 681.9L988.8 685.2L995.6 685.6L1001.2 688.8L1006.2 689.8L1011.9 690.6L1014.4 694.4L1017.5 696.2L1018.8 700.0L1024.4 704.4L1026.2 708.8L1030.0 715.0L1033.1 720.0L1035.6 722.5L1040.0 723.8L1040.0 727.5L1042.5 730.6L1047.5 732.5L1043.8 736.9L1040.0 740.0L1043.8 740.6L1041.9 745.0L1041.5 748.8L1039.8 751.9L1041.9 755.6L1043.8 757.5L1044.0 763.1L1042.5 767.8L1046.9 768.1L1053.1 763.8L1052.5 760.0L1056.2 757.2L1065.6 754.0L1066.2 761.9L1065.0 766.9L1062.5 770.0L1059.4 771.9L1059.4 775.6L1062.5 781.9L1064.4 785.6L1062.2 788.1L1063.8 791.9L1070.6 794.4L1066.2 796.9L1064.4 800.0L1065.6 802.5L1061.2 803.8L1059.4 808.8L1056.2 813.8L1063.1 817.8L1058.8 820.0L1057.8 823.8L1053.1 826.2L1052.8 830.0L1055.6 838.1L1056.0 846.9L1058.1 851.9L1062.5 855.0L1071.2 856.9L1082.5 858.5L1086.9 860.0L1091.2 864.4L1095.6 867.5L1103.1 870.0L1106.2 873.1L1110.6 880.0L1113.8 887.5L1117.5 892.5L1119.0 897.5L1118.1 901.9L1119.4 907.5L1118.8 913.1L1120.6 918.1L1119.8 922.5L1116.2 923.8L1113.8 920.6L1113.8 915.0L1112.5 911.9L1115.0 910.0L1116.0 906.2L1115.6 901.2L1113.1 896.9L1108.8 893.8L1103.8 893.5L1104.4 886.9L1101.2 880.6L1097.5 875.6L1093.1 873.8L1087.5 874.0L1080.0 876.9L1073.8 876.0L1063.8 874.0L1053.8 870.0L1045.0 866.5L1040.0 862.5L1036.2 858.1L1036.9 855.0L1033.8 852.5L1030.6 846.9L1029.4 840.0L1028.8 835.0L1025.6 831.9L1026.9 827.5L1028.8 821.9L1029.4 817.8L1025.0 817.8L1021.9 821.2L1016.9 822.8L1014.0 820.0L1016.2 816.9L1015.0 813.8L1007.5 811.5L1003.8 813.1L997.5 813.8L993.1 816.9L985.0 820.6L978.8 824.4L972.5 826.0L968.1 825.6L963.8 823.8L966.9 830.0L968.8 839.4L965.6 841.9L960.0 844.4L963.1 850.6L960.0 853.8L958.5 859.4L953.8 866.2L953.5 869.4L957.5 873.1L960.2 876.2L967.2 869.4L971.2 874.4L973.8 879.4L970.6 888.1L970.0 896.9L967.5 900.6L963.8 904.4L958.8 909.4L952.5 920.0L949.8 927.5L950.0 931.2L953.5 933.1L952.5 938.8L947.5 945.0L945.0 950.6L944.4 955.6L942.5 959.4L939.4 959.8L936.9 956.9L934.0 956.9L933.1 964.0L929.4 963.8L928.1 960.2L925.0 959.8L916.9 963.1L913.5 962.8L912.5 958.8L907.5 962.8L899.4 965.6L890.6 969.8L887.8 973.1L885.6 971.0L881.5 970.6L879.0 962.8L875.6 963.8L873.1 967.5L870.0 969.4L866.2 968.1L865.0 964.0L862.5 966.2L857.5 966.9L851.9 965.0L845.6 960.6L844.4 954.0L839.4 953.8L831.2 950.2L823.8 949.0L818.8 949.8L813.1 948.8L810.6 949.4L803.1 954.8L801.0 951.9L801.2 945.0L797.8 942.5L797.5 935.6L793.1 934.8L789.4 937.2L781.2 936.5L773.8 934.0L763.8 932.2L761.9 929.4L754.4 928.8L751.9 926.0L748.1 925.2L745.0 926.9L740.0 925.6L735.0 923.1L731.2 919.4L729.1 913.8L729.4 910.6L733.1 907.5L734.8 899.4L733.8 895.0L735.2 889.4L735.0 885.6L731.9 883.1L726.9 882.2L725.6 870.0L724.0 864.0L727.5 861.2L731.9 858.1L738.1 856.5L741.2 858.1L746.0 859.8L749.4 858.1L747.5 855.0L750.6 854.0L757.5 854.0L760.0 852.5L761.2 848.1L758.1 844.8L750.6 844.4L743.8 842.8L735.6 842.5L732.5 836.2L729.4 831.9L721.9 830.6L718.1 828.8L712.8 823.5L708.8 821.2L706.0 818.1L706.0 813.8L703.8 808.1L703.8 803.8L700.0 800.6L694.4 799.8L700.6 796.9L703.1 794.4L704.4 790.0L703.1 786.2L704.8 780.0L703.8 775.0Z"/>
<path d="M942.8 689.8L945.8 692.5L946.4 698.8L945.4 703.5L942.4 703.8L941.1 698.8L941.4 692.5Z"/>
<path d="M1031.6 702.0L1033.8 701.3L1033.5 707.2L1032.8 709.6L1031.9 706.5Z"/>
<path d="M1036.3 711.3L1039.8 710.2L1040.4 717.0L1043.5 719.7L1036.7 720.2L1035.4 716.3Z"/>
<path d="M1068.6 759.5L1071.5 757.3L1073.6 756.6L1074.9 758.5L1074.2 768.5L1075.2 772.3L1069.8 775.0L1069.3 768.5Z"/>
<path d="M982.8 831.9L986.0 828.1L991.2 827.8L990.1 832.5L993.4 837.0L989.4 837.4Z"/>
<path d="M973.8 842.5L978.1 840.6L982.5 842.5L983.8 848.8L988.8 856.2L993.1 863.1L991.9 867.5L987.5 868.8L981.2 865.0L974.4 857.5L973.1 850.0Z"/>
<path d="M1066.7 844.2L1065.9 839.1L1067.8 835.5L1071.1 834.4L1074.6 836.2L1076.2 840.5L1074.6 844.7L1080.9 847.3L1089.4 850.1L1093.9 854.1L1093.9 857.1L1085.6 857.8L1076.2 856.4L1067.8 854.5L1063.1 851.7L1061.7 845.6L1063.1 840.5Z"/>
<path d="M852.1 320.8L857.1 329.2L862.5 324.6L865.0 328.3L865.8 333.3L862.1 341.7L858.3 348.8L855.4 351.7L859.2 356.2L853.3 357.1L850.4 359.2L847.1 362.1L846.2 370.8L843.8 380.4L837.5 387.5L835.8 389.2L830.0 390.4L823.8 388.3L815.8 389.2L814.2 385.4L815.8 377.9L819.2 371.7L823.3 365.0L827.5 362.1L833.3 355.4L838.3 349.2L842.1 343.3L844.2 335.8L847.1 332.5L847.3 326.7Z"/>
<path d="M865.8 285.0L865.8 300.0L860.0 305.0L860.0 308.8L869.6 312.5L872.5 318.3L869.6 325.4L867.9 328.3L870.8 328.8L873.8 331.7L879.6 327.1L886.7 311.2L886.2 306.2L887.9 302.9L895.0 302.9L896.7 298.3L898.3 285.0"/>
<path d="M664.6 390.8L671.7 401.7L672.1 406.7L675.4 414.2L671.7 414.6L670.8 422.1L665.0 425.0L655.4 419.6L650.4 414.6L641.2 409.6L638.8 405.4L643.3 403.3L652.5 402.5L659.6 393.3Z"/>
<path d="M648.3 360.8L642.1 373.3L640.4 383.3L629.2 383.8L625.4 385.0L623.8 376.7"/>
<path d="M621.2 377.5L620.0 394.6L607.5 398.3L600.0 402.1L590.0 405.0"/>
<path d="M1245.0 883.8L1232.5 888.1L1218.8 896.9L1214.4 902.8L1210.0 906.2L1207.5 910.6L1208.8 917.5L1212.5 919.4L1207.5 920.6L1205.6 925.6L1209.4 930.6L1215.0 923.8L1223.1 919.4L1236.2 918.8L1240.0 918.1L1238.8 911.2L1233.1 905.6L1228.1 900.0L1236.2 892.5Z"/>
<path d="M1402.5 933.8L1379.4 931.9L1373.8 926.9L1340.6 911.9L1337.5 915.6L1350.6 922.5L1346.2 927.2L1326.2 916.5L1332.5 910.0L1315.6 902.2L1308.5 893.8L1303.1 903.1L1297.5 894.4L1287.5 888.5L1271.2 885.0L1264.4 886.2L1258.8 883.1L1251.2 883.1L1236.9 895.0L1231.2 900.6L1239.4 904.4L1241.9 915.0L1237.5 923.1L1245.0 920.6L1255.0 922.5L1258.8 926.9L1260.2 933.8L1270.0 942.5L1271.9 951.9L1279.4 958.1L1283.8 952.5L1293.8 949.4L1300.6 955.0L1303.1 962.5L1300.0 968.1L1305.0 973.1L1313.1 978.1L1316.2 985.0L1316.5 993.8L1323.1 994.4L1321.9 988.1L1326.9 985.0L1337.5 988.8L1338.5 993.1L1338.1 992.5L1331.2 998.1L1329.1 1006.6L1330.0 1012.8L1335.6 1014.1L1341.9 1018.8L1348.4 1020.6L1343.1 1028.4L1340.0 1036.2L1336.6 1045.0L1335.6 1052.5L1335.0 1058.8L1333.8 1077.5"/>
<path d="M1218.1 963.1L1223.5 963.1L1225.6 965.0L1226.9 973.1L1220.0 977.5L1222.8 979.4L1222.8 982.5L1215.6 984.4L1213.1 980.0L1215.0 971.2L1219.4 970.0Z"/>
<path d="M549.8 918.0L557.3 918.4L561.2 928.8L549.8 932.5Z"/>
</g>
</g>
<circle cx="911.95" cy="791.9" r="503.85" fill="none" stroke="#000" stroke-width="4.3"/>
<text x="408" y="106" font-size="41.67" fill="#0000ff" textLength="550.3">KNMI / ACSAF / EUMETSAT</text>
<text x="408" y="177.3" font-size="37.5" fill="#000" textLength="379.8">GOME M03 O3MNAP</text>
<text x="408" y="216.6" font-size="33.33" fill="#000">Sensing Start: 2020-06-07T17:44:58 UTC</text>
<text x="912" y="263" font-size="41.67" fill="#000" text-anchor="middle">AAI [-]</text>
<g font-size="20.83" fill="#000" text-anchor="end">
<text x="1409.4" y="82.8">Plot created:</text>
<text x="1416" y="106.8">2020-06-08 00:36:50 UTC</text>
</g>
<g font-size="25" fill="#ff0000" text-anchor="end">
<text x="1416" y="188.5">Plot filter:</text>
<text x="1416" y="216.5">[AAI_Orbit]</text>
<text x="1416" y="244.5">Scat Angle &gt; 90</text>
<text x="1416" y="272.5">Sunglint visible</text>
</g>
<g stroke="#000" stroke-width="3.33" stroke-linejoin="miter">
<rect x="1435.2" y="334.1" width="38.45" height="916.9" fill="url(#jet)" stroke="none"/>
<path d="M1435.2 334.1L1454.43 288.25L1473.65 334.1Z" fill="#ff00ff" stroke="none"/>
<path d="M1435.2 1251.0L1454.43 1296.85L1473.65 1251.0Z" fill="#808080" stroke="none"/>
<path d="M1435.2 334.1L1454.43 288.25L1473.65 334.1L1473.65 1251.0L1454.43 1296.85L1435.2 1251.0Z" fill="none" stroke-miterlimit="10"/>
<line x1="1473.65" y1="334.50" x2="1489.70" y2="334.50"/><line x1="1473.65" y1="395.57" x2="1489.70" y2="395.57"/><line x1="1473.65" y1="456.63" x2="1489.70" y2="456.63"/><line x1="1473.65" y1="517.70" x2="1489.70" y2="517.70"/><line x1="1473.65" y1="578.77" x2="1489.70" y2="578.77"/><line x1="1473.65" y1="639.83" x2="1489.70" y2="639.83"/><line x1="1473.65" y1="700.90" x2="1489.70" y2="700.90"/><line x1="1473.65" y1="761.97" x2="1489.70" y2="761.97"/><line x1="1473.65" y1="823.03" x2="1489.70" y2="823.03"/><line x1="1473.65" y1="884.10" x2="1489.70" y2="884.10"/><line x1="1473.65" y1="945.17" x2="1489.70" y2="945.17"/><line x1="1473.65" y1="1006.23" x2="1489.70" y2="1006.23"/><line x1="1473.65" y1="1067.30" x2="1489.70" y2="1067.30"/><line x1="1473.65" y1="1128.37" x2="1489.70" y2="1128.37"/><line x1="1473.65" y1="1189.43" x2="1489.70" y2="1189.43"/><line x1="1473.65" y1="1250.50" x2="1489.70" y2="1250.50"/>
</g>
<g font-size="41.67" fill="#000"><text x="1503.30" y="349.20">4.0</text><text x="1503.30" y="410.27">3.5</text><text x="1503.30" y="471.33">3.0</text><text x="1503.30" y="532.40">2.5</text><text x="1503.30" y="593.47">2.0</text><text x="1503.30" y="654.53">1.5</text><text x="1503.30" y="715.60">1.0</text><text x="1503.30" y="776.67">0.5</text><text x="1503.30" y="837.73">0.0</text><text x="1503.30" y="898.80">−0.5</text><text x="1503.30" y="959.87">−1.0</text><text x="1503.30" y="1020.93">−1.5</text><text x="1503.30" y="1082.00">−2.0</text><text x="1503.30" y="1143.07">−2.5</text><text x="1503.30" y="1204.13">−3.0</text><text x="1503.30" y="1265.20">−3.5</text></g>
</svg>
</body></html>
